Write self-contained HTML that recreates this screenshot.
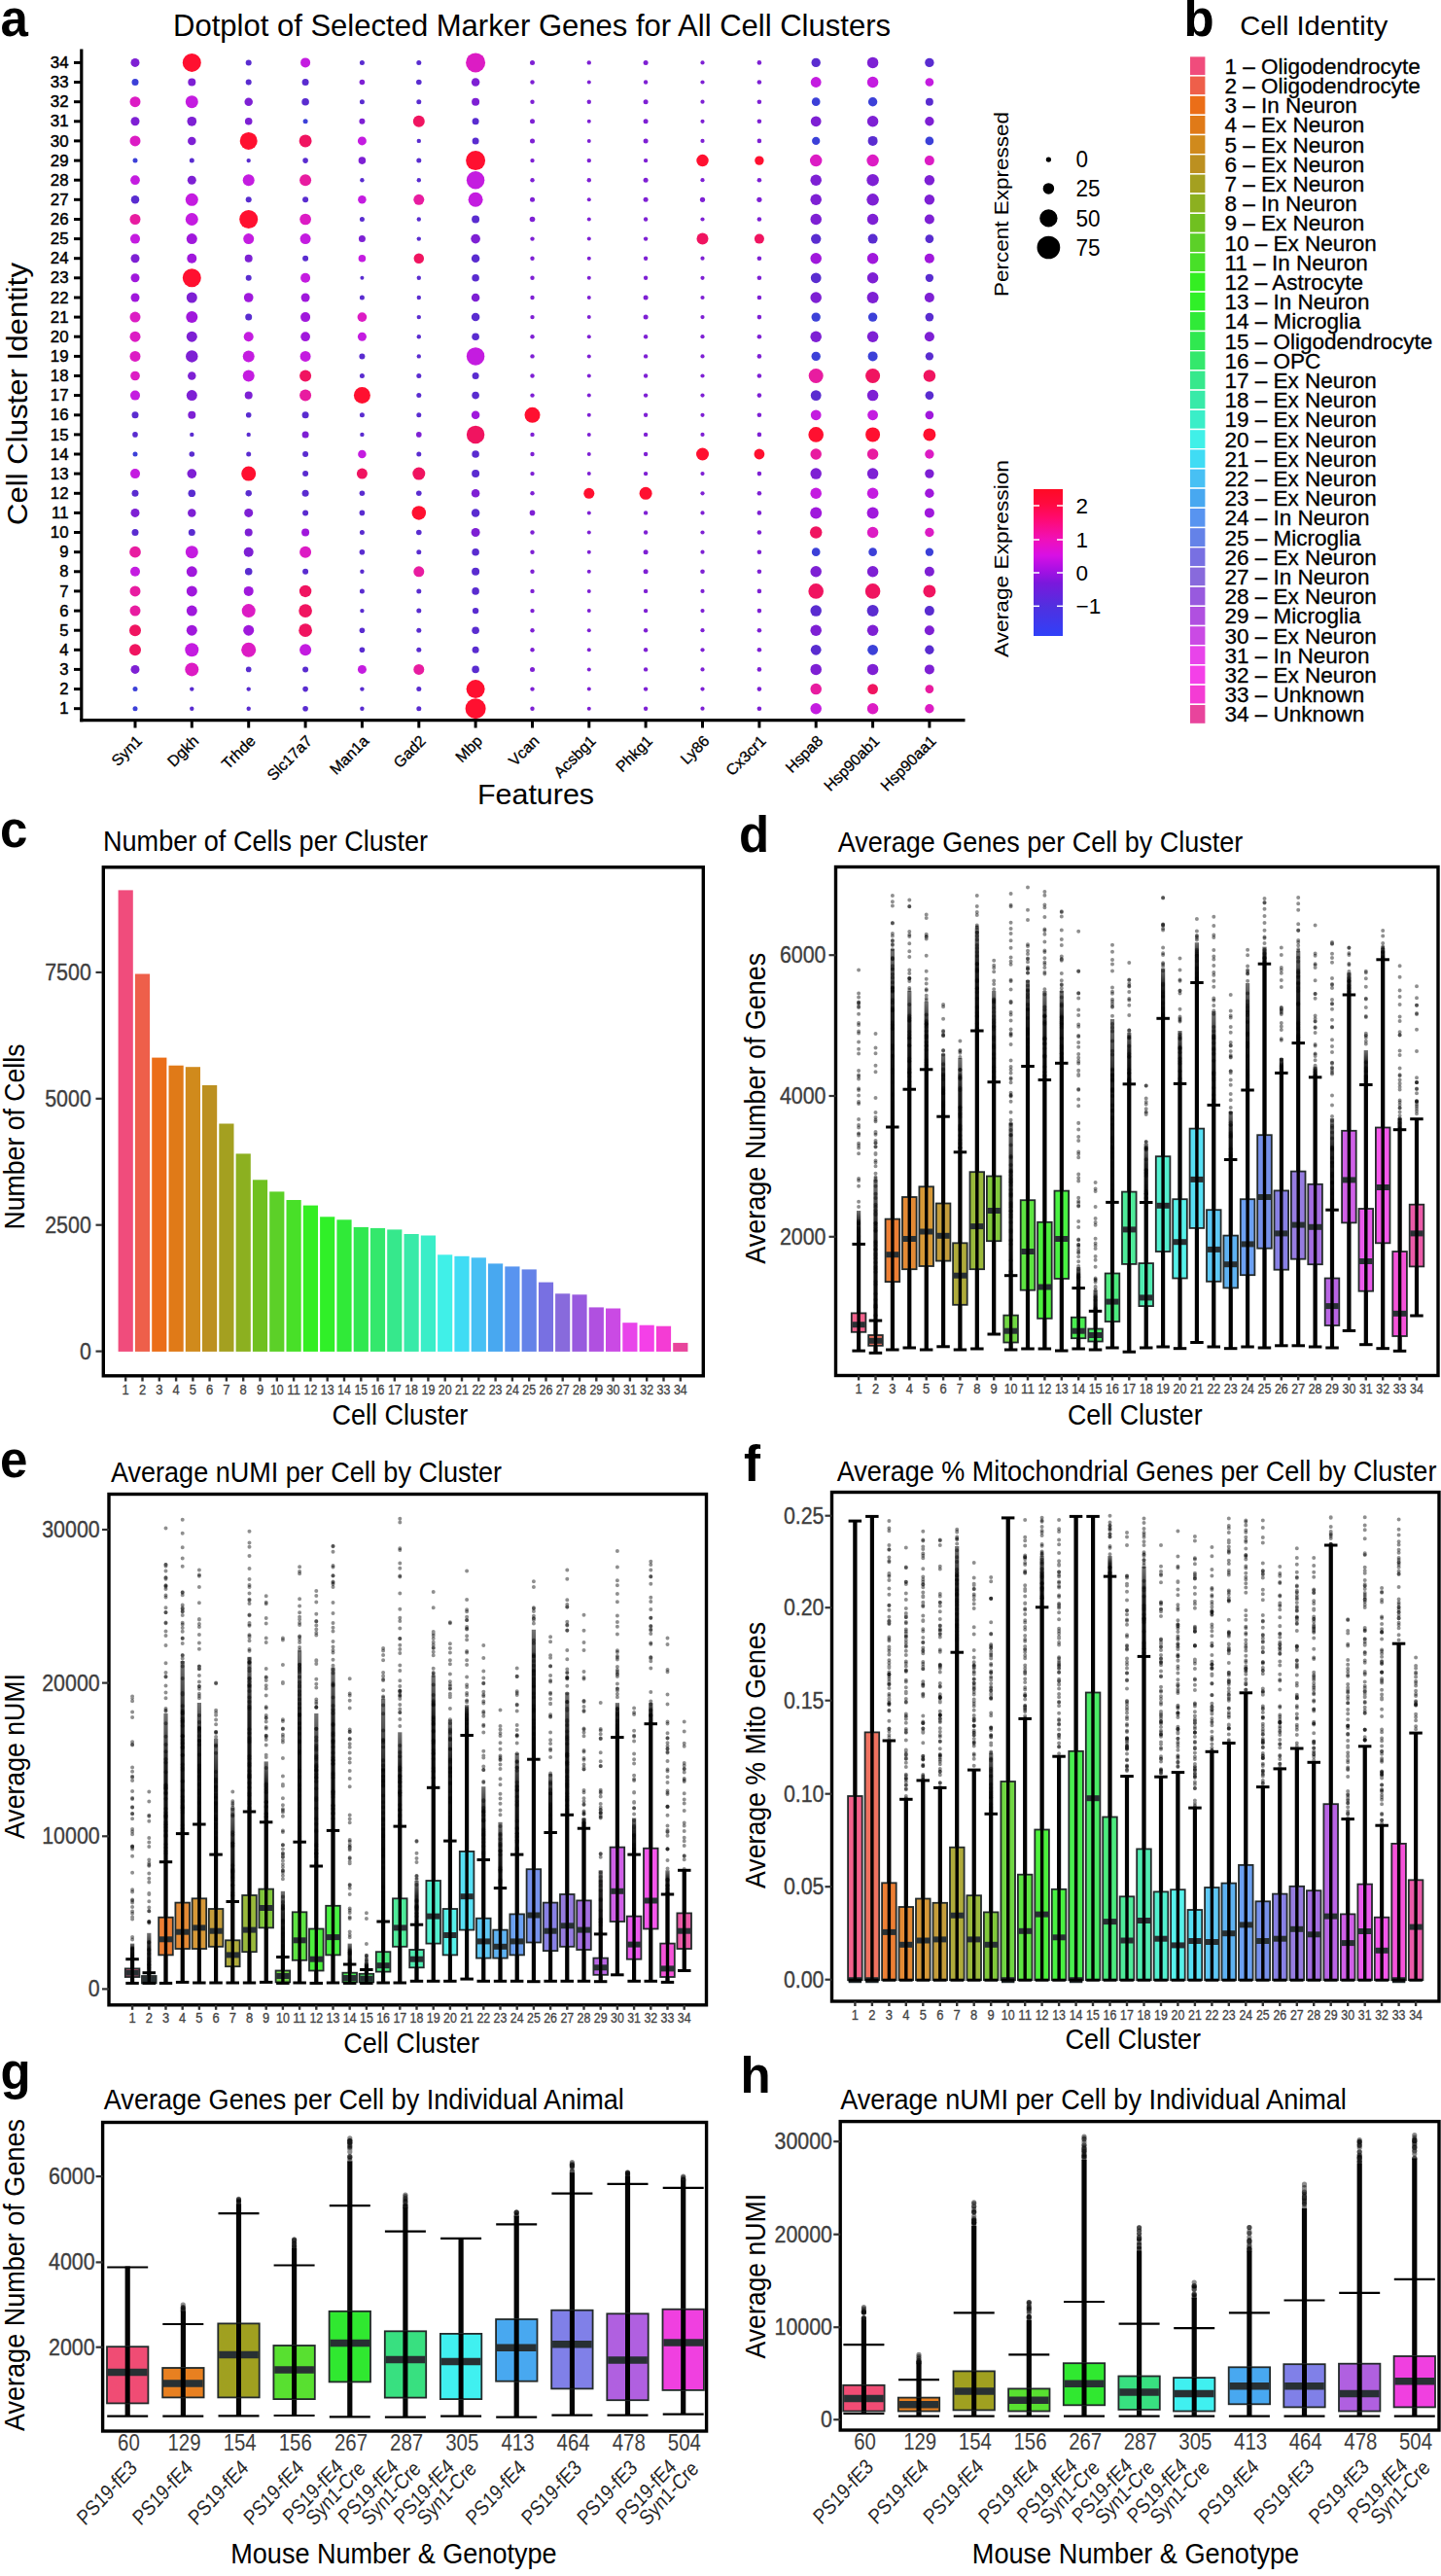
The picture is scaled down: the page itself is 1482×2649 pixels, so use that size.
<!DOCTYPE html>
<html><head><meta charset="utf-8"><title>Figure</title>
<style>html,body{margin:0;padding:0;background:#fff;}svg{display:block;}text{font-family:"Liberation Sans",sans-serif;}</style>
</head><body>
<svg width="1482" height="2649" viewBox="0 0 1482 2649" font-family="Liberation Sans, sans-serif">
<rect x="0.0" y="0.0" width="1482.0" height="2649.0" fill="#fff" />
<defs><linearGradient id="gd" x1="0" y1="0" x2="0" y2="1"><stop offset="0" stop-color="#000" stop-opacity="0.55"/><stop offset="0.35" stop-color="#000" stop-opacity="0.88"/><stop offset="1" stop-color="#000" stop-opacity="1"/></linearGradient></defs>
<text x="0.5" y="37.3" font-size="51" font-weight="bold" >a</text>
<text x="1217.5" y="36.5" font-size="51" font-weight="bold" >b</text>
<text x="0.0" y="871.0" font-size="51" font-weight="bold" >c</text>
<text x="760.0" y="875.5" font-size="51" font-weight="bold" >d</text>
<text x="0.0" y="1518.5" font-size="51" font-weight="bold" >e</text>
<text x="765.0" y="1522.5" font-size="51" font-weight="bold" >f</text>
<text x="0.5" y="2147.5" font-size="51" font-weight="bold" >g</text>
<text x="761.5" y="2151.6" font-size="51" font-weight="bold" >h</text>
<text x="178.0" y="37.0" font-size="30.5" textLength="738.0" lengthAdjust="spacingAndGlyphs" >Dotplot of Selected Marker Genes for All Cell Clusters</text>
<line x1="83.8" y1="50.5" x2="83.8" y2="742.2" stroke="#000" stroke-width="3.2" />
<line x1="82.2" y1="740.6" x2="992.5" y2="740.6" stroke="#000" stroke-width="3.2" />
<line x1="76.0" y1="728.7" x2="83.0" y2="728.7" stroke="#000" stroke-width="3" />
<text x="70.5" y="734.3" font-size="16" text-anchor="end" textLength="9.3" lengthAdjust="spacingAndGlyphs" stroke="#000" stroke-width="0.45">1</text>
<line x1="76.0" y1="708.6" x2="83.0" y2="708.6" stroke="#000" stroke-width="3" />
<text x="70.5" y="714.2" font-size="16" text-anchor="end" textLength="9.3" lengthAdjust="spacingAndGlyphs" stroke="#000" stroke-width="0.45">2</text>
<line x1="76.0" y1="688.4" x2="83.0" y2="688.4" stroke="#000" stroke-width="3" />
<text x="70.5" y="694.0" font-size="16" text-anchor="end" textLength="9.3" lengthAdjust="spacingAndGlyphs" stroke="#000" stroke-width="0.45">3</text>
<line x1="76.0" y1="668.3" x2="83.0" y2="668.3" stroke="#000" stroke-width="3" />
<text x="70.5" y="673.9" font-size="16" text-anchor="end" textLength="9.3" lengthAdjust="spacingAndGlyphs" stroke="#000" stroke-width="0.45">4</text>
<line x1="76.0" y1="648.2" x2="83.0" y2="648.2" stroke="#000" stroke-width="3" />
<text x="70.5" y="653.8" font-size="16" text-anchor="end" textLength="9.3" lengthAdjust="spacingAndGlyphs" stroke="#000" stroke-width="0.45">5</text>
<line x1="76.0" y1="628.1" x2="83.0" y2="628.1" stroke="#000" stroke-width="3" />
<text x="70.5" y="633.7" font-size="16" text-anchor="end" textLength="9.3" lengthAdjust="spacingAndGlyphs" stroke="#000" stroke-width="0.45">6</text>
<line x1="76.0" y1="607.9" x2="83.0" y2="607.9" stroke="#000" stroke-width="3" />
<text x="70.5" y="613.5" font-size="16" text-anchor="end" textLength="9.3" lengthAdjust="spacingAndGlyphs" stroke="#000" stroke-width="0.45">7</text>
<line x1="76.0" y1="587.8" x2="83.0" y2="587.8" stroke="#000" stroke-width="3" />
<text x="70.5" y="593.4" font-size="16" text-anchor="end" textLength="9.3" lengthAdjust="spacingAndGlyphs" stroke="#000" stroke-width="0.45">8</text>
<line x1="76.0" y1="567.7" x2="83.0" y2="567.7" stroke="#000" stroke-width="3" />
<text x="70.5" y="573.3" font-size="16" text-anchor="end" textLength="9.3" lengthAdjust="spacingAndGlyphs" stroke="#000" stroke-width="0.45">9</text>
<line x1="76.0" y1="547.5" x2="83.0" y2="547.5" stroke="#000" stroke-width="3" />
<text x="70.5" y="553.1" font-size="16" text-anchor="end" textLength="18.7" lengthAdjust="spacingAndGlyphs" stroke="#000" stroke-width="0.45">10</text>
<line x1="76.0" y1="527.4" x2="83.0" y2="527.4" stroke="#000" stroke-width="3" />
<text x="70.5" y="533.0" font-size="16" text-anchor="end" textLength="17.4" lengthAdjust="spacingAndGlyphs" stroke="#000" stroke-width="0.45">11</text>
<line x1="76.0" y1="507.3" x2="83.0" y2="507.3" stroke="#000" stroke-width="3" />
<text x="70.5" y="512.9" font-size="16" text-anchor="end" textLength="18.7" lengthAdjust="spacingAndGlyphs" stroke="#000" stroke-width="0.45">12</text>
<line x1="76.0" y1="487.1" x2="83.0" y2="487.1" stroke="#000" stroke-width="3" />
<text x="70.5" y="492.7" font-size="16" text-anchor="end" textLength="18.7" lengthAdjust="spacingAndGlyphs" stroke="#000" stroke-width="0.45">13</text>
<line x1="76.0" y1="467.0" x2="83.0" y2="467.0" stroke="#000" stroke-width="3" />
<text x="70.5" y="472.6" font-size="16" text-anchor="end" textLength="18.7" lengthAdjust="spacingAndGlyphs" stroke="#000" stroke-width="0.45">14</text>
<line x1="76.0" y1="446.9" x2="83.0" y2="446.9" stroke="#000" stroke-width="3" />
<text x="70.5" y="452.5" font-size="16" text-anchor="end" textLength="18.7" lengthAdjust="spacingAndGlyphs" stroke="#000" stroke-width="0.45">15</text>
<line x1="76.0" y1="426.8" x2="83.0" y2="426.8" stroke="#000" stroke-width="3" />
<text x="70.5" y="432.4" font-size="16" text-anchor="end" textLength="18.7" lengthAdjust="spacingAndGlyphs" stroke="#000" stroke-width="0.45">16</text>
<line x1="76.0" y1="406.6" x2="83.0" y2="406.6" stroke="#000" stroke-width="3" />
<text x="70.5" y="412.2" font-size="16" text-anchor="end" textLength="18.7" lengthAdjust="spacingAndGlyphs" stroke="#000" stroke-width="0.45">17</text>
<line x1="76.0" y1="386.5" x2="83.0" y2="386.5" stroke="#000" stroke-width="3" />
<text x="70.5" y="392.1" font-size="16" text-anchor="end" textLength="18.7" lengthAdjust="spacingAndGlyphs" stroke="#000" stroke-width="0.45">18</text>
<line x1="76.0" y1="366.4" x2="83.0" y2="366.4" stroke="#000" stroke-width="3" />
<text x="70.5" y="372.0" font-size="16" text-anchor="end" textLength="18.7" lengthAdjust="spacingAndGlyphs" stroke="#000" stroke-width="0.45">19</text>
<line x1="76.0" y1="346.2" x2="83.0" y2="346.2" stroke="#000" stroke-width="3" />
<text x="70.5" y="351.8" font-size="16" text-anchor="end" textLength="18.7" lengthAdjust="spacingAndGlyphs" stroke="#000" stroke-width="0.45">20</text>
<line x1="76.0" y1="326.1" x2="83.0" y2="326.1" stroke="#000" stroke-width="3" />
<text x="70.5" y="331.7" font-size="16" text-anchor="end" textLength="18.7" lengthAdjust="spacingAndGlyphs" stroke="#000" stroke-width="0.45">21</text>
<line x1="76.0" y1="306.0" x2="83.0" y2="306.0" stroke="#000" stroke-width="3" />
<text x="70.5" y="311.6" font-size="16" text-anchor="end" textLength="18.7" lengthAdjust="spacingAndGlyphs" stroke="#000" stroke-width="0.45">22</text>
<line x1="76.0" y1="285.8" x2="83.0" y2="285.8" stroke="#000" stroke-width="3" />
<text x="70.5" y="291.4" font-size="16" text-anchor="end" textLength="18.7" lengthAdjust="spacingAndGlyphs" stroke="#000" stroke-width="0.45">23</text>
<line x1="76.0" y1="265.7" x2="83.0" y2="265.7" stroke="#000" stroke-width="3" />
<text x="70.5" y="271.3" font-size="16" text-anchor="end" textLength="18.7" lengthAdjust="spacingAndGlyphs" stroke="#000" stroke-width="0.45">24</text>
<line x1="76.0" y1="245.6" x2="83.0" y2="245.6" stroke="#000" stroke-width="3" />
<text x="70.5" y="251.2" font-size="16" text-anchor="end" textLength="18.7" lengthAdjust="spacingAndGlyphs" stroke="#000" stroke-width="0.45">25</text>
<line x1="76.0" y1="225.5" x2="83.0" y2="225.5" stroke="#000" stroke-width="3" />
<text x="70.5" y="231.1" font-size="16" text-anchor="end" textLength="18.7" lengthAdjust="spacingAndGlyphs" stroke="#000" stroke-width="0.45">26</text>
<line x1="76.0" y1="205.3" x2="83.0" y2="205.3" stroke="#000" stroke-width="3" />
<text x="70.5" y="210.9" font-size="16" text-anchor="end" textLength="18.7" lengthAdjust="spacingAndGlyphs" stroke="#000" stroke-width="0.45">27</text>
<line x1="76.0" y1="185.2" x2="83.0" y2="185.2" stroke="#000" stroke-width="3" />
<text x="70.5" y="190.8" font-size="16" text-anchor="end" textLength="18.7" lengthAdjust="spacingAndGlyphs" stroke="#000" stroke-width="0.45">28</text>
<line x1="76.0" y1="165.1" x2="83.0" y2="165.1" stroke="#000" stroke-width="3" />
<text x="70.5" y="170.7" font-size="16" text-anchor="end" textLength="18.7" lengthAdjust="spacingAndGlyphs" stroke="#000" stroke-width="0.45">29</text>
<line x1="76.0" y1="144.9" x2="83.0" y2="144.9" stroke="#000" stroke-width="3" />
<text x="70.5" y="150.5" font-size="16" text-anchor="end" textLength="18.7" lengthAdjust="spacingAndGlyphs" stroke="#000" stroke-width="0.45">30</text>
<line x1="76.0" y1="124.8" x2="83.0" y2="124.8" stroke="#000" stroke-width="3" />
<text x="70.5" y="130.4" font-size="16" text-anchor="end" textLength="18.7" lengthAdjust="spacingAndGlyphs" stroke="#000" stroke-width="0.45">31</text>
<line x1="76.0" y1="104.7" x2="83.0" y2="104.7" stroke="#000" stroke-width="3" />
<text x="70.5" y="110.3" font-size="16" text-anchor="end" textLength="18.7" lengthAdjust="spacingAndGlyphs" stroke="#000" stroke-width="0.45">32</text>
<line x1="76.0" y1="84.5" x2="83.0" y2="84.5" stroke="#000" stroke-width="3" />
<text x="70.5" y="90.1" font-size="16" text-anchor="end" textLength="18.7" lengthAdjust="spacingAndGlyphs" stroke="#000" stroke-width="0.45">33</text>
<line x1="76.0" y1="64.4" x2="83.0" y2="64.4" stroke="#000" stroke-width="3" />
<text x="70.5" y="70.0" font-size="16" text-anchor="end" textLength="18.7" lengthAdjust="spacingAndGlyphs" stroke="#000" stroke-width="0.45">34</text>
<line x1="139.0" y1="741.0" x2="139.0" y2="748.5" stroke="#000" stroke-width="3" />
<text transform="translate(147.0,763.0) rotate(-45)" font-size="16" text-anchor="end" textLength="36.5" lengthAdjust="spacingAndGlyphs" stroke="#000" stroke-width="0.3">Syn1</text>
<line x1="197.3" y1="741.0" x2="197.3" y2="748.5" stroke="#000" stroke-width="3" />
<text transform="translate(205.3,763.0) rotate(-45)" font-size="16" text-anchor="end" textLength="37.4" lengthAdjust="spacingAndGlyphs" stroke="#000" stroke-width="0.3">Dgkh</text>
<line x1="255.7" y1="741.0" x2="255.7" y2="748.5" stroke="#000" stroke-width="3" />
<text transform="translate(263.7,763.0) rotate(-45)" font-size="16" text-anchor="end" textLength="41.2" lengthAdjust="spacingAndGlyphs" stroke="#000" stroke-width="0.3">Trhde</text>
<line x1="314.1" y1="741.0" x2="314.1" y2="748.5" stroke="#000" stroke-width="3" />
<text transform="translate(322.1,763.0) rotate(-45)" font-size="16" text-anchor="end" textLength="57.8" lengthAdjust="spacingAndGlyphs" stroke="#000" stroke-width="0.3">Slc17a7</text>
<line x1="372.4" y1="741.0" x2="372.4" y2="748.5" stroke="#000" stroke-width="3" />
<text transform="translate(380.4,763.0) rotate(-45)" font-size="16" text-anchor="end" textLength="48.9" lengthAdjust="spacingAndGlyphs" stroke="#000" stroke-width="0.3">Man1a</text>
<line x1="430.8" y1="741.0" x2="430.8" y2="748.5" stroke="#000" stroke-width="3" />
<text transform="translate(438.8,763.0) rotate(-45)" font-size="16" text-anchor="end" textLength="39.1" lengthAdjust="spacingAndGlyphs" stroke="#000" stroke-width="0.3">Gad2</text>
<line x1="489.1" y1="741.0" x2="489.1" y2="748.5" stroke="#000" stroke-width="3" />
<text transform="translate(497.1,763.0) rotate(-45)" font-size="16" text-anchor="end" textLength="31.1" lengthAdjust="spacingAndGlyphs" stroke="#000" stroke-width="0.3">Mbp</text>
<line x1="547.5" y1="741.0" x2="547.5" y2="748.5" stroke="#000" stroke-width="3" />
<text transform="translate(555.5,763.0) rotate(-45)" font-size="16" text-anchor="end" textLength="36.5" lengthAdjust="spacingAndGlyphs" stroke="#000" stroke-width="0.3">Vcan</text>
<line x1="605.8" y1="741.0" x2="605.8" y2="748.5" stroke="#000" stroke-width="3" />
<text transform="translate(613.8,763.0) rotate(-45)" font-size="16" text-anchor="end" textLength="53.4" lengthAdjust="spacingAndGlyphs" stroke="#000" stroke-width="0.3">Acsbg1</text>
<line x1="664.1" y1="741.0" x2="664.1" y2="748.5" stroke="#000" stroke-width="3" />
<text transform="translate(672.1,763.0) rotate(-45)" font-size="16" text-anchor="end" textLength="45.4" lengthAdjust="spacingAndGlyphs" stroke="#000" stroke-width="0.3">Phkg1</text>
<line x1="722.5" y1="741.0" x2="722.5" y2="748.5" stroke="#000" stroke-width="3" />
<text transform="translate(730.5,763.0) rotate(-45)" font-size="16" text-anchor="end" textLength="34.1" lengthAdjust="spacingAndGlyphs" stroke="#000" stroke-width="0.3">Ly86</text>
<line x1="780.9" y1="741.0" x2="780.9" y2="748.5" stroke="#000" stroke-width="3" />
<text transform="translate(788.9,763.0) rotate(-45)" font-size="16" text-anchor="end" textLength="50.7" lengthAdjust="spacingAndGlyphs" stroke="#000" stroke-width="0.3">Cx3cr1</text>
<line x1="839.2" y1="741.0" x2="839.2" y2="748.5" stroke="#000" stroke-width="3" />
<text transform="translate(847.2,763.0) rotate(-45)" font-size="16" text-anchor="end" textLength="46.3" lengthAdjust="spacingAndGlyphs" stroke="#000" stroke-width="0.3">Hspa8</text>
<line x1="897.6" y1="741.0" x2="897.6" y2="748.5" stroke="#000" stroke-width="3" />
<text transform="translate(905.6,763.0) rotate(-45)" font-size="16" text-anchor="end" textLength="72.9" lengthAdjust="spacingAndGlyphs" stroke="#000" stroke-width="0.3">Hsp90ab1</text>
<line x1="955.9" y1="741.0" x2="955.9" y2="748.5" stroke="#000" stroke-width="3" />
<text transform="translate(963.9,763.0) rotate(-45)" font-size="16" text-anchor="end" textLength="72.9" lengthAdjust="spacingAndGlyphs" stroke="#000" stroke-width="0.3">Hsp90aa1</text>
<text transform="translate(27.5,405) rotate(-90)" font-size="30" text-anchor="middle" textLength="270" lengthAdjust="spacingAndGlyphs">Cell Cluster Identity</text>
<text x="491.0" y="826.8" font-size="30" textLength="120.0" lengthAdjust="spacingAndGlyphs" >Features</text>
<circle cx="139.0" cy="64.4" r="4.50" fill="#7E20D4"/>
<circle cx="197.3" cy="64.4" r="9.50" fill="#FF1030"/>
<circle cx="255.7" cy="64.4" r="3.00" fill="#5A2CD0"/>
<circle cx="314.1" cy="64.4" r="5.00" fill="#C41CE0"/>
<circle cx="372.4" cy="64.4" r="2.50" fill="#5A2CD0"/>
<circle cx="430.8" cy="64.4" r="2.50" fill="#5A2CD0"/>
<circle cx="489.1" cy="64.4" r="10.00" fill="#DC1CC4"/>
<circle cx="547.5" cy="64.4" r="2.50" fill="#7E20D4"/>
<circle cx="605.8" cy="64.4" r="2.20" fill="#7E20D4"/>
<circle cx="664.1" cy="64.4" r="2.50" fill="#7E20D4"/>
<circle cx="722.5" cy="64.4" r="2.10" fill="#7E20D4"/>
<circle cx="780.9" cy="64.4" r="2.30" fill="#7E20D4"/>
<circle cx="839.2" cy="64.4" r="4.70" fill="#5A2CD0"/>
<circle cx="897.6" cy="64.4" r="5.75" fill="#7E20D4"/>
<circle cx="955.9" cy="64.4" r="4.70" fill="#5A2CD0"/>
<circle cx="139.0" cy="84.5" r="3.50" fill="#3C40D8"/>
<circle cx="197.3" cy="84.5" r="4.00" fill="#7E20D4"/>
<circle cx="255.7" cy="84.5" r="3.00" fill="#5A2CD0"/>
<circle cx="314.1" cy="84.5" r="3.50" fill="#5A2CD0"/>
<circle cx="372.4" cy="84.5" r="2.80" fill="#7E20D4"/>
<circle cx="430.8" cy="84.5" r="2.80" fill="#5A2CD0"/>
<circle cx="489.1" cy="84.5" r="4.25" fill="#7E20D4"/>
<circle cx="547.5" cy="84.5" r="2.20" fill="#7E20D4"/>
<circle cx="605.8" cy="84.5" r="2.00" fill="#7E20D4"/>
<circle cx="664.1" cy="84.5" r="2.20" fill="#7E20D4"/>
<circle cx="722.5" cy="84.5" r="2.10" fill="#7E20D4"/>
<circle cx="780.9" cy="84.5" r="2.30" fill="#7E20D4"/>
<circle cx="839.2" cy="84.5" r="5.40" fill="#C41CE0"/>
<circle cx="897.6" cy="84.5" r="5.75" fill="#C41CE0"/>
<circle cx="955.9" cy="84.5" r="4.35" fill="#C41CE0"/>
<circle cx="139.0" cy="104.7" r="5.50" fill="#DC1CC4"/>
<circle cx="197.3" cy="104.7" r="6.50" fill="#C41CE0"/>
<circle cx="255.7" cy="104.7" r="4.25" fill="#7E20D4"/>
<circle cx="314.1" cy="104.7" r="3.80" fill="#5A2CD0"/>
<circle cx="372.4" cy="104.7" r="2.50" fill="#5A2CD0"/>
<circle cx="430.8" cy="104.7" r="2.50" fill="#5A2CD0"/>
<circle cx="489.1" cy="104.7" r="4.00" fill="#7E20D4"/>
<circle cx="547.5" cy="104.7" r="2.20" fill="#7E20D4"/>
<circle cx="605.8" cy="104.7" r="2.20" fill="#7E20D4"/>
<circle cx="664.1" cy="104.7" r="2.50" fill="#7E20D4"/>
<circle cx="722.5" cy="104.7" r="2.10" fill="#7E20D4"/>
<circle cx="780.9" cy="104.7" r="2.30" fill="#7E20D4"/>
<circle cx="839.2" cy="104.7" r="4.35" fill="#3C40D8"/>
<circle cx="897.6" cy="104.7" r="4.70" fill="#3C40D8"/>
<circle cx="955.9" cy="104.7" r="3.95" fill="#5A2CD0"/>
<circle cx="139.0" cy="124.8" r="4.50" fill="#7E20D4"/>
<circle cx="197.3" cy="124.8" r="4.85" fill="#7E20D4"/>
<circle cx="255.7" cy="124.8" r="3.80" fill="#7E20D4"/>
<circle cx="314.1" cy="124.8" r="2.50" fill="#3C40D8"/>
<circle cx="372.4" cy="124.8" r="3.00" fill="#7E20D4"/>
<circle cx="430.8" cy="124.8" r="6.00" fill="#F01460"/>
<circle cx="489.1" cy="124.8" r="3.50" fill="#5A2CD0"/>
<circle cx="547.5" cy="124.8" r="2.50" fill="#7E20D4"/>
<circle cx="605.8" cy="124.8" r="2.00" fill="#7E20D4"/>
<circle cx="664.1" cy="124.8" r="2.50" fill="#7E20D4"/>
<circle cx="722.5" cy="124.8" r="2.10" fill="#7E20D4"/>
<circle cx="780.9" cy="124.8" r="2.30" fill="#7E20D4"/>
<circle cx="839.2" cy="124.8" r="5.40" fill="#7E20D4"/>
<circle cx="897.6" cy="124.8" r="5.75" fill="#7E20D4"/>
<circle cx="955.9" cy="124.8" r="4.70" fill="#7E20D4"/>
<circle cx="139.0" cy="144.9" r="5.50" fill="#DC1CC4"/>
<circle cx="197.3" cy="144.9" r="4.25" fill="#7E20D4"/>
<circle cx="255.7" cy="144.9" r="9.00" fill="#FF1030"/>
<circle cx="314.1" cy="144.9" r="6.50" fill="#F01460"/>
<circle cx="372.4" cy="144.9" r="4.50" fill="#C41CE0"/>
<circle cx="430.8" cy="144.9" r="2.20" fill="#5A2CD0"/>
<circle cx="489.1" cy="144.9" r="3.50" fill="#5A2CD0"/>
<circle cx="547.5" cy="144.9" r="2.50" fill="#7E20D4"/>
<circle cx="605.8" cy="144.9" r="2.00" fill="#7E20D4"/>
<circle cx="664.1" cy="144.9" r="2.50" fill="#7E20D4"/>
<circle cx="722.5" cy="144.9" r="2.10" fill="#7E20D4"/>
<circle cx="780.9" cy="144.9" r="2.30" fill="#7E20D4"/>
<circle cx="839.2" cy="144.9" r="4.15" fill="#3C40D8"/>
<circle cx="897.6" cy="144.9" r="5.00" fill="#5A2CD0"/>
<circle cx="955.9" cy="144.9" r="4.35" fill="#3C40D8"/>
<circle cx="139.0" cy="165.1" r="2.50" fill="#3C40D8"/>
<circle cx="197.3" cy="165.1" r="2.50" fill="#5A2CD0"/>
<circle cx="255.7" cy="165.1" r="2.20" fill="#5A2CD0"/>
<circle cx="314.1" cy="165.1" r="2.80" fill="#5A2CD0"/>
<circle cx="372.4" cy="165.1" r="3.80" fill="#7E20D4"/>
<circle cx="430.8" cy="165.1" r="2.50" fill="#5A2CD0"/>
<circle cx="489.1" cy="165.1" r="10.00" fill="#FF1030"/>
<circle cx="547.5" cy="165.1" r="2.20" fill="#7E20D4"/>
<circle cx="605.8" cy="165.1" r="2.20" fill="#7E20D4"/>
<circle cx="664.1" cy="165.1" r="2.20" fill="#7E20D4"/>
<circle cx="722.5" cy="165.1" r="6.25" fill="#FF1030"/>
<circle cx="780.9" cy="165.1" r="4.70" fill="#FF1030"/>
<circle cx="839.2" cy="165.1" r="6.25" fill="#DC1CC4"/>
<circle cx="897.6" cy="165.1" r="6.25" fill="#DC1CC4"/>
<circle cx="955.9" cy="165.1" r="5.00" fill="#DC1CC4"/>
<circle cx="139.0" cy="185.2" r="4.85" fill="#C41CE0"/>
<circle cx="197.3" cy="185.2" r="4.50" fill="#7E20D4"/>
<circle cx="255.7" cy="185.2" r="6.00" fill="#C41CE0"/>
<circle cx="314.1" cy="185.2" r="6.00" fill="#E81CA0"/>
<circle cx="372.4" cy="185.2" r="2.20" fill="#5A2CD0"/>
<circle cx="430.8" cy="185.2" r="2.20" fill="#5A2CD0"/>
<circle cx="489.1" cy="185.2" r="9.25" fill="#C41CE0"/>
<circle cx="547.5" cy="185.2" r="2.20" fill="#7E20D4"/>
<circle cx="605.8" cy="185.2" r="2.20" fill="#7E20D4"/>
<circle cx="664.1" cy="185.2" r="2.50" fill="#7E20D4"/>
<circle cx="722.5" cy="185.2" r="2.10" fill="#7E20D4"/>
<circle cx="780.9" cy="185.2" r="2.30" fill="#7E20D4"/>
<circle cx="839.2" cy="185.2" r="5.75" fill="#7E20D4"/>
<circle cx="897.6" cy="185.2" r="6.25" fill="#7E20D4"/>
<circle cx="955.9" cy="185.2" r="5.20" fill="#7E20D4"/>
<circle cx="139.0" cy="205.3" r="4.25" fill="#5A2CD0"/>
<circle cx="197.3" cy="205.3" r="6.50" fill="#C41CE0"/>
<circle cx="255.7" cy="205.3" r="3.00" fill="#5A2CD0"/>
<circle cx="314.1" cy="205.3" r="3.00" fill="#5A2CD0"/>
<circle cx="372.4" cy="205.3" r="4.25" fill="#C41CE0"/>
<circle cx="430.8" cy="205.3" r="5.50" fill="#E81CA0"/>
<circle cx="489.1" cy="205.3" r="7.50" fill="#C41CE0"/>
<circle cx="547.5" cy="205.3" r="2.50" fill="#7E20D4"/>
<circle cx="605.8" cy="205.3" r="2.00" fill="#7E20D4"/>
<circle cx="664.1" cy="205.3" r="2.50" fill="#7E20D4"/>
<circle cx="722.5" cy="205.3" r="2.60" fill="#7E20D4"/>
<circle cx="780.9" cy="205.3" r="2.60" fill="#7E20D4"/>
<circle cx="839.2" cy="205.3" r="5.75" fill="#7E20D4"/>
<circle cx="897.6" cy="205.3" r="6.25" fill="#7E20D4"/>
<circle cx="955.9" cy="205.3" r="5.20" fill="#7E20D4"/>
<circle cx="139.0" cy="225.5" r="5.50" fill="#E81CA0"/>
<circle cx="197.3" cy="225.5" r="6.50" fill="#C41CE0"/>
<circle cx="255.7" cy="225.5" r="9.50" fill="#FF1030"/>
<circle cx="314.1" cy="225.5" r="5.85" fill="#DC1CC4"/>
<circle cx="372.4" cy="225.5" r="2.50" fill="#5A2CD0"/>
<circle cx="430.8" cy="225.5" r="2.20" fill="#5A2CD0"/>
<circle cx="489.1" cy="225.5" r="4.00" fill="#5A2CD0"/>
<circle cx="547.5" cy="225.5" r="2.80" fill="#7E20D4"/>
<circle cx="605.8" cy="225.5" r="2.00" fill="#7E20D4"/>
<circle cx="664.1" cy="225.5" r="2.20" fill="#7E20D4"/>
<circle cx="722.5" cy="225.5" r="2.10" fill="#7E20D4"/>
<circle cx="780.9" cy="225.5" r="2.30" fill="#7E20D4"/>
<circle cx="839.2" cy="225.5" r="5.75" fill="#7E20D4"/>
<circle cx="897.6" cy="225.5" r="5.75" fill="#7E20D4"/>
<circle cx="955.9" cy="225.5" r="5.00" fill="#7E20D4"/>
<circle cx="139.0" cy="245.6" r="5.00" fill="#C41CE0"/>
<circle cx="197.3" cy="245.6" r="5.50" fill="#A018DC"/>
<circle cx="255.7" cy="245.6" r="5.50" fill="#C41CE0"/>
<circle cx="314.1" cy="245.6" r="5.50" fill="#C41CE0"/>
<circle cx="372.4" cy="245.6" r="3.50" fill="#7E20D4"/>
<circle cx="430.8" cy="245.6" r="2.20" fill="#5A2CD0"/>
<circle cx="489.1" cy="245.6" r="4.85" fill="#7E20D4"/>
<circle cx="547.5" cy="245.6" r="2.20" fill="#7E20D4"/>
<circle cx="605.8" cy="245.6" r="2.00" fill="#7E20D4"/>
<circle cx="664.1" cy="245.6" r="2.20" fill="#7E20D4"/>
<circle cx="722.5" cy="245.6" r="6.00" fill="#F01460"/>
<circle cx="780.9" cy="245.6" r="5.00" fill="#F01460"/>
<circle cx="839.2" cy="245.6" r="5.20" fill="#5A2CD0"/>
<circle cx="897.6" cy="245.6" r="5.00" fill="#5A2CD0"/>
<circle cx="955.9" cy="245.6" r="4.35" fill="#5A2CD0"/>
<circle cx="139.0" cy="265.7" r="4.50" fill="#7E20D4"/>
<circle cx="197.3" cy="265.7" r="5.00" fill="#A018DC"/>
<circle cx="255.7" cy="265.7" r="4.00" fill="#7E20D4"/>
<circle cx="314.1" cy="265.7" r="3.00" fill="#5A2CD0"/>
<circle cx="372.4" cy="265.7" r="3.80" fill="#C41CE0"/>
<circle cx="430.8" cy="265.7" r="5.25" fill="#F01460"/>
<circle cx="489.1" cy="265.7" r="4.25" fill="#5A2CD0"/>
<circle cx="547.5" cy="265.7" r="2.20" fill="#7E20D4"/>
<circle cx="605.8" cy="265.7" r="2.00" fill="#7E20D4"/>
<circle cx="664.1" cy="265.7" r="2.20" fill="#7E20D4"/>
<circle cx="722.5" cy="265.7" r="2.10" fill="#7E20D4"/>
<circle cx="780.9" cy="265.7" r="2.30" fill="#7E20D4"/>
<circle cx="839.2" cy="265.7" r="5.75" fill="#A018DC"/>
<circle cx="897.6" cy="265.7" r="5.75" fill="#A018DC"/>
<circle cx="955.9" cy="265.7" r="5.00" fill="#A018DC"/>
<circle cx="139.0" cy="285.8" r="4.50" fill="#A018DC"/>
<circle cx="197.3" cy="285.8" r="9.50" fill="#FF1030"/>
<circle cx="255.7" cy="285.8" r="3.00" fill="#5A2CD0"/>
<circle cx="314.1" cy="285.8" r="5.00" fill="#C41CE0"/>
<circle cx="372.4" cy="285.8" r="2.00" fill="#5A2CD0"/>
<circle cx="430.8" cy="285.8" r="2.20" fill="#5A2CD0"/>
<circle cx="489.1" cy="285.8" r="3.80" fill="#5A2CD0"/>
<circle cx="547.5" cy="285.8" r="2.20" fill="#7E20D4"/>
<circle cx="605.8" cy="285.8" r="2.00" fill="#7E20D4"/>
<circle cx="664.1" cy="285.8" r="2.20" fill="#7E20D4"/>
<circle cx="722.5" cy="285.8" r="2.10" fill="#7E20D4"/>
<circle cx="780.9" cy="285.8" r="2.30" fill="#7E20D4"/>
<circle cx="839.2" cy="285.8" r="5.40" fill="#5A2CD0"/>
<circle cx="897.6" cy="285.8" r="5.75" fill="#7E20D4"/>
<circle cx="955.9" cy="285.8" r="4.15" fill="#5A2CD0"/>
<circle cx="139.0" cy="306.0" r="4.50" fill="#A018DC"/>
<circle cx="197.3" cy="306.0" r="5.50" fill="#7E20D4"/>
<circle cx="255.7" cy="306.0" r="4.85" fill="#A018DC"/>
<circle cx="314.1" cy="306.0" r="4.50" fill="#A018DC"/>
<circle cx="372.4" cy="306.0" r="2.50" fill="#5A2CD0"/>
<circle cx="430.8" cy="306.0" r="2.20" fill="#5A2CD0"/>
<circle cx="489.1" cy="306.0" r="4.25" fill="#7E20D4"/>
<circle cx="547.5" cy="306.0" r="2.20" fill="#7E20D4"/>
<circle cx="605.8" cy="306.0" r="2.00" fill="#7E20D4"/>
<circle cx="664.1" cy="306.0" r="2.50" fill="#7E20D4"/>
<circle cx="722.5" cy="306.0" r="2.10" fill="#7E20D4"/>
<circle cx="780.9" cy="306.0" r="2.30" fill="#7E20D4"/>
<circle cx="839.2" cy="306.0" r="5.75" fill="#7E20D4"/>
<circle cx="897.6" cy="306.0" r="6.00" fill="#7E20D4"/>
<circle cx="955.9" cy="306.0" r="5.00" fill="#7E20D4"/>
<circle cx="139.0" cy="326.1" r="5.50" fill="#DC1CC4"/>
<circle cx="197.3" cy="326.1" r="6.00" fill="#A018DC"/>
<circle cx="255.7" cy="326.1" r="3.50" fill="#5A2CD0"/>
<circle cx="314.1" cy="326.1" r="5.00" fill="#A018DC"/>
<circle cx="372.4" cy="326.1" r="4.85" fill="#DC1CC4"/>
<circle cx="430.8" cy="326.1" r="2.20" fill="#5A2CD0"/>
<circle cx="489.1" cy="326.1" r="4.25" fill="#5A2CD0"/>
<circle cx="547.5" cy="326.1" r="2.20" fill="#7E20D4"/>
<circle cx="605.8" cy="326.1" r="2.00" fill="#7E20D4"/>
<circle cx="664.1" cy="326.1" r="2.50" fill="#7E20D4"/>
<circle cx="722.5" cy="326.1" r="2.10" fill="#7E20D4"/>
<circle cx="780.9" cy="326.1" r="2.30" fill="#7E20D4"/>
<circle cx="839.2" cy="326.1" r="4.70" fill="#3C40D8"/>
<circle cx="897.6" cy="326.1" r="4.70" fill="#3C40D8"/>
<circle cx="955.9" cy="326.1" r="4.35" fill="#5A2CD0"/>
<circle cx="139.0" cy="346.2" r="5.50" fill="#DC1CC4"/>
<circle cx="197.3" cy="346.2" r="5.50" fill="#7E20D4"/>
<circle cx="255.7" cy="346.2" r="5.00" fill="#C41CE0"/>
<circle cx="314.1" cy="346.2" r="4.85" fill="#A018DC"/>
<circle cx="372.4" cy="346.2" r="4.50" fill="#C41CE0"/>
<circle cx="430.8" cy="346.2" r="2.20" fill="#5A2CD0"/>
<circle cx="489.1" cy="346.2" r="3.80" fill="#5A2CD0"/>
<circle cx="547.5" cy="346.2" r="2.20" fill="#7E20D4"/>
<circle cx="605.8" cy="346.2" r="2.00" fill="#7E20D4"/>
<circle cx="664.1" cy="346.2" r="2.20" fill="#7E20D4"/>
<circle cx="722.5" cy="346.2" r="2.10" fill="#7E20D4"/>
<circle cx="780.9" cy="346.2" r="2.30" fill="#7E20D4"/>
<circle cx="839.2" cy="346.2" r="5.75" fill="#7E20D4"/>
<circle cx="897.6" cy="346.2" r="5.75" fill="#7E20D4"/>
<circle cx="955.9" cy="346.2" r="5.00" fill="#7E20D4"/>
<circle cx="139.0" cy="366.4" r="5.50" fill="#DC1CC4"/>
<circle cx="197.3" cy="366.4" r="6.25" fill="#7E20D4"/>
<circle cx="255.7" cy="366.4" r="6.00" fill="#C41CE0"/>
<circle cx="314.1" cy="366.4" r="5.50" fill="#C41CE0"/>
<circle cx="372.4" cy="366.4" r="3.00" fill="#5A2CD0"/>
<circle cx="430.8" cy="366.4" r="2.20" fill="#5A2CD0"/>
<circle cx="489.1" cy="366.4" r="9.25" fill="#C41CE0"/>
<circle cx="547.5" cy="366.4" r="2.20" fill="#7E20D4"/>
<circle cx="605.8" cy="366.4" r="2.00" fill="#7E20D4"/>
<circle cx="664.1" cy="366.4" r="2.20" fill="#7E20D4"/>
<circle cx="722.5" cy="366.4" r="2.10" fill="#7E20D4"/>
<circle cx="780.9" cy="366.4" r="2.30" fill="#7E20D4"/>
<circle cx="839.2" cy="366.4" r="4.70" fill="#3C40D8"/>
<circle cx="897.6" cy="366.4" r="5.00" fill="#3C40D8"/>
<circle cx="955.9" cy="366.4" r="4.15" fill="#5A2CD0"/>
<circle cx="139.0" cy="386.5" r="4.85" fill="#DC1CC4"/>
<circle cx="197.3" cy="386.5" r="4.25" fill="#7E20D4"/>
<circle cx="255.7" cy="386.5" r="6.00" fill="#C41CE0"/>
<circle cx="314.1" cy="386.5" r="6.00" fill="#F01460"/>
<circle cx="372.4" cy="386.5" r="2.50" fill="#5A2CD0"/>
<circle cx="430.8" cy="386.5" r="2.50" fill="#5A2CD0"/>
<circle cx="489.1" cy="386.5" r="3.50" fill="#5A2CD0"/>
<circle cx="547.5" cy="386.5" r="2.20" fill="#7E20D4"/>
<circle cx="605.8" cy="386.5" r="2.00" fill="#7E20D4"/>
<circle cx="664.1" cy="386.5" r="2.20" fill="#7E20D4"/>
<circle cx="722.5" cy="386.5" r="2.10" fill="#7E20D4"/>
<circle cx="780.9" cy="386.5" r="2.30" fill="#7E20D4"/>
<circle cx="839.2" cy="386.5" r="7.50" fill="#E81CA0"/>
<circle cx="897.6" cy="386.5" r="7.50" fill="#F01460"/>
<circle cx="955.9" cy="386.5" r="6.25" fill="#F01460"/>
<circle cx="139.0" cy="406.6" r="5.00" fill="#C41CE0"/>
<circle cx="197.3" cy="406.6" r="5.50" fill="#7E20D4"/>
<circle cx="255.7" cy="406.6" r="4.00" fill="#7E20D4"/>
<circle cx="314.1" cy="406.6" r="6.00" fill="#E81CA0"/>
<circle cx="372.4" cy="406.6" r="8.50" fill="#FF1030"/>
<circle cx="430.8" cy="406.6" r="2.50" fill="#5A2CD0"/>
<circle cx="489.1" cy="406.6" r="3.80" fill="#5A2CD0"/>
<circle cx="547.5" cy="406.6" r="2.20" fill="#7E20D4"/>
<circle cx="605.8" cy="406.6" r="2.00" fill="#7E20D4"/>
<circle cx="664.1" cy="406.6" r="2.20" fill="#7E20D4"/>
<circle cx="722.5" cy="406.6" r="2.10" fill="#7E20D4"/>
<circle cx="780.9" cy="406.6" r="2.30" fill="#7E20D4"/>
<circle cx="839.2" cy="406.6" r="5.40" fill="#5A2CD0"/>
<circle cx="897.6" cy="406.6" r="5.75" fill="#7E20D4"/>
<circle cx="955.9" cy="406.6" r="4.35" fill="#5A2CD0"/>
<circle cx="139.0" cy="426.8" r="3.50" fill="#5A2CD0"/>
<circle cx="197.3" cy="426.8" r="4.00" fill="#7E20D4"/>
<circle cx="255.7" cy="426.8" r="2.80" fill="#5A2CD0"/>
<circle cx="314.1" cy="426.8" r="3.50" fill="#5A2CD0"/>
<circle cx="372.4" cy="426.8" r="2.50" fill="#5A2CD0"/>
<circle cx="430.8" cy="426.8" r="2.50" fill="#5A2CD0"/>
<circle cx="489.1" cy="426.8" r="4.25" fill="#A018DC"/>
<circle cx="547.5" cy="426.8" r="8.00" fill="#FF1030"/>
<circle cx="605.8" cy="426.8" r="2.00" fill="#7E20D4"/>
<circle cx="664.1" cy="426.8" r="2.20" fill="#7E20D4"/>
<circle cx="722.5" cy="426.8" r="2.10" fill="#7E20D4"/>
<circle cx="780.9" cy="426.8" r="2.30" fill="#7E20D4"/>
<circle cx="839.2" cy="426.8" r="5.40" fill="#C41CE0"/>
<circle cx="897.6" cy="426.8" r="5.40" fill="#C41CE0"/>
<circle cx="955.9" cy="426.8" r="4.35" fill="#A018DC"/>
<circle cx="139.0" cy="446.9" r="2.80" fill="#5A2CD0"/>
<circle cx="197.3" cy="446.9" r="2.20" fill="#5A2CD0"/>
<circle cx="255.7" cy="446.9" r="2.20" fill="#5A2CD0"/>
<circle cx="314.1" cy="446.9" r="3.50" fill="#7E20D4"/>
<circle cx="372.4" cy="446.9" r="2.20" fill="#5A2CD0"/>
<circle cx="430.8" cy="446.9" r="2.80" fill="#7E20D4"/>
<circle cx="489.1" cy="446.9" r="9.25" fill="#F01460"/>
<circle cx="547.5" cy="446.9" r="2.20" fill="#7E20D4"/>
<circle cx="605.8" cy="446.9" r="2.00" fill="#7E20D4"/>
<circle cx="664.1" cy="446.9" r="2.20" fill="#7E20D4"/>
<circle cx="722.5" cy="446.9" r="2.10" fill="#7E20D4"/>
<circle cx="780.9" cy="446.9" r="2.30" fill="#7E20D4"/>
<circle cx="839.2" cy="446.9" r="7.80" fill="#FF1030"/>
<circle cx="897.6" cy="446.9" r="7.50" fill="#FF1030"/>
<circle cx="955.9" cy="446.9" r="6.50" fill="#FF1030"/>
<circle cx="139.0" cy="467.0" r="2.50" fill="#3C40D8"/>
<circle cx="197.3" cy="467.0" r="2.80" fill="#5A2CD0"/>
<circle cx="255.7" cy="467.0" r="2.50" fill="#5A2CD0"/>
<circle cx="314.1" cy="467.0" r="3.00" fill="#5A2CD0"/>
<circle cx="372.4" cy="467.0" r="4.25" fill="#C41CE0"/>
<circle cx="430.8" cy="467.0" r="2.50" fill="#5A2CD0"/>
<circle cx="489.1" cy="467.0" r="3.80" fill="#5A2CD0"/>
<circle cx="547.5" cy="467.0" r="2.20" fill="#7E20D4"/>
<circle cx="605.8" cy="467.0" r="2.00" fill="#7E20D4"/>
<circle cx="664.1" cy="467.0" r="2.20" fill="#7E20D4"/>
<circle cx="722.5" cy="467.0" r="6.50" fill="#FF1030"/>
<circle cx="780.9" cy="467.0" r="5.40" fill="#FF1030"/>
<circle cx="839.2" cy="467.0" r="5.75" fill="#E81CA0"/>
<circle cx="897.6" cy="467.0" r="5.75" fill="#E81CA0"/>
<circle cx="955.9" cy="467.0" r="4.70" fill="#DC1CC4"/>
<circle cx="139.0" cy="487.1" r="5.00" fill="#C41CE0"/>
<circle cx="197.3" cy="487.1" r="4.85" fill="#7E20D4"/>
<circle cx="255.7" cy="487.1" r="7.50" fill="#FF1030"/>
<circle cx="314.1" cy="487.1" r="3.00" fill="#5A2CD0"/>
<circle cx="372.4" cy="487.1" r="5.50" fill="#F01460"/>
<circle cx="430.8" cy="487.1" r="6.50" fill="#F01460"/>
<circle cx="489.1" cy="487.1" r="4.00" fill="#5A2CD0"/>
<circle cx="547.5" cy="487.1" r="2.20" fill="#7E20D4"/>
<circle cx="605.8" cy="487.1" r="2.00" fill="#7E20D4"/>
<circle cx="664.1" cy="487.1" r="2.20" fill="#7E20D4"/>
<circle cx="722.5" cy="487.1" r="2.10" fill="#7E20D4"/>
<circle cx="780.9" cy="487.1" r="2.30" fill="#7E20D4"/>
<circle cx="839.2" cy="487.1" r="5.75" fill="#7E20D4"/>
<circle cx="897.6" cy="487.1" r="5.75" fill="#7E20D4"/>
<circle cx="955.9" cy="487.1" r="4.70" fill="#7E20D4"/>
<circle cx="139.0" cy="507.3" r="3.50" fill="#5A2CD0"/>
<circle cx="197.3" cy="507.3" r="3.80" fill="#5A2CD0"/>
<circle cx="255.7" cy="507.3" r="3.20" fill="#5A2CD0"/>
<circle cx="314.1" cy="507.3" r="3.50" fill="#5A2CD0"/>
<circle cx="372.4" cy="507.3" r="2.80" fill="#5A2CD0"/>
<circle cx="430.8" cy="507.3" r="2.80" fill="#5A2CD0"/>
<circle cx="489.1" cy="507.3" r="4.25" fill="#7E20D4"/>
<circle cx="547.5" cy="507.3" r="2.20" fill="#7E20D4"/>
<circle cx="605.8" cy="507.3" r="5.50" fill="#FF1030"/>
<circle cx="664.1" cy="507.3" r="6.50" fill="#FF1030"/>
<circle cx="722.5" cy="507.3" r="2.10" fill="#7E20D4"/>
<circle cx="780.9" cy="507.3" r="2.30" fill="#7E20D4"/>
<circle cx="839.2" cy="507.3" r="5.75" fill="#C41CE0"/>
<circle cx="897.6" cy="507.3" r="5.75" fill="#C41CE0"/>
<circle cx="955.9" cy="507.3" r="4.70" fill="#A018DC"/>
<circle cx="139.0" cy="527.4" r="4.50" fill="#7E20D4"/>
<circle cx="197.3" cy="527.4" r="4.25" fill="#7E20D4"/>
<circle cx="255.7" cy="527.4" r="4.50" fill="#7E20D4"/>
<circle cx="314.1" cy="527.4" r="3.00" fill="#5A2CD0"/>
<circle cx="372.4" cy="527.4" r="2.80" fill="#5A2CD0"/>
<circle cx="430.8" cy="527.4" r="7.25" fill="#FF1030"/>
<circle cx="489.1" cy="527.4" r="4.25" fill="#5A2CD0"/>
<circle cx="547.5" cy="527.4" r="2.80" fill="#7E20D4"/>
<circle cx="605.8" cy="527.4" r="2.00" fill="#7E20D4"/>
<circle cx="664.1" cy="527.4" r="2.20" fill="#7E20D4"/>
<circle cx="722.5" cy="527.4" r="2.10" fill="#7E20D4"/>
<circle cx="780.9" cy="527.4" r="2.30" fill="#7E20D4"/>
<circle cx="839.2" cy="527.4" r="6.00" fill="#A018DC"/>
<circle cx="897.6" cy="527.4" r="6.00" fill="#A018DC"/>
<circle cx="955.9" cy="527.4" r="5.00" fill="#A018DC"/>
<circle cx="139.0" cy="547.5" r="3.50" fill="#5A2CD0"/>
<circle cx="197.3" cy="547.5" r="3.50" fill="#5A2CD0"/>
<circle cx="255.7" cy="547.5" r="4.00" fill="#7E20D4"/>
<circle cx="314.1" cy="547.5" r="4.00" fill="#A018DC"/>
<circle cx="372.4" cy="547.5" r="2.50" fill="#5A2CD0"/>
<circle cx="430.8" cy="547.5" r="2.80" fill="#5A2CD0"/>
<circle cx="489.1" cy="547.5" r="4.50" fill="#7E20D4"/>
<circle cx="547.5" cy="547.5" r="2.20" fill="#7E20D4"/>
<circle cx="605.8" cy="547.5" r="2.00" fill="#7E20D4"/>
<circle cx="664.1" cy="547.5" r="2.20" fill="#7E20D4"/>
<circle cx="722.5" cy="547.5" r="2.10" fill="#7E20D4"/>
<circle cx="780.9" cy="547.5" r="2.30" fill="#7E20D4"/>
<circle cx="839.2" cy="547.5" r="6.25" fill="#F01460"/>
<circle cx="897.6" cy="547.5" r="5.75" fill="#DC1CC4"/>
<circle cx="955.9" cy="547.5" r="4.70" fill="#DC1CC4"/>
<circle cx="139.0" cy="567.7" r="5.85" fill="#E81CA0"/>
<circle cx="197.3" cy="567.7" r="6.50" fill="#C41CE0"/>
<circle cx="255.7" cy="567.7" r="5.00" fill="#7E20D4"/>
<circle cx="314.1" cy="567.7" r="6.00" fill="#DC1CC4"/>
<circle cx="372.4" cy="567.7" r="2.80" fill="#5A2CD0"/>
<circle cx="430.8" cy="567.7" r="2.50" fill="#5A2CD0"/>
<circle cx="489.1" cy="567.7" r="3.80" fill="#5A2CD0"/>
<circle cx="547.5" cy="567.7" r="2.20" fill="#7E20D4"/>
<circle cx="605.8" cy="567.7" r="2.00" fill="#7E20D4"/>
<circle cx="664.1" cy="567.7" r="2.50" fill="#7E20D4"/>
<circle cx="722.5" cy="567.7" r="2.10" fill="#7E20D4"/>
<circle cx="780.9" cy="567.7" r="2.30" fill="#7E20D4"/>
<circle cx="839.2" cy="567.7" r="4.35" fill="#3C40D8"/>
<circle cx="897.6" cy="567.7" r="4.35" fill="#3C40D8"/>
<circle cx="955.9" cy="567.7" r="4.15" fill="#3C40D8"/>
<circle cx="139.0" cy="587.8" r="5.00" fill="#C41CE0"/>
<circle cx="197.3" cy="587.8" r="5.50" fill="#A018DC"/>
<circle cx="255.7" cy="587.8" r="3.80" fill="#5A2CD0"/>
<circle cx="314.1" cy="587.8" r="3.00" fill="#5A2CD0"/>
<circle cx="372.4" cy="587.8" r="2.20" fill="#5A2CD0"/>
<circle cx="430.8" cy="587.8" r="5.50" fill="#E81CA0"/>
<circle cx="489.1" cy="587.8" r="4.00" fill="#5A2CD0"/>
<circle cx="547.5" cy="587.8" r="2.20" fill="#7E20D4"/>
<circle cx="605.8" cy="587.8" r="2.00" fill="#7E20D4"/>
<circle cx="664.1" cy="587.8" r="2.50" fill="#7E20D4"/>
<circle cx="722.5" cy="587.8" r="2.30" fill="#7E20D4"/>
<circle cx="780.9" cy="587.8" r="2.30" fill="#7E20D4"/>
<circle cx="839.2" cy="587.8" r="5.75" fill="#7E20D4"/>
<circle cx="897.6" cy="587.8" r="5.75" fill="#7E20D4"/>
<circle cx="955.9" cy="587.8" r="5.00" fill="#7E20D4"/>
<circle cx="139.0" cy="607.9" r="5.50" fill="#E81CA0"/>
<circle cx="197.3" cy="607.9" r="5.50" fill="#A018DC"/>
<circle cx="255.7" cy="607.9" r="5.00" fill="#A018DC"/>
<circle cx="314.1" cy="607.9" r="6.25" fill="#F01460"/>
<circle cx="372.4" cy="607.9" r="2.50" fill="#5A2CD0"/>
<circle cx="430.8" cy="607.9" r="2.50" fill="#5A2CD0"/>
<circle cx="489.1" cy="607.9" r="3.80" fill="#5A2CD0"/>
<circle cx="547.5" cy="607.9" r="2.20" fill="#7E20D4"/>
<circle cx="605.8" cy="607.9" r="2.00" fill="#7E20D4"/>
<circle cx="664.1" cy="607.9" r="2.20" fill="#7E20D4"/>
<circle cx="722.5" cy="607.9" r="2.10" fill="#7E20D4"/>
<circle cx="780.9" cy="607.9" r="2.30" fill="#7E20D4"/>
<circle cx="839.2" cy="607.9" r="7.80" fill="#F01460"/>
<circle cx="897.6" cy="607.9" r="7.80" fill="#F01460"/>
<circle cx="955.9" cy="607.9" r="6.50" fill="#F01460"/>
<circle cx="139.0" cy="628.1" r="5.50" fill="#E81CA0"/>
<circle cx="197.3" cy="628.1" r="5.50" fill="#A018DC"/>
<circle cx="255.7" cy="628.1" r="7.00" fill="#DC1CC4"/>
<circle cx="314.1" cy="628.1" r="6.85" fill="#F01460"/>
<circle cx="372.4" cy="628.1" r="2.20" fill="#5A2CD0"/>
<circle cx="430.8" cy="628.1" r="2.50" fill="#5A2CD0"/>
<circle cx="489.1" cy="628.1" r="3.20" fill="#5A2CD0"/>
<circle cx="547.5" cy="628.1" r="2.20" fill="#7E20D4"/>
<circle cx="605.8" cy="628.1" r="2.00" fill="#7E20D4"/>
<circle cx="664.1" cy="628.1" r="2.20" fill="#7E20D4"/>
<circle cx="722.5" cy="628.1" r="2.10" fill="#7E20D4"/>
<circle cx="780.9" cy="628.1" r="2.30" fill="#7E20D4"/>
<circle cx="839.2" cy="628.1" r="5.75" fill="#5A2CD0"/>
<circle cx="897.6" cy="628.1" r="6.00" fill="#5A2CD0"/>
<circle cx="955.9" cy="628.1" r="5.00" fill="#5A2CD0"/>
<circle cx="139.0" cy="648.2" r="6.00" fill="#F01460"/>
<circle cx="197.3" cy="648.2" r="5.50" fill="#A018DC"/>
<circle cx="255.7" cy="648.2" r="5.50" fill="#A018DC"/>
<circle cx="314.1" cy="648.2" r="6.85" fill="#F01460"/>
<circle cx="372.4" cy="648.2" r="2.80" fill="#5A2CD0"/>
<circle cx="430.8" cy="648.2" r="2.50" fill="#5A2CD0"/>
<circle cx="489.1" cy="648.2" r="3.80" fill="#5A2CD0"/>
<circle cx="547.5" cy="648.2" r="2.20" fill="#7E20D4"/>
<circle cx="605.8" cy="648.2" r="2.00" fill="#7E20D4"/>
<circle cx="664.1" cy="648.2" r="2.20" fill="#7E20D4"/>
<circle cx="722.5" cy="648.2" r="2.10" fill="#7E20D4"/>
<circle cx="780.9" cy="648.2" r="2.30" fill="#7E20D4"/>
<circle cx="839.2" cy="648.2" r="5.75" fill="#7E20D4"/>
<circle cx="897.6" cy="648.2" r="5.75" fill="#7E20D4"/>
<circle cx="955.9" cy="648.2" r="5.00" fill="#7E20D4"/>
<circle cx="139.0" cy="668.3" r="6.00" fill="#F01460"/>
<circle cx="197.3" cy="668.3" r="7.00" fill="#C41CE0"/>
<circle cx="255.7" cy="668.3" r="7.50" fill="#DC1CC4"/>
<circle cx="314.1" cy="668.3" r="6.00" fill="#C41CE0"/>
<circle cx="372.4" cy="668.3" r="2.80" fill="#5A2CD0"/>
<circle cx="430.8" cy="668.3" r="2.50" fill="#5A2CD0"/>
<circle cx="489.1" cy="668.3" r="3.50" fill="#5A2CD0"/>
<circle cx="547.5" cy="668.3" r="2.20" fill="#7E20D4"/>
<circle cx="605.8" cy="668.3" r="2.00" fill="#7E20D4"/>
<circle cx="664.1" cy="668.3" r="2.20" fill="#7E20D4"/>
<circle cx="722.5" cy="668.3" r="2.10" fill="#7E20D4"/>
<circle cx="780.9" cy="668.3" r="2.30" fill="#7E20D4"/>
<circle cx="839.2" cy="668.3" r="5.40" fill="#5A2CD0"/>
<circle cx="897.6" cy="668.3" r="5.40" fill="#3C40D8"/>
<circle cx="955.9" cy="668.3" r="4.70" fill="#5A2CD0"/>
<circle cx="139.0" cy="688.4" r="4.50" fill="#7E20D4"/>
<circle cx="197.3" cy="688.4" r="7.00" fill="#DC1CC4"/>
<circle cx="255.7" cy="688.4" r="2.80" fill="#5A2CD0"/>
<circle cx="314.1" cy="688.4" r="3.00" fill="#5A2CD0"/>
<circle cx="372.4" cy="688.4" r="4.50" fill="#C41CE0"/>
<circle cx="430.8" cy="688.4" r="5.50" fill="#E81CA0"/>
<circle cx="489.1" cy="688.4" r="3.80" fill="#5A2CD0"/>
<circle cx="547.5" cy="688.4" r="2.50" fill="#7E20D4"/>
<circle cx="605.8" cy="688.4" r="2.00" fill="#7E20D4"/>
<circle cx="664.1" cy="688.4" r="2.20" fill="#7E20D4"/>
<circle cx="722.5" cy="688.4" r="2.10" fill="#7E20D4"/>
<circle cx="780.9" cy="688.4" r="2.30" fill="#7E20D4"/>
<circle cx="839.2" cy="688.4" r="5.75" fill="#7E20D4"/>
<circle cx="897.6" cy="688.4" r="5.75" fill="#7E20D4"/>
<circle cx="955.9" cy="688.4" r="5.00" fill="#7E20D4"/>
<circle cx="139.0" cy="708.6" r="2.50" fill="#3C40D8"/>
<circle cx="197.3" cy="708.6" r="2.20" fill="#5A2CD0"/>
<circle cx="255.7" cy="708.6" r="2.20" fill="#5A2CD0"/>
<circle cx="314.1" cy="708.6" r="2.80" fill="#5A2CD0"/>
<circle cx="372.4" cy="708.6" r="2.20" fill="#5A2CD0"/>
<circle cx="430.8" cy="708.6" r="2.50" fill="#5A2CD0"/>
<circle cx="489.1" cy="708.6" r="9.50" fill="#FF1030"/>
<circle cx="547.5" cy="708.6" r="2.20" fill="#7E20D4"/>
<circle cx="605.8" cy="708.6" r="2.00" fill="#7E20D4"/>
<circle cx="664.1" cy="708.6" r="2.20" fill="#7E20D4"/>
<circle cx="722.5" cy="708.6" r="2.10" fill="#7E20D4"/>
<circle cx="780.9" cy="708.6" r="2.30" fill="#7E20D4"/>
<circle cx="839.2" cy="708.6" r="5.75" fill="#E81CA0"/>
<circle cx="897.6" cy="708.6" r="5.40" fill="#F01460"/>
<circle cx="955.9" cy="708.6" r="4.35" fill="#E81CA0"/>
<circle cx="139.0" cy="728.7" r="2.50" fill="#3C40D8"/>
<circle cx="197.3" cy="728.7" r="2.20" fill="#5A2CD0"/>
<circle cx="255.7" cy="728.7" r="2.20" fill="#5A2CD0"/>
<circle cx="314.1" cy="728.7" r="2.80" fill="#5A2CD0"/>
<circle cx="372.4" cy="728.7" r="2.20" fill="#5A2CD0"/>
<circle cx="430.8" cy="728.7" r="2.50" fill="#5A2CD0"/>
<circle cx="489.1" cy="728.7" r="10.50" fill="#FF1030"/>
<circle cx="547.5" cy="728.7" r="2.20" fill="#7E20D4"/>
<circle cx="605.8" cy="728.7" r="2.00" fill="#7E20D4"/>
<circle cx="664.1" cy="728.7" r="2.20" fill="#7E20D4"/>
<circle cx="722.5" cy="728.7" r="2.10" fill="#7E20D4"/>
<circle cx="780.9" cy="728.7" r="2.30" fill="#7E20D4"/>
<circle cx="839.2" cy="728.7" r="5.75" fill="#C41CE0"/>
<circle cx="897.6" cy="728.7" r="5.75" fill="#DC1CC4"/>
<circle cx="955.9" cy="728.7" r="4.70" fill="#DC1CC4"/>
<text transform="translate(1036.5,210) rotate(-90)" font-size="20.5" text-anchor="middle" textLength="190" lengthAdjust="spacingAndGlyphs">Percent Expressed</text>
<circle cx="1078.4" cy="164.1" r="2.65" fill="#000"/>
<text x="1106.5" y="172.3" font-size="23" textLength="12.5" lengthAdjust="spacingAndGlyphs" >0</text>
<circle cx="1078.4" cy="193.9" r="5.75" fill="#000"/>
<text x="1106.5" y="202.1" font-size="23" textLength="25.1" lengthAdjust="spacingAndGlyphs" >25</text>
<circle cx="1078.4" cy="224.4" r="9.15" fill="#000"/>
<text x="1106.5" y="232.6" font-size="23" textLength="25.1" lengthAdjust="spacingAndGlyphs" >50</text>
<circle cx="1078.4" cy="254.5" r="11.85" fill="#000"/>
<text x="1106.5" y="262.7" font-size="23" textLength="25.1" lengthAdjust="spacingAndGlyphs" >75</text>
<text transform="translate(1037,574.5) rotate(-90)" font-size="21" text-anchor="middle" textLength="203" lengthAdjust="spacingAndGlyphs">Average Expression</text>
<defs><linearGradient id="cg" x1="0" y1="1" x2="0" y2="0">
<stop offset="0" stop-color="#3040F8"/><stop offset="0.2" stop-color="#5030E0"/>
<stop offset="0.36" stop-color="#7A18DC"/><stop offset="0.45" stop-color="#A810E4"/>
<stop offset="0.55" stop-color="#D810E4"/><stop offset="0.66" stop-color="#F010B8"/>
<stop offset="0.8" stop-color="#FF0A70"/><stop offset="0.9" stop-color="#FF0A40"/>
<stop offset="1" stop-color="#FF0A24"/></linearGradient></defs>
<rect x="1063.0" y="503.0" width="30.0" height="151.0" fill="url(#cg)" />
<line x1="1063.0" y1="520.0" x2="1069.0" y2="520.0" stroke="#fff" stroke-width="1.5" />
<line x1="1087.0" y1="520.0" x2="1093.0" y2="520.0" stroke="#fff" stroke-width="1.5" />
<text x="1106.5" y="527.8" font-size="22.5" textLength="12.5" lengthAdjust="spacingAndGlyphs" >2</text>
<line x1="1063.0" y1="555.0" x2="1069.0" y2="555.0" stroke="#fff" stroke-width="1.5" />
<line x1="1087.0" y1="555.0" x2="1093.0" y2="555.0" stroke="#fff" stroke-width="1.5" />
<text x="1106.5" y="562.8" font-size="22.5" textLength="12.5" lengthAdjust="spacingAndGlyphs" >1</text>
<line x1="1063.0" y1="589.0" x2="1069.0" y2="589.0" stroke="#fff" stroke-width="1.5" />
<line x1="1087.0" y1="589.0" x2="1093.0" y2="589.0" stroke="#fff" stroke-width="1.5" />
<text x="1106.5" y="596.8" font-size="22.5" textLength="12.5" lengthAdjust="spacingAndGlyphs" >0</text>
<line x1="1063.0" y1="623.3" x2="1069.0" y2="623.3" stroke="#fff" stroke-width="1.5" />
<line x1="1087.0" y1="623.3" x2="1093.0" y2="623.3" stroke="#fff" stroke-width="1.5" />
<text x="1106.5" y="631.1" font-size="22.5" textLength="25.7" lengthAdjust="spacingAndGlyphs" >−1</text>
<text x="1275.3" y="36.2" font-size="28" textLength="152.0" lengthAdjust="spacingAndGlyphs" >Cell Identity</text>
<rect x="1223.3" y="57.7" width="16.8" height="20.2" fill="#F04C7C" stroke="#fff" stroke-width="1.4" />
<text x="1259.5" y="75.8" font-size="22.5" textLength="201.4" lengthAdjust="spacingAndGlyphs" stroke="#000" stroke-width="0.3">1 – Oligodendrocyte</text>
<rect x="1223.3" y="77.9" width="16.8" height="20.2" fill="#EE5F4A" stroke="#fff" stroke-width="1.4" />
<text x="1259.5" y="96.0" font-size="22.5" textLength="201.4" lengthAdjust="spacingAndGlyphs" stroke="#000" stroke-width="0.3">2 – Oligodendrocyte</text>
<rect x="1223.3" y="98.1" width="16.8" height="20.2" fill="#EB6E18" stroke="#fff" stroke-width="1.4" />
<text x="1259.5" y="116.2" font-size="22.5" textLength="136.3" lengthAdjust="spacingAndGlyphs" stroke="#000" stroke-width="0.3">3 – In Neuron</text>
<rect x="1223.3" y="118.3" width="16.8" height="20.2" fill="#E07A18" stroke="#fff" stroke-width="1.4" />
<text x="1259.5" y="136.4" font-size="22.5" textLength="143.8" lengthAdjust="spacingAndGlyphs" stroke="#000" stroke-width="0.3">4 – Ex Neuron</text>
<rect x="1223.3" y="138.5" width="16.8" height="20.2" fill="#D08A1C" stroke="#fff" stroke-width="1.4" />
<text x="1259.5" y="156.6" font-size="22.5" textLength="143.8" lengthAdjust="spacingAndGlyphs" stroke="#000" stroke-width="0.3">5 – Ex Neuron</text>
<rect x="1223.3" y="158.7" width="16.8" height="20.2" fill="#BC9020" stroke="#fff" stroke-width="1.4" />
<text x="1259.5" y="176.8" font-size="22.5" textLength="143.8" lengthAdjust="spacingAndGlyphs" stroke="#000" stroke-width="0.3">6 – Ex Neuron</text>
<rect x="1223.3" y="178.9" width="16.8" height="20.2" fill="#A4A020" stroke="#fff" stroke-width="1.4" />
<text x="1259.5" y="197.0" font-size="22.5" textLength="143.8" lengthAdjust="spacingAndGlyphs" stroke="#000" stroke-width="0.3">7 – Ex Neuron</text>
<rect x="1223.3" y="199.1" width="16.8" height="20.2" fill="#8CB020" stroke="#fff" stroke-width="1.4" />
<text x="1259.5" y="217.2" font-size="22.5" textLength="136.3" lengthAdjust="spacingAndGlyphs" stroke="#000" stroke-width="0.3">8 – In Neuron</text>
<rect x="1223.3" y="219.3" width="16.8" height="20.2" fill="#70C020" stroke="#fff" stroke-width="1.4" />
<text x="1259.5" y="237.4" font-size="22.5" textLength="143.8" lengthAdjust="spacingAndGlyphs" stroke="#000" stroke-width="0.3">9 – Ex Neuron</text>
<rect x="1223.3" y="239.5" width="16.8" height="20.2" fill="#5CD028" stroke="#fff" stroke-width="1.4" />
<text x="1259.5" y="257.6" font-size="22.5" textLength="156.3" lengthAdjust="spacingAndGlyphs" stroke="#000" stroke-width="0.3">10 – Ex Neuron</text>
<rect x="1223.3" y="259.7" width="16.8" height="20.2" fill="#48E028" stroke="#fff" stroke-width="1.4" />
<text x="1259.5" y="277.8" font-size="22.5" textLength="147.2" lengthAdjust="spacingAndGlyphs" stroke="#000" stroke-width="0.3">11 – In Neuron</text>
<rect x="1223.3" y="279.9" width="16.8" height="20.2" fill="#34EE22" stroke="#fff" stroke-width="1.4" />
<text x="1259.5" y="298.0" font-size="22.5" textLength="142.6" lengthAdjust="spacingAndGlyphs" stroke="#000" stroke-width="0.3">12 – Astrocyte</text>
<rect x="1223.3" y="300.1" width="16.8" height="20.2" fill="#30F028" stroke="#fff" stroke-width="1.4" />
<text x="1259.5" y="318.2" font-size="22.5" textLength="148.9" lengthAdjust="spacingAndGlyphs" stroke="#000" stroke-width="0.3">13 – In Neuron</text>
<rect x="1223.3" y="320.3" width="16.8" height="20.2" fill="#30EA38" stroke="#fff" stroke-width="1.4" />
<text x="1259.5" y="338.4" font-size="22.5" textLength="140.1" lengthAdjust="spacingAndGlyphs" stroke="#000" stroke-width="0.3">14 – Microglia</text>
<rect x="1223.3" y="340.5" width="16.8" height="20.2" fill="#30E850" stroke="#fff" stroke-width="1.4" />
<text x="1259.5" y="358.6" font-size="22.5" textLength="213.9" lengthAdjust="spacingAndGlyphs" stroke="#000" stroke-width="0.3">15 – Oligodendrocyte</text>
<rect x="1223.3" y="360.7" width="16.8" height="20.2" fill="#34E86C" stroke="#fff" stroke-width="1.4" />
<text x="1259.5" y="378.8" font-size="22.5" textLength="98.8" lengthAdjust="spacingAndGlyphs" stroke="#000" stroke-width="0.3">16 – OPC</text>
<rect x="1223.3" y="380.9" width="16.8" height="20.2" fill="#36E88C" stroke="#fff" stroke-width="1.4" />
<text x="1259.5" y="399.0" font-size="22.5" textLength="156.3" lengthAdjust="spacingAndGlyphs" stroke="#000" stroke-width="0.3">17 – Ex Neuron</text>
<rect x="1223.3" y="401.1" width="16.8" height="20.2" fill="#38EAA8" stroke="#fff" stroke-width="1.4" />
<text x="1259.5" y="419.2" font-size="22.5" textLength="156.3" lengthAdjust="spacingAndGlyphs" stroke="#000" stroke-width="0.3">18 – Ex Neuron</text>
<rect x="1223.3" y="421.3" width="16.8" height="20.2" fill="#3AEEC8" stroke="#fff" stroke-width="1.4" />
<text x="1259.5" y="439.4" font-size="22.5" textLength="156.3" lengthAdjust="spacingAndGlyphs" stroke="#000" stroke-width="0.3">19 – Ex Neuron</text>
<rect x="1223.3" y="441.5" width="16.8" height="20.2" fill="#40F0E8" stroke="#fff" stroke-width="1.4" />
<text x="1259.5" y="459.6" font-size="22.5" textLength="156.3" lengthAdjust="spacingAndGlyphs" stroke="#000" stroke-width="0.3">20 – Ex Neuron</text>
<rect x="1223.3" y="461.7" width="16.8" height="20.2" fill="#40DCF4" stroke="#fff" stroke-width="1.4" />
<text x="1259.5" y="479.8" font-size="22.5" textLength="156.3" lengthAdjust="spacingAndGlyphs" stroke="#000" stroke-width="0.3">21 – Ex Neuron</text>
<rect x="1223.3" y="481.9" width="16.8" height="20.2" fill="#48C0F4" stroke="#fff" stroke-width="1.4" />
<text x="1259.5" y="500.0" font-size="22.5" textLength="156.3" lengthAdjust="spacingAndGlyphs" stroke="#000" stroke-width="0.3">22 – Ex Neuron</text>
<rect x="1223.3" y="502.1" width="16.8" height="20.2" fill="#48A8F0" stroke="#fff" stroke-width="1.4" />
<text x="1259.5" y="520.2" font-size="22.5" textLength="156.3" lengthAdjust="spacingAndGlyphs" stroke="#000" stroke-width="0.3">23 – Ex Neuron</text>
<rect x="1223.3" y="522.3" width="16.8" height="20.2" fill="#5894F0" stroke="#fff" stroke-width="1.4" />
<text x="1259.5" y="540.4" font-size="22.5" textLength="148.9" lengthAdjust="spacingAndGlyphs" stroke="#000" stroke-width="0.3">24 – In Neuron</text>
<rect x="1223.3" y="542.5" width="16.8" height="20.2" fill="#6482E8" stroke="#fff" stroke-width="1.4" />
<text x="1259.5" y="560.6" font-size="22.5" textLength="140.1" lengthAdjust="spacingAndGlyphs" stroke="#000" stroke-width="0.3">25 – Microglia</text>
<rect x="1223.3" y="562.7" width="16.8" height="20.2" fill="#7870E2" stroke="#fff" stroke-width="1.4" />
<text x="1259.5" y="580.8" font-size="22.5" textLength="156.3" lengthAdjust="spacingAndGlyphs" stroke="#000" stroke-width="0.3">26 – Ex Neuron</text>
<rect x="1223.3" y="582.9" width="16.8" height="20.2" fill="#886ADC" stroke="#fff" stroke-width="1.4" />
<text x="1259.5" y="601.0" font-size="22.5" textLength="148.9" lengthAdjust="spacingAndGlyphs" stroke="#000" stroke-width="0.3">27 – In Neuron</text>
<rect x="1223.3" y="603.1" width="16.8" height="20.2" fill="#985ADE" stroke="#fff" stroke-width="1.4" />
<text x="1259.5" y="621.2" font-size="22.5" textLength="156.3" lengthAdjust="spacingAndGlyphs" stroke="#000" stroke-width="0.3">28 – Ex Neuron</text>
<rect x="1223.3" y="623.3" width="16.8" height="20.2" fill="#B050E0" stroke="#fff" stroke-width="1.4" />
<text x="1259.5" y="641.4" font-size="22.5" textLength="140.1" lengthAdjust="spacingAndGlyphs" stroke="#000" stroke-width="0.3">29 – Microglia</text>
<rect x="1223.3" y="643.5" width="16.8" height="20.2" fill="#CA4AE4" stroke="#fff" stroke-width="1.4" />
<text x="1259.5" y="661.6" font-size="22.5" textLength="156.3" lengthAdjust="spacingAndGlyphs" stroke="#000" stroke-width="0.3">30 – Ex Neuron</text>
<rect x="1223.3" y="663.7" width="16.8" height="20.2" fill="#E844EA" stroke="#fff" stroke-width="1.4" />
<text x="1259.5" y="681.8" font-size="22.5" textLength="148.9" lengthAdjust="spacingAndGlyphs" stroke="#000" stroke-width="0.3">31 – In Neuron</text>
<rect x="1223.3" y="683.9" width="16.8" height="20.2" fill="#F440E8" stroke="#fff" stroke-width="1.4" />
<text x="1259.5" y="702.0" font-size="22.5" textLength="156.3" lengthAdjust="spacingAndGlyphs" stroke="#000" stroke-width="0.3">32 – Ex Neuron</text>
<rect x="1223.3" y="704.1" width="16.8" height="20.2" fill="#F43CD4" stroke="#fff" stroke-width="1.4" />
<text x="1259.5" y="722.2" font-size="22.5" textLength="143.8" lengthAdjust="spacingAndGlyphs" stroke="#000" stroke-width="0.3">33 – Unknown</text>
<rect x="1223.3" y="724.3" width="16.8" height="20.2" fill="#E8449C" stroke="#fff" stroke-width="1.4" />
<text x="1259.5" y="742.4" font-size="22.5" textLength="143.8" lengthAdjust="spacingAndGlyphs" stroke="#000" stroke-width="0.3">34 – Unknown</text>
<text x="106.0" y="875.0" font-size="29.5" textLength="334.0" lengthAdjust="spacingAndGlyphs" >Number of Cells per Cluster</text>
<rect x="106.3" y="891.8" width="617" height="523" fill="none" stroke="#000" stroke-width="3.4"/>
<rect x="120.8" y="914.6" width="16.8" height="476.1" fill="#F04C7C" stroke="#fff" stroke-width="1.6" />
<rect x="138.1" y="1000.7" width="16.8" height="390.0" fill="#EE5F4A" stroke="#fff" stroke-width="1.6" />
<rect x="155.4" y="1086.8" width="16.8" height="303.9" fill="#EB6E18" stroke="#fff" stroke-width="1.6" />
<rect x="172.7" y="1094.9" width="16.8" height="295.8" fill="#E07A18" stroke="#fff" stroke-width="1.6" />
<rect x="190.0" y="1096.4" width="16.8" height="294.3" fill="#D08A1C" stroke="#fff" stroke-width="1.6" />
<rect x="207.2" y="1115.2" width="16.8" height="275.5" fill="#BC9020" stroke="#fff" stroke-width="1.6" />
<rect x="224.5" y="1154.7" width="16.8" height="236.0" fill="#A4A020" stroke="#fff" stroke-width="1.6" />
<rect x="241.8" y="1185.6" width="16.8" height="205.1" fill="#8CB020" stroke="#fff" stroke-width="1.6" />
<rect x="259.1" y="1212.5" width="16.8" height="178.2" fill="#70C020" stroke="#fff" stroke-width="1.6" />
<rect x="276.4" y="1224.6" width="16.8" height="166.1" fill="#5CD028" stroke="#fff" stroke-width="1.6" />
<rect x="293.7" y="1233.2" width="16.8" height="157.5" fill="#48E028" stroke="#fff" stroke-width="1.6" />
<rect x="311.0" y="1238.8" width="16.8" height="151.9" fill="#34EE22" stroke="#fff" stroke-width="1.6" />
<rect x="328.3" y="1250.5" width="16.8" height="140.2" fill="#30F028" stroke="#fff" stroke-width="1.6" />
<rect x="345.6" y="1253.5" width="16.8" height="137.2" fill="#30EA38" stroke="#fff" stroke-width="1.6" />
<rect x="362.9" y="1261.1" width="16.8" height="129.6" fill="#30E850" stroke="#fff" stroke-width="1.6" />
<rect x="380.1" y="1262.1" width="16.8" height="128.6" fill="#34E86C" stroke="#fff" stroke-width="1.6" />
<rect x="397.4" y="1263.6" width="16.8" height="127.1" fill="#36E88C" stroke="#fff" stroke-width="1.6" />
<rect x="414.7" y="1268.2" width="16.8" height="122.5" fill="#38EAA8" stroke="#fff" stroke-width="1.6" />
<rect x="432.0" y="1269.7" width="16.8" height="121.0" fill="#3AEEC8" stroke="#fff" stroke-width="1.6" />
<rect x="449.3" y="1289.5" width="16.8" height="101.2" fill="#40F0E8" stroke="#fff" stroke-width="1.6" />
<rect x="466.6" y="1291.0" width="16.8" height="99.7" fill="#40DCF4" stroke="#fff" stroke-width="1.6" />
<rect x="483.9" y="1292.5" width="16.8" height="98.2" fill="#48C0F4" stroke="#fff" stroke-width="1.6" />
<rect x="501.2" y="1298.6" width="16.8" height="92.1" fill="#48A8F0" stroke="#fff" stroke-width="1.6" />
<rect x="518.5" y="1301.6" width="16.8" height="89.1" fill="#5894F0" stroke="#fff" stroke-width="1.6" />
<rect x="535.8" y="1304.6" width="16.8" height="86.1" fill="#6482E8" stroke="#fff" stroke-width="1.6" />
<rect x="553.1" y="1317.8" width="16.8" height="72.9" fill="#7870E2" stroke="#fff" stroke-width="1.6" />
<rect x="570.3" y="1329.5" width="16.8" height="61.2" fill="#886ADC" stroke="#fff" stroke-width="1.6" />
<rect x="587.6" y="1330.5" width="16.8" height="60.2" fill="#985ADE" stroke="#fff" stroke-width="1.6" />
<rect x="604.9" y="1343.6" width="16.8" height="47.1" fill="#B050E0" stroke="#fff" stroke-width="1.6" />
<rect x="622.2" y="1344.7" width="16.8" height="46.0" fill="#CA4AE4" stroke="#fff" stroke-width="1.6" />
<rect x="639.5" y="1359.4" width="16.8" height="31.3" fill="#E844EA" stroke="#fff" stroke-width="1.6" />
<rect x="656.8" y="1361.9" width="16.8" height="28.8" fill="#F440E8" stroke="#fff" stroke-width="1.6" />
<rect x="674.1" y="1362.9" width="16.8" height="27.8" fill="#F43CD4" stroke="#fff" stroke-width="1.6" />
<rect x="691.4" y="1380.1" width="16.8" height="10.6" fill="#E8449C" stroke="#fff" stroke-width="1.6" />
<line x1="98.5" y1="1389.6" x2="105.0" y2="1389.6" stroke="#333" stroke-width="2.2" />
<text x="93.8" y="1397.6" font-size="23" fill="#3E3E3E" text-anchor="end" textLength="11.9" lengthAdjust="spacingAndGlyphs" stroke="#3E3E3E" stroke-width="0.35">0</text>
<line x1="98.5" y1="1259.7" x2="105.0" y2="1259.7" stroke="#333" stroke-width="2.2" />
<text x="93.8" y="1267.7" font-size="23" fill="#3E3E3E" text-anchor="end" textLength="47.6" lengthAdjust="spacingAndGlyphs" stroke="#3E3E3E" stroke-width="0.35">2500</text>
<line x1="98.5" y1="1129.8" x2="105.0" y2="1129.8" stroke="#333" stroke-width="2.2" />
<text x="93.8" y="1137.8" font-size="23" fill="#3E3E3E" text-anchor="end" textLength="47.6" lengthAdjust="spacingAndGlyphs" stroke="#3E3E3E" stroke-width="0.35">5000</text>
<line x1="98.5" y1="999.9" x2="105.0" y2="999.9" stroke="#333" stroke-width="2.2" />
<text x="93.8" y="1007.9" font-size="23" fill="#3E3E3E" text-anchor="end" textLength="47.6" lengthAdjust="spacingAndGlyphs" stroke="#3E3E3E" stroke-width="0.35">7500</text>
<line x1="129.2" y1="1416.0" x2="129.2" y2="1420.5" stroke="#333" stroke-width="2.4" />
<text x="129.2" y="1433.5" font-size="15.5" fill="#3E3E3E" text-anchor="middle" textLength="7.2" lengthAdjust="spacingAndGlyphs" stroke="#4D4D4D" stroke-width="0.35">1</text>
<line x1="146.5" y1="1416.0" x2="146.5" y2="1420.5" stroke="#333" stroke-width="2.4" />
<text x="146.5" y="1433.5" font-size="15.5" fill="#3E3E3E" text-anchor="middle" textLength="7.2" lengthAdjust="spacingAndGlyphs" stroke="#4D4D4D" stroke-width="0.35">2</text>
<line x1="163.8" y1="1416.0" x2="163.8" y2="1420.5" stroke="#333" stroke-width="2.4" />
<text x="163.8" y="1433.5" font-size="15.5" fill="#3E3E3E" text-anchor="middle" textLength="7.2" lengthAdjust="spacingAndGlyphs" stroke="#4D4D4D" stroke-width="0.35">3</text>
<line x1="181.1" y1="1416.0" x2="181.1" y2="1420.5" stroke="#333" stroke-width="2.4" />
<text x="181.1" y="1433.5" font-size="15.5" fill="#3E3E3E" text-anchor="middle" textLength="7.2" lengthAdjust="spacingAndGlyphs" stroke="#4D4D4D" stroke-width="0.35">4</text>
<line x1="198.4" y1="1416.0" x2="198.4" y2="1420.5" stroke="#333" stroke-width="2.4" />
<text x="198.4" y="1433.5" font-size="15.5" fill="#3E3E3E" text-anchor="middle" textLength="7.2" lengthAdjust="spacingAndGlyphs" stroke="#4D4D4D" stroke-width="0.35">5</text>
<line x1="215.6" y1="1416.0" x2="215.6" y2="1420.5" stroke="#333" stroke-width="2.4" />
<text x="215.6" y="1433.5" font-size="15.5" fill="#3E3E3E" text-anchor="middle" textLength="7.2" lengthAdjust="spacingAndGlyphs" stroke="#4D4D4D" stroke-width="0.35">6</text>
<line x1="232.9" y1="1416.0" x2="232.9" y2="1420.5" stroke="#333" stroke-width="2.4" />
<text x="232.9" y="1433.5" font-size="15.5" fill="#3E3E3E" text-anchor="middle" textLength="7.2" lengthAdjust="spacingAndGlyphs" stroke="#4D4D4D" stroke-width="0.35">7</text>
<line x1="250.2" y1="1416.0" x2="250.2" y2="1420.5" stroke="#333" stroke-width="2.4" />
<text x="250.2" y="1433.5" font-size="15.5" fill="#3E3E3E" text-anchor="middle" textLength="7.2" lengthAdjust="spacingAndGlyphs" stroke="#4D4D4D" stroke-width="0.35">8</text>
<line x1="267.5" y1="1416.0" x2="267.5" y2="1420.5" stroke="#333" stroke-width="2.4" />
<text x="267.5" y="1433.5" font-size="15.5" fill="#3E3E3E" text-anchor="middle" textLength="7.2" lengthAdjust="spacingAndGlyphs" stroke="#4D4D4D" stroke-width="0.35">9</text>
<line x1="284.8" y1="1416.0" x2="284.8" y2="1420.5" stroke="#333" stroke-width="2.4" />
<text x="284.8" y="1433.5" font-size="15.5" fill="#3E3E3E" text-anchor="middle" textLength="13.8" lengthAdjust="spacingAndGlyphs" stroke="#4D4D4D" stroke-width="0.35">10</text>
<line x1="302.1" y1="1416.0" x2="302.1" y2="1420.5" stroke="#333" stroke-width="2.4" />
<text x="302.1" y="1433.5" font-size="15.5" fill="#3E3E3E" text-anchor="middle" textLength="13.8" lengthAdjust="spacingAndGlyphs" stroke="#4D4D4D" stroke-width="0.35">11</text>
<line x1="319.4" y1="1416.0" x2="319.4" y2="1420.5" stroke="#333" stroke-width="2.4" />
<text x="319.4" y="1433.5" font-size="15.5" fill="#3E3E3E" text-anchor="middle" textLength="13.8" lengthAdjust="spacingAndGlyphs" stroke="#4D4D4D" stroke-width="0.35">12</text>
<line x1="336.7" y1="1416.0" x2="336.7" y2="1420.5" stroke="#333" stroke-width="2.4" />
<text x="336.7" y="1433.5" font-size="15.5" fill="#3E3E3E" text-anchor="middle" textLength="13.8" lengthAdjust="spacingAndGlyphs" stroke="#4D4D4D" stroke-width="0.35">13</text>
<line x1="354.0" y1="1416.0" x2="354.0" y2="1420.5" stroke="#333" stroke-width="2.4" />
<text x="354.0" y="1433.5" font-size="15.5" fill="#3E3E3E" text-anchor="middle" textLength="13.8" lengthAdjust="spacingAndGlyphs" stroke="#4D4D4D" stroke-width="0.35">14</text>
<line x1="371.3" y1="1416.0" x2="371.3" y2="1420.5" stroke="#333" stroke-width="2.4" />
<text x="371.3" y="1433.5" font-size="15.5" fill="#3E3E3E" text-anchor="middle" textLength="13.8" lengthAdjust="spacingAndGlyphs" stroke="#4D4D4D" stroke-width="0.35">15</text>
<line x1="388.5" y1="1416.0" x2="388.5" y2="1420.5" stroke="#333" stroke-width="2.4" />
<text x="388.5" y="1433.5" font-size="15.5" fill="#3E3E3E" text-anchor="middle" textLength="13.8" lengthAdjust="spacingAndGlyphs" stroke="#4D4D4D" stroke-width="0.35">16</text>
<line x1="405.8" y1="1416.0" x2="405.8" y2="1420.5" stroke="#333" stroke-width="2.4" />
<text x="405.8" y="1433.5" font-size="15.5" fill="#3E3E3E" text-anchor="middle" textLength="13.8" lengthAdjust="spacingAndGlyphs" stroke="#4D4D4D" stroke-width="0.35">17</text>
<line x1="423.1" y1="1416.0" x2="423.1" y2="1420.5" stroke="#333" stroke-width="2.4" />
<text x="423.1" y="1433.5" font-size="15.5" fill="#3E3E3E" text-anchor="middle" textLength="13.8" lengthAdjust="spacingAndGlyphs" stroke="#4D4D4D" stroke-width="0.35">18</text>
<line x1="440.4" y1="1416.0" x2="440.4" y2="1420.5" stroke="#333" stroke-width="2.4" />
<text x="440.4" y="1433.5" font-size="15.5" fill="#3E3E3E" text-anchor="middle" textLength="13.8" lengthAdjust="spacingAndGlyphs" stroke="#4D4D4D" stroke-width="0.35">19</text>
<line x1="457.7" y1="1416.0" x2="457.7" y2="1420.5" stroke="#333" stroke-width="2.4" />
<text x="457.7" y="1433.5" font-size="15.5" fill="#3E3E3E" text-anchor="middle" textLength="13.8" lengthAdjust="spacingAndGlyphs" stroke="#4D4D4D" stroke-width="0.35">20</text>
<line x1="475.0" y1="1416.0" x2="475.0" y2="1420.5" stroke="#333" stroke-width="2.4" />
<text x="475.0" y="1433.5" font-size="15.5" fill="#3E3E3E" text-anchor="middle" textLength="13.8" lengthAdjust="spacingAndGlyphs" stroke="#4D4D4D" stroke-width="0.35">21</text>
<line x1="492.3" y1="1416.0" x2="492.3" y2="1420.5" stroke="#333" stroke-width="2.4" />
<text x="492.3" y="1433.5" font-size="15.5" fill="#3E3E3E" text-anchor="middle" textLength="13.8" lengthAdjust="spacingAndGlyphs" stroke="#4D4D4D" stroke-width="0.35">22</text>
<line x1="509.6" y1="1416.0" x2="509.6" y2="1420.5" stroke="#333" stroke-width="2.4" />
<text x="509.6" y="1433.5" font-size="15.5" fill="#3E3E3E" text-anchor="middle" textLength="13.8" lengthAdjust="spacingAndGlyphs" stroke="#4D4D4D" stroke-width="0.35">23</text>
<line x1="526.9" y1="1416.0" x2="526.9" y2="1420.5" stroke="#333" stroke-width="2.4" />
<text x="526.9" y="1433.5" font-size="15.5" fill="#3E3E3E" text-anchor="middle" textLength="13.8" lengthAdjust="spacingAndGlyphs" stroke="#4D4D4D" stroke-width="0.35">24</text>
<line x1="544.2" y1="1416.0" x2="544.2" y2="1420.5" stroke="#333" stroke-width="2.4" />
<text x="544.2" y="1433.5" font-size="15.5" fill="#3E3E3E" text-anchor="middle" textLength="13.8" lengthAdjust="spacingAndGlyphs" stroke="#4D4D4D" stroke-width="0.35">25</text>
<line x1="561.5" y1="1416.0" x2="561.5" y2="1420.5" stroke="#333" stroke-width="2.4" />
<text x="561.5" y="1433.5" font-size="15.5" fill="#3E3E3E" text-anchor="middle" textLength="13.8" lengthAdjust="spacingAndGlyphs" stroke="#4D4D4D" stroke-width="0.35">26</text>
<line x1="578.7" y1="1416.0" x2="578.7" y2="1420.5" stroke="#333" stroke-width="2.4" />
<text x="578.7" y="1433.5" font-size="15.5" fill="#3E3E3E" text-anchor="middle" textLength="13.8" lengthAdjust="spacingAndGlyphs" stroke="#4D4D4D" stroke-width="0.35">27</text>
<line x1="596.0" y1="1416.0" x2="596.0" y2="1420.5" stroke="#333" stroke-width="2.4" />
<text x="596.0" y="1433.5" font-size="15.5" fill="#3E3E3E" text-anchor="middle" textLength="13.8" lengthAdjust="spacingAndGlyphs" stroke="#4D4D4D" stroke-width="0.35">28</text>
<line x1="613.3" y1="1416.0" x2="613.3" y2="1420.5" stroke="#333" stroke-width="2.4" />
<text x="613.3" y="1433.5" font-size="15.5" fill="#3E3E3E" text-anchor="middle" textLength="13.8" lengthAdjust="spacingAndGlyphs" stroke="#4D4D4D" stroke-width="0.35">29</text>
<line x1="630.6" y1="1416.0" x2="630.6" y2="1420.5" stroke="#333" stroke-width="2.4" />
<text x="630.6" y="1433.5" font-size="15.5" fill="#3E3E3E" text-anchor="middle" textLength="13.8" lengthAdjust="spacingAndGlyphs" stroke="#4D4D4D" stroke-width="0.35">30</text>
<line x1="647.9" y1="1416.0" x2="647.9" y2="1420.5" stroke="#333" stroke-width="2.4" />
<text x="647.9" y="1433.5" font-size="15.5" fill="#3E3E3E" text-anchor="middle" textLength="13.8" lengthAdjust="spacingAndGlyphs" stroke="#4D4D4D" stroke-width="0.35">31</text>
<line x1="665.2" y1="1416.0" x2="665.2" y2="1420.5" stroke="#333" stroke-width="2.4" />
<text x="665.2" y="1433.5" font-size="15.5" fill="#3E3E3E" text-anchor="middle" textLength="13.8" lengthAdjust="spacingAndGlyphs" stroke="#4D4D4D" stroke-width="0.35">32</text>
<line x1="682.5" y1="1416.0" x2="682.5" y2="1420.5" stroke="#333" stroke-width="2.4" />
<text x="682.5" y="1433.5" font-size="15.5" fill="#3E3E3E" text-anchor="middle" textLength="13.8" lengthAdjust="spacingAndGlyphs" stroke="#4D4D4D" stroke-width="0.35">33</text>
<line x1="699.8" y1="1416.0" x2="699.8" y2="1420.5" stroke="#333" stroke-width="2.4" />
<text x="699.8" y="1433.5" font-size="15.5" fill="#3E3E3E" text-anchor="middle" textLength="13.8" lengthAdjust="spacingAndGlyphs" stroke="#4D4D4D" stroke-width="0.35">34</text>
<text x="341.5" y="1464.7" font-size="30" textLength="139.7" lengthAdjust="spacingAndGlyphs" >Cell Cluster</text>
<text transform="translate(25,1169) rotate(-90)" font-size="30" text-anchor="middle" textLength="191" lengthAdjust="spacingAndGlyphs">Number of Cells</text>
<text x="861.8" y="875.6" font-size="29.5" textLength="416.5" lengthAdjust="spacingAndGlyphs" >Average Genes per Cell by Cluster</text>
<rect x="881.0" y="1245.0" width="4.2" height="34.4" fill="url(#gd)"/>
<path d="M883.1 997.5h0M883.1 1157.1h0M883.1 1135.0h0M883.1 1054.1h0M883.1 1126.6h0M883.1 1060.6h0M883.1 1166.5h0M883.1 1031.0h0M883.1 1167.4h0M883.1 1256.1h0M883.1 1257.7h0" fill="none" stroke="#000" stroke-opacity="0.44" stroke-width="4.0" stroke-linecap="round"/>
<path d="M883.1 1109.4h0M883.1 1119.4h0M883.1 1035.1h0M883.1 1083.5h0M883.1 1240.9h0M883.1 1052.1h0M883.1 1178.1h0M883.1 1078.7h0M883.1 1263.3h0M883.1 1267.1h0" fill="none" stroke="#000" stroke-opacity="0.44" stroke-width="4.0" stroke-linecap="round"/>
<path d="M883.1 1062.6h0M883.1 1030.4h0M883.1 1042.8h0M883.1 1175.8h0M883.1 1025.5h0M883.1 1105.6h0M883.1 1121.0h0M883.1 1186.3h0M883.1 1258.1h0M883.1 1265.6h0" fill="none" stroke="#000" stroke-opacity="0.44" stroke-width="4.0" stroke-linecap="round"/>
<path d="M883.1 1180.5h0M883.1 1151.1h0M883.1 1132.9h0M883.1 1235.8h0M883.1 1219.8h0M883.1 1212.1h0M883.1 1159.6h0M883.1 1133.6h0M883.1 1273.6h0M883.1 1275.9h0" fill="none" stroke="#000" stroke-opacity="0.44" stroke-width="4.0" stroke-linecap="round"/>
<path d="M883.1 1036.1h0M883.1 1021.5h0M883.1 1214.0h0M883.1 1165.6h0M883.1 1100.9h0M883.1 1071.5h0M883.1 1032.3h0M883.1 1107.0h0M883.1 1270.8h0M883.1 1271.7h0" fill="none" stroke="#000" stroke-opacity="0.44" stroke-width="4.0" stroke-linecap="round"/>
<rect x="881.0" y="1279.4" width="4.2" height="109.7" fill="#0a0a0a" />
<rect x="875.8" y="1350.4" width="14.6" height="19.4" fill="#F2618C" stroke="#232a2a" stroke-width="1.8"/>
<line x1="876.4" y1="1362.2" x2="889.8" y2="1362.2" stroke="#283033" stroke-width="6" />
<line x1="883.1" y1="1279.4" x2="883.1" y2="1389.1" stroke="#000" stroke-width="3.4" />
<line x1="876.4" y1="1279.4" x2="889.9" y2="1279.4" stroke="#000" stroke-width="3" />
<line x1="876.4" y1="1389.1" x2="889.9" y2="1389.1" stroke="#000" stroke-width="3" />
<rect x="898.4" y="1212.7" width="4.2" height="145.3" fill="url(#gd)"/>
<path d="M900.5 1063.0h0M900.5 1102.3h0M900.5 1164.1h0M900.5 1164.9h0M900.5 1175.2h0M900.5 1193.4h0M900.5 1291.0h0M900.5 1241.0h0M900.5 1289.3h0M900.5 1264.9h0M900.5 1244.7h0M900.5 1307.9h0M900.5 1304.9h0" fill="none" stroke="#000" stroke-opacity="0.44" stroke-width="4.0" stroke-linecap="round"/>
<path d="M900.5 1210.6h0M900.5 1153.3h0M900.5 1199.3h0M900.5 1149.0h0M900.5 1083.2h0M900.5 1265.9h0M900.5 1247.6h0M900.5 1260.3h0M900.5 1302.7h0M900.5 1284.6h0M900.5 1248.9h0M900.5 1262.6h0M900.5 1352.5h0" fill="none" stroke="#000" stroke-opacity="0.44" stroke-width="4.0" stroke-linecap="round"/>
<path d="M900.5 1095.8h0M900.5 1077.6h0M900.5 1128.9h0M900.5 1195.4h0M900.5 1179.6h0M900.5 1280.5h0M900.5 1238.8h0M900.5 1281.2h0M900.5 1344.3h0M900.5 1276.7h0M900.5 1257.8h0M900.5 1214.5h0M900.5 1320.7h0" fill="none" stroke="#000" stroke-opacity="0.44" stroke-width="4.0" stroke-linecap="round"/>
<path d="M900.5 1143.9h0M900.5 1175.6h0M900.5 1178.9h0M900.5 1206.8h0M900.5 1173.1h0M900.5 1318.0h0M900.5 1227.8h0M900.5 1342.9h0M900.5 1336.6h0M900.5 1344.4h0M900.5 1258.1h0M900.5 1285.1h0M900.5 1298.2h0" fill="none" stroke="#000" stroke-opacity="0.44" stroke-width="4.0" stroke-linecap="round"/>
<path d="M900.5 1186.0h0M900.5 1186.9h0M900.5 1166.7h0M900.5 1151.4h0M900.5 1212.0h0M900.5 1219.7h0M900.5 1330.4h0M900.5 1232.1h0M900.5 1342.0h0M900.5 1353.1h0M900.5 1294.1h0M900.5 1278.2h0" fill="none" stroke="#000" stroke-opacity="0.44" stroke-width="4.0" stroke-linecap="round"/>
<rect x="898.4" y="1358.0" width="4.2" height="33.3" fill="#0a0a0a" />
<rect x="893.2" y="1373.0" width="14.6" height="10.8" fill="#F07260" stroke="#232a2a" stroke-width="1.8"/>
<line x1="893.8" y1="1378.8" x2="907.2" y2="1378.8" stroke="#283033" stroke-width="6" />
<line x1="900.5" y1="1358.0" x2="900.5" y2="1391.3" stroke="#000" stroke-width="3.4" />
<line x1="893.7" y1="1358.0" x2="907.2" y2="1358.0" stroke="#000" stroke-width="3" />
<line x1="893.7" y1="1391.3" x2="907.2" y2="1391.3" stroke="#000" stroke-width="3" />
<rect x="915.8" y="976.0" width="4.2" height="183.0" fill="url(#gd)"/>
<path d="M917.9 921.0h0M917.9 967.1h0M917.9 931.4h0M917.9 1018.7h0M917.9 1005.3h0M917.9 1015.8h0M917.9 1136.5h0M917.9 1005.5h0M917.9 985.0h0M917.9 986.2h0M917.9 1038.5h0M917.9 1125.9h0" fill="none" stroke="#000" stroke-opacity="0.44" stroke-width="4.0" stroke-linecap="round"/>
<path d="M917.9 960.0h0M917.9 971.0h0M917.9 1103.1h0M917.9 1053.2h0M917.9 1057.5h0M917.9 1036.8h0M917.9 1158.0h0M917.9 1053.7h0M917.9 1151.8h0M917.9 1085.8h0M917.9 1058.0h0M917.9 1051.3h0" fill="none" stroke="#000" stroke-opacity="0.44" stroke-width="4.0" stroke-linecap="round"/>
<path d="M917.9 962.6h0M917.9 967.8h0M917.9 995.8h0M917.9 993.3h0M917.9 985.7h0M917.9 1054.5h0M917.9 1075.3h0M917.9 1039.2h0M917.9 1085.8h0M917.9 1155.8h0M917.9 1019.7h0M917.9 1031.1h0" fill="none" stroke="#000" stroke-opacity="0.44" stroke-width="4.0" stroke-linecap="round"/>
<path d="M917.9 927.3h0M917.9 949.1h0M917.9 997.1h0M917.9 976.2h0M917.9 1140.4h0M917.9 1057.6h0M917.9 1078.4h0M917.9 1133.5h0M917.9 1015.4h0M917.9 1138.7h0M917.9 1124.8h0" fill="none" stroke="#000" stroke-opacity="0.44" stroke-width="4.0" stroke-linecap="round"/>
<path d="M917.9 972.0h0M917.9 949.4h0M917.9 1028.3h0M917.9 1016.4h0M917.9 1099.9h0M917.9 1010.2h0M917.9 1001.7h0M917.9 1018.5h0M917.9 1088.3h0M917.9 1113.0h0M917.9 1086.6h0" fill="none" stroke="#000" stroke-opacity="0.44" stroke-width="4.0" stroke-linecap="round"/>
<rect x="915.8" y="1159.0" width="4.2" height="229.0" fill="#0a0a0a" />
<rect x="910.6" y="1253.6" width="14.6" height="64.5" fill="#ED7F34" stroke="#232a2a" stroke-width="1.8"/>
<line x1="911.2" y1="1290.2" x2="924.6" y2="1290.2" stroke="#283033" stroke-width="6" />
<line x1="917.9" y1="1159.0" x2="917.9" y2="1388.0" stroke="#000" stroke-width="3.4" />
<line x1="911.1" y1="1159.0" x2="924.6" y2="1159.0" stroke="#000" stroke-width="3" />
<line x1="911.1" y1="1388.0" x2="924.6" y2="1388.0" stroke="#000" stroke-width="3" />
<rect x="933.2" y="1019.0" width="4.2" height="101.2" fill="url(#gd)"/>
<path d="M935.3 925.4h0M935.3 1006.6h0M935.3 932.3h0M935.3 1016.1h0M935.3 1064.2h0M935.3 1088.4h0M935.3 1103.6h0M935.3 1099.4h0M935.3 1103.7h0" fill="none" stroke="#000" stroke-opacity="0.44" stroke-width="4.0" stroke-linecap="round"/>
<path d="M935.3 1006.1h0M935.3 1001.0h0M935.3 932.1h0M935.3 978.3h0M935.3 1049.2h0M935.3 1112.0h0M935.3 1033.1h0M935.3 1075.1h0M935.3 1117.9h0" fill="none" stroke="#000" stroke-opacity="0.44" stroke-width="4.0" stroke-linecap="round"/>
<path d="M935.3 1018.0h0M935.3 957.9h0M935.3 963.1h0M935.3 1115.1h0M935.3 1049.9h0M935.3 1107.1h0M935.3 1091.6h0M935.3 1044.5h0M935.3 1067.2h0" fill="none" stroke="#000" stroke-opacity="0.44" stroke-width="4.0" stroke-linecap="round"/>
<path d="M935.3 1009.0h0M935.3 984.1h0M935.3 961.2h0M935.3 1119.2h0M935.3 1046.6h0M935.3 1075.2h0M935.3 1112.8h0M935.3 1102.7h0M935.3 1067.8h0" fill="none" stroke="#000" stroke-opacity="0.44" stroke-width="4.0" stroke-linecap="round"/>
<path d="M935.3 1005.7h0M935.3 970.3h0M935.3 997.5h0M935.3 1116.5h0M935.3 1047.4h0M935.3 1091.0h0M935.3 1102.2h0M935.3 1060.9h0" fill="none" stroke="#000" stroke-opacity="0.44" stroke-width="4.0" stroke-linecap="round"/>
<rect x="933.2" y="1120.2" width="4.2" height="265.8" fill="#0a0a0a" />
<rect x="928.0" y="1231.0" width="14.6" height="74.2" fill="#E48A34" stroke="#232a2a" stroke-width="1.8"/>
<line x1="928.6" y1="1274.0" x2="942.0" y2="1274.0" stroke="#283033" stroke-width="6" />
<line x1="935.3" y1="1120.2" x2="935.3" y2="1386.0" stroke="#000" stroke-width="3.4" />
<line x1="928.5" y1="1120.2" x2="942.0" y2="1120.2" stroke="#000" stroke-width="3" />
<line x1="928.5" y1="1386.0" x2="942.0" y2="1386.0" stroke="#000" stroke-width="3" />
<rect x="950.6" y="1029.8" width="4.2" height="70.0" fill="url(#gd)"/>
<path d="M952.7 940.5h0M952.7 963.6h0M952.7 1028.6h0M952.7 944.1h0M952.7 1065.7h0M952.7 1056.0h0M952.7 1043.6h0" fill="none" stroke="#000" stroke-opacity="0.44" stroke-width="4.0" stroke-linecap="round"/>
<path d="M952.7 1026.4h0M952.7 1023.7h0M952.7 1006.8h0M952.7 1098.2h0M952.7 1092.5h0M952.7 1052.2h0M952.7 1094.7h0" fill="none" stroke="#000" stroke-opacity="0.44" stroke-width="4.0" stroke-linecap="round"/>
<path d="M952.7 1011.6h0M952.7 1017.2h0M952.7 982.8h0M952.7 1079.4h0M952.7 1089.9h0M952.7 1075.5h0M952.7 1060.3h0" fill="none" stroke="#000" stroke-opacity="0.44" stroke-width="4.0" stroke-linecap="round"/>
<path d="M952.7 965.6h0M952.7 963.0h0M952.7 998.8h0M952.7 1071.7h0M952.7 1050.0h0M952.7 1053.6h0M952.7 1067.3h0" fill="none" stroke="#000" stroke-opacity="0.44" stroke-width="4.0" stroke-linecap="round"/>
<path d="M952.7 960.8h0M952.7 1018.5h0M952.7 961.3h0M952.7 1096.1h0M952.7 1053.0h0M952.7 1064.7h0M952.7 1075.3h0" fill="none" stroke="#000" stroke-opacity="0.44" stroke-width="4.0" stroke-linecap="round"/>
<rect x="950.6" y="1099.8" width="4.2" height="288.2" fill="#0a0a0a" />
<rect x="945.4" y="1220.3" width="14.6" height="81.7" fill="#D69837" stroke="#232a2a" stroke-width="1.8"/>
<line x1="946.0" y1="1266.5" x2="959.4" y2="1266.5" stroke="#283033" stroke-width="6" />
<line x1="952.7" y1="1099.8" x2="952.7" y2="1388.0" stroke="#000" stroke-width="3.4" />
<line x1="945.9" y1="1099.8" x2="959.4" y2="1099.8" stroke="#000" stroke-width="3" />
<line x1="945.9" y1="1388.0" x2="959.4" y2="1388.0" stroke="#000" stroke-width="3" />
<rect x="968.0" y="1083.6" width="4.2" height="64.6" fill="url(#gd)"/>
<path d="M970.1 1033.0h0M970.1 1065.2h0M970.1 1084.4h0M970.1 1124.0h0M970.1 1094.3h0M970.1 1121.2h0" fill="none" stroke="#000" stroke-opacity="0.44" stroke-width="4.0" stroke-linecap="round"/>
<path d="M970.1 1080.1h0M970.1 1064.8h0M970.1 1137.6h0M970.1 1110.0h0M970.1 1124.2h0M970.1 1124.3h0" fill="none" stroke="#000" stroke-opacity="0.44" stroke-width="4.0" stroke-linecap="round"/>
<path d="M970.1 1060.1h0M970.1 1035.2h0M970.1 1099.4h0M970.1 1121.8h0M970.1 1104.8h0M970.1 1135.5h0" fill="none" stroke="#000" stroke-opacity="0.44" stroke-width="4.0" stroke-linecap="round"/>
<path d="M970.1 1080.6h0M970.1 1061.1h0M970.1 1119.1h0M970.1 1124.0h0M970.1 1106.7h0" fill="none" stroke="#000" stroke-opacity="0.44" stroke-width="4.0" stroke-linecap="round"/>
<path d="M970.1 1063.8h0M970.1 1047.7h0M970.1 1133.6h0M970.1 1136.8h0M970.1 1136.1h0" fill="none" stroke="#000" stroke-opacity="0.44" stroke-width="4.0" stroke-linecap="round"/>
<rect x="968.0" y="1148.2" width="4.2" height="236.6" fill="#0a0a0a" />
<rect x="962.8" y="1237.5" width="14.6" height="59.1" fill="#C49D3B" stroke="#232a2a" stroke-width="1.8"/>
<line x1="963.4" y1="1270.8" x2="976.8" y2="1270.8" stroke="#283033" stroke-width="6" />
<line x1="970.1" y1="1148.2" x2="970.1" y2="1384.8" stroke="#000" stroke-width="3.4" />
<line x1="963.3" y1="1148.2" x2="976.8" y2="1148.2" stroke="#000" stroke-width="3" />
<line x1="963.3" y1="1384.8" x2="976.8" y2="1384.8" stroke="#000" stroke-width="3" />
<rect x="985.3" y="1088.0" width="4.2" height="96.8" fill="url(#gd)"/>
<path d="M987.4 1070.6h0M987.4 1144.7h0M987.4 1180.2h0M987.4 1148.8h0M987.4 1138.4h0M987.4 1167.7h0M987.4 1108.4h0" fill="none" stroke="#000" stroke-opacity="0.44" stroke-width="4.0" stroke-linecap="round"/>
<path d="M987.4 1086.9h0M987.4 1160.2h0M987.4 1160.7h0M987.4 1180.4h0M987.4 1099.9h0M987.4 1176.7h0" fill="none" stroke="#000" stroke-opacity="0.44" stroke-width="4.0" stroke-linecap="round"/>
<path d="M987.4 1080.0h0M987.4 1139.3h0M987.4 1175.1h0M987.4 1172.2h0M987.4 1119.0h0M987.4 1109.7h0" fill="none" stroke="#000" stroke-opacity="0.44" stroke-width="4.0" stroke-linecap="round"/>
<path d="M987.4 1082.7h0M987.4 1146.5h0M987.4 1180.3h0M987.4 1107.8h0M987.4 1099.9h0M987.4 1162.1h0" fill="none" stroke="#000" stroke-opacity="0.44" stroke-width="4.0" stroke-linecap="round"/>
<path d="M987.4 1081.0h0M987.4 1141.6h0M987.4 1120.9h0M987.4 1105.9h0M987.4 1158.2h0M987.4 1157.4h0" fill="none" stroke="#000" stroke-opacity="0.44" stroke-width="4.0" stroke-linecap="round"/>
<rect x="985.3" y="1184.8" width="4.2" height="203.2" fill="#0a0a0a" />
<rect x="980.1" y="1278.3" width="14.6" height="63.5" fill="#AFAB3B" stroke="#232a2a" stroke-width="1.8"/>
<line x1="980.7" y1="1311.7" x2="994.1" y2="1311.7" stroke="#283033" stroke-width="6" />
<line x1="987.4" y1="1184.8" x2="987.4" y2="1388.0" stroke="#000" stroke-width="3.4" />
<line x1="980.7" y1="1184.8" x2="994.2" y2="1184.8" stroke="#000" stroke-width="3" />
<line x1="980.7" y1="1388.0" x2="994.2" y2="1388.0" stroke="#000" stroke-width="3" />
<rect x="1002.7" y="954.5" width="4.2" height="105.5" fill="url(#gd)"/>
<path d="M1004.8 921.0h0M1004.8 938.1h0M1004.8 1008.4h0M1004.8 1035.8h0M1004.8 998.1h0M1004.8 1041.7h0M1004.8 1040.9h0M1004.8 1044.4h0" fill="none" stroke="#000" stroke-opacity="0.44" stroke-width="4.0" stroke-linecap="round"/>
<path d="M1004.8 951.6h0M1004.8 940.9h0M1004.8 1016.6h0M1004.8 959.0h0M1004.8 1026.8h0M1004.8 1057.6h0M1004.8 991.6h0" fill="none" stroke="#000" stroke-opacity="0.44" stroke-width="4.0" stroke-linecap="round"/>
<path d="M1004.8 953.7h0M1004.8 954.3h0M1004.8 998.9h0M1004.8 1020.3h0M1004.8 1016.3h0M1004.8 971.9h0M1004.8 975.1h0" fill="none" stroke="#000" stroke-opacity="0.44" stroke-width="4.0" stroke-linecap="round"/>
<path d="M1004.8 931.9h0M1004.8 1045.6h0M1004.8 983.1h0M1004.8 1009.2h0M1004.8 966.2h0M1004.8 991.0h0M1004.8 1007.4h0" fill="none" stroke="#000" stroke-opacity="0.44" stroke-width="4.0" stroke-linecap="round"/>
<path d="M1004.8 953.3h0M1004.8 979.0h0M1004.8 996.7h0M1004.8 958.8h0M1004.8 1058.7h0M1004.8 962.5h0M1004.8 1052.5h0" fill="none" stroke="#000" stroke-opacity="0.44" stroke-width="4.0" stroke-linecap="round"/>
<rect x="1002.7" y="1060.0" width="4.2" height="327.0" fill="#0a0a0a" />
<rect x="997.5" y="1205.2" width="14.6" height="100.0" fill="#9AB93B" stroke="#232a2a" stroke-width="1.8"/>
<line x1="998.1" y1="1261.1" x2="1011.5" y2="1261.1" stroke="#283033" stroke-width="6" />
<line x1="1004.8" y1="1060.0" x2="1004.8" y2="1387.0" stroke="#000" stroke-width="3.4" />
<line x1="998.1" y1="1060.0" x2="1011.6" y2="1060.0" stroke="#000" stroke-width="3" />
<line x1="998.1" y1="1387.0" x2="1011.6" y2="1387.0" stroke="#000" stroke-width="3" />
<rect x="1020.1" y="1019.0" width="4.2" height="93.7" fill="url(#gd)"/>
<path d="M1022.2 987.8h0M1022.2 1011.9h0M1022.2 1030.5h0M1022.2 1101.8h0M1022.2 1077.3h0M1022.2 1048.8h0M1022.2 1055.9h0" fill="none" stroke="#000" stroke-opacity="0.44" stroke-width="4.0" stroke-linecap="round"/>
<path d="M1022.2 999.3h0M1022.2 992.7h0M1022.2 1108.0h0M1022.2 1029.7h0M1022.2 1107.2h0M1022.2 1035.0h0M1022.2 1055.2h0" fill="none" stroke="#000" stroke-opacity="0.44" stroke-width="4.0" stroke-linecap="round"/>
<path d="M1022.2 995.3h0M1022.2 1028.5h0M1022.2 1084.1h0M1022.2 1102.3h0M1022.2 1051.7h0M1022.2 1040.8h0" fill="none" stroke="#000" stroke-opacity="0.44" stroke-width="4.0" stroke-linecap="round"/>
<path d="M1022.2 1017.2h0M1022.2 1088.5h0M1022.2 1097.5h0M1022.2 1068.8h0M1022.2 1037.2h0M1022.2 1027.6h0" fill="none" stroke="#000" stroke-opacity="0.44" stroke-width="4.0" stroke-linecap="round"/>
<path d="M1022.2 1008.5h0M1022.2 1066.3h0M1022.2 1031.9h0M1022.2 1058.5h0M1022.2 1075.1h0M1022.2 1045.0h0" fill="none" stroke="#000" stroke-opacity="0.44" stroke-width="4.0" stroke-linecap="round"/>
<rect x="1020.1" y="1112.7" width="4.2" height="259.3" fill="#0a0a0a" />
<rect x="1014.9" y="1209.5" width="14.6" height="66.7" fill="#81C83B" stroke="#232a2a" stroke-width="1.8"/>
<line x1="1015.5" y1="1245.0" x2="1028.9" y2="1245.0" stroke="#283033" stroke-width="6" />
<line x1="1022.2" y1="1112.7" x2="1022.2" y2="1372.0" stroke="#000" stroke-width="3.4" />
<line x1="1015.5" y1="1112.7" x2="1029.0" y2="1112.7" stroke="#000" stroke-width="3" />
<line x1="1015.5" y1="1372.0" x2="1029.0" y2="1372.0" stroke="#000" stroke-width="3" />
<rect x="1037.5" y="1154.6" width="4.2" height="157.1" fill="url(#gd)"/>
<path d="M1039.6 919.0h0M1039.6 1030.8h0M1039.6 1073.9h0M1039.6 1123.7h0M1039.6 1065.0h0M1039.6 1103.6h0M1039.6 974.7h0M1039.6 960.0h0M1039.6 1205.1h0M1039.6 1208.6h0M1039.6 1307.4h0M1039.6 1241.2h0M1039.6 1208.8h0M1039.6 1215.2h0M1039.6 1266.9h0M1039.6 1309.8h0" fill="none" stroke="#000" stroke-opacity="0.44" stroke-width="4.0" stroke-linecap="round"/>
<path d="M1039.6 1113.2h0M1039.6 932.3h0M1039.6 991.8h0M1039.6 1049.5h0M1039.6 1100.1h0M1039.6 1090.4h0M1039.6 955.0h0M1039.6 1127.6h0M1039.6 1213.4h0M1039.6 1306.9h0M1039.6 1216.1h0M1039.6 1245.2h0M1039.6 1177.4h0M1039.6 1203.6h0M1039.6 1274.9h0M1039.6 1188.9h0" fill="none" stroke="#000" stroke-opacity="0.44" stroke-width="4.0" stroke-linecap="round"/>
<path d="M1039.6 1017.5h0M1039.6 1007.8h0M1039.6 1058.5h0M1039.6 1062.6h0M1039.6 1151.7h0M1039.6 1043.6h0M1039.6 1109.8h0M1039.6 1132.7h0M1039.6 1238.9h0M1039.6 1308.2h0M1039.6 1223.5h0M1039.6 1198.1h0M1039.6 1230.0h0M1039.6 1257.0h0M1039.6 1296.3h0M1039.6 1276.0h0" fill="none" stroke="#000" stroke-opacity="0.44" stroke-width="4.0" stroke-linecap="round"/>
<path d="M1039.6 1063.7h0M1039.6 930.7h0M1039.6 1143.7h0M1039.6 1126.5h0M1039.6 1029.8h0M1039.6 1030.9h0M1039.6 1009.1h0M1039.6 1096.9h0M1039.6 1190.4h0M1039.6 1251.6h0M1039.6 1155.3h0M1039.6 1245.5h0M1039.6 1167.0h0M1039.6 1249.0h0M1039.6 1228.5h0M1039.6 1265.0h0" fill="none" stroke="#000" stroke-opacity="0.44" stroke-width="4.0" stroke-linecap="round"/>
<path d="M1039.6 988.7h0M1039.6 1108.4h0M1039.6 967.3h0M1039.6 1041.1h0M1039.6 1126.1h0M1039.6 948.8h0M1039.6 984.5h0M1039.6 1211.7h0M1039.6 1236.9h0M1039.6 1205.5h0M1039.6 1227.3h0M1039.6 1156.8h0M1039.6 1162.1h0M1039.6 1279.5h0M1039.6 1218.7h0M1039.6 1167.5h0" fill="none" stroke="#000" stroke-opacity="0.44" stroke-width="4.0" stroke-linecap="round"/>
<rect x="1037.5" y="1311.7" width="4.2" height="76.3" fill="#0a0a0a" />
<rect x="1032.3" y="1352.6" width="14.6" height="27.9" fill="#70D642" stroke="#232a2a" stroke-width="1.8"/>
<line x1="1032.9" y1="1368.7" x2="1046.3" y2="1368.7" stroke="#283033" stroke-width="6" />
<line x1="1039.6" y1="1311.7" x2="1039.6" y2="1388.0" stroke="#000" stroke-width="3.4" />
<line x1="1032.9" y1="1311.7" x2="1046.4" y2="1311.7" stroke="#000" stroke-width="3" />
<line x1="1032.9" y1="1388.0" x2="1046.4" y2="1388.0" stroke="#000" stroke-width="3" />
<rect x="1054.9" y="1008.0" width="4.2" height="88.5" fill="url(#gd)"/>
<path d="M1057.0 912.5h0M1057.0 994.9h0M1057.0 994.4h0M1057.0 986.2h0M1057.0 1022.6h0M1057.0 1073.1h0M1057.0 1059.1h0M1057.0 1037.4h0M1057.0 1077.5h0" fill="none" stroke="#000" stroke-opacity="0.44" stroke-width="4.0" stroke-linecap="round"/>
<path d="M1057.0 996.6h0M1057.0 935.8h0M1057.0 995.9h0M1057.0 946.0h0M1057.0 1084.7h0M1057.0 1058.0h0M1057.0 1061.7h0M1057.0 1019.1h0" fill="none" stroke="#000" stroke-opacity="0.44" stroke-width="4.0" stroke-linecap="round"/>
<path d="M1057.0 1000.6h0M1057.0 972.9h0M1057.0 977.7h0M1057.0 1013.5h0M1057.0 1063.5h0M1057.0 1008.9h0M1057.0 1071.4h0M1057.0 1038.6h0" fill="none" stroke="#000" stroke-opacity="0.44" stroke-width="4.0" stroke-linecap="round"/>
<path d="M1057.0 981.1h0M1057.0 971.3h0M1057.0 1000.6h0M1057.0 1025.6h0M1057.0 1069.0h0M1057.0 1081.9h0M1057.0 1018.1h0M1057.0 1076.8h0" fill="none" stroke="#000" stroke-opacity="0.44" stroke-width="4.0" stroke-linecap="round"/>
<path d="M1057.0 989.2h0M1057.0 996.6h0M1057.0 985.4h0M1057.0 1047.1h0M1057.0 1068.9h0M1057.0 1078.2h0M1057.0 1077.3h0M1057.0 1032.9h0" fill="none" stroke="#000" stroke-opacity="0.44" stroke-width="4.0" stroke-linecap="round"/>
<rect x="1054.9" y="1096.5" width="4.2" height="290.5" fill="#0a0a0a" />
<rect x="1049.7" y="1234.2" width="14.6" height="92.5" fill="#5EE442" stroke="#232a2a" stroke-width="1.8"/>
<line x1="1050.3" y1="1287.0" x2="1063.7" y2="1287.0" stroke="#283033" stroke-width="6" />
<line x1="1057.0" y1="1096.5" x2="1057.0" y2="1387.0" stroke="#000" stroke-width="3.4" />
<line x1="1050.2" y1="1096.5" x2="1063.8" y2="1096.5" stroke="#000" stroke-width="3" />
<line x1="1050.2" y1="1387.0" x2="1063.8" y2="1387.0" stroke="#000" stroke-width="3" />
<rect x="1072.3" y="1019.0" width="4.2" height="91.5" fill="url(#gd)"/>
<path d="M1074.4 917.0h0M1074.4 994.9h0M1074.4 943.0h0M1074.4 920.8h0M1074.4 1085.9h0M1074.4 1035.6h0M1074.4 1022.6h0M1074.4 1051.0h0M1074.4 1038.2h0" fill="none" stroke="#000" stroke-opacity="0.44" stroke-width="4.0" stroke-linecap="round"/>
<path d="M1074.4 1017.2h0M1074.4 1001.5h0M1074.4 955.5h0M1074.4 930.5h0M1074.4 1053.1h0M1074.4 1102.6h0M1074.4 1068.1h0M1074.4 1045.2h0M1074.4 1073.6h0" fill="none" stroke="#000" stroke-opacity="0.44" stroke-width="4.0" stroke-linecap="round"/>
<path d="M1074.4 978.9h0M1074.4 989.5h0M1074.4 999.7h0M1074.4 957.1h0M1074.4 1072.9h0M1074.4 1044.2h0M1074.4 1097.1h0M1074.4 1106.5h0" fill="none" stroke="#000" stroke-opacity="0.44" stroke-width="4.0" stroke-linecap="round"/>
<path d="M1074.4 968.6h0M1074.4 991.6h0M1074.4 960.8h0M1074.4 1085.6h0M1074.4 1068.6h0M1074.4 1108.9h0M1074.4 1108.2h0M1074.4 1045.3h0" fill="none" stroke="#000" stroke-opacity="0.44" stroke-width="4.0" stroke-linecap="round"/>
<path d="M1074.4 977.5h0M1074.4 933.2h0M1074.4 985.3h0M1074.4 1087.2h0M1074.4 1068.7h0M1074.4 1105.8h0M1074.4 1067.3h0M1074.4 1078.3h0" fill="none" stroke="#000" stroke-opacity="0.44" stroke-width="4.0" stroke-linecap="round"/>
<rect x="1072.3" y="1110.5" width="4.2" height="276.5" fill="#0a0a0a" />
<rect x="1067.1" y="1256.8" width="14.6" height="99.0" fill="#4CF03D" stroke="#232a2a" stroke-width="1.8"/>
<line x1="1067.7" y1="1323.5" x2="1081.1" y2="1323.5" stroke="#283033" stroke-width="6" />
<line x1="1074.4" y1="1110.5" x2="1074.4" y2="1387.0" stroke="#000" stroke-width="3.4" />
<line x1="1067.6" y1="1110.5" x2="1081.1" y2="1110.5" stroke="#000" stroke-width="3" />
<line x1="1067.6" y1="1387.0" x2="1081.1" y2="1387.0" stroke="#000" stroke-width="3" />
<rect x="1089.7" y="1019.0" width="4.2" height="74.3" fill="url(#gd)"/>
<path d="M1091.8 937.3h0M1091.8 1012.3h0M1091.8 942.5h0M1091.8 1034.5h0M1091.8 1078.1h0M1091.8 1087.4h0M1091.8 1067.7h0" fill="none" stroke="#000" stroke-opacity="0.44" stroke-width="4.0" stroke-linecap="round"/>
<path d="M1091.8 1016.2h0M1091.8 1000.9h0M1091.8 937.9h0M1091.8 1050.6h0M1091.8 1083.6h0M1091.8 1046.6h0M1091.8 1051.9h0" fill="none" stroke="#000" stroke-opacity="0.44" stroke-width="4.0" stroke-linecap="round"/>
<path d="M1091.8 956.4h0M1091.8 966.0h0M1091.8 986.6h0M1091.8 1048.6h0M1091.8 1032.6h0M1091.8 1052.7h0M1091.8 1056.7h0" fill="none" stroke="#000" stroke-opacity="0.44" stroke-width="4.0" stroke-linecap="round"/>
<path d="M1091.8 1008.3h0M1091.8 1013.0h0M1091.8 983.6h0M1091.8 1083.6h0M1091.8 1088.9h0M1091.8 1054.2h0M1091.8 1045.5h0" fill="none" stroke="#000" stroke-opacity="0.44" stroke-width="4.0" stroke-linecap="round"/>
<path d="M1091.8 987.8h0M1091.8 986.2h0M1091.8 972.1h0M1091.8 1019.5h0M1091.8 1075.7h0M1091.8 1093.2h0M1091.8 1025.6h0" fill="none" stroke="#000" stroke-opacity="0.44" stroke-width="4.0" stroke-linecap="round"/>
<rect x="1089.7" y="1093.3" width="4.2" height="295.7" fill="#0a0a0a" />
<rect x="1084.5" y="1224.6" width="14.6" height="90.3" fill="#49F242" stroke="#232a2a" stroke-width="1.8"/>
<line x1="1085.1" y1="1274.0" x2="1098.5" y2="1274.0" stroke="#283033" stroke-width="6" />
<line x1="1091.8" y1="1093.3" x2="1091.8" y2="1389.0" stroke="#000" stroke-width="3.4" />
<line x1="1085.0" y1="1093.3" x2="1098.5" y2="1093.3" stroke="#000" stroke-width="3" />
<line x1="1085.0" y1="1389.0" x2="1098.5" y2="1389.0" stroke="#000" stroke-width="3" />
<rect x="1107.1" y="1303.0" width="4.2" height="21.6" fill="url(#gd)"/>
<path d="M1109.2 957.7h0M1109.2 1087.7h0M1109.2 1292.3h0M1109.2 1288.5h0M1109.2 1155.0h0M1109.2 1285.0h0M1109.2 1236.9h0M1109.2 1186.7h0M1109.2 1279.9h0M1109.2 1154.7h0M1109.2 1021.4h0M1109.2 1239.7h0M1109.2 1312.1h0" fill="none" stroke="#000" stroke-opacity="0.44" stroke-width="4.0" stroke-linecap="round"/>
<path d="M1109.2 1026.6h0M1109.2 1093.6h0M1109.2 1274.4h0M1109.2 1184.4h0M1109.2 1240.5h0M1109.2 1038.5h0M1109.2 1297.2h0M1109.2 1137.2h0M1109.2 1169.0h0M1109.2 1044.0h0M1109.2 1083.9h0M1109.2 1313.6h0M1109.2 1305.3h0" fill="none" stroke="#000" stroke-opacity="0.44" stroke-width="4.0" stroke-linecap="round"/>
<path d="M1109.2 1261.9h0M1109.2 1173.1h0M1109.2 1256.0h0M1109.2 1231.7h0M1109.2 1211.3h0M1109.2 1161.5h0M1109.2 1091.6h0M1109.2 1055.8h0M1109.2 1076.7h0M1109.2 1065.9h0M1109.2 1091.0h0M1109.2 1313.7h0M1109.2 1310.7h0" fill="none" stroke="#000" stroke-opacity="0.44" stroke-width="4.0" stroke-linecap="round"/>
<path d="M1109.2 1100.7h0M1109.2 1064.9h0M1109.2 1207.6h0M1109.2 998.9h0M1109.2 1101.0h0M1109.2 1120.7h0M1109.2 1214.5h0M1109.2 1053.4h0M1109.2 1279.9h0M1109.2 1021.2h0M1109.2 1190.2h0M1109.2 1315.9h0" fill="none" stroke="#000" stroke-opacity="0.44" stroke-width="4.0" stroke-linecap="round"/>
<path d="M1109.2 1287.2h0M1109.2 1130.5h0M1109.2 1281.7h0M1109.2 1235.2h0M1109.2 998.6h0M1109.2 1105.0h0M1109.2 1106.1h0M1109.2 1072.0h0M1109.2 1302.1h0M1109.2 1120.1h0M1109.2 1275.2h0M1109.2 1312.9h0" fill="none" stroke="#000" stroke-opacity="0.44" stroke-width="4.0" stroke-linecap="round"/>
<rect x="1107.1" y="1324.6" width="4.2" height="62.4" fill="#0a0a0a" />
<rect x="1101.9" y="1354.7" width="14.6" height="21.5" fill="#49ED50" stroke="#232a2a" stroke-width="1.8"/>
<line x1="1102.5" y1="1368.7" x2="1115.9" y2="1368.7" stroke="#283033" stroke-width="6" />
<line x1="1109.2" y1="1324.6" x2="1109.2" y2="1387.0" stroke="#000" stroke-width="3.4" />
<line x1="1102.4" y1="1324.6" x2="1115.9" y2="1324.6" stroke="#000" stroke-width="3" />
<line x1="1102.4" y1="1387.0" x2="1115.9" y2="1387.0" stroke="#000" stroke-width="3" />
<rect x="1124.5" y="1326.7" width="4.2" height="21.6" fill="url(#gd)"/>
<path d="M1126.6 1215.9h0M1126.6 1315.7h0M1126.6 1278.4h0M1126.6 1225.0h0M1126.6 1326.7h0M1126.6 1347.8h0" fill="none" stroke="#000" stroke-opacity="0.44" stroke-width="4.0" stroke-linecap="round"/>
<path d="M1126.6 1324.2h0M1126.6 1253.1h0M1126.6 1323.1h0M1126.6 1302.8h0M1126.6 1336.9h0M1126.6 1333.8h0" fill="none" stroke="#000" stroke-opacity="0.44" stroke-width="4.0" stroke-linecap="round"/>
<path d="M1126.6 1241.1h0M1126.6 1259.7h0M1126.6 1314.6h0M1126.6 1318.4h0M1126.6 1347.0h0" fill="none" stroke="#000" stroke-opacity="0.44" stroke-width="4.0" stroke-linecap="round"/>
<path d="M1126.6 1284.0h0M1126.6 1257.1h0M1126.6 1316.6h0M1126.6 1281.1h0M1126.6 1345.2h0" fill="none" stroke="#000" stroke-opacity="0.44" stroke-width="4.0" stroke-linecap="round"/>
<path d="M1126.6 1295.8h0M1126.6 1273.7h0M1126.6 1222.6h0M1126.6 1291.9h0M1126.6 1345.8h0" fill="none" stroke="#000" stroke-opacity="0.44" stroke-width="4.0" stroke-linecap="round"/>
<rect x="1124.5" y="1348.3" width="4.2" height="39.7" fill="#0a0a0a" />
<rect x="1119.3" y="1366.5" width="14.6" height="13.0" fill="#49EB65" stroke="#232a2a" stroke-width="1.8"/>
<line x1="1119.9" y1="1373.0" x2="1133.3" y2="1373.0" stroke="#283033" stroke-width="6" />
<line x1="1126.6" y1="1348.3" x2="1126.6" y2="1388.0" stroke="#000" stroke-width="3.4" />
<line x1="1119.8" y1="1348.3" x2="1133.3" y2="1348.3" stroke="#000" stroke-width="3" />
<line x1="1119.8" y1="1388.0" x2="1133.3" y2="1388.0" stroke="#000" stroke-width="3" />
<rect x="1141.9" y="1048.0" width="4.2" height="188.4" fill="url(#gd)"/>
<path d="M1144.0 971.7h0M1144.0 1044.8h0M1144.0 1021.7h0M1144.0 1180.7h0M1144.0 1189.4h0M1144.0 1136.4h0M1144.0 1149.3h0M1144.0 1107.1h0M1144.0 1056.8h0M1144.0 1184.3h0M1144.0 1142.2h0M1144.0 1157.1h0M1144.0 1106.3h0" fill="none" stroke="#000" stroke-opacity="0.44" stroke-width="4.0" stroke-linecap="round"/>
<path d="M1144.0 987.1h0M1144.0 1032.2h0M1144.0 978.8h0M1144.0 1120.6h0M1144.0 1080.7h0M1144.0 1104.8h0M1144.0 1230.2h0M1144.0 1109.6h0M1144.0 1155.9h0M1144.0 1225.0h0M1144.0 1186.8h0M1144.0 1101.1h0M1144.0 1104.4h0" fill="none" stroke="#000" stroke-opacity="0.44" stroke-width="4.0" stroke-linecap="round"/>
<path d="M1144.0 991.6h0M1144.0 1027.7h0M1144.0 1035.8h0M1144.0 1084.4h0M1144.0 1070.5h0M1144.0 1173.4h0M1144.0 1180.6h0M1144.0 1230.4h0M1144.0 1185.5h0M1144.0 1105.5h0M1144.0 1099.6h0M1144.0 1231.8h0M1144.0 1199.3h0" fill="none" stroke="#000" stroke-opacity="0.44" stroke-width="4.0" stroke-linecap="round"/>
<path d="M1144.0 1019.8h0M1144.0 1034.8h0M1144.0 998.5h0M1144.0 1110.5h0M1144.0 1160.4h0M1144.0 1052.9h0M1144.0 1218.7h0M1144.0 1190.4h0M1144.0 1142.1h0M1144.0 1060.6h0M1144.0 1205.1h0M1144.0 1122.1h0" fill="none" stroke="#000" stroke-opacity="0.44" stroke-width="4.0" stroke-linecap="round"/>
<path d="M1144.0 1029.8h0M1144.0 1015.4h0M1144.0 1224.2h0M1144.0 1179.2h0M1144.0 1170.3h0M1144.0 1120.2h0M1144.0 1151.9h0M1144.0 1121.3h0M1144.0 1111.6h0M1144.0 1127.1h0M1144.0 1195.9h0M1144.0 1208.7h0" fill="none" stroke="#000" stroke-opacity="0.44" stroke-width="4.0" stroke-linecap="round"/>
<rect x="1141.9" y="1236.4" width="4.2" height="149.6" fill="#0a0a0a" />
<rect x="1136.7" y="1309.5" width="14.6" height="49.5" fill="#4CEB7E" stroke="#232a2a" stroke-width="1.8"/>
<line x1="1137.2" y1="1338.6" x2="1150.7" y2="1338.6" stroke="#283033" stroke-width="6" />
<line x1="1144.0" y1="1236.4" x2="1144.0" y2="1386.0" stroke="#000" stroke-width="3.4" />
<line x1="1137.2" y1="1236.4" x2="1150.7" y2="1236.4" stroke="#000" stroke-width="3" />
<line x1="1137.2" y1="1386.0" x2="1150.7" y2="1386.0" stroke="#000" stroke-width="3" />
<rect x="1159.2" y="1062.0" width="4.2" height="52.8" fill="url(#gd)"/>
<path d="M1161.3 990.0h0M1161.3 1014.6h0M1161.3 1027.0h0M1161.3 1067.6h0M1161.3 1114.7h0M1161.3 1103.8h0" fill="none" stroke="#000" stroke-opacity="0.44" stroke-width="4.0" stroke-linecap="round"/>
<path d="M1161.3 1020.1h0M1161.3 1028.6h0M1161.3 1013.7h0M1161.3 1087.0h0M1161.3 1111.9h0M1161.3 1065.4h0" fill="none" stroke="#000" stroke-opacity="0.44" stroke-width="4.0" stroke-linecap="round"/>
<path d="M1161.3 1059.5h0M1161.3 1043.9h0M1161.3 1060.7h0M1161.3 1110.5h0M1161.3 1083.7h0M1161.3 1100.1h0" fill="none" stroke="#000" stroke-opacity="0.44" stroke-width="4.0" stroke-linecap="round"/>
<path d="M1161.3 1033.7h0M1161.3 1059.4h0M1161.3 1007.6h0M1161.3 1109.8h0M1161.3 1075.7h0M1161.3 1086.3h0" fill="none" stroke="#000" stroke-opacity="0.44" stroke-width="4.0" stroke-linecap="round"/>
<path d="M1161.3 1011.6h0M1161.3 1008.0h0M1161.3 1066.9h0M1161.3 1103.2h0M1161.3 1112.1h0" fill="none" stroke="#000" stroke-opacity="0.44" stroke-width="4.0" stroke-linecap="round"/>
<rect x="1159.2" y="1114.8" width="4.2" height="275.4" fill="#0a0a0a" />
<rect x="1154.0" y="1225.6" width="14.6" height="74.3" fill="#4EEB9A" stroke="#232a2a" stroke-width="1.8"/>
<line x1="1154.6" y1="1264.4" x2="1168.0" y2="1264.4" stroke="#283033" stroke-width="6" />
<line x1="1161.3" y1="1114.8" x2="1161.3" y2="1390.2" stroke="#000" stroke-width="3.4" />
<line x1="1154.6" y1="1114.8" x2="1168.1" y2="1114.8" stroke="#000" stroke-width="3" />
<line x1="1154.6" y1="1390.2" x2="1168.1" y2="1390.2" stroke="#000" stroke-width="3" />
<rect x="1176.6" y="1176.0" width="4.2" height="60.5" fill="url(#gd)"/>
<path d="M1178.7 1116.5h0M1178.7 1140.3h0M1178.7 1135.6h0M1178.7 1181.4h0M1178.7 1203.0h0M1178.7 1224.9h0" fill="none" stroke="#000" stroke-opacity="0.44" stroke-width="4.0" stroke-linecap="round"/>
<path d="M1178.7 1145.9h0M1178.7 1144.6h0M1178.7 1144.9h0M1178.7 1209.3h0M1178.7 1231.5h0M1178.7 1180.7h0" fill="none" stroke="#000" stroke-opacity="0.44" stroke-width="4.0" stroke-linecap="round"/>
<path d="M1178.7 1143.4h0M1178.7 1174.1h0M1178.7 1227.7h0M1178.7 1203.5h0M1178.7 1179.7h0M1178.7 1180.1h0" fill="none" stroke="#000" stroke-opacity="0.44" stroke-width="4.0" stroke-linecap="round"/>
<path d="M1178.7 1132.9h0M1178.7 1129.5h0M1178.7 1227.7h0M1178.7 1232.6h0M1178.7 1205.7h0M1178.7 1182.6h0" fill="none" stroke="#000" stroke-opacity="0.44" stroke-width="4.0" stroke-linecap="round"/>
<path d="M1178.7 1116.5h0M1178.7 1174.5h0M1178.7 1206.9h0M1178.7 1192.2h0M1178.7 1227.2h0" fill="none" stroke="#000" stroke-opacity="0.44" stroke-width="4.0" stroke-linecap="round"/>
<rect x="1176.6" y="1236.5" width="4.2" height="149.5" fill="#0a0a0a" />
<rect x="1171.4" y="1299.1" width="14.6" height="44.0" fill="#50EDB2" stroke="#232a2a" stroke-width="1.8"/>
<line x1="1172.0" y1="1334.4" x2="1185.4" y2="1334.4" stroke="#283033" stroke-width="6" />
<line x1="1178.7" y1="1236.5" x2="1178.7" y2="1386.0" stroke="#000" stroke-width="3.4" />
<line x1="1172.0" y1="1236.5" x2="1185.5" y2="1236.5" stroke="#000" stroke-width="3" />
<line x1="1172.0" y1="1386.0" x2="1185.5" y2="1386.0" stroke="#000" stroke-width="3" />
<rect x="1194.0" y="995.6" width="4.2" height="51.7" fill="url(#gd)"/>
<path d="M1196.1 922.9h0M1196.1 956.5h0M1196.1 980.3h0M1196.1 1043.8h0M1196.1 1024.1h0M1196.1 1021.9h0" fill="none" stroke="#000" stroke-opacity="0.44" stroke-width="4.0" stroke-linecap="round"/>
<path d="M1196.1 991.4h0M1196.1 951.5h0M1196.1 954.8h0M1196.1 1031.5h0M1196.1 1045.5h0M1196.1 1025.0h0" fill="none" stroke="#000" stroke-opacity="0.44" stroke-width="4.0" stroke-linecap="round"/>
<path d="M1196.1 950.4h0M1196.1 993.4h0M1196.1 951.8h0M1196.1 1044.9h0M1196.1 1045.4h0M1196.1 1044.3h0" fill="none" stroke="#000" stroke-opacity="0.44" stroke-width="4.0" stroke-linecap="round"/>
<path d="M1196.1 982.0h0M1196.1 974.5h0M1196.1 923.4h0M1196.1 998.2h0M1196.1 1019.8h0" fill="none" stroke="#000" stroke-opacity="0.44" stroke-width="4.0" stroke-linecap="round"/>
<path d="M1196.1 990.3h0M1196.1 950.8h0M1196.1 1036.9h0M1196.1 1011.8h0M1196.1 1012.7h0" fill="none" stroke="#000" stroke-opacity="0.44" stroke-width="4.0" stroke-linecap="round"/>
<rect x="1194.0" y="1047.3" width="4.2" height="337.7" fill="#0a0a0a" />
<rect x="1188.8" y="1189.2" width="14.6" height="97.8" fill="#52F0CF" stroke="#232a2a" stroke-width="1.8"/>
<line x1="1189.4" y1="1239.8" x2="1202.8" y2="1239.8" stroke="#283033" stroke-width="6" />
<line x1="1196.1" y1="1047.3" x2="1196.1" y2="1385.0" stroke="#000" stroke-width="3.4" />
<line x1="1189.4" y1="1047.3" x2="1202.9" y2="1047.3" stroke="#000" stroke-width="3" />
<line x1="1189.4" y1="1385.0" x2="1202.9" y2="1385.0" stroke="#000" stroke-width="3" />
<rect x="1211.4" y="1060.0" width="4.2" height="54.4" fill="url(#gd)"/>
<path d="M1213.5 985.6h0M1213.5 1047.6h0M1213.5 1048.1h0M1213.5 1066.1h0M1213.5 1109.3h0M1213.5 1091.2h0" fill="none" stroke="#000" stroke-opacity="0.44" stroke-width="4.0" stroke-linecap="round"/>
<path d="M1213.5 1007.6h0M1213.5 1037.8h0M1213.5 997.4h0M1213.5 1063.6h0M1213.5 1113.9h0M1213.5 1101.4h0" fill="none" stroke="#000" stroke-opacity="0.44" stroke-width="4.0" stroke-linecap="round"/>
<path d="M1213.5 1049.2h0M1213.5 1019.1h0M1213.5 1008.8h0M1213.5 1093.8h0M1213.5 1078.8h0M1213.5 1088.6h0" fill="none" stroke="#000" stroke-opacity="0.44" stroke-width="4.0" stroke-linecap="round"/>
<path d="M1213.5 1045.6h0M1213.5 1018.5h0M1213.5 1046.4h0M1213.5 1082.2h0M1213.5 1067.5h0M1213.5 1077.0h0" fill="none" stroke="#000" stroke-opacity="0.44" stroke-width="4.0" stroke-linecap="round"/>
<path d="M1213.5 1050.4h0M1213.5 1021.6h0M1213.5 1077.8h0M1213.5 1113.5h0M1213.5 1068.4h0" fill="none" stroke="#000" stroke-opacity="0.44" stroke-width="4.0" stroke-linecap="round"/>
<rect x="1211.4" y="1114.4" width="4.2" height="272.3" fill="#0a0a0a" />
<rect x="1206.2" y="1233.2" width="14.6" height="81.3" fill="#57F2EB" stroke="#232a2a" stroke-width="1.8"/>
<line x1="1206.8" y1="1277.2" x2="1220.2" y2="1277.2" stroke="#283033" stroke-width="6" />
<line x1="1213.5" y1="1114.4" x2="1213.5" y2="1386.7" stroke="#000" stroke-width="3.4" />
<line x1="1206.8" y1="1114.4" x2="1220.3" y2="1114.4" stroke="#000" stroke-width="3" />
<line x1="1206.8" y1="1386.7" x2="1220.3" y2="1386.7" stroke="#000" stroke-width="3" />
<rect x="1228.8" y="969.2" width="4.2" height="41.3" fill="url(#gd)"/>
<path d="M1230.9 944.9h0M1230.9 966.4h0M1230.9 995.4h0M1230.9 982.6h0" fill="none" stroke="#000" stroke-opacity="0.44" stroke-width="4.0" stroke-linecap="round"/>
<path d="M1230.9 957.6h0M1230.9 999.0h0M1230.9 988.0h0M1230.9 978.4h0" fill="none" stroke="#000" stroke-opacity="0.44" stroke-width="4.0" stroke-linecap="round"/>
<path d="M1230.9 962.0h0M1230.9 976.8h0M1230.9 1001.6h0M1230.9 1006.6h0" fill="none" stroke="#000" stroke-opacity="0.44" stroke-width="4.0" stroke-linecap="round"/>
<path d="M1230.9 963.1h0M1230.9 1005.2h0M1230.9 980.6h0" fill="none" stroke="#000" stroke-opacity="0.44" stroke-width="4.0" stroke-linecap="round"/>
<path d="M1230.9 964.5h0M1230.9 984.7h0M1230.9 982.7h0" fill="none" stroke="#000" stroke-opacity="0.44" stroke-width="4.0" stroke-linecap="round"/>
<rect x="1228.8" y="1010.5" width="4.2" height="370.0" fill="#0a0a0a" />
<rect x="1223.6" y="1160.6" width="14.6" height="102.3" fill="#57E0F5" stroke="#232a2a" stroke-width="1.8"/>
<line x1="1224.2" y1="1212.9" x2="1237.6" y2="1212.9" stroke="#283033" stroke-width="6" />
<line x1="1230.9" y1="1010.5" x2="1230.9" y2="1380.5" stroke="#000" stroke-width="3.4" />
<line x1="1224.2" y1="1010.5" x2="1237.7" y2="1010.5" stroke="#000" stroke-width="3" />
<line x1="1224.2" y1="1380.5" x2="1237.7" y2="1380.5" stroke="#000" stroke-width="3" />
<rect x="1246.2" y="1040.0" width="4.2" height="96.4" fill="url(#gd)"/>
<path d="M1248.3 942.7h0M1248.3 1002.8h0M1248.3 961.6h0M1248.3 952.1h0M1248.3 1102.6h0M1248.3 1072.8h0M1248.3 1105.8h0M1248.3 1072.3h0M1248.3 1079.4h0" fill="none" stroke="#000" stroke-opacity="0.44" stroke-width="4.0" stroke-linecap="round"/>
<path d="M1248.3 1008.7h0M1248.3 977.0h0M1248.3 1000.1h0M1248.3 983.4h0M1248.3 1131.0h0M1248.3 1118.8h0M1248.3 1068.5h0M1248.3 1104.0h0M1248.3 1110.7h0" fill="none" stroke="#000" stroke-opacity="0.44" stroke-width="4.0" stroke-linecap="round"/>
<path d="M1248.3 986.6h0M1248.3 1026.4h0M1248.3 1027.2h0M1248.3 963.9h0M1248.3 1083.7h0M1248.3 1132.2h0M1248.3 1083.4h0M1248.3 1108.4h0M1248.3 1065.0h0" fill="none" stroke="#000" stroke-opacity="0.44" stroke-width="4.0" stroke-linecap="round"/>
<path d="M1248.3 993.1h0M1248.3 1014.7h0M1248.3 1028.7h0M1248.3 1065.5h0M1248.3 1125.9h0M1248.3 1056.0h0M1248.3 1060.2h0M1248.3 1067.0h0M1248.3 1078.0h0" fill="none" stroke="#000" stroke-opacity="0.44" stroke-width="4.0" stroke-linecap="round"/>
<path d="M1248.3 1039.5h0M1248.3 1039.4h0M1248.3 1034.0h0M1248.3 1134.3h0M1248.3 1090.8h0M1248.3 1103.7h0M1248.3 1067.0h0M1248.3 1042.7h0" fill="none" stroke="#000" stroke-opacity="0.44" stroke-width="4.0" stroke-linecap="round"/>
<rect x="1246.2" y="1136.4" width="4.2" height="248.6" fill="#0a0a0a" />
<rect x="1241.0" y="1244.2" width="14.6" height="73.6" fill="#5EC8F5" stroke="#232a2a" stroke-width="1.8"/>
<line x1="1241.6" y1="1284.9" x2="1255.0" y2="1284.9" stroke="#283033" stroke-width="6" />
<line x1="1248.3" y1="1136.4" x2="1248.3" y2="1385.0" stroke="#000" stroke-width="3.4" />
<line x1="1241.5" y1="1136.4" x2="1255.0" y2="1136.4" stroke="#000" stroke-width="3" />
<line x1="1241.5" y1="1385.0" x2="1255.0" y2="1385.0" stroke="#000" stroke-width="3" />
<rect x="1263.6" y="1143.0" width="4.2" height="49.5" fill="url(#gd)"/>
<path d="M1265.7 1023.0h0M1265.7 1046.4h0M1265.7 1056.1h0M1265.7 1139.0h0M1265.7 1131.3h0M1265.7 1156.9h0M1265.7 1167.1h0" fill="none" stroke="#000" stroke-opacity="0.44" stroke-width="4.0" stroke-linecap="round"/>
<path d="M1265.7 1061.7h0M1265.7 1085.2h0M1265.7 1115.8h0M1265.7 1075.6h0M1265.7 1192.4h0M1265.7 1143.8h0M1265.7 1187.8h0" fill="none" stroke="#000" stroke-opacity="0.44" stroke-width="4.0" stroke-linecap="round"/>
<path d="M1265.7 1125.1h0M1265.7 1101.6h0M1265.7 1086.8h0M1265.7 1103.3h0M1265.7 1165.0h0M1265.7 1188.6h0M1265.7 1169.6h0" fill="none" stroke="#000" stroke-opacity="0.44" stroke-width="4.0" stroke-linecap="round"/>
<path d="M1265.7 1101.4h0M1265.7 1110.5h0M1265.7 1072.0h0M1265.7 1080.9h0M1265.7 1156.5h0M1265.7 1167.9h0M1265.7 1154.6h0" fill="none" stroke="#000" stroke-opacity="0.44" stroke-width="4.0" stroke-linecap="round"/>
<path d="M1265.7 1039.5h0M1265.7 1044.6h0M1265.7 1075.0h0M1265.7 1087.5h0M1265.7 1181.4h0M1265.7 1185.2h0M1265.7 1144.7h0" fill="none" stroke="#000" stroke-opacity="0.44" stroke-width="4.0" stroke-linecap="round"/>
<rect x="1263.6" y="1192.5" width="4.2" height="194.2" fill="#0a0a0a" />
<rect x="1258.4" y="1270.6" width="14.6" height="53.8" fill="#5EB2F2" stroke="#232a2a" stroke-width="1.8"/>
<line x1="1259.0" y1="1300.2" x2="1272.4" y2="1300.2" stroke="#283033" stroke-width="6" />
<line x1="1265.7" y1="1192.5" x2="1265.7" y2="1386.7" stroke="#000" stroke-width="3.4" />
<line x1="1258.9" y1="1192.5" x2="1272.4" y2="1192.5" stroke="#000" stroke-width="3" />
<line x1="1258.9" y1="1386.7" x2="1272.4" y2="1386.7" stroke="#000" stroke-width="3" />
<rect x="1281.0" y="1011.0" width="4.2" height="110.0" fill="url(#gd)"/>
<path d="M1283.1 976.8h0M1283.1 1001.1h0M1283.1 1076.3h0M1283.1 1118.1h0M1283.1 1072.4h0M1283.1 1086.1h0M1283.1 1064.3h0M1283.1 1063.8h0" fill="none" stroke="#000" stroke-opacity="0.44" stroke-width="4.0" stroke-linecap="round"/>
<path d="M1283.1 999.0h0M1283.1 993.4h0M1283.1 1114.4h0M1283.1 1041.0h0M1283.1 1021.6h0M1283.1 1105.3h0M1283.1 1107.3h0M1283.1 1076.0h0" fill="none" stroke="#000" stroke-opacity="0.44" stroke-width="4.0" stroke-linecap="round"/>
<path d="M1283.1 1001.6h0M1283.1 997.6h0M1283.1 1029.6h0M1283.1 1032.1h0M1283.1 1114.5h0M1283.1 1036.4h0M1283.1 1105.7h0" fill="none" stroke="#000" stroke-opacity="0.44" stroke-width="4.0" stroke-linecap="round"/>
<path d="M1283.1 1008.7h0M1283.1 1034.6h0M1283.1 1073.2h0M1283.1 1116.0h0M1283.1 1062.6h0M1283.1 1101.7h0M1283.1 1039.3h0" fill="none" stroke="#000" stroke-opacity="0.44" stroke-width="4.0" stroke-linecap="round"/>
<path d="M1283.1 982.3h0M1283.1 1051.1h0M1283.1 1103.5h0M1283.1 1118.8h0M1283.1 1112.5h0M1283.1 1044.0h0M1283.1 1043.5h0" fill="none" stroke="#000" stroke-opacity="0.44" stroke-width="4.0" stroke-linecap="round"/>
<rect x="1281.0" y="1121.0" width="4.2" height="264.0" fill="#0a0a0a" />
<rect x="1275.8" y="1233.2" width="14.6" height="78.0" fill="#6CA1F2" stroke="#232a2a" stroke-width="1.8"/>
<line x1="1276.4" y1="1279.4" x2="1289.8" y2="1279.4" stroke="#283033" stroke-width="6" />
<line x1="1283.1" y1="1121.0" x2="1283.1" y2="1385.0" stroke="#000" stroke-width="3.4" />
<line x1="1276.3" y1="1121.0" x2="1289.8" y2="1121.0" stroke="#000" stroke-width="3" />
<line x1="1276.3" y1="1385.0" x2="1289.8" y2="1385.0" stroke="#000" stroke-width="3" />
<rect x="1298.4" y="973.6" width="4.2" height="17.6" fill="url(#gd)"/>
<path d="M1300.5 924.0h0M1300.5 969.9h0M1300.5 988.9h0M1300.5 980.4h0" fill="none" stroke="#000" stroke-opacity="0.44" stroke-width="4.0" stroke-linecap="round"/>
<path d="M1300.5 948.9h0M1300.5 928.4h0M1300.5 976.8h0" fill="none" stroke="#000" stroke-opacity="0.44" stroke-width="4.0" stroke-linecap="round"/>
<path d="M1300.5 934.7h0M1300.5 956.8h0M1300.5 985.3h0" fill="none" stroke="#000" stroke-opacity="0.44" stroke-width="4.0" stroke-linecap="round"/>
<path d="M1300.5 942.0h0M1300.5 964.7h0M1300.5 984.5h0" fill="none" stroke="#000" stroke-opacity="0.44" stroke-width="4.0" stroke-linecap="round"/>
<path d="M1300.5 963.4h0M1300.5 928.1h0M1300.5 985.7h0" fill="none" stroke="#000" stroke-opacity="0.44" stroke-width="4.0" stroke-linecap="round"/>
<rect x="1298.4" y="991.2" width="4.2" height="394.8" fill="#0a0a0a" />
<rect x="1293.2" y="1167.2" width="14.6" height="116.5" fill="#7791EB" stroke="#232a2a" stroke-width="1.8"/>
<line x1="1293.8" y1="1231.0" x2="1307.2" y2="1231.0" stroke="#283033" stroke-width="6" />
<line x1="1300.5" y1="991.2" x2="1300.5" y2="1386.0" stroke="#000" stroke-width="3.4" />
<line x1="1293.7" y1="991.2" x2="1307.2" y2="991.2" stroke="#000" stroke-width="3" />
<line x1="1293.7" y1="1386.0" x2="1307.2" y2="1386.0" stroke="#000" stroke-width="3" />
<rect x="1315.8" y="1088.0" width="4.2" height="15.4" fill="url(#gd)"/>
<path d="M1317.8 974.6h0M1317.8 1038.7h0M1317.8 1015.1h0M1317.8 1041.4h0M1317.8 1096.0h0" fill="none" stroke="#000" stroke-opacity="0.44" stroke-width="4.0" stroke-linecap="round"/>
<path d="M1317.8 1035.9h0M1317.8 1037.8h0M1317.8 1068.3h0M1317.8 997.5h0M1317.8 1097.0h0" fill="none" stroke="#000" stroke-opacity="0.44" stroke-width="4.0" stroke-linecap="round"/>
<path d="M1317.8 1052.0h0M1317.8 981.9h0M1317.8 1069.7h0M1317.8 1000.8h0M1317.8 1089.2h0" fill="none" stroke="#000" stroke-opacity="0.44" stroke-width="4.0" stroke-linecap="round"/>
<path d="M1317.8 1036.5h0M1317.8 1055.4h0M1317.8 1039.9h0M1317.8 1037.0h0M1317.8 1098.7h0" fill="none" stroke="#000" stroke-opacity="0.44" stroke-width="4.0" stroke-linecap="round"/>
<path d="M1317.8 1059.0h0M1317.8 1043.0h0M1317.8 1008.0h0M1317.8 995.1h0M1317.8 1090.1h0" fill="none" stroke="#000" stroke-opacity="0.44" stroke-width="4.0" stroke-linecap="round"/>
<rect x="1315.8" y="1103.4" width="4.2" height="280.4" fill="#0a0a0a" />
<rect x="1310.5" y="1224.4" width="14.6" height="81.3" fill="#8881E5" stroke="#232a2a" stroke-width="1.8"/>
<line x1="1311.1" y1="1268.4" x2="1324.5" y2="1268.4" stroke="#283033" stroke-width="6" />
<line x1="1317.8" y1="1103.4" x2="1317.8" y2="1383.8" stroke="#000" stroke-width="3.4" />
<line x1="1311.1" y1="1103.4" x2="1324.6" y2="1103.4" stroke="#000" stroke-width="3" />
<line x1="1311.1" y1="1383.8" x2="1324.6" y2="1383.8" stroke="#000" stroke-width="3" />
<rect x="1333.1" y="978.0" width="4.2" height="94.6" fill="url(#gd)"/>
<path d="M1335.2 922.9h0M1335.2 956.6h0M1335.2 977.8h0M1335.2 1031.6h0M1335.2 1067.3h0M1335.2 1064.7h0M1335.2 1066.5h0M1335.2 984.7h0" fill="none" stroke="#000" stroke-opacity="0.44" stroke-width="4.0" stroke-linecap="round"/>
<path d="M1335.2 967.1h0M1335.2 950.3h0M1335.2 1051.7h0M1335.2 1069.3h0M1335.2 988.7h0M1335.2 1011.7h0M1335.2 1005.0h0" fill="none" stroke="#000" stroke-opacity="0.44" stroke-width="4.0" stroke-linecap="round"/>
<path d="M1335.2 968.9h0M1335.2 976.1h0M1335.2 1058.3h0M1335.2 1066.2h0M1335.2 1018.9h0M1335.2 1058.4h0M1335.2 1010.5h0" fill="none" stroke="#000" stroke-opacity="0.44" stroke-width="4.0" stroke-linecap="round"/>
<path d="M1335.2 957.0h0M1335.2 935.8h0M1335.2 1003.4h0M1335.2 1000.4h0M1335.2 1053.6h0M1335.2 998.0h0M1335.2 1032.9h0" fill="none" stroke="#000" stroke-opacity="0.44" stroke-width="4.0" stroke-linecap="round"/>
<path d="M1335.2 929.2h0M1335.2 972.3h0M1335.2 1071.2h0M1335.2 1056.2h0M1335.2 999.7h0M1335.2 1032.5h0M1335.2 1015.9h0" fill="none" stroke="#000" stroke-opacity="0.44" stroke-width="4.0" stroke-linecap="round"/>
<rect x="1333.1" y="1072.6" width="4.2" height="311.2" fill="#0a0a0a" />
<rect x="1327.9" y="1204.6" width="14.6" height="90.1" fill="#967CE0" stroke="#232a2a" stroke-width="1.8"/>
<line x1="1328.5" y1="1259.6" x2="1341.9" y2="1259.6" stroke="#283033" stroke-width="6" />
<line x1="1335.2" y1="1072.6" x2="1335.2" y2="1383.8" stroke="#000" stroke-width="3.4" />
<line x1="1328.5" y1="1072.6" x2="1342.0" y2="1072.6" stroke="#000" stroke-width="3" />
<line x1="1328.5" y1="1383.8" x2="1342.0" y2="1383.8" stroke="#000" stroke-width="3" />
<rect x="1350.5" y="1096.8" width="4.2" height="11.0" fill="url(#gd)"/>
<path d="M1352.6 951.5h0M1352.6 1085.9h0M1352.6 1057.1h0M1352.6 1084.5h0M1352.6 1075.4h0M1352.6 1105.7h0" fill="none" stroke="#000" stroke-opacity="0.44" stroke-width="4.0" stroke-linecap="round"/>
<path d="M1352.6 994.9h0M1352.6 992.6h0M1352.6 1022.0h0M1352.6 980.6h0M1352.6 1008.2h0M1352.6 1102.5h0" fill="none" stroke="#000" stroke-opacity="0.44" stroke-width="4.0" stroke-linecap="round"/>
<path d="M1352.6 991.3h0M1352.6 1074.0h0M1352.6 1083.5h0M1352.6 1096.1h0M1352.6 1095.8h0M1352.6 1099.5h0" fill="none" stroke="#000" stroke-opacity="0.44" stroke-width="4.0" stroke-linecap="round"/>
<path d="M1352.6 1090.2h0M1352.6 982.7h0M1352.6 1047.4h0M1352.6 1056.3h0M1352.6 1050.1h0M1352.6 1105.5h0" fill="none" stroke="#000" stroke-opacity="0.44" stroke-width="4.0" stroke-linecap="round"/>
<path d="M1352.6 1062.1h0M1352.6 1044.4h0M1352.6 1050.4h0M1352.6 1026.8h0M1352.6 1022.1h0" fill="none" stroke="#000" stroke-opacity="0.44" stroke-width="4.0" stroke-linecap="round"/>
<rect x="1350.5" y="1107.8" width="4.2" height="277.2" fill="#0a0a0a" />
<rect x="1345.3" y="1217.8" width="14.6" height="82.4" fill="#A46EE2" stroke="#232a2a" stroke-width="1.8"/>
<line x1="1345.9" y1="1261.8" x2="1359.3" y2="1261.8" stroke="#283033" stroke-width="6" />
<line x1="1352.6" y1="1107.8" x2="1352.6" y2="1385.0" stroke="#000" stroke-width="3.4" />
<line x1="1345.9" y1="1107.8" x2="1359.4" y2="1107.8" stroke="#000" stroke-width="3" />
<line x1="1345.9" y1="1385.0" x2="1359.4" y2="1385.0" stroke="#000" stroke-width="3" />
<rect x="1367.9" y="1150.0" width="4.2" height="94.2" fill="url(#gd)"/>
<path d="M1370.0 969.0h0M1370.0 1148.0h0M1370.0 985.0h0M1370.0 1136.5h0M1370.0 970.8h0M1370.0 1092.8h0M1370.0 1012.7h0M1370.0 1215.8h0M1370.0 1152.6h0M1370.0 1199.2h0M1370.0 1157.7h0M1370.0 1227.1h0" fill="none" stroke="#000" stroke-opacity="0.44" stroke-width="4.0" stroke-linecap="round"/>
<path d="M1370.0 989.8h0M1370.0 1093.2h0M1370.0 1016.1h0M1370.0 1012.1h0M1370.0 1056.1h0M1370.0 1093.7h0M1370.0 1239.4h0M1370.0 1234.4h0M1370.0 1216.3h0M1370.0 1239.4h0M1370.0 1206.8h0" fill="none" stroke="#000" stroke-opacity="0.44" stroke-width="4.0" stroke-linecap="round"/>
<path d="M1370.0 1126.4h0M1370.0 1104.6h0M1370.0 1097.7h0M1370.0 1032.5h0M1370.0 1005.9h0M1370.0 1027.9h0M1370.0 1180.4h0M1370.0 1227.4h0M1370.0 1209.4h0M1370.0 1223.5h0M1370.0 1195.8h0" fill="none" stroke="#000" stroke-opacity="0.44" stroke-width="4.0" stroke-linecap="round"/>
<path d="M1370.0 1037.7h0M1370.0 1048.7h0M1370.0 1069.2h0M1370.0 1103.1h0M1370.0 1056.5h0M1370.0 1098.8h0M1370.0 1170.6h0M1370.0 1195.4h0M1370.0 1190.7h0M1370.0 1180.9h0M1370.0 1179.8h0" fill="none" stroke="#000" stroke-opacity="0.44" stroke-width="4.0" stroke-linecap="round"/>
<path d="M1370.0 1101.1h0M1370.0 970.2h0M1370.0 1082.0h0M1370.0 980.7h0M1370.0 1031.9h0M1370.0 1076.1h0M1370.0 1164.4h0M1370.0 1182.5h0M1370.0 1216.4h0M1370.0 1236.9h0M1370.0 1159.7h0" fill="none" stroke="#000" stroke-opacity="0.44" stroke-width="4.0" stroke-linecap="round"/>
<rect x="1367.9" y="1244.2" width="4.2" height="141.8" fill="#0a0a0a" />
<rect x="1362.7" y="1314.5" width="14.6" height="48.5" fill="#B965E4" stroke="#232a2a" stroke-width="1.8"/>
<line x1="1363.3" y1="1343.1" x2="1376.7" y2="1343.1" stroke="#283033" stroke-width="6" />
<line x1="1370.0" y1="1244.2" x2="1370.0" y2="1386.0" stroke="#000" stroke-width="3.4" />
<line x1="1363.3" y1="1244.2" x2="1376.8" y2="1244.2" stroke="#000" stroke-width="3" />
<line x1="1363.3" y1="1386.0" x2="1376.8" y2="1386.0" stroke="#000" stroke-width="3" />
<rect x="1385.3" y="1000.0" width="4.2" height="23.0" fill="url(#gd)"/>
<path d="M1387.4 974.6h0M1387.4 982.1h0M1387.4 1005.7h0" fill="none" stroke="#000" stroke-opacity="0.44" stroke-width="4.0" stroke-linecap="round"/>
<path d="M1387.4 974.8h0M1387.4 992.2h0M1387.4 1009.0h0" fill="none" stroke="#000" stroke-opacity="0.44" stroke-width="4.0" stroke-linecap="round"/>
<path d="M1387.4 991.0h0M1387.4 1013.4h0M1387.4 1008.8h0" fill="none" stroke="#000" stroke-opacity="0.44" stroke-width="4.0" stroke-linecap="round"/>
<path d="M1387.4 998.9h0M1387.4 1016.1h0M1387.4 1002.0h0" fill="none" stroke="#000" stroke-opacity="0.44" stroke-width="4.0" stroke-linecap="round"/>
<path d="M1387.4 980.3h0M1387.4 1019.5h0" fill="none" stroke="#000" stroke-opacity="0.44" stroke-width="4.0" stroke-linecap="round"/>
<rect x="1385.3" y="1023.0" width="4.2" height="345.4" fill="#0a0a0a" />
<rect x="1380.1" y="1162.8" width="14.6" height="94.6" fill="#D060E7" stroke="#232a2a" stroke-width="1.8"/>
<line x1="1380.7" y1="1213.4" x2="1394.1" y2="1213.4" stroke="#283033" stroke-width="6" />
<line x1="1387.4" y1="1023.0" x2="1387.4" y2="1368.4" stroke="#000" stroke-width="3.4" />
<line x1="1380.7" y1="1023.0" x2="1394.2" y2="1023.0" stroke="#000" stroke-width="3" />
<line x1="1380.7" y1="1368.4" x2="1394.2" y2="1368.4" stroke="#000" stroke-width="3" />
<rect x="1402.7" y="1080.0" width="4.2" height="35.5" fill="url(#gd)"/>
<path d="M1404.8 998.8h0M1404.8 1070.8h0M1404.8 1026.8h0M1404.8 1108.2h0M1404.8 1102.1h0" fill="none" stroke="#000" stroke-opacity="0.44" stroke-width="4.0" stroke-linecap="round"/>
<path d="M1404.8 1073.5h0M1404.8 1064.7h0M1404.8 1014.8h0M1404.8 1106.5h0M1404.8 1098.3h0" fill="none" stroke="#000" stroke-opacity="0.44" stroke-width="4.0" stroke-linecap="round"/>
<path d="M1404.8 1067.1h0M1404.8 1045.9h0M1404.8 1027.4h0M1404.8 1111.0h0M1404.8 1109.4h0" fill="none" stroke="#000" stroke-opacity="0.44" stroke-width="4.0" stroke-linecap="round"/>
<path d="M1404.8 1062.8h0M1404.8 1064.5h0M1404.8 1006.3h0M1404.8 1107.0h0M1404.8 1101.1h0" fill="none" stroke="#000" stroke-opacity="0.44" stroke-width="4.0" stroke-linecap="round"/>
<path d="M1404.8 1000.2h0M1404.8 1045.0h0M1404.8 1036.1h0M1404.8 1092.3h0M1404.8 1092.3h0" fill="none" stroke="#000" stroke-opacity="0.44" stroke-width="4.0" stroke-linecap="round"/>
<rect x="1402.7" y="1115.5" width="4.2" height="267.2" fill="#0a0a0a" />
<rect x="1397.5" y="1243.0" width="14.6" height="84.7" fill="#EB5AED" stroke="#232a2a" stroke-width="1.8"/>
<line x1="1398.1" y1="1297.0" x2="1411.5" y2="1297.0" stroke="#283033" stroke-width="6" />
<line x1="1404.8" y1="1115.5" x2="1404.8" y2="1382.7" stroke="#000" stroke-width="3.4" />
<line x1="1398.1" y1="1115.5" x2="1411.6" y2="1115.5" stroke="#000" stroke-width="3" />
<line x1="1398.1" y1="1382.7" x2="1411.6" y2="1382.7" stroke="#000" stroke-width="3" />
<rect x="1420.1" y="975.0" width="4.2" height="11.8" fill="url(#gd)"/>
<path d="M1422.2 957.0h0M1422.2 975.4h0" fill="none" stroke="#000" stroke-opacity="0.44" stroke-width="4.0" stroke-linecap="round"/>
<path d="M1422.2 969.9h0M1422.2 979.0h0" fill="none" stroke="#000" stroke-opacity="0.44" stroke-width="4.0" stroke-linecap="round"/>
<path d="M1422.2 974.5h0M1422.2 978.7h0" fill="none" stroke="#000" stroke-opacity="0.44" stroke-width="4.0" stroke-linecap="round"/>
<path d="M1422.2 962.5h0M1422.2 984.3h0" fill="none" stroke="#000" stroke-opacity="0.44" stroke-width="4.0" stroke-linecap="round"/>
<path d="M1422.2 973.4h0" fill="none" stroke="#000" stroke-opacity="0.44" stroke-width="4.0" stroke-linecap="round"/>
<rect x="1420.1" y="986.8" width="4.2" height="399.9" fill="#0a0a0a" />
<rect x="1414.9" y="1159.5" width="14.6" height="118.8" fill="#F557EB" stroke="#232a2a" stroke-width="1.8"/>
<line x1="1415.5" y1="1221.0" x2="1428.9" y2="1221.0" stroke="#283033" stroke-width="6" />
<line x1="1422.2" y1="986.8" x2="1422.2" y2="1386.7" stroke="#000" stroke-width="3.4" />
<line x1="1415.4" y1="986.8" x2="1428.9" y2="986.8" stroke="#000" stroke-width="3" />
<line x1="1415.4" y1="1386.7" x2="1428.9" y2="1386.7" stroke="#000" stroke-width="3" />
<rect x="1437.5" y="1149.6" width="4.2" height="12.1" fill="url(#gd)"/>
<path d="M1439.6 993.3h0M1439.6 1064.5h0M1439.6 1110.6h0M1439.6 1133.6h0M1439.6 1045.4h0M1439.6 1004.8h0M1439.6 1150.3h0" fill="none" stroke="#000" stroke-opacity="0.44" stroke-width="4.0" stroke-linecap="round"/>
<path d="M1439.6 1143.5h0M1439.6 1050.1h0M1439.6 1147.3h0M1439.6 1080.4h0M1439.6 1105.2h0M1439.6 1025.1h0M1439.6 1150.6h0" fill="none" stroke="#000" stroke-opacity="0.44" stroke-width="4.0" stroke-linecap="round"/>
<path d="M1439.6 1120.4h0M1439.6 1139.3h0M1439.6 1085.0h0M1439.6 1117.8h0M1439.6 1018.6h0M1439.6 1161.0h0" fill="none" stroke="#000" stroke-opacity="0.44" stroke-width="4.0" stroke-linecap="round"/>
<path d="M1439.6 1064.2h0M1439.6 1106.2h0M1439.6 1131.5h0M1439.6 1098.5h0M1439.6 1139.6h0M1439.6 1154.8h0" fill="none" stroke="#000" stroke-opacity="0.44" stroke-width="4.0" stroke-linecap="round"/>
<path d="M1439.6 1136.2h0M1439.6 1114.0h0M1439.6 1114.6h0M1439.6 1061.2h0M1439.6 1032.9h0M1439.6 1152.1h0" fill="none" stroke="#000" stroke-opacity="0.44" stroke-width="4.0" stroke-linecap="round"/>
<rect x="1437.5" y="1161.7" width="4.2" height="227.6" fill="#0a0a0a" />
<rect x="1432.3" y="1287.0" width="14.6" height="87.0" fill="#F553D9" stroke="#232a2a" stroke-width="1.8"/>
<line x1="1432.9" y1="1350.8" x2="1446.3" y2="1350.8" stroke="#283033" stroke-width="6" />
<line x1="1439.6" y1="1161.7" x2="1439.6" y2="1389.3" stroke="#000" stroke-width="3.4" />
<line x1="1432.8" y1="1161.7" x2="1446.3" y2="1161.7" stroke="#000" stroke-width="3" />
<line x1="1432.8" y1="1389.3" x2="1446.3" y2="1389.3" stroke="#000" stroke-width="3" />
<path d="M1457.0 1014.2h0M1457.0 1033.7h0M1457.0 1140.1h0M1457.0 1042.0h0M1457.0 1132.0h0" fill="none" stroke="#000" stroke-opacity="0.44" stroke-width="4.0" stroke-linecap="round"/>
<path d="M1457.0 1119.5h0M1457.0 1108.3h0M1457.0 1033.7h0M1457.0 1058.7h0M1457.0 1113.2h0" fill="none" stroke="#000" stroke-opacity="0.44" stroke-width="4.0" stroke-linecap="round"/>
<path d="M1457.0 1113.1h0M1457.0 1080.9h0M1457.0 1137.7h0M1457.0 1042.9h0M1457.0 1133.4h0" fill="none" stroke="#000" stroke-opacity="0.44" stroke-width="4.0" stroke-linecap="round"/>
<path d="M1457.0 1120.0h0M1457.0 1132.6h0M1457.0 1142.4h0M1457.0 1026.2h0M1457.0 1112.9h0" fill="none" stroke="#000" stroke-opacity="0.44" stroke-width="4.0" stroke-linecap="round"/>
<path d="M1457.0 1124.2h0M1457.0 1132.8h0M1457.0 1145.3h0M1457.0 1135.7h0" fill="none" stroke="#000" stroke-opacity="0.44" stroke-width="4.0" stroke-linecap="round"/>
<rect x="1454.9" y="1150.7" width="4.2" height="202.3" fill="#0a0a0a" />
<rect x="1449.7" y="1238.7" width="14.6" height="63.7" fill="#EB5AA8" stroke="#232a2a" stroke-width="1.8"/>
<line x1="1450.3" y1="1268.4" x2="1463.7" y2="1268.4" stroke="#283033" stroke-width="6" />
<line x1="1457.0" y1="1150.7" x2="1457.0" y2="1353.0" stroke="#000" stroke-width="3.4" />
<line x1="1450.2" y1="1150.7" x2="1463.7" y2="1150.7" stroke="#000" stroke-width="3" />
<line x1="1450.2" y1="1353.0" x2="1463.7" y2="1353.0" stroke="#000" stroke-width="3" />
<rect x="859.5" y="891.5" width="619.5" height="523" fill="none" stroke="#000" stroke-width="3.4"/>
<line x1="852.5" y1="982.2" x2="859.5" y2="982.2" stroke="#333" stroke-width="2.2" />
<text x="849.5" y="990.2" font-size="23" fill="#3E3E3E" text-anchor="end" textLength="47.6" lengthAdjust="spacingAndGlyphs" stroke="#3E3E3E" stroke-width="0.35">6000</text>
<line x1="852.5" y1="1127.0" x2="859.5" y2="1127.0" stroke="#333" stroke-width="2.2" />
<text x="849.5" y="1135.0" font-size="23" fill="#3E3E3E" text-anchor="end" textLength="47.6" lengthAdjust="spacingAndGlyphs" stroke="#3E3E3E" stroke-width="0.35">4000</text>
<line x1="852.5" y1="1271.8" x2="859.5" y2="1271.8" stroke="#333" stroke-width="2.2" />
<text x="849.5" y="1279.8" font-size="23" fill="#3E3E3E" text-anchor="end" textLength="47.6" lengthAdjust="spacingAndGlyphs" stroke="#3E3E3E" stroke-width="0.35">2000</text>
<line x1="883.1" y1="1414.5" x2="883.1" y2="1419.5" stroke="#333" stroke-width="2.4" />
<text x="883.1" y="1433.0" font-size="15.5" fill="#3E3E3E" text-anchor="middle" textLength="7.2" lengthAdjust="spacingAndGlyphs" stroke="#4D4D4D" stroke-width="0.35">1</text>
<line x1="900.5" y1="1414.5" x2="900.5" y2="1419.5" stroke="#333" stroke-width="2.4" />
<text x="900.5" y="1433.0" font-size="15.5" fill="#3E3E3E" text-anchor="middle" textLength="7.2" lengthAdjust="spacingAndGlyphs" stroke="#4D4D4D" stroke-width="0.35">2</text>
<line x1="917.9" y1="1414.5" x2="917.9" y2="1419.5" stroke="#333" stroke-width="2.4" />
<text x="917.9" y="1433.0" font-size="15.5" fill="#3E3E3E" text-anchor="middle" textLength="7.2" lengthAdjust="spacingAndGlyphs" stroke="#4D4D4D" stroke-width="0.35">3</text>
<line x1="935.3" y1="1414.5" x2="935.3" y2="1419.5" stroke="#333" stroke-width="2.4" />
<text x="935.3" y="1433.0" font-size="15.5" fill="#3E3E3E" text-anchor="middle" textLength="7.2" lengthAdjust="spacingAndGlyphs" stroke="#4D4D4D" stroke-width="0.35">4</text>
<line x1="952.7" y1="1414.5" x2="952.7" y2="1419.5" stroke="#333" stroke-width="2.4" />
<text x="952.7" y="1433.0" font-size="15.5" fill="#3E3E3E" text-anchor="middle" textLength="7.2" lengthAdjust="spacingAndGlyphs" stroke="#4D4D4D" stroke-width="0.35">5</text>
<line x1="970.1" y1="1414.5" x2="970.1" y2="1419.5" stroke="#333" stroke-width="2.4" />
<text x="970.1" y="1433.0" font-size="15.5" fill="#3E3E3E" text-anchor="middle" textLength="7.2" lengthAdjust="spacingAndGlyphs" stroke="#4D4D4D" stroke-width="0.35">6</text>
<line x1="987.4" y1="1414.5" x2="987.4" y2="1419.5" stroke="#333" stroke-width="2.4" />
<text x="987.4" y="1433.0" font-size="15.5" fill="#3E3E3E" text-anchor="middle" textLength="7.2" lengthAdjust="spacingAndGlyphs" stroke="#4D4D4D" stroke-width="0.35">7</text>
<line x1="1004.8" y1="1414.5" x2="1004.8" y2="1419.5" stroke="#333" stroke-width="2.4" />
<text x="1004.8" y="1433.0" font-size="15.5" fill="#3E3E3E" text-anchor="middle" textLength="7.2" lengthAdjust="spacingAndGlyphs" stroke="#4D4D4D" stroke-width="0.35">8</text>
<line x1="1022.2" y1="1414.5" x2="1022.2" y2="1419.5" stroke="#333" stroke-width="2.4" />
<text x="1022.2" y="1433.0" font-size="15.5" fill="#3E3E3E" text-anchor="middle" textLength="7.2" lengthAdjust="spacingAndGlyphs" stroke="#4D4D4D" stroke-width="0.35">9</text>
<line x1="1039.6" y1="1414.5" x2="1039.6" y2="1419.5" stroke="#333" stroke-width="2.4" />
<text x="1039.6" y="1433.0" font-size="15.5" fill="#3E3E3E" text-anchor="middle" textLength="13.8" lengthAdjust="spacingAndGlyphs" stroke="#4D4D4D" stroke-width="0.35">10</text>
<line x1="1057.0" y1="1414.5" x2="1057.0" y2="1419.5" stroke="#333" stroke-width="2.4" />
<text x="1057.0" y="1433.0" font-size="15.5" fill="#3E3E3E" text-anchor="middle" textLength="13.8" lengthAdjust="spacingAndGlyphs" stroke="#4D4D4D" stroke-width="0.35">11</text>
<line x1="1074.4" y1="1414.5" x2="1074.4" y2="1419.5" stroke="#333" stroke-width="2.4" />
<text x="1074.4" y="1433.0" font-size="15.5" fill="#3E3E3E" text-anchor="middle" textLength="13.8" lengthAdjust="spacingAndGlyphs" stroke="#4D4D4D" stroke-width="0.35">12</text>
<line x1="1091.8" y1="1414.5" x2="1091.8" y2="1419.5" stroke="#333" stroke-width="2.4" />
<text x="1091.8" y="1433.0" font-size="15.5" fill="#3E3E3E" text-anchor="middle" textLength="13.8" lengthAdjust="spacingAndGlyphs" stroke="#4D4D4D" stroke-width="0.35">13</text>
<line x1="1109.2" y1="1414.5" x2="1109.2" y2="1419.5" stroke="#333" stroke-width="2.4" />
<text x="1109.2" y="1433.0" font-size="15.5" fill="#3E3E3E" text-anchor="middle" textLength="13.8" lengthAdjust="spacingAndGlyphs" stroke="#4D4D4D" stroke-width="0.35">14</text>
<line x1="1126.6" y1="1414.5" x2="1126.6" y2="1419.5" stroke="#333" stroke-width="2.4" />
<text x="1126.6" y="1433.0" font-size="15.5" fill="#3E3E3E" text-anchor="middle" textLength="13.8" lengthAdjust="spacingAndGlyphs" stroke="#4D4D4D" stroke-width="0.35">15</text>
<line x1="1144.0" y1="1414.5" x2="1144.0" y2="1419.5" stroke="#333" stroke-width="2.4" />
<text x="1144.0" y="1433.0" font-size="15.5" fill="#3E3E3E" text-anchor="middle" textLength="13.8" lengthAdjust="spacingAndGlyphs" stroke="#4D4D4D" stroke-width="0.35">16</text>
<line x1="1161.3" y1="1414.5" x2="1161.3" y2="1419.5" stroke="#333" stroke-width="2.4" />
<text x="1161.3" y="1433.0" font-size="15.5" fill="#3E3E3E" text-anchor="middle" textLength="13.8" lengthAdjust="spacingAndGlyphs" stroke="#4D4D4D" stroke-width="0.35">17</text>
<line x1="1178.7" y1="1414.5" x2="1178.7" y2="1419.5" stroke="#333" stroke-width="2.4" />
<text x="1178.7" y="1433.0" font-size="15.5" fill="#3E3E3E" text-anchor="middle" textLength="13.8" lengthAdjust="spacingAndGlyphs" stroke="#4D4D4D" stroke-width="0.35">18</text>
<line x1="1196.1" y1="1414.5" x2="1196.1" y2="1419.5" stroke="#333" stroke-width="2.4" />
<text x="1196.1" y="1433.0" font-size="15.5" fill="#3E3E3E" text-anchor="middle" textLength="13.8" lengthAdjust="spacingAndGlyphs" stroke="#4D4D4D" stroke-width="0.35">19</text>
<line x1="1213.5" y1="1414.5" x2="1213.5" y2="1419.5" stroke="#333" stroke-width="2.4" />
<text x="1213.5" y="1433.0" font-size="15.5" fill="#3E3E3E" text-anchor="middle" textLength="13.8" lengthAdjust="spacingAndGlyphs" stroke="#4D4D4D" stroke-width="0.35">20</text>
<line x1="1230.9" y1="1414.5" x2="1230.9" y2="1419.5" stroke="#333" stroke-width="2.4" />
<text x="1230.9" y="1433.0" font-size="15.5" fill="#3E3E3E" text-anchor="middle" textLength="13.8" lengthAdjust="spacingAndGlyphs" stroke="#4D4D4D" stroke-width="0.35">21</text>
<line x1="1248.3" y1="1414.5" x2="1248.3" y2="1419.5" stroke="#333" stroke-width="2.4" />
<text x="1248.3" y="1433.0" font-size="15.5" fill="#3E3E3E" text-anchor="middle" textLength="13.8" lengthAdjust="spacingAndGlyphs" stroke="#4D4D4D" stroke-width="0.35">22</text>
<line x1="1265.7" y1="1414.5" x2="1265.7" y2="1419.5" stroke="#333" stroke-width="2.4" />
<text x="1265.7" y="1433.0" font-size="15.5" fill="#3E3E3E" text-anchor="middle" textLength="13.8" lengthAdjust="spacingAndGlyphs" stroke="#4D4D4D" stroke-width="0.35">23</text>
<line x1="1283.1" y1="1414.5" x2="1283.1" y2="1419.5" stroke="#333" stroke-width="2.4" />
<text x="1283.1" y="1433.0" font-size="15.5" fill="#3E3E3E" text-anchor="middle" textLength="13.8" lengthAdjust="spacingAndGlyphs" stroke="#4D4D4D" stroke-width="0.35">24</text>
<line x1="1300.5" y1="1414.5" x2="1300.5" y2="1419.5" stroke="#333" stroke-width="2.4" />
<text x="1300.5" y="1433.0" font-size="15.5" fill="#3E3E3E" text-anchor="middle" textLength="13.8" lengthAdjust="spacingAndGlyphs" stroke="#4D4D4D" stroke-width="0.35">25</text>
<line x1="1317.8" y1="1414.5" x2="1317.8" y2="1419.5" stroke="#333" stroke-width="2.4" />
<text x="1317.8" y="1433.0" font-size="15.5" fill="#3E3E3E" text-anchor="middle" textLength="13.8" lengthAdjust="spacingAndGlyphs" stroke="#4D4D4D" stroke-width="0.35">26</text>
<line x1="1335.2" y1="1414.5" x2="1335.2" y2="1419.5" stroke="#333" stroke-width="2.4" />
<text x="1335.2" y="1433.0" font-size="15.5" fill="#3E3E3E" text-anchor="middle" textLength="13.8" lengthAdjust="spacingAndGlyphs" stroke="#4D4D4D" stroke-width="0.35">27</text>
<line x1="1352.6" y1="1414.5" x2="1352.6" y2="1419.5" stroke="#333" stroke-width="2.4" />
<text x="1352.6" y="1433.0" font-size="15.5" fill="#3E3E3E" text-anchor="middle" textLength="13.8" lengthAdjust="spacingAndGlyphs" stroke="#4D4D4D" stroke-width="0.35">28</text>
<line x1="1370.0" y1="1414.5" x2="1370.0" y2="1419.5" stroke="#333" stroke-width="2.4" />
<text x="1370.0" y="1433.0" font-size="15.5" fill="#3E3E3E" text-anchor="middle" textLength="13.8" lengthAdjust="spacingAndGlyphs" stroke="#4D4D4D" stroke-width="0.35">29</text>
<line x1="1387.4" y1="1414.5" x2="1387.4" y2="1419.5" stroke="#333" stroke-width="2.4" />
<text x="1387.4" y="1433.0" font-size="15.5" fill="#3E3E3E" text-anchor="middle" textLength="13.8" lengthAdjust="spacingAndGlyphs" stroke="#4D4D4D" stroke-width="0.35">30</text>
<line x1="1404.8" y1="1414.5" x2="1404.8" y2="1419.5" stroke="#333" stroke-width="2.4" />
<text x="1404.8" y="1433.0" font-size="15.5" fill="#3E3E3E" text-anchor="middle" textLength="13.8" lengthAdjust="spacingAndGlyphs" stroke="#4D4D4D" stroke-width="0.35">31</text>
<line x1="1422.2" y1="1414.5" x2="1422.2" y2="1419.5" stroke="#333" stroke-width="2.4" />
<text x="1422.2" y="1433.0" font-size="15.5" fill="#3E3E3E" text-anchor="middle" textLength="13.8" lengthAdjust="spacingAndGlyphs" stroke="#4D4D4D" stroke-width="0.35">32</text>
<line x1="1439.6" y1="1414.5" x2="1439.6" y2="1419.5" stroke="#333" stroke-width="2.4" />
<text x="1439.6" y="1433.0" font-size="15.5" fill="#3E3E3E" text-anchor="middle" textLength="13.8" lengthAdjust="spacingAndGlyphs" stroke="#4D4D4D" stroke-width="0.35">33</text>
<line x1="1457.0" y1="1414.5" x2="1457.0" y2="1419.5" stroke="#333" stroke-width="2.4" />
<text x="1457.0" y="1433.0" font-size="15.5" fill="#3E3E3E" text-anchor="middle" textLength="13.8" lengthAdjust="spacingAndGlyphs" stroke="#4D4D4D" stroke-width="0.35">34</text>
<text x="1098.0" y="1464.7" font-size="30" textLength="138.6" lengthAdjust="spacingAndGlyphs" >Cell Cluster</text>
<text transform="translate(786.5,1139.7) rotate(-90)" font-size="30" text-anchor="middle" textLength="320" lengthAdjust="spacingAndGlyphs">Average Number of Genes</text>
<text x="114.0" y="1523.6" font-size="29.5" textLength="402.0" lengthAdjust="spacingAndGlyphs" >Average nUMI per Cell by Cluster</text>
<rect x="134.0" y="1998.6" width="4.2" height="16.1" fill="url(#gd)"/>
<path d="M136.1 1744.6h0M136.1 1827.7h0M136.1 1848.9h0M136.1 1901.4h0M136.1 1886.3h0M136.1 1831.0h0M136.1 1746.0h0M136.1 1898.5h0M136.1 1865.2h0M136.1 2003.3h0" fill="none" stroke="#000" stroke-opacity="0.44" stroke-width="4.0" stroke-linecap="round"/>
<path d="M136.1 1850.1h0M136.1 1858.2h0M136.1 1945.4h0M136.1 1971.4h0M136.1 1956.5h0M136.1 1973.5h0M136.1 1826.8h0M136.1 1898.7h0M136.1 1967.8h0M136.1 2010.7h0" fill="none" stroke="#000" stroke-opacity="0.44" stroke-width="4.0" stroke-linecap="round"/>
<path d="M136.1 1794.4h0M136.1 1883.4h0M136.1 1870.3h0M136.1 1925.7h0M136.1 1865.1h0M136.1 1791.2h0M136.1 1954.5h0M136.1 1961.1h0M136.1 2004.1h0M136.1 2007.8h0" fill="none" stroke="#000" stroke-opacity="0.44" stroke-width="4.0" stroke-linecap="round"/>
<path d="M136.1 1793.7h0M136.1 1760.6h0M136.1 1858.7h0M136.1 1766.0h0M136.1 1943.2h0M136.1 1965.5h0M136.1 1994.6h0M136.1 1821.7h0M136.1 2014.0h0" fill="none" stroke="#000" stroke-opacity="0.44" stroke-width="4.0" stroke-linecap="round"/>
<path d="M136.1 1953.5h0M136.1 1842.0h0M136.1 1992.1h0M136.1 1880.9h0M136.1 1908.8h0M136.1 1817.5h0M136.1 1749.3h0M136.1 1899.4h0M136.1 2004.5h0" fill="none" stroke="#000" stroke-opacity="0.44" stroke-width="4.0" stroke-linecap="round"/>
<rect x="134.0" y="2014.7" width="4.2" height="24.7" fill="#0a0a0a" />
<rect x="128.8" y="2024.4" width="14.6" height="8.6" fill="#F2618C" stroke="#232a2a" stroke-width="1.8"/>
<line x1="129.4" y1="2028.7" x2="142.8" y2="2028.7" stroke="#283033" stroke-width="6" />
<line x1="136.1" y1="2014.7" x2="136.1" y2="2039.4" stroke="#000" stroke-width="3.4" />
<line x1="129.3" y1="2014.7" x2="142.8" y2="2014.7" stroke="#000" stroke-width="3" />
<line x1="129.3" y1="2039.4" x2="142.8" y2="2039.4" stroke="#000" stroke-width="3" />
<rect x="151.2" y="1987.8" width="4.2" height="40.9" fill="url(#gd)"/>
<path d="M153.3 1842.5h0M153.3 1955.2h0M153.3 1917.8h0M153.3 1889.9h0M153.3 1975.7h0M153.3 2020.4h0M153.3 2023.5h0M153.3 2021.1h0" fill="none" stroke="#000" stroke-opacity="0.44" stroke-width="4.0" stroke-linecap="round"/>
<path d="M153.3 1872.7h0M153.3 1965.2h0M153.3 1976.4h0M153.3 1899.0h0M153.3 1894.4h0M153.3 2016.6h0M153.3 2017.2h0M153.3 2014.2h0" fill="none" stroke="#000" stroke-opacity="0.44" stroke-width="4.0" stroke-linecap="round"/>
<path d="M153.3 1948.1h0M153.3 1947.1h0M153.3 1867.8h0M153.3 1977.5h0M153.3 1926.6h0M153.3 2005.4h0M153.3 2020.0h0" fill="none" stroke="#000" stroke-opacity="0.44" stroke-width="4.0" stroke-linecap="round"/>
<path d="M153.3 1866.7h0M153.3 1912.4h0M153.3 1976.2h0M153.3 1931.7h0M153.3 1935.5h0M153.3 2004.5h0M153.3 1997.7h0" fill="none" stroke="#000" stroke-opacity="0.44" stroke-width="4.0" stroke-linecap="round"/>
<path d="M153.3 1965.3h0M153.3 1918.7h0M153.3 1852.6h0M153.3 1915.7h0M153.3 1961.6h0M153.3 1997.0h0M153.3 2009.0h0" fill="none" stroke="#000" stroke-opacity="0.44" stroke-width="4.0" stroke-linecap="round"/>
<rect x="151.2" y="2028.7" width="4.2" height="10.7" fill="#0a0a0a" />
<rect x="146.0" y="2032.0" width="14.6" height="7.4" fill="#F07260" stroke="#232a2a" stroke-width="1.8"/>
<line x1="146.6" y1="2035.6" x2="160.0" y2="2035.6" stroke="#283033" stroke-width="6" />
<line x1="153.3" y1="2028.7" x2="153.3" y2="2039.4" stroke="#000" stroke-width="3.4" />
<line x1="146.5" y1="2028.7" x2="160.0" y2="2028.7" stroke="#000" stroke-width="3" />
<line x1="146.5" y1="2039.4" x2="160.0" y2="2039.4" stroke="#000" stroke-width="3" />
<rect x="168.4" y="1762.0" width="4.2" height="152.7" fill="url(#gd)"/>
<path d="M170.5 1571.4h0M170.5 1630.7h0M170.5 1622.6h0M170.5 1658.2h0M170.5 1756.9h0M170.5 1724.6h0M170.5 1633.9h0M170.5 1875.9h0M170.5 1864.0h0M170.5 1859.9h0M170.5 1899.9h0M170.5 1869.1h0M170.5 1838.2h0M170.5 1838.8h0M170.5 1906.1h0" fill="none" stroke="#000" stroke-opacity="0.44" stroke-width="4.0" stroke-linecap="round"/>
<path d="M170.5 1615.4h0M170.5 1653.2h0M170.5 1642.5h0M170.5 1630.2h0M170.5 1609.1h0M170.5 1677.4h0M170.5 1669.2h0M170.5 1849.8h0M170.5 1836.1h0M170.5 1883.2h0M170.5 1886.4h0M170.5 1843.2h0M170.5 1887.5h0M170.5 1843.4h0M170.5 1801.3h0" fill="none" stroke="#000" stroke-opacity="0.44" stroke-width="4.0" stroke-linecap="round"/>
<path d="M170.5 1682.0h0M170.5 1720.1h0M170.5 1657.9h0M170.5 1758.7h0M170.5 1668.5h0M170.5 1631.7h0M170.5 1772.2h0M170.5 1867.8h0M170.5 1882.1h0M170.5 1838.5h0M170.5 1876.8h0M170.5 1822.3h0M170.5 1878.5h0M170.5 1866.4h0" fill="none" stroke="#000" stroke-opacity="0.44" stroke-width="4.0" stroke-linecap="round"/>
<path d="M170.5 1746.3h0M170.5 1740.5h0M170.5 1692.0h0M170.5 1723.9h0M170.5 1759.8h0M170.5 1710.3h0M170.5 1835.2h0M170.5 1844.5h0M170.5 1903.4h0M170.5 1808.9h0M170.5 1896.4h0M170.5 1867.3h0M170.5 1867.5h0M170.5 1836.7h0" fill="none" stroke="#000" stroke-opacity="0.44" stroke-width="4.0" stroke-linecap="round"/>
<path d="M170.5 1640.5h0M170.5 1622.3h0M170.5 1623.7h0M170.5 1609.1h0M170.5 1733.6h0M170.5 1610.4h0M170.5 1888.6h0M170.5 1794.0h0M170.5 1839.7h0M170.5 1879.7h0M170.5 1874.1h0M170.5 1785.8h0M170.5 1812.4h0M170.5 1873.5h0" fill="none" stroke="#000" stroke-opacity="0.44" stroke-width="4.0" stroke-linecap="round"/>
<rect x="168.4" y="1914.7" width="4.2" height="124.7" fill="#0a0a0a" />
<rect x="163.2" y="1971.7" width="14.6" height="38.7" fill="#ED7F34" stroke="#232a2a" stroke-width="1.8"/>
<line x1="163.8" y1="1994.3" x2="177.2" y2="1994.3" stroke="#283033" stroke-width="6" />
<line x1="170.5" y1="1914.7" x2="170.5" y2="2039.4" stroke="#000" stroke-width="3.4" />
<line x1="163.8" y1="1914.7" x2="177.2" y2="1914.7" stroke="#000" stroke-width="3" />
<line x1="163.8" y1="2039.4" x2="177.2" y2="2039.4" stroke="#000" stroke-width="3" />
<rect x="185.6" y="1708.0" width="4.2" height="177.6" fill="url(#gd)"/>
<path d="M187.7 1562.8h0M187.7 1705.4h0M187.7 1701.9h0M187.7 1677.7h0M187.7 1640.2h0M187.7 1851.0h0M187.7 1771.1h0M187.7 1841.2h0M187.7 1877.0h0M187.7 1759.3h0M187.7 1804.9h0M187.7 1832.1h0M187.7 1817.8h0M187.7 1769.8h0M187.7 1709.6h0" fill="none" stroke="#000" stroke-opacity="0.44" stroke-width="4.0" stroke-linecap="round"/>
<path d="M187.7 1670.5h0M187.7 1576.7h0M187.7 1654.2h0M187.7 1653.3h0M187.7 1702.6h0M187.7 1741.1h0M187.7 1793.3h0M187.7 1785.1h0M187.7 1814.4h0M187.7 1742.6h0M187.7 1820.0h0M187.7 1859.3h0M187.7 1741.7h0M187.7 1789.2h0" fill="none" stroke="#000" stroke-opacity="0.44" stroke-width="4.0" stroke-linecap="round"/>
<path d="M187.7 1684.5h0M187.7 1657.2h0M187.7 1591.2h0M187.7 1668.7h0M187.7 1610.8h0M187.7 1883.4h0M187.7 1713.6h0M187.7 1769.4h0M187.7 1760.7h0M187.7 1853.1h0M187.7 1762.0h0M187.7 1859.0h0M187.7 1861.6h0M187.7 1767.3h0" fill="none" stroke="#000" stroke-opacity="0.44" stroke-width="4.0" stroke-linecap="round"/>
<path d="M187.7 1637.3h0M187.7 1602.5h0M187.7 1661.0h0M187.7 1690.0h0M187.7 1673.9h0M187.7 1785.6h0M187.7 1796.5h0M187.7 1761.7h0M187.7 1856.8h0M187.7 1858.0h0M187.7 1880.4h0M187.7 1804.8h0M187.7 1785.5h0M187.7 1797.8h0" fill="none" stroke="#000" stroke-opacity="0.44" stroke-width="4.0" stroke-linecap="round"/>
<path d="M187.7 1650.5h0M187.7 1684.9h0M187.7 1656.9h0M187.7 1654.5h0M187.7 1637.8h0M187.7 1725.9h0M187.7 1796.8h0M187.7 1847.8h0M187.7 1792.0h0M187.7 1831.4h0M187.7 1785.2h0M187.7 1774.8h0M187.7 1864.0h0M187.7 1754.2h0" fill="none" stroke="#000" stroke-opacity="0.44" stroke-width="4.0" stroke-linecap="round"/>
<rect x="185.6" y="1885.6" width="4.2" height="152.8" fill="#0a0a0a" />
<rect x="180.4" y="1956.6" width="14.6" height="47.4" fill="#E48A34" stroke="#232a2a" stroke-width="1.8"/>
<line x1="181.0" y1="1986.7" x2="194.4" y2="1986.7" stroke="#283033" stroke-width="6" />
<line x1="187.7" y1="1885.6" x2="187.7" y2="2038.4" stroke="#000" stroke-width="3.4" />
<line x1="180.9" y1="1885.6" x2="194.4" y2="1885.6" stroke="#000" stroke-width="3" />
<line x1="180.9" y1="2038.4" x2="194.4" y2="2038.4" stroke="#000" stroke-width="3" />
<rect x="202.8" y="1751.0" width="4.2" height="125.0" fill="url(#gd)"/>
<path d="M204.9 1614.5h0M204.9 1695.7h0M204.9 1744.1h0M204.9 1729.5h0M204.9 1619.5h0M204.9 1777.3h0M204.9 1866.3h0M204.9 1853.6h0M204.9 1785.1h0M204.9 1864.1h0M204.9 1822.0h0M204.9 1822.6h0" fill="none" stroke="#000" stroke-opacity="0.44" stroke-width="4.0" stroke-linecap="round"/>
<path d="M204.9 1722.9h0M204.9 1689.5h0M204.9 1736.7h0M204.9 1648.3h0M204.9 1746.3h0M204.9 1790.1h0M204.9 1854.7h0M204.9 1841.6h0M204.9 1844.2h0M204.9 1829.1h0M204.9 1763.9h0M204.9 1827.3h0" fill="none" stroke="#000" stroke-opacity="0.44" stroke-width="4.0" stroke-linecap="round"/>
<path d="M204.9 1670.1h0M204.9 1713.8h0M204.9 1632.0h0M204.9 1734.3h0M204.9 1715.9h0M204.9 1853.1h0M204.9 1781.0h0M204.9 1865.3h0M204.9 1826.3h0M204.9 1794.1h0M204.9 1819.0h0" fill="none" stroke="#000" stroke-opacity="0.44" stroke-width="4.0" stroke-linecap="round"/>
<path d="M204.9 1664.9h0M204.9 1716.2h0M204.9 1734.0h0M204.9 1713.4h0M204.9 1665.6h0M204.9 1804.5h0M204.9 1865.0h0M204.9 1854.3h0M204.9 1849.4h0M204.9 1790.1h0M204.9 1777.6h0" fill="none" stroke="#000" stroke-opacity="0.44" stroke-width="4.0" stroke-linecap="round"/>
<path d="M204.9 1672.9h0M204.9 1681.1h0M204.9 1741.8h0M204.9 1620.8h0M204.9 1771.1h0M204.9 1778.8h0M204.9 1835.0h0M204.9 1859.6h0M204.9 1815.6h0M204.9 1776.8h0M204.9 1821.8h0" fill="none" stroke="#000" stroke-opacity="0.44" stroke-width="4.0" stroke-linecap="round"/>
<rect x="202.8" y="1876.0" width="4.2" height="163.0" fill="#0a0a0a" />
<rect x="197.6" y="1952.3" width="14.6" height="51.7" fill="#D69837" stroke="#232a2a" stroke-width="1.8"/>
<line x1="198.2" y1="1982.4" x2="211.6" y2="1982.4" stroke="#283033" stroke-width="6" />
<line x1="204.9" y1="1876.0" x2="204.9" y2="2039.0" stroke="#000" stroke-width="3.4" />
<line x1="198.1" y1="1876.0" x2="211.6" y2="1876.0" stroke="#000" stroke-width="3" />
<line x1="198.1" y1="2039.0" x2="211.6" y2="2039.0" stroke="#000" stroke-width="3" />
<rect x="220.0" y="1787.7" width="4.2" height="119.4" fill="url(#gd)"/>
<path d="M222.1 1730.6h0M222.1 1768.4h0M222.1 1786.1h0M222.1 1868.1h0M222.1 1857.4h0M222.1 1869.7h0M222.1 1859.1h0M222.1 1862.1h0M222.1 1856.7h0" fill="none" stroke="#000" stroke-opacity="0.44" stroke-width="4.0" stroke-linecap="round"/>
<path d="M222.1 1782.0h0M222.1 1773.3h0M222.1 1802.8h0M222.1 1875.7h0M222.1 1854.6h0M222.1 1837.9h0M222.1 1884.6h0M222.1 1890.2h0M222.1 1829.8h0" fill="none" stroke="#000" stroke-opacity="0.44" stroke-width="4.0" stroke-linecap="round"/>
<path d="M222.1 1731.3h0M222.1 1781.0h0M222.1 1870.9h0M222.1 1900.5h0M222.1 1897.2h0M222.1 1893.7h0M222.1 1822.1h0M222.1 1832.4h0" fill="none" stroke="#000" stroke-opacity="0.44" stroke-width="4.0" stroke-linecap="round"/>
<path d="M222.1 1781.1h0M222.1 1758.8h0M222.1 1870.8h0M222.1 1836.9h0M222.1 1795.7h0M222.1 1841.1h0M222.1 1849.1h0M222.1 1890.3h0" fill="none" stroke="#000" stroke-opacity="0.44" stroke-width="4.0" stroke-linecap="round"/>
<path d="M222.1 1763.7h0M222.1 1761.2h0M222.1 1794.6h0M222.1 1905.3h0M222.1 1879.3h0M222.1 1853.5h0M222.1 1847.6h0M222.1 1845.5h0" fill="none" stroke="#000" stroke-opacity="0.44" stroke-width="4.0" stroke-linecap="round"/>
<rect x="220.0" y="1907.1" width="4.2" height="131.9" fill="#0a0a0a" />
<rect x="214.8" y="1963.0" width="14.6" height="38.8" fill="#C49D3B" stroke="#232a2a" stroke-width="1.8"/>
<line x1="215.4" y1="1985.7" x2="228.8" y2="1985.7" stroke="#283033" stroke-width="6" />
<line x1="222.1" y1="1907.1" x2="222.1" y2="2039.0" stroke="#000" stroke-width="3.4" />
<line x1="215.3" y1="1907.1" x2="228.8" y2="1907.1" stroke="#000" stroke-width="3" />
<line x1="215.3" y1="2039.0" x2="228.8" y2="2039.0" stroke="#000" stroke-width="3" />
<rect x="237.2" y="1858.7" width="4.2" height="96.8" fill="url(#gd)"/>
<path d="M239.3 1842.5h0M239.3 1898.7h0M239.3 1938.4h0M239.3 1867.5h0M239.3 1923.8h0M239.3 1924.5h0M239.3 1886.7h0" fill="none" stroke="#000" stroke-opacity="0.44" stroke-width="4.0" stroke-linecap="round"/>
<path d="M239.3 1852.2h0M239.3 1897.3h0M239.3 1866.1h0M239.3 1895.7h0M239.3 1928.0h0M239.3 1925.3h0" fill="none" stroke="#000" stroke-opacity="0.44" stroke-width="4.0" stroke-linecap="round"/>
<path d="M239.3 1858.4h0M239.3 1895.6h0M239.3 1933.4h0M239.3 1860.4h0M239.3 1938.8h0M239.3 1931.2h0" fill="none" stroke="#000" stroke-opacity="0.44" stroke-width="4.0" stroke-linecap="round"/>
<path d="M239.3 1854.3h0M239.3 1921.9h0M239.3 1946.5h0M239.3 1884.3h0M239.3 1948.5h0M239.3 1922.7h0" fill="none" stroke="#000" stroke-opacity="0.44" stroke-width="4.0" stroke-linecap="round"/>
<path d="M239.3 1856.1h0M239.3 1926.0h0M239.3 1918.3h0M239.3 1949.4h0M239.3 1924.0h0M239.3 1929.9h0" fill="none" stroke="#000" stroke-opacity="0.44" stroke-width="4.0" stroke-linecap="round"/>
<rect x="237.2" y="1955.5" width="4.2" height="83.5" fill="#0a0a0a" />
<rect x="232.0" y="1995.3" width="14.6" height="26.9" fill="#AFAB3B" stroke="#232a2a" stroke-width="1.8"/>
<line x1="232.6" y1="2010.4" x2="246.0" y2="2010.4" stroke="#283033" stroke-width="6" />
<line x1="239.3" y1="1955.5" x2="239.3" y2="2039.0" stroke="#000" stroke-width="3.4" />
<line x1="232.5" y1="1955.5" x2="246.0" y2="1955.5" stroke="#000" stroke-width="3" />
<line x1="232.5" y1="2039.0" x2="246.0" y2="2039.0" stroke="#000" stroke-width="3" />
<rect x="254.4" y="1703.8" width="4.2" height="159.2" fill="url(#gd)"/>
<path d="M256.5 1574.7h0M256.5 1613.1h0M256.5 1638.4h0M256.5 1630.0h0M256.5 1697.7h0M256.5 1838.3h0M256.5 1778.3h0M256.5 1782.2h0M256.5 1709.5h0M256.5 1726.6h0M256.5 1755.0h0M256.5 1825.3h0M256.5 1824.7h0" fill="none" stroke="#000" stroke-opacity="0.44" stroke-width="4.0" stroke-linecap="round"/>
<path d="M256.5 1671.7h0M256.5 1586.6h0M256.5 1687.2h0M256.5 1644.8h0M256.5 1590.7h0M256.5 1806.1h0M256.5 1808.5h0M256.5 1729.4h0M256.5 1706.0h0M256.5 1846.2h0M256.5 1828.0h0M256.5 1844.3h0M256.5 1789.4h0" fill="none" stroke="#000" stroke-opacity="0.44" stroke-width="4.0" stroke-linecap="round"/>
<path d="M256.5 1649.0h0M256.5 1682.5h0M256.5 1683.7h0M256.5 1632.1h0M256.5 1661.2h0M256.5 1852.5h0M256.5 1855.0h0M256.5 1815.8h0M256.5 1821.3h0M256.5 1734.7h0M256.5 1745.5h0M256.5 1827.5h0M256.5 1854.3h0" fill="none" stroke="#000" stroke-opacity="0.44" stroke-width="4.0" stroke-linecap="round"/>
<path d="M256.5 1681.3h0M256.5 1695.9h0M256.5 1660.6h0M256.5 1645.8h0M256.5 1715.8h0M256.5 1787.3h0M256.5 1860.5h0M256.5 1749.9h0M256.5 1733.3h0M256.5 1710.1h0M256.5 1718.3h0M256.5 1725.8h0M256.5 1757.0h0" fill="none" stroke="#000" stroke-opacity="0.44" stroke-width="4.0" stroke-linecap="round"/>
<path d="M256.5 1599.9h0M256.5 1670.5h0M256.5 1624.1h0M256.5 1669.1h0M256.5 1732.8h0M256.5 1709.1h0M256.5 1791.6h0M256.5 1739.0h0M256.5 1858.7h0M256.5 1826.1h0M256.5 1833.5h0M256.5 1813.6h0" fill="none" stroke="#000" stroke-opacity="0.44" stroke-width="4.0" stroke-linecap="round"/>
<rect x="254.4" y="1863.0" width="4.2" height="176.0" fill="#0a0a0a" />
<rect x="249.2" y="1949.0" width="14.6" height="58.2" fill="#9AB93B" stroke="#232a2a" stroke-width="1.8"/>
<line x1="249.8" y1="1984.6" x2="263.2" y2="1984.6" stroke="#283033" stroke-width="6" />
<line x1="256.5" y1="1863.0" x2="256.5" y2="2039.0" stroke="#000" stroke-width="3.4" />
<line x1="249.8" y1="1863.0" x2="263.2" y2="1863.0" stroke="#000" stroke-width="3" />
<line x1="249.8" y1="2039.0" x2="263.2" y2="2039.0" stroke="#000" stroke-width="3" />
<rect x="271.6" y="1811.4" width="4.2" height="62.4" fill="url(#gd)"/>
<path d="M273.7 1641.3h0M273.7 1767.0h0M273.7 1689.0h0M273.7 1756.4h0M273.7 1724.5h0M273.7 1784.9h0M273.7 1818.0h0M273.7 1853.2h0M273.7 1843.1h0M273.7 1868.6h0" fill="none" stroke="#000" stroke-opacity="0.44" stroke-width="4.0" stroke-linecap="round"/>
<path d="M273.7 1807.1h0M273.7 1788.9h0M273.7 1794.4h0M273.7 1736.4h0M273.7 1766.2h0M273.7 1804.7h0M273.7 1872.5h0M273.7 1872.7h0M273.7 1868.1h0" fill="none" stroke="#000" stroke-opacity="0.44" stroke-width="4.0" stroke-linecap="round"/>
<path d="M273.7 1775.9h0M273.7 1669.4h0M273.7 1743.6h0M273.7 1770.5h0M273.7 1764.1h0M273.7 1784.7h0M273.7 1858.5h0M273.7 1865.2h0M273.7 1840.0h0" fill="none" stroke="#000" stroke-opacity="0.44" stroke-width="4.0" stroke-linecap="round"/>
<path d="M273.7 1647.8h0M273.7 1715.9h0M273.7 1664.1h0M273.7 1684.6h0M273.7 1733.2h0M273.7 1755.3h0M273.7 1865.0h0M273.7 1852.9h0M273.7 1857.5h0" fill="none" stroke="#000" stroke-opacity="0.44" stroke-width="4.0" stroke-linecap="round"/>
<path d="M273.7 1649.2h0M273.7 1777.5h0M273.7 1725.2h0M273.7 1786.3h0M273.7 1728.1h0M273.7 1834.7h0M273.7 1837.2h0M273.7 1835.8h0M273.7 1853.0h0" fill="none" stroke="#000" stroke-opacity="0.44" stroke-width="4.0" stroke-linecap="round"/>
<rect x="271.6" y="1873.8" width="4.2" height="164.6" fill="#0a0a0a" />
<rect x="266.4" y="1942.6" width="14.6" height="39.8" fill="#81C83B" stroke="#232a2a" stroke-width="1.8"/>
<line x1="267.0" y1="1962.0" x2="280.4" y2="1962.0" stroke="#283033" stroke-width="6" />
<line x1="273.7" y1="1873.8" x2="273.7" y2="2038.4" stroke="#000" stroke-width="3.4" />
<line x1="266.9" y1="1873.8" x2="280.4" y2="1873.8" stroke="#000" stroke-width="3" />
<line x1="266.9" y1="2038.4" x2="280.4" y2="2038.4" stroke="#000" stroke-width="3" />
<rect x="288.8" y="1944.8" width="4.2" height="67.7" fill="url(#gd)"/>
<path d="M290.9 1684.4h0M290.9 1826.4h0M290.9 1913.5h0M290.9 1916.9h0M290.9 1730.0h0M290.9 1932.2h0M290.9 1770.1h0M290.9 1731.0h0M290.9 1925.6h0M290.9 1962.7h0M290.9 1987.6h0M290.9 2012.3h0M290.9 1960.1h0" fill="none" stroke="#000" stroke-opacity="0.44" stroke-width="4.0" stroke-linecap="round"/>
<path d="M290.9 1908.5h0M290.9 1863.4h0M290.9 1909.3h0M290.9 1908.4h0M290.9 1856.2h0M290.9 1778.0h0M290.9 1783.8h0M290.9 1908.3h0M290.9 1923.4h0M290.9 1962.9h0M290.9 1977.5h0M290.9 1975.6h0" fill="none" stroke="#000" stroke-opacity="0.44" stroke-width="4.0" stroke-linecap="round"/>
<path d="M290.9 1791.5h0M290.9 1910.1h0M290.9 1920.0h0M290.9 1883.9h0M290.9 1906.5h0M290.9 1867.7h0M290.9 1897.3h0M290.9 1901.5h0M290.9 1849.2h0M290.9 1962.0h0M290.9 1984.8h0M290.9 1956.1h0" fill="none" stroke="#000" stroke-opacity="0.44" stroke-width="4.0" stroke-linecap="round"/>
<path d="M290.9 1686.4h0M290.9 1923.8h0M290.9 1860.2h0M290.9 1928.8h0M290.9 1768.3h0M290.9 1882.5h0M290.9 1905.4h0M290.9 1777.6h0M290.9 1982.2h0M290.9 1995.8h0M290.9 1959.6h0M290.9 1991.7h0" fill="none" stroke="#000" stroke-opacity="0.44" stroke-width="4.0" stroke-linecap="round"/>
<path d="M290.9 1786.0h0M290.9 1712.0h0M290.9 1789.0h0M290.9 1808.0h0M290.9 1897.2h0M290.9 1836.4h0M290.9 1835.1h0M290.9 1861.8h0M290.9 1989.1h0M290.9 1974.9h0M290.9 1950.4h0M290.9 2000.7h0" fill="none" stroke="#000" stroke-opacity="0.44" stroke-width="4.0" stroke-linecap="round"/>
<rect x="288.8" y="2012.5" width="4.2" height="26.9" fill="#0a0a0a" />
<rect x="283.6" y="2026.5" width="14.6" height="11.9" fill="#70D642" stroke="#232a2a" stroke-width="1.8"/>
<line x1="284.2" y1="2032.0" x2="297.6" y2="2032.0" stroke="#283033" stroke-width="6" />
<line x1="290.9" y1="2012.5" x2="290.9" y2="2039.4" stroke="#000" stroke-width="3.4" />
<line x1="284.1" y1="2012.5" x2="297.6" y2="2012.5" stroke="#000" stroke-width="3" />
<line x1="284.1" y1="2039.4" x2="297.6" y2="2039.4" stroke="#000" stroke-width="3" />
<rect x="306.0" y="1697.4" width="4.2" height="196.8" fill="url(#gd)"/>
<path d="M308.1 1611.2h0M308.1 1618.3h0M308.1 1644.3h0M308.1 1686.0h0M308.1 1747.5h0M308.1 1802.8h0M308.1 1791.5h0M308.1 1835.2h0M308.1 1742.8h0M308.1 1763.5h0M308.1 1714.5h0M308.1 1716.9h0M308.1 1772.3h0M308.1 1763.8h0" fill="none" stroke="#000" stroke-opacity="0.44" stroke-width="4.0" stroke-linecap="round"/>
<path d="M308.1 1671.0h0M308.1 1696.8h0M308.1 1683.4h0M308.1 1888.4h0M308.1 1724.4h0M308.1 1885.8h0M308.1 1733.5h0M308.1 1887.3h0M308.1 1888.8h0M308.1 1782.8h0M308.1 1859.8h0M308.1 1739.3h0M308.1 1826.7h0M308.1 1734.5h0" fill="none" stroke="#000" stroke-opacity="0.44" stroke-width="4.0" stroke-linecap="round"/>
<path d="M308.1 1651.6h0M308.1 1689.1h0M308.1 1658.2h0M308.1 1763.1h0M308.1 1715.6h0M308.1 1879.9h0M308.1 1887.8h0M308.1 1840.2h0M308.1 1892.9h0M308.1 1878.7h0M308.1 1847.0h0M308.1 1854.6h0M308.1 1855.1h0" fill="none" stroke="#000" stroke-opacity="0.44" stroke-width="4.0" stroke-linecap="round"/>
<path d="M308.1 1665.3h0M308.1 1662.8h0M308.1 1694.1h0M308.1 1711.7h0M308.1 1820.7h0M308.1 1719.3h0M308.1 1763.8h0M308.1 1790.6h0M308.1 1756.4h0M308.1 1879.0h0M308.1 1836.3h0M308.1 1884.6h0M308.1 1729.9h0" fill="none" stroke="#000" stroke-opacity="0.44" stroke-width="4.0" stroke-linecap="round"/>
<path d="M308.1 1616.0h0M308.1 1668.8h0M308.1 1682.6h0M308.1 1751.9h0M308.1 1873.6h0M308.1 1827.8h0M308.1 1821.9h0M308.1 1801.0h0M308.1 1712.0h0M308.1 1868.1h0M308.1 1891.9h0M308.1 1841.4h0M308.1 1777.3h0" fill="none" stroke="#000" stroke-opacity="0.44" stroke-width="4.0" stroke-linecap="round"/>
<rect x="306.0" y="1894.2" width="4.2" height="144.8" fill="#0a0a0a" />
<rect x="300.8" y="1966.3" width="14.6" height="49.5" fill="#5EE442" stroke="#232a2a" stroke-width="1.8"/>
<line x1="301.4" y1="1995.3" x2="314.8" y2="1995.3" stroke="#283033" stroke-width="6" />
<line x1="308.1" y1="1894.2" x2="308.1" y2="2039.0" stroke="#000" stroke-width="3.4" />
<line x1="301.4" y1="1894.2" x2="314.9" y2="1894.2" stroke="#000" stroke-width="3" />
<line x1="301.4" y1="2039.0" x2="314.9" y2="2039.0" stroke="#000" stroke-width="3" />
<rect x="323.2" y="1762.0" width="4.2" height="157.0" fill="url(#gd)"/>
<path d="M325.3 1636.0h0M325.3 1731.7h0M325.3 1755.5h0M325.3 1667.0h0M325.3 1726.7h0M325.3 1870.2h0M325.3 1859.8h0M325.3 1797.5h0M325.3 1850.9h0M325.3 1777.8h0M325.3 1819.7h0M325.3 1918.8h0M325.3 1778.0h0" fill="none" stroke="#000" stroke-opacity="0.44" stroke-width="4.0" stroke-linecap="round"/>
<path d="M325.3 1711.1h0M325.3 1640.9h0M325.3 1679.1h0M325.3 1707.3h0M325.3 1707.9h0M325.3 1795.1h0M325.3 1795.4h0M325.3 1817.3h0M325.3 1824.8h0M325.3 1905.7h0M325.3 1815.1h0M325.3 1909.5h0M325.3 1883.6h0" fill="none" stroke="#000" stroke-opacity="0.44" stroke-width="4.0" stroke-linecap="round"/>
<path d="M325.3 1671.5h0M325.3 1735.6h0M325.3 1756.1h0M325.3 1659.8h0M325.3 1828.2h0M325.3 1809.0h0M325.3 1902.5h0M325.3 1898.5h0M325.3 1906.7h0M325.3 1875.7h0M325.3 1805.6h0M325.3 1786.4h0M325.3 1820.9h0" fill="none" stroke="#000" stroke-opacity="0.44" stroke-width="4.0" stroke-linecap="round"/>
<path d="M325.3 1681.6h0M325.3 1675.5h0M325.3 1749.9h0M325.3 1755.6h0M325.3 1896.4h0M325.3 1777.8h0M325.3 1816.5h0M325.3 1827.4h0M325.3 1789.7h0M325.3 1807.2h0M325.3 1832.0h0M325.3 1820.2h0" fill="none" stroke="#000" stroke-opacity="0.44" stroke-width="4.0" stroke-linecap="round"/>
<path d="M325.3 1667.6h0M325.3 1647.4h0M325.3 1751.9h0M325.3 1747.6h0M325.3 1848.9h0M325.3 1881.9h0M325.3 1839.2h0M325.3 1799.6h0M325.3 1916.3h0M325.3 1848.9h0M325.3 1917.9h0M325.3 1905.8h0" fill="none" stroke="#000" stroke-opacity="0.44" stroke-width="4.0" stroke-linecap="round"/>
<rect x="323.2" y="1919.0" width="4.2" height="120.4" fill="#0a0a0a" />
<rect x="318.0" y="1983.5" width="14.6" height="43.0" fill="#4CF03D" stroke="#232a2a" stroke-width="1.8"/>
<line x1="318.6" y1="2014.7" x2="332.0" y2="2014.7" stroke="#283033" stroke-width="6" />
<line x1="325.3" y1="1919.0" x2="325.3" y2="2039.4" stroke="#000" stroke-width="3.4" />
<line x1="318.5" y1="1919.0" x2="332.0" y2="1919.0" stroke="#000" stroke-width="3" />
<line x1="318.5" y1="2039.4" x2="332.0" y2="2039.4" stroke="#000" stroke-width="3" />
<rect x="340.4" y="1714.6" width="4.2" height="167.8" fill="url(#gd)"/>
<path d="M342.5 1589.7h0M342.5 1620.5h0M342.5 1659.0h0M342.5 1626.6h0M342.5 1611.6h0M342.5 1828.0h0M342.5 1733.6h0M342.5 1856.5h0M342.5 1720.6h0M342.5 1758.3h0M342.5 1825.4h0M342.5 1745.5h0M342.5 1842.4h0" fill="none" stroke="#000" stroke-opacity="0.44" stroke-width="4.0" stroke-linecap="round"/>
<path d="M342.5 1712.7h0M342.5 1590.3h0M342.5 1706.7h0M342.5 1693.6h0M342.5 1677.6h0M342.5 1841.9h0M342.5 1845.4h0M342.5 1784.6h0M342.5 1870.2h0M342.5 1859.4h0M342.5 1716.9h0M342.5 1842.8h0M342.5 1792.2h0" fill="none" stroke="#000" stroke-opacity="0.44" stroke-width="4.0" stroke-linecap="round"/>
<path d="M342.5 1595.7h0M342.5 1699.4h0M342.5 1632.1h0M342.5 1687.9h0M342.5 1810.3h0M342.5 1856.6h0M342.5 1796.5h0M342.5 1860.8h0M342.5 1807.4h0M342.5 1789.9h0M342.5 1814.0h0M342.5 1857.3h0M342.5 1848.1h0" fill="none" stroke="#000" stroke-opacity="0.44" stroke-width="4.0" stroke-linecap="round"/>
<path d="M342.5 1697.1h0M342.5 1669.1h0M342.5 1673.8h0M342.5 1629.0h0M342.5 1774.1h0M342.5 1823.6h0M342.5 1843.9h0M342.5 1864.0h0M342.5 1865.0h0M342.5 1754.0h0M342.5 1802.5h0M342.5 1864.1h0M342.5 1732.6h0" fill="none" stroke="#000" stroke-opacity="0.44" stroke-width="4.0" stroke-linecap="round"/>
<path d="M342.5 1648.0h0M342.5 1627.5h0M342.5 1620.2h0M342.5 1610.0h0M342.5 1762.0h0M342.5 1761.3h0M342.5 1731.2h0M342.5 1809.9h0M342.5 1772.8h0M342.5 1790.5h0M342.5 1813.4h0M342.5 1782.2h0M342.5 1865.1h0" fill="none" stroke="#000" stroke-opacity="0.44" stroke-width="4.0" stroke-linecap="round"/>
<rect x="340.4" y="1882.4" width="4.2" height="156.6" fill="#0a0a0a" />
<rect x="335.2" y="1959.8" width="14.6" height="50.6" fill="#49F242" stroke="#232a2a" stroke-width="1.8"/>
<line x1="335.8" y1="1992.1" x2="349.2" y2="1992.1" stroke="#283033" stroke-width="6" />
<line x1="342.5" y1="1882.4" x2="342.5" y2="2039.0" stroke="#000" stroke-width="3.4" />
<line x1="335.8" y1="1882.4" x2="349.2" y2="1882.4" stroke="#000" stroke-width="3" />
<line x1="335.8" y1="2039.0" x2="349.2" y2="2039.0" stroke="#000" stroke-width="3" />
<rect x="357.6" y="1998.6" width="4.2" height="21.4" fill="url(#gd)"/>
<path d="M359.7 1726.3h0M359.7 1902.2h0M359.7 1780.8h0M359.7 1938.0h0M359.7 1898.9h0M359.7 1756.6h0M359.7 1788.0h0M359.7 1796.8h0M359.7 1986.5h0M359.7 2008.8h0M359.7 2007.5h0" fill="none" stroke="#000" stroke-opacity="0.44" stroke-width="4.0" stroke-linecap="round"/>
<path d="M359.7 1989.7h0M359.7 1743.4h0M359.7 1829.0h0M359.7 1812.4h0M359.7 1938.8h0M359.7 1788.4h0M359.7 1870.6h0M359.7 1910.3h0M359.7 1866.4h0M359.7 2019.0h0M359.7 2009.6h0" fill="none" stroke="#000" stroke-opacity="0.44" stroke-width="4.0" stroke-linecap="round"/>
<path d="M359.7 1892.3h0M359.7 1992.3h0M359.7 1962.6h0M359.7 1741.5h0M359.7 1780.9h0M359.7 1892.0h0M359.7 1793.3h0M359.7 1948.0h0M359.7 1874.3h0M359.7 2016.1h0" fill="none" stroke="#000" stroke-opacity="0.44" stroke-width="4.0" stroke-linecap="round"/>
<path d="M359.7 1896.7h0M359.7 1821.1h0M359.7 1748.8h0M359.7 1916.3h0M359.7 1973.1h0M359.7 1893.7h0M359.7 1914.6h0M359.7 1802.5h0M359.7 1967.1h0M359.7 2007.6h0" fill="none" stroke="#000" stroke-opacity="0.44" stroke-width="4.0" stroke-linecap="round"/>
<path d="M359.7 1900.7h0M359.7 1808.4h0M359.7 1778.5h0M359.7 1911.2h0M359.7 1941.8h0M359.7 1837.3h0M359.7 1971.4h0M359.7 1964.4h0M359.7 1899.5h0M359.7 2005.4h0" fill="none" stroke="#000" stroke-opacity="0.44" stroke-width="4.0" stroke-linecap="round"/>
<rect x="357.6" y="2020.0" width="4.2" height="19.4" fill="#0a0a0a" />
<rect x="352.4" y="2028.7" width="14.6" height="9.7" fill="#49ED50" stroke="#232a2a" stroke-width="1.8"/>
<line x1="353.0" y1="2034.0" x2="366.4" y2="2034.0" stroke="#283033" stroke-width="6" />
<line x1="359.7" y1="2020.0" x2="359.7" y2="2039.4" stroke="#000" stroke-width="3.4" />
<line x1="352.9" y1="2020.0" x2="366.4" y2="2020.0" stroke="#000" stroke-width="3" />
<line x1="352.9" y1="2039.4" x2="366.4" y2="2039.4" stroke="#000" stroke-width="3" />
<rect x="374.8" y="2018.0" width="4.2" height="7.5" fill="url(#gd)"/>
<path d="M376.9 1967.3h0M376.9 2012.4h0M376.9 2020.5h0" fill="none" stroke="#000" stroke-opacity="0.44" stroke-width="4.0" stroke-linecap="round"/>
<path d="M376.9 2017.3h0M376.9 1973.0h0M376.9 2021.8h0" fill="none" stroke="#000" stroke-opacity="0.44" stroke-width="4.0" stroke-linecap="round"/>
<path d="M376.9 2010.7h0M376.9 1998.9h0M376.9 2023.2h0" fill="none" stroke="#000" stroke-opacity="0.44" stroke-width="4.0" stroke-linecap="round"/>
<path d="M376.9 2014.8h0M376.9 2016.5h0" fill="none" stroke="#000" stroke-opacity="0.44" stroke-width="4.0" stroke-linecap="round"/>
<path d="M376.9 2011.1h0M376.9 2015.6h0" fill="none" stroke="#000" stroke-opacity="0.44" stroke-width="4.0" stroke-linecap="round"/>
<rect x="374.8" y="2025.5" width="4.2" height="13.9" fill="#0a0a0a" />
<rect x="369.6" y="2029.8" width="14.6" height="8.6" fill="#49EB65" stroke="#232a2a" stroke-width="1.8"/>
<line x1="370.2" y1="2034.7" x2="383.6" y2="2034.7" stroke="#283033" stroke-width="6" />
<line x1="376.9" y1="2025.5" x2="376.9" y2="2039.4" stroke="#000" stroke-width="3.4" />
<line x1="370.1" y1="2025.5" x2="383.6" y2="2025.5" stroke="#000" stroke-width="3" />
<line x1="370.1" y1="2039.4" x2="383.6" y2="2039.4" stroke="#000" stroke-width="3" />
<rect x="392.0" y="1746.8" width="4.2" height="229.2" fill="url(#gd)"/>
<path d="M394.1 1695.0h0M394.1 1726.7h0M394.1 1744.4h0M394.1 1762.3h0M394.1 1887.3h0M394.1 1864.3h0M394.1 1788.9h0M394.1 1871.3h0M394.1 1832.8h0M394.1 1888.1h0M394.1 1810.3h0M394.1 1871.9h0M394.1 1853.2h0M394.1 1819.6h0" fill="none" stroke="#000" stroke-opacity="0.44" stroke-width="4.0" stroke-linecap="round"/>
<path d="M394.1 1720.0h0M394.1 1697.5h0M394.1 1905.8h0M394.1 1907.5h0M394.1 1962.0h0M394.1 1966.9h0M394.1 1898.0h0M394.1 1885.5h0M394.1 1858.4h0M394.1 1946.1h0M394.1 1921.1h0M394.1 1836.7h0M394.1 1896.2h0M394.1 1890.2h0" fill="none" stroke="#000" stroke-opacity="0.44" stroke-width="4.0" stroke-linecap="round"/>
<path d="M394.1 1727.9h0M394.1 1707.3h0M394.1 1940.3h0M394.1 1826.2h0M394.1 1903.4h0M394.1 1831.4h0M394.1 1967.9h0M394.1 1796.6h0M394.1 1831.5h0M394.1 1901.1h0M394.1 1870.1h0M394.1 1820.5h0M394.1 1753.4h0M394.1 1876.6h0" fill="none" stroke="#000" stroke-opacity="0.44" stroke-width="4.0" stroke-linecap="round"/>
<path d="M394.1 1702.1h0M394.1 1745.7h0M394.1 1954.5h0M394.1 1914.8h0M394.1 1822.5h0M394.1 1835.5h0M394.1 1881.3h0M394.1 1789.9h0M394.1 1820.8h0M394.1 1893.0h0M394.1 1888.5h0M394.1 1815.4h0M394.1 1846.4h0M394.1 1830.7h0" fill="none" stroke="#000" stroke-opacity="0.44" stroke-width="4.0" stroke-linecap="round"/>
<path d="M394.1 1723.4h0M394.1 1738.2h0M394.1 1954.6h0M394.1 1828.0h0M394.1 1882.7h0M394.1 1908.7h0M394.1 1826.8h0M394.1 1792.0h0M394.1 1779.5h0M394.1 1909.3h0M394.1 1901.7h0M394.1 1881.1h0M394.1 1950.3h0M394.1 1973.7h0" fill="none" stroke="#000" stroke-opacity="0.44" stroke-width="4.0" stroke-linecap="round"/>
<rect x="392.0" y="1976.0" width="4.2" height="63.0" fill="#0a0a0a" />
<rect x="386.8" y="2007.2" width="14.6" height="20.4" fill="#4CEB7E" stroke="#232a2a" stroke-width="1.8"/>
<line x1="387.4" y1="2021.2" x2="400.8" y2="2021.2" stroke="#283033" stroke-width="6" />
<line x1="394.1" y1="1976.0" x2="394.1" y2="2039.0" stroke="#000" stroke-width="3.4" />
<line x1="387.4" y1="1976.0" x2="400.9" y2="1976.0" stroke="#000" stroke-width="3" />
<line x1="387.4" y1="2039.0" x2="400.9" y2="2039.0" stroke="#000" stroke-width="3" />
<rect x="409.2" y="1781.3" width="4.2" height="96.8" fill="url(#gd)"/>
<path d="M411.3 1561.7h0M411.3 1761.0h0M411.3 1738.6h0M411.3 1620.4h0M411.3 1757.6h0M411.3 1742.7h0M411.3 1612.8h0M411.3 1696.1h0M411.3 1868.1h0M411.3 1856.0h0M411.3 1820.4h0M411.3 1806.3h0M411.3 1795.1h0" fill="none" stroke="#000" stroke-opacity="0.44" stroke-width="4.0" stroke-linecap="round"/>
<path d="M411.3 1654.7h0M411.3 1684.9h0M411.3 1607.5h0M411.3 1663.7h0M411.3 1752.9h0M411.3 1691.8h0M411.3 1760.9h0M411.3 1875.2h0M411.3 1846.3h0M411.3 1817.5h0M411.3 1861.2h0M411.3 1818.6h0M411.3 1871.9h0" fill="none" stroke="#000" stroke-opacity="0.44" stroke-width="4.0" stroke-linecap="round"/>
<path d="M411.3 1744.8h0M411.3 1592.2h0M411.3 1638.4h0M411.3 1667.0h0M411.3 1699.9h0M411.3 1746.9h0M411.3 1565.6h0M411.3 1843.2h0M411.3 1825.9h0M411.3 1826.9h0M411.3 1866.3h0M411.3 1802.0h0" fill="none" stroke="#000" stroke-opacity="0.44" stroke-width="4.0" stroke-linecap="round"/>
<path d="M411.3 1621.5h0M411.3 1674.4h0M411.3 1775.0h0M411.3 1728.3h0M411.3 1739.2h0M411.3 1734.0h0M411.3 1743.7h0M411.3 1829.5h0M411.3 1832.6h0M411.3 1841.8h0M411.3 1836.9h0M411.3 1843.5h0" fill="none" stroke="#000" stroke-opacity="0.44" stroke-width="4.0" stroke-linecap="round"/>
<path d="M411.3 1593.9h0M411.3 1684.9h0M411.3 1739.1h0M411.3 1717.9h0M411.3 1739.9h0M411.3 1768.0h0M411.3 1712.4h0M411.3 1861.0h0M411.3 1833.1h0M411.3 1826.4h0M411.3 1831.9h0M411.3 1844.0h0" fill="none" stroke="#000" stroke-opacity="0.44" stroke-width="4.0" stroke-linecap="round"/>
<rect x="409.2" y="1878.1" width="4.2" height="160.9" fill="#0a0a0a" />
<rect x="404.0" y="1952.3" width="14.6" height="49.5" fill="#4EEB9A" stroke="#232a2a" stroke-width="1.8"/>
<line x1="404.6" y1="1982.4" x2="418.0" y2="1982.4" stroke="#283033" stroke-width="6" />
<line x1="411.3" y1="1878.1" x2="411.3" y2="2039.0" stroke="#000" stroke-width="3.4" />
<line x1="404.5" y1="1878.1" x2="418.0" y2="1878.1" stroke="#000" stroke-width="3" />
<line x1="404.5" y1="2039.0" x2="418.0" y2="2039.0" stroke="#000" stroke-width="3" />
<rect x="426.4" y="1934.0" width="4.2" height="45.2" fill="url(#gd)"/>
<path d="M428.5 1893.0h0M428.5 1905.8h0M428.5 1962.6h0M428.5 1979.1h0M428.5 1953.9h0" fill="none" stroke="#000" stroke-opacity="0.44" stroke-width="4.0" stroke-linecap="round"/>
<path d="M428.5 1911.1h0M428.5 1915.1h0M428.5 1959.8h0M428.5 1960.7h0M428.5 1963.8h0" fill="none" stroke="#000" stroke-opacity="0.44" stroke-width="4.0" stroke-linecap="round"/>
<path d="M428.5 1929.3h0M428.5 1931.3h0M428.5 1976.3h0M428.5 1960.7h0" fill="none" stroke="#000" stroke-opacity="0.44" stroke-width="4.0" stroke-linecap="round"/>
<path d="M428.5 1929.1h0M428.5 1893.8h0M428.5 1970.8h0M428.5 1967.4h0" fill="none" stroke="#000" stroke-opacity="0.44" stroke-width="4.0" stroke-linecap="round"/>
<path d="M428.5 1932.8h0M428.5 1937.9h0M428.5 1961.5h0M428.5 1955.3h0" fill="none" stroke="#000" stroke-opacity="0.44" stroke-width="4.0" stroke-linecap="round"/>
<rect x="426.4" y="1979.2" width="4.2" height="58.1" fill="#0a0a0a" />
<rect x="421.2" y="2005.0" width="14.6" height="18.3" fill="#50EDB2" stroke="#232a2a" stroke-width="1.8"/>
<line x1="421.8" y1="2014.7" x2="435.2" y2="2014.7" stroke="#283033" stroke-width="6" />
<line x1="428.5" y1="1979.2" x2="428.5" y2="2037.3" stroke="#000" stroke-width="3.4" />
<line x1="421.8" y1="1979.2" x2="435.2" y2="1979.2" stroke="#000" stroke-width="3" />
<line x1="421.8" y1="2037.3" x2="435.2" y2="2037.3" stroke="#000" stroke-width="3" />
<rect x="443.6" y="1723.2" width="4.2" height="115.1" fill="url(#gd)"/>
<path d="M445.7 1637.0h0M445.7 1653.3h0M445.7 1715.7h0M445.7 1723.0h0M445.7 1769.2h0M445.7 1828.5h0M445.7 1780.8h0M445.7 1753.4h0M445.7 1837.7h0M445.7 1767.9h0" fill="none" stroke="#000" stroke-opacity="0.44" stroke-width="4.0" stroke-linecap="round"/>
<path d="M445.7 1677.9h0M445.7 1679.8h0M445.7 1721.0h0M445.7 1772.1h0M445.7 1836.3h0M445.7 1808.7h0M445.7 1749.3h0M445.7 1752.7h0M445.7 1803.4h0" fill="none" stroke="#000" stroke-opacity="0.44" stroke-width="4.0" stroke-linecap="round"/>
<path d="M445.7 1720.0h0M445.7 1682.0h0M445.7 1688.7h0M445.7 1792.5h0M445.7 1822.0h0M445.7 1821.5h0M445.7 1765.9h0M445.7 1802.7h0M445.7 1732.4h0" fill="none" stroke="#000" stroke-opacity="0.44" stroke-width="4.0" stroke-linecap="round"/>
<path d="M445.7 1702.3h0M445.7 1694.2h0M445.7 1685.1h0M445.7 1821.0h0M445.7 1790.6h0M445.7 1837.4h0M445.7 1790.5h0M445.7 1800.0h0M445.7 1779.8h0" fill="none" stroke="#000" stroke-opacity="0.44" stroke-width="4.0" stroke-linecap="round"/>
<path d="M445.7 1691.6h0M445.7 1695.1h0M445.7 1698.7h0M445.7 1751.2h0M445.7 1743.0h0M445.7 1827.9h0M445.7 1789.8h0M445.7 1773.3h0M445.7 1818.3h0" fill="none" stroke="#000" stroke-opacity="0.44" stroke-width="4.0" stroke-linecap="round"/>
<rect x="443.6" y="1838.3" width="4.2" height="199.0" fill="#0a0a0a" />
<rect x="438.4" y="1934.0" width="14.6" height="64.6" fill="#52F0CF" stroke="#232a2a" stroke-width="1.8"/>
<line x1="439.0" y1="1970.6" x2="452.4" y2="1970.6" stroke="#283033" stroke-width="6" />
<line x1="445.7" y1="1838.3" x2="445.7" y2="2037.3" stroke="#000" stroke-width="3.4" />
<line x1="438.9" y1="1838.3" x2="452.4" y2="1838.3" stroke="#000" stroke-width="3" />
<line x1="438.9" y1="2037.3" x2="452.4" y2="2037.3" stroke="#000" stroke-width="3" />
<rect x="460.8" y="1768.4" width="4.2" height="124.7" fill="url(#gd)"/>
<path d="M462.9 1668.2h0M462.9 1736.8h0M462.9 1707.3h0M462.9 1721.5h0M462.9 1788.2h0M462.9 1873.4h0M462.9 1863.8h0M462.9 1883.4h0M462.9 1780.6h0M462.9 1853.5h0M462.9 1817.9h0" fill="none" stroke="#000" stroke-opacity="0.44" stroke-width="4.0" stroke-linecap="round"/>
<path d="M462.9 1745.3h0M462.9 1743.5h0M462.9 1741.8h0M462.9 1690.3h0M462.9 1798.7h0M462.9 1781.9h0M462.9 1822.7h0M462.9 1849.3h0M462.9 1882.1h0M462.9 1809.4h0" fill="none" stroke="#000" stroke-opacity="0.44" stroke-width="4.0" stroke-linecap="round"/>
<path d="M462.9 1669.3h0M462.9 1699.6h0M462.9 1732.2h0M462.9 1694.9h0M462.9 1842.6h0M462.9 1772.1h0M462.9 1798.5h0M462.9 1822.1h0M462.9 1849.3h0M462.9 1778.6h0" fill="none" stroke="#000" stroke-opacity="0.44" stroke-width="4.0" stroke-linecap="round"/>
<path d="M462.9 1711.2h0M462.9 1729.3h0M462.9 1768.2h0M462.9 1868.5h0M462.9 1875.1h0M462.9 1869.6h0M462.9 1811.7h0M462.9 1834.2h0M462.9 1889.1h0M462.9 1886.1h0" fill="none" stroke="#000" stroke-opacity="0.44" stroke-width="4.0" stroke-linecap="round"/>
<path d="M462.9 1756.9h0M462.9 1734.1h0M462.9 1735.9h0M462.9 1789.2h0M462.9 1852.7h0M462.9 1818.9h0M462.9 1788.1h0M462.9 1826.6h0M462.9 1833.0h0M462.9 1878.4h0" fill="none" stroke="#000" stroke-opacity="0.44" stroke-width="4.0" stroke-linecap="round"/>
<rect x="460.8" y="1893.1" width="4.2" height="144.2" fill="#0a0a0a" />
<rect x="455.6" y="1963.0" width="14.6" height="47.4" fill="#57F2EB" stroke="#232a2a" stroke-width="1.8"/>
<line x1="456.2" y1="1990.0" x2="469.6" y2="1990.0" stroke="#283033" stroke-width="6" />
<line x1="462.9" y1="1893.1" x2="462.9" y2="2037.3" stroke="#000" stroke-width="3.4" />
<line x1="456.1" y1="1893.1" x2="469.6" y2="1893.1" stroke="#000" stroke-width="3" />
<line x1="456.1" y1="2037.3" x2="469.6" y2="2037.3" stroke="#000" stroke-width="3" />
<rect x="478.0" y="1753.3" width="4.2" height="31.2" fill="url(#gd)"/>
<path d="M480.1 1615.5h0M480.1 1749.4h0M480.1 1724.6h0M480.1 1732.5h0M480.1 1750.5h0M480.1 1767.9h0M480.1 1766.8h0" fill="none" stroke="#000" stroke-opacity="0.44" stroke-width="4.0" stroke-linecap="round"/>
<path d="M480.1 1743.3h0M480.1 1699.4h0M480.1 1662.8h0M480.1 1666.1h0M480.1 1673.0h0M480.1 1768.4h0M480.1 1763.4h0" fill="none" stroke="#000" stroke-opacity="0.44" stroke-width="4.0" stroke-linecap="round"/>
<path d="M480.1 1734.9h0M480.1 1748.4h0M480.1 1675.5h0M480.1 1655.2h0M480.1 1707.2h0M480.1 1756.8h0M480.1 1761.6h0" fill="none" stroke="#000" stroke-opacity="0.44" stroke-width="4.0" stroke-linecap="round"/>
<path d="M480.1 1674.8h0M480.1 1666.0h0M480.1 1740.9h0M480.1 1682.2h0M480.1 1645.0h0M480.1 1759.1h0" fill="none" stroke="#000" stroke-opacity="0.44" stroke-width="4.0" stroke-linecap="round"/>
<path d="M480.1 1711.9h0M480.1 1686.3h0M480.1 1698.1h0M480.1 1657.3h0M480.1 1772.2h0M480.1 1780.1h0" fill="none" stroke="#000" stroke-opacity="0.44" stroke-width="4.0" stroke-linecap="round"/>
<rect x="478.0" y="1784.5" width="4.2" height="250.6" fill="#0a0a0a" />
<rect x="472.8" y="1903.9" width="14.6" height="80.7" fill="#57E0F5" stroke="#232a2a" stroke-width="1.8"/>
<line x1="473.4" y1="1950.2" x2="486.8" y2="1950.2" stroke="#283033" stroke-width="6" />
<line x1="480.1" y1="1784.5" x2="480.1" y2="2035.1" stroke="#000" stroke-width="3.4" />
<line x1="473.4" y1="1784.5" x2="486.9" y2="1784.5" stroke="#000" stroke-width="3" />
<line x1="473.4" y1="2035.1" x2="486.9" y2="2035.1" stroke="#000" stroke-width="3" />
<rect x="495.2" y="1837.2" width="4.2" height="75.3" fill="url(#gd)"/>
<path d="M497.3 1691.9h0M497.3 1759.9h0M497.3 1819.9h0M497.3 1731.3h0M497.3 1739.7h0M497.3 1852.0h0M497.3 1871.0h0M497.3 1851.3h0M497.3 1872.3h0" fill="none" stroke="#000" stroke-opacity="0.44" stroke-width="4.0" stroke-linecap="round"/>
<path d="M497.3 1751.5h0M497.3 1730.7h0M497.3 1725.6h0M497.3 1761.5h0M497.3 1832.1h0M497.3 1894.2h0M497.3 1861.7h0M497.3 1881.3h0M497.3 1891.0h0" fill="none" stroke="#000" stroke-opacity="0.44" stroke-width="4.0" stroke-linecap="round"/>
<path d="M497.3 1744.3h0M497.3 1805.5h0M497.3 1773.7h0M497.3 1807.4h0M497.3 1781.6h0M497.3 1862.9h0M497.3 1887.8h0M497.3 1883.4h0M497.3 1885.1h0" fill="none" stroke="#000" stroke-opacity="0.44" stroke-width="4.0" stroke-linecap="round"/>
<path d="M497.3 1704.9h0M497.3 1718.6h0M497.3 1820.0h0M497.3 1764.8h0M497.3 1742.8h0M497.3 1906.4h0M497.3 1859.0h0M497.3 1863.6h0M497.3 1866.8h0" fill="none" stroke="#000" stroke-opacity="0.44" stroke-width="4.0" stroke-linecap="round"/>
<path d="M497.3 1800.8h0M497.3 1749.4h0M497.3 1816.6h0M497.3 1832.9h0M497.3 1774.9h0M497.3 1886.4h0M497.3 1904.7h0M497.3 1898.4h0M497.3 1872.6h0" fill="none" stroke="#000" stroke-opacity="0.44" stroke-width="4.0" stroke-linecap="round"/>
<rect x="495.2" y="1912.5" width="4.2" height="124.8" fill="#0a0a0a" />
<rect x="490.0" y="1972.7" width="14.6" height="40.9" fill="#5EC8F5" stroke="#232a2a" stroke-width="1.8"/>
<line x1="490.6" y1="1996.4" x2="504.0" y2="1996.4" stroke="#283033" stroke-width="6" />
<line x1="497.3" y1="1912.5" x2="497.3" y2="2037.3" stroke="#000" stroke-width="3.4" />
<line x1="490.5" y1="1912.5" x2="504.0" y2="1912.5" stroke="#000" stroke-width="3" />
<line x1="490.5" y1="2037.3" x2="504.0" y2="2037.3" stroke="#000" stroke-width="3" />
<rect x="512.4" y="1873.8" width="4.2" height="67.8" fill="url(#gd)"/>
<path d="M514.5 1758.6h0M514.5 1844.7h0M514.5 1807.3h0M514.5 1849.6h0M514.5 1935.2h0M514.5 1923.6h0M514.5 1924.7h0M514.5 1891.1h0" fill="none" stroke="#000" stroke-opacity="0.44" stroke-width="4.0" stroke-linecap="round"/>
<path d="M514.5 1778.5h0M514.5 1782.2h0M514.5 1774.9h0M514.5 1805.5h0M514.5 1934.0h0M514.5 1922.6h0M514.5 1896.1h0M514.5 1885.8h0" fill="none" stroke="#000" stroke-opacity="0.44" stroke-width="4.0" stroke-linecap="round"/>
<path d="M514.5 1792.2h0M514.5 1835.2h0M514.5 1808.9h0M514.5 1819.1h0M514.5 1887.2h0M514.5 1903.2h0M514.5 1933.1h0M514.5 1936.8h0" fill="none" stroke="#000" stroke-opacity="0.44" stroke-width="4.0" stroke-linecap="round"/>
<path d="M514.5 1861.4h0M514.5 1814.6h0M514.5 1798.7h0M514.5 1866.3h0M514.5 1898.0h0M514.5 1907.2h0M514.5 1903.2h0" fill="none" stroke="#000" stroke-opacity="0.44" stroke-width="4.0" stroke-linecap="round"/>
<path d="M514.5 1810.1h0M514.5 1829.2h0M514.5 1784.9h0M514.5 1854.8h0M514.5 1877.9h0M514.5 1922.4h0M514.5 1920.6h0" fill="none" stroke="#000" stroke-opacity="0.44" stroke-width="4.0" stroke-linecap="round"/>
<rect x="512.4" y="1941.6" width="4.2" height="95.7" fill="#0a0a0a" />
<rect x="507.2" y="1984.6" width="14.6" height="29.0" fill="#5EB2F2" stroke="#232a2a" stroke-width="1.8"/>
<line x1="507.8" y1="2001.8" x2="521.2" y2="2001.8" stroke="#283033" stroke-width="6" />
<line x1="514.5" y1="1941.6" x2="514.5" y2="2037.3" stroke="#000" stroke-width="3.4" />
<line x1="507.8" y1="1941.6" x2="521.2" y2="1941.6" stroke="#000" stroke-width="3" />
<line x1="507.8" y1="2037.3" x2="521.2" y2="2037.3" stroke="#000" stroke-width="3" />
<rect x="529.6" y="1802.8" width="4.2" height="104.3" fill="url(#gd)"/>
<path d="M531.7 1715.6h0M531.7 1739.3h0M531.7 1753.5h0M531.7 1784.5h0M531.7 1803.2h0M531.7 1894.7h0M531.7 1889.3h0M531.7 1880.7h0M531.7 1818.0h0" fill="none" stroke="#000" stroke-opacity="0.44" stroke-width="4.0" stroke-linecap="round"/>
<path d="M531.7 1785.6h0M531.7 1743.0h0M531.7 1779.0h0M531.7 1837.7h0M531.7 1893.0h0M531.7 1872.8h0M531.7 1832.7h0M531.7 1852.3h0M531.7 1902.6h0" fill="none" stroke="#000" stroke-opacity="0.44" stroke-width="4.0" stroke-linecap="round"/>
<path d="M531.7 1784.2h0M531.7 1752.8h0M531.7 1741.1h0M531.7 1856.4h0M531.7 1888.0h0M531.7 1811.9h0M531.7 1899.9h0M531.7 1885.4h0M531.7 1855.3h0" fill="none" stroke="#000" stroke-opacity="0.44" stroke-width="4.0" stroke-linecap="round"/>
<path d="M531.7 1723.9h0M531.7 1759.5h0M531.7 1792.6h0M531.7 1879.8h0M531.7 1841.2h0M531.7 1836.6h0M531.7 1885.6h0M531.7 1892.5h0M531.7 1901.2h0" fill="none" stroke="#000" stroke-opacity="0.44" stroke-width="4.0" stroke-linecap="round"/>
<path d="M531.7 1723.9h0M531.7 1723.7h0M531.7 1774.1h0M531.7 1847.7h0M531.7 1811.2h0M531.7 1820.8h0M531.7 1817.5h0M531.7 1840.6h0" fill="none" stroke="#000" stroke-opacity="0.44" stroke-width="4.0" stroke-linecap="round"/>
<rect x="529.6" y="1907.1" width="4.2" height="130.2" fill="#0a0a0a" />
<rect x="524.4" y="1968.4" width="14.6" height="42.0" fill="#6CA1F2" stroke="#232a2a" stroke-width="1.8"/>
<line x1="525.0" y1="1996.4" x2="538.4" y2="1996.4" stroke="#283033" stroke-width="6" />
<line x1="531.7" y1="1907.1" x2="531.7" y2="2037.3" stroke="#000" stroke-width="3.4" />
<line x1="524.9" y1="1907.1" x2="538.4" y2="1907.1" stroke="#000" stroke-width="3" />
<line x1="524.9" y1="2037.3" x2="538.4" y2="2037.3" stroke="#000" stroke-width="3" />
<rect x="546.8" y="1675.8" width="4.2" height="133.4" fill="url(#gd)"/>
<path d="M548.9 1626.3h0M548.9 1654.3h0M548.9 1801.5h0M548.9 1788.0h0M548.9 1757.8h0M548.9 1712.8h0M548.9 1718.1h0M548.9 1733.6h0M548.9 1731.2h0" fill="none" stroke="#000" stroke-opacity="0.44" stroke-width="4.0" stroke-linecap="round"/>
<path d="M548.9 1664.3h0M548.9 1631.9h0M548.9 1701.5h0M548.9 1721.4h0M548.9 1719.8h0M548.9 1728.1h0M548.9 1718.6h0M548.9 1726.6h0M548.9 1789.1h0" fill="none" stroke="#000" stroke-opacity="0.44" stroke-width="4.0" stroke-linecap="round"/>
<path d="M548.9 1666.1h0M548.9 1664.6h0M548.9 1783.1h0M548.9 1758.1h0M548.9 1689.7h0M548.9 1702.9h0M548.9 1754.3h0M548.9 1796.7h0M548.9 1758.3h0" fill="none" stroke="#000" stroke-opacity="0.44" stroke-width="4.0" stroke-linecap="round"/>
<path d="M548.9 1669.6h0M548.9 1653.2h0M548.9 1686.7h0M548.9 1805.9h0M548.9 1734.4h0M548.9 1776.9h0M548.9 1745.6h0M548.9 1703.8h0M548.9 1783.0h0" fill="none" stroke="#000" stroke-opacity="0.44" stroke-width="4.0" stroke-linecap="round"/>
<path d="M548.9 1661.8h0M548.9 1656.9h0M548.9 1776.4h0M548.9 1768.9h0M548.9 1741.4h0M548.9 1772.7h0M548.9 1802.3h0M548.9 1760.1h0M548.9 1708.0h0" fill="none" stroke="#000" stroke-opacity="0.44" stroke-width="4.0" stroke-linecap="round"/>
<rect x="546.8" y="1809.2" width="4.2" height="228.5" fill="#0a0a0a" />
<rect x="541.6" y="1922.2" width="14.6" height="75.3" fill="#7791EB" stroke="#232a2a" stroke-width="1.8"/>
<line x1="542.2" y1="1969.5" x2="555.6" y2="1969.5" stroke="#283033" stroke-width="6" />
<line x1="548.9" y1="1809.2" x2="548.9" y2="2037.7" stroke="#000" stroke-width="3.4" />
<line x1="542.1" y1="1809.2" x2="555.6" y2="1809.2" stroke="#000" stroke-width="3" />
<line x1="542.1" y1="2037.7" x2="555.6" y2="2037.7" stroke="#000" stroke-width="3" />
<rect x="564.0" y="1824.3" width="4.2" height="60.2" fill="url(#gd)"/>
<path d="M566.1 1683.3h0M566.1 1807.1h0M566.1 1702.2h0M566.1 1713.2h0M566.1 1704.8h0M566.1 1870.4h0M566.1 1855.2h0M566.1 1866.7h0M566.1 1843.9h0" fill="none" stroke="#000" stroke-opacity="0.44" stroke-width="4.0" stroke-linecap="round"/>
<path d="M566.1 1789.2h0M566.1 1713.4h0M566.1 1740.7h0M566.1 1746.9h0M566.1 1688.3h0M566.1 1883.5h0M566.1 1840.2h0M566.1 1865.8h0" fill="none" stroke="#000" stroke-opacity="0.44" stroke-width="4.0" stroke-linecap="round"/>
<path d="M566.1 1781.5h0M566.1 1741.9h0M566.1 1727.9h0M566.1 1765.8h0M566.1 1823.5h0M566.1 1862.4h0M566.1 1861.2h0M566.1 1881.4h0" fill="none" stroke="#000" stroke-opacity="0.44" stroke-width="4.0" stroke-linecap="round"/>
<path d="M566.1 1764.9h0M566.1 1751.8h0M566.1 1793.1h0M566.1 1752.2h0M566.1 1798.4h0M566.1 1834.5h0M566.1 1825.6h0M566.1 1867.1h0" fill="none" stroke="#000" stroke-opacity="0.44" stroke-width="4.0" stroke-linecap="round"/>
<path d="M566.1 1800.1h0M566.1 1729.4h0M566.1 1763.2h0M566.1 1723.1h0M566.1 1832.6h0M566.1 1858.3h0M566.1 1880.6h0M566.1 1844.2h0" fill="none" stroke="#000" stroke-opacity="0.44" stroke-width="4.0" stroke-linecap="round"/>
<rect x="564.0" y="1884.5" width="4.2" height="152.8" fill="#0a0a0a" />
<rect x="558.8" y="1956.6" width="14.6" height="49.5" fill="#8881E5" stroke="#232a2a" stroke-width="1.8"/>
<line x1="559.4" y1="1985.7" x2="572.8" y2="1985.7" stroke="#283033" stroke-width="6" />
<line x1="566.1" y1="1884.5" x2="566.1" y2="2037.3" stroke="#000" stroke-width="3.4" />
<line x1="559.4" y1="1884.5" x2="572.9" y2="1884.5" stroke="#000" stroke-width="3" />
<line x1="559.4" y1="2037.3" x2="572.9" y2="2037.3" stroke="#000" stroke-width="3" />
<rect x="581.2" y="1740.4" width="4.2" height="125.9" fill="url(#gd)"/>
<path d="M583.3 1614.5h0M583.3 1667.7h0M583.3 1650.0h0M583.3 1652.4h0M583.3 1676.7h0M583.3 1827.2h0M583.3 1812.1h0M583.3 1757.1h0M583.3 1758.7h0M583.3 1741.5h0M583.3 1786.3h0" fill="none" stroke="#000" stroke-opacity="0.44" stroke-width="4.0" stroke-linecap="round"/>
<path d="M583.3 1645.3h0M583.3 1652.6h0M583.3 1720.6h0M583.3 1724.4h0M583.3 1725.0h0M583.3 1847.8h0M583.3 1812.7h0M583.3 1833.7h0M583.3 1750.0h0M583.3 1850.0h0M583.3 1830.9h0" fill="none" stroke="#000" stroke-opacity="0.44" stroke-width="4.0" stroke-linecap="round"/>
<path d="M583.3 1623.8h0M583.3 1706.2h0M583.3 1724.9h0M583.3 1670.7h0M583.3 1780.5h0M583.3 1835.6h0M583.3 1769.1h0M583.3 1770.0h0M583.3 1805.6h0M583.3 1851.5h0M583.3 1814.4h0" fill="none" stroke="#000" stroke-opacity="0.44" stroke-width="4.0" stroke-linecap="round"/>
<path d="M583.3 1719.6h0M583.3 1726.4h0M583.3 1716.5h0M583.3 1676.6h0M583.3 1750.2h0M583.3 1856.7h0M583.3 1788.4h0M583.3 1806.1h0M583.3 1773.9h0M583.3 1844.3h0M583.3 1803.4h0" fill="none" stroke="#000" stroke-opacity="0.44" stroke-width="4.0" stroke-linecap="round"/>
<path d="M583.3 1725.8h0M583.3 1733.8h0M583.3 1671.5h0M583.3 1697.1h0M583.3 1820.3h0M583.3 1860.7h0M583.3 1822.0h0M583.3 1863.3h0M583.3 1837.5h0M583.3 1803.9h0M583.3 1793.3h0" fill="none" stroke="#000" stroke-opacity="0.44" stroke-width="4.0" stroke-linecap="round"/>
<rect x="581.2" y="1866.3" width="4.2" height="171.0" fill="#0a0a0a" />
<rect x="576.0" y="1948.0" width="14.6" height="53.8" fill="#967CE0" stroke="#232a2a" stroke-width="1.8"/>
<line x1="576.6" y1="1980.3" x2="590.0" y2="1980.3" stroke="#283033" stroke-width="6" />
<line x1="583.3" y1="1866.3" x2="583.3" y2="2037.3" stroke="#000" stroke-width="3.4" />
<line x1="576.5" y1="1866.3" x2="590.0" y2="1866.3" stroke="#000" stroke-width="3" />
<line x1="576.5" y1="2037.3" x2="590.0" y2="2037.3" stroke="#000" stroke-width="3" />
<rect x="598.4" y="1869.5" width="4.2" height="10.7" fill="url(#gd)"/>
<path d="M600.5 1660.7h0M600.5 1719.0h0M600.5 1726.6h0M600.5 1855.9h0M600.5 1840.9h0M600.5 1801.4h0M600.5 1759.0h0M600.5 1875.1h0" fill="none" stroke="#000" stroke-opacity="0.44" stroke-width="4.0" stroke-linecap="round"/>
<path d="M600.5 1777.5h0M600.5 1749.1h0M600.5 1697.1h0M600.5 1849.3h0M600.5 1689.0h0M600.5 1862.5h0M600.5 1852.3h0M600.5 1871.0h0" fill="none" stroke="#000" stroke-opacity="0.44" stroke-width="4.0" stroke-linecap="round"/>
<path d="M600.5 1817.6h0M600.5 1778.4h0M600.5 1755.0h0M600.5 1865.7h0M600.5 1819.3h0M600.5 1785.3h0M600.5 1676.8h0M600.5 1877.2h0" fill="none" stroke="#000" stroke-opacity="0.44" stroke-width="4.0" stroke-linecap="round"/>
<path d="M600.5 1843.2h0M600.5 1800.1h0M600.5 1781.6h0M600.5 1863.9h0M600.5 1808.0h0M600.5 1814.4h0M600.5 1725.0h0M600.5 1874.4h0" fill="none" stroke="#000" stroke-opacity="0.44" stroke-width="4.0" stroke-linecap="round"/>
<path d="M600.5 1855.2h0M600.5 1759.9h0M600.5 1865.3h0M600.5 1809.8h0M600.5 1749.4h0M600.5 1749.9h0M600.5 1819.6h0" fill="none" stroke="#000" stroke-opacity="0.44" stroke-width="4.0" stroke-linecap="round"/>
<rect x="598.4" y="1880.2" width="4.2" height="157.1" fill="#0a0a0a" />
<rect x="593.2" y="1954.4" width="14.6" height="50.6" fill="#A46EE2" stroke="#232a2a" stroke-width="1.8"/>
<line x1="593.8" y1="1984.6" x2="607.2" y2="1984.6" stroke="#283033" stroke-width="6" />
<line x1="600.5" y1="1880.2" x2="600.5" y2="2037.3" stroke="#000" stroke-width="3.4" />
<line x1="593.8" y1="1880.2" x2="607.2" y2="1880.2" stroke="#000" stroke-width="3" />
<line x1="593.8" y1="2037.3" x2="607.2" y2="2037.3" stroke="#000" stroke-width="3" />
<rect x="615.6" y="1923.3" width="4.2" height="65.6" fill="url(#gd)"/>
<path d="M617.7 1751.0h0M617.7 1840.7h0M617.7 1787.5h0M617.7 1816.0h0M617.7 1787.7h0M617.7 1777.9h0M617.7 1975.8h0M617.7 1979.8h0M617.7 1976.8h0M617.7 1953.1h0" fill="none" stroke="#000" stroke-opacity="0.44" stroke-width="4.0" stroke-linecap="round"/>
<path d="M617.7 1868.5h0M617.7 1788.0h0M617.7 1906.2h0M617.7 1855.1h0M617.7 1858.6h0M617.7 1847.5h0M617.7 1934.9h0M617.7 1954.3h0M617.7 1936.7h0M617.7 1925.6h0" fill="none" stroke="#000" stroke-opacity="0.44" stroke-width="4.0" stroke-linecap="round"/>
<path d="M617.7 1843.9h0M617.7 1802.3h0M617.7 1816.3h0M617.7 1864.6h0M617.7 1869.6h0M617.7 1906.4h0M617.7 1988.4h0M617.7 1939.3h0M617.7 1976.9h0" fill="none" stroke="#000" stroke-opacity="0.44" stroke-width="4.0" stroke-linecap="round"/>
<path d="M617.7 1861.1h0M617.7 1909.7h0M617.7 1783.3h0M617.7 1811.3h0M617.7 1779.6h0M617.7 1864.1h0M617.7 1973.8h0M617.7 1986.8h0M617.7 1930.0h0" fill="none" stroke="#000" stroke-opacity="0.44" stroke-width="4.0" stroke-linecap="round"/>
<path d="M617.7 1866.2h0M617.7 1863.8h0M617.7 1861.2h0M617.7 1867.3h0M617.7 1842.5h0M617.7 1973.4h0M617.7 1933.9h0M617.7 1964.7h0M617.7 1944.0h0" fill="none" stroke="#000" stroke-opacity="0.44" stroke-width="4.0" stroke-linecap="round"/>
<rect x="615.6" y="1988.9" width="4.2" height="48.8" fill="#0a0a0a" />
<rect x="610.4" y="2013.6" width="14.6" height="17.2" fill="#B965E4" stroke="#232a2a" stroke-width="1.8"/>
<line x1="611.0" y1="2023.3" x2="624.4" y2="2023.3" stroke="#283033" stroke-width="6" />
<line x1="617.7" y1="1988.9" x2="617.7" y2="2037.7" stroke="#000" stroke-width="3.4" />
<line x1="610.9" y1="1988.9" x2="624.4" y2="1988.9" stroke="#000" stroke-width="3" />
<line x1="610.9" y1="2037.7" x2="624.4" y2="2037.7" stroke="#000" stroke-width="3" />
<rect x="632.8" y="1751.1" width="4.2" height="35.5" fill="url(#gd)"/>
<path d="M634.9 1595.0h0M634.9 1680.4h0M634.9 1741.9h0M634.9 1724.1h0M634.9 1720.9h0M634.9 1625.3h0M634.9 1777.0h0M634.9 1774.1h0" fill="none" stroke="#000" stroke-opacity="0.44" stroke-width="4.0" stroke-linecap="round"/>
<path d="M634.9 1703.1h0M634.9 1738.6h0M634.9 1736.6h0M634.9 1714.0h0M634.9 1745.3h0M634.9 1697.2h0M634.9 1763.0h0M634.9 1757.3h0" fill="none" stroke="#000" stroke-opacity="0.44" stroke-width="4.0" stroke-linecap="round"/>
<path d="M634.9 1647.2h0M634.9 1706.6h0M634.9 1639.1h0M634.9 1731.4h0M634.9 1719.0h0M634.9 1780.9h0M634.9 1760.6h0" fill="none" stroke="#000" stroke-opacity="0.44" stroke-width="4.0" stroke-linecap="round"/>
<path d="M634.9 1661.6h0M634.9 1736.8h0M634.9 1721.9h0M634.9 1630.2h0M634.9 1611.5h0M634.9 1757.3h0M634.9 1769.7h0" fill="none" stroke="#000" stroke-opacity="0.44" stroke-width="4.0" stroke-linecap="round"/>
<path d="M634.9 1717.3h0M634.9 1699.1h0M634.9 1668.0h0M634.9 1672.8h0M634.9 1704.4h0M634.9 1784.5h0M634.9 1781.9h0" fill="none" stroke="#000" stroke-opacity="0.44" stroke-width="4.0" stroke-linecap="round"/>
<rect x="632.8" y="1786.6" width="4.2" height="244.2" fill="#0a0a0a" />
<rect x="627.6" y="1899.6" width="14.6" height="76.4" fill="#D060E7" stroke="#232a2a" stroke-width="1.8"/>
<line x1="628.2" y1="1944.8" x2="641.6" y2="1944.8" stroke="#283033" stroke-width="6" />
<line x1="634.9" y1="1786.6" x2="634.9" y2="2030.8" stroke="#000" stroke-width="3.4" />
<line x1="628.1" y1="1786.6" x2="641.6" y2="1786.6" stroke="#000" stroke-width="3" />
<line x1="628.1" y1="2030.8" x2="641.6" y2="2030.8" stroke="#000" stroke-width="3" />
<rect x="650.0" y="1869.5" width="4.2" height="37.6" fill="url(#gd)"/>
<path d="M652.1 1756.4h0M652.1 1830.9h0M652.1 1859.4h0M652.1 1761.1h0M652.1 1901.0h0M652.1 1887.3h0M652.1 1903.2h0" fill="none" stroke="#000" stroke-opacity="0.44" stroke-width="4.0" stroke-linecap="round"/>
<path d="M652.1 1763.0h0M652.1 1803.4h0M652.1 1829.4h0M652.1 1809.3h0M652.1 1872.1h0M652.1 1890.3h0" fill="none" stroke="#000" stroke-opacity="0.44" stroke-width="4.0" stroke-linecap="round"/>
<path d="M652.1 1779.8h0M652.1 1843.1h0M652.1 1843.4h0M652.1 1785.8h0M652.1 1879.1h0M652.1 1878.1h0" fill="none" stroke="#000" stroke-opacity="0.44" stroke-width="4.0" stroke-linecap="round"/>
<path d="M652.1 1853.1h0M652.1 1813.4h0M652.1 1853.7h0M652.1 1825.8h0M652.1 1901.5h0M652.1 1902.4h0" fill="none" stroke="#000" stroke-opacity="0.44" stroke-width="4.0" stroke-linecap="round"/>
<path d="M652.1 1790.5h0M652.1 1784.8h0M652.1 1865.4h0M652.1 1859.2h0M652.1 1897.1h0M652.1 1887.3h0" fill="none" stroke="#000" stroke-opacity="0.44" stroke-width="4.0" stroke-linecap="round"/>
<rect x="650.0" y="1907.1" width="4.2" height="130.2" fill="#0a0a0a" />
<rect x="644.8" y="1970.6" width="14.6" height="44.1" fill="#EB5AED" stroke="#232a2a" stroke-width="1.8"/>
<line x1="645.4" y1="1999.6" x2="658.8" y2="1999.6" stroke="#283033" stroke-width="6" />
<line x1="652.1" y1="1907.1" x2="652.1" y2="2037.3" stroke="#000" stroke-width="3.4" />
<line x1="645.4" y1="1907.1" x2="658.9" y2="1907.1" stroke="#000" stroke-width="3" />
<line x1="645.4" y1="2037.3" x2="658.9" y2="2037.3" stroke="#000" stroke-width="3" />
<rect x="667.2" y="1751.0" width="4.2" height="21.7" fill="url(#gd)"/>
<path d="M669.3 1605.8h0M669.3 1740.0h0M669.3 1690.7h0M669.3 1704.5h0M669.3 1621.6h0M669.3 1763.5h0M669.3 1772.6h0" fill="none" stroke="#000" stroke-opacity="0.44" stroke-width="4.0" stroke-linecap="round"/>
<path d="M669.3 1708.3h0M669.3 1705.8h0M669.3 1704.3h0M669.3 1672.6h0M669.3 1642.8h0M669.3 1758.4h0M669.3 1752.5h0" fill="none" stroke="#000" stroke-opacity="0.44" stroke-width="4.0" stroke-linecap="round"/>
<path d="M669.3 1628.8h0M669.3 1621.1h0M669.3 1680.1h0M669.3 1614.4h0M669.3 1715.4h0M669.3 1764.8h0" fill="none" stroke="#000" stroke-opacity="0.44" stroke-width="4.0" stroke-linecap="round"/>
<path d="M669.3 1672.0h0M669.3 1647.0h0M669.3 1675.4h0M669.3 1689.6h0M669.3 1663.7h0M669.3 1764.0h0" fill="none" stroke="#000" stroke-opacity="0.44" stroke-width="4.0" stroke-linecap="round"/>
<path d="M669.3 1654.9h0M669.3 1676.4h0M669.3 1608.9h0M669.3 1749.6h0M669.3 1663.8h0M669.3 1771.9h0" fill="none" stroke="#000" stroke-opacity="0.44" stroke-width="4.0" stroke-linecap="round"/>
<rect x="667.2" y="1772.7" width="4.2" height="264.6" fill="#0a0a0a" />
<rect x="662.0" y="1900.7" width="14.6" height="82.8" fill="#F557EB" stroke="#232a2a" stroke-width="1.8"/>
<line x1="662.6" y1="1954.5" x2="676.0" y2="1954.5" stroke="#283033" stroke-width="6" />
<line x1="669.3" y1="1772.7" x2="669.3" y2="2037.3" stroke="#000" stroke-width="3.4" />
<line x1="662.5" y1="1772.7" x2="676.0" y2="1772.7" stroke="#000" stroke-width="3" />
<line x1="662.5" y1="2037.3" x2="676.0" y2="2037.3" stroke="#000" stroke-width="3" />
<rect x="684.4" y="1923.3" width="4.2" height="24.7" fill="url(#gd)"/>
<path d="M686.5 1684.4h0M686.5 1857.6h0M686.5 1901.5h0M686.5 1877.6h0M686.5 1811.0h0M686.5 1827.2h0M686.5 1742.6h0M686.5 1845.0h0M686.5 1932.9h0M686.5 1946.4h0" fill="none" stroke="#000" stroke-opacity="0.44" stroke-width="4.0" stroke-linecap="round"/>
<path d="M686.5 1843.4h0M686.5 1857.9h0M686.5 1912.9h0M686.5 1832.9h0M686.5 1717.1h0M686.5 1802.4h0M686.5 1691.0h0M686.5 1787.3h0M686.5 1942.4h0M686.5 1939.3h0" fill="none" stroke="#000" stroke-opacity="0.44" stroke-width="4.0" stroke-linecap="round"/>
<path d="M686.5 1883.4h0M686.5 1801.4h0M686.5 1866.8h0M686.5 1858.0h0M686.5 1795.5h0M686.5 1772.6h0M686.5 1901.2h0M686.5 1752.5h0M686.5 1938.6h0" fill="none" stroke="#000" stroke-opacity="0.44" stroke-width="4.0" stroke-linecap="round"/>
<path d="M686.5 1901.4h0M686.5 1782.2h0M686.5 1787.6h0M686.5 1798.5h0M686.5 1792.2h0M686.5 1770.4h0M686.5 1821.2h0M686.5 1719.3h0M686.5 1946.8h0" fill="none" stroke="#000" stroke-opacity="0.44" stroke-width="4.0" stroke-linecap="round"/>
<path d="M686.5 1884.0h0M686.5 1887.8h0M686.5 1882.0h0M686.5 1841.4h0M686.5 1921.4h0M686.5 1798.3h0M686.5 1819.6h0M686.5 1932.8h0M686.5 1933.7h0" fill="none" stroke="#000" stroke-opacity="0.44" stroke-width="4.0" stroke-linecap="round"/>
<rect x="684.4" y="1948.0" width="4.2" height="90.4" fill="#0a0a0a" />
<rect x="679.2" y="1998.6" width="14.6" height="34.4" fill="#F553D9" stroke="#232a2a" stroke-width="1.8"/>
<line x1="679.8" y1="2024.4" x2="693.2" y2="2024.4" stroke="#283033" stroke-width="6" />
<line x1="686.5" y1="1948.0" x2="686.5" y2="2038.4" stroke="#000" stroke-width="3.4" />
<line x1="679.8" y1="1948.0" x2="693.2" y2="1948.0" stroke="#000" stroke-width="3" />
<line x1="679.8" y1="2038.4" x2="693.2" y2="2038.4" stroke="#000" stroke-width="3" />
<path d="M703.7 1770.4h0M703.7 1844.2h0M703.7 1862.1h0M703.7 1812.9h0M703.7 1819.3h0M703.7 1893.3h0" fill="none" stroke="#000" stroke-opacity="0.44" stroke-width="4.0" stroke-linecap="round"/>
<path d="M703.7 1795.7h0M703.7 1898.1h0M703.7 1912.3h0M703.7 1830.6h0M703.7 1877.4h0" fill="none" stroke="#000" stroke-opacity="0.44" stroke-width="4.0" stroke-linecap="round"/>
<path d="M703.7 1815.5h0M703.7 1854.4h0M703.7 1831.9h0M703.7 1889.8h0M703.7 1908.3h0" fill="none" stroke="#000" stroke-opacity="0.44" stroke-width="4.0" stroke-linecap="round"/>
<path d="M703.7 1874.6h0M703.7 1908.8h0M703.7 1828.9h0M703.7 1822.4h0M703.7 1883.0h0" fill="none" stroke="#000" stroke-opacity="0.44" stroke-width="4.0" stroke-linecap="round"/>
<path d="M703.7 1921.9h0M703.7 1792.8h0M703.7 1780.4h0M703.7 1850.4h0M703.7 1818.7h0" fill="none" stroke="#000" stroke-opacity="0.44" stroke-width="4.0" stroke-linecap="round"/>
<rect x="701.6" y="1923.3" width="4.2" height="103.2" fill="#0a0a0a" />
<rect x="696.4" y="1967.4" width="14.6" height="36.6" fill="#EB5AA8" stroke="#232a2a" stroke-width="1.8"/>
<line x1="697.0" y1="1985.7" x2="710.4" y2="1985.7" stroke="#283033" stroke-width="6" />
<line x1="703.7" y1="1923.3" x2="703.7" y2="2026.5" stroke="#000" stroke-width="3.4" />
<line x1="697.0" y1="1923.3" x2="710.5" y2="1923.3" stroke="#000" stroke-width="3" />
<line x1="697.0" y1="2026.5" x2="710.5" y2="2026.5" stroke="#000" stroke-width="3" />
<rect x="112" y="1536.5" width="614.5" height="525.3" fill="none" stroke="#000" stroke-width="3.4"/>
<line x1="105.0" y1="1573.0" x2="112.0" y2="1573.0" stroke="#333" stroke-width="2.2" />
<text x="102.7" y="1581.0" font-size="23" fill="#3E3E3E" text-anchor="end" textLength="59.5" lengthAdjust="spacingAndGlyphs" stroke="#3E3E3E" stroke-width="0.35">30000</text>
<line x1="105.0" y1="1730.6" x2="112.0" y2="1730.6" stroke="#333" stroke-width="2.2" />
<text x="102.7" y="1738.6" font-size="23" fill="#3E3E3E" text-anchor="end" textLength="59.5" lengthAdjust="spacingAndGlyphs" stroke="#3E3E3E" stroke-width="0.35">20000</text>
<line x1="105.0" y1="1888.3" x2="112.0" y2="1888.3" stroke="#333" stroke-width="2.2" />
<text x="102.7" y="1896.3" font-size="23" fill="#3E3E3E" text-anchor="end" textLength="59.5" lengthAdjust="spacingAndGlyphs" stroke="#3E3E3E" stroke-width="0.35">10000</text>
<line x1="105.0" y1="2045.4" x2="112.0" y2="2045.4" stroke="#333" stroke-width="2.2" />
<text x="102.7" y="2053.4" font-size="23" fill="#3E3E3E" text-anchor="end" textLength="11.9" lengthAdjust="spacingAndGlyphs" stroke="#3E3E3E" stroke-width="0.35">0</text>
<line x1="136.1" y1="2061.8" x2="136.1" y2="2066.8" stroke="#333" stroke-width="2.4" />
<text x="136.1" y="2080.3" font-size="15.5" fill="#3E3E3E" text-anchor="middle" textLength="7.2" lengthAdjust="spacingAndGlyphs" stroke="#4D4D4D" stroke-width="0.35">1</text>
<line x1="153.3" y1="2061.8" x2="153.3" y2="2066.8" stroke="#333" stroke-width="2.4" />
<text x="153.3" y="2080.3" font-size="15.5" fill="#3E3E3E" text-anchor="middle" textLength="7.2" lengthAdjust="spacingAndGlyphs" stroke="#4D4D4D" stroke-width="0.35">2</text>
<line x1="170.5" y1="2061.8" x2="170.5" y2="2066.8" stroke="#333" stroke-width="2.4" />
<text x="170.5" y="2080.3" font-size="15.5" fill="#3E3E3E" text-anchor="middle" textLength="7.2" lengthAdjust="spacingAndGlyphs" stroke="#4D4D4D" stroke-width="0.35">3</text>
<line x1="187.7" y1="2061.8" x2="187.7" y2="2066.8" stroke="#333" stroke-width="2.4" />
<text x="187.7" y="2080.3" font-size="15.5" fill="#3E3E3E" text-anchor="middle" textLength="7.2" lengthAdjust="spacingAndGlyphs" stroke="#4D4D4D" stroke-width="0.35">4</text>
<line x1="204.9" y1="2061.8" x2="204.9" y2="2066.8" stroke="#333" stroke-width="2.4" />
<text x="204.9" y="2080.3" font-size="15.5" fill="#3E3E3E" text-anchor="middle" textLength="7.2" lengthAdjust="spacingAndGlyphs" stroke="#4D4D4D" stroke-width="0.35">5</text>
<line x1="222.1" y1="2061.8" x2="222.1" y2="2066.8" stroke="#333" stroke-width="2.4" />
<text x="222.1" y="2080.3" font-size="15.5" fill="#3E3E3E" text-anchor="middle" textLength="7.2" lengthAdjust="spacingAndGlyphs" stroke="#4D4D4D" stroke-width="0.35">6</text>
<line x1="239.3" y1="2061.8" x2="239.3" y2="2066.8" stroke="#333" stroke-width="2.4" />
<text x="239.3" y="2080.3" font-size="15.5" fill="#3E3E3E" text-anchor="middle" textLength="7.2" lengthAdjust="spacingAndGlyphs" stroke="#4D4D4D" stroke-width="0.35">7</text>
<line x1="256.5" y1="2061.8" x2="256.5" y2="2066.8" stroke="#333" stroke-width="2.4" />
<text x="256.5" y="2080.3" font-size="15.5" fill="#3E3E3E" text-anchor="middle" textLength="7.2" lengthAdjust="spacingAndGlyphs" stroke="#4D4D4D" stroke-width="0.35">8</text>
<line x1="273.7" y1="2061.8" x2="273.7" y2="2066.8" stroke="#333" stroke-width="2.4" />
<text x="273.7" y="2080.3" font-size="15.5" fill="#3E3E3E" text-anchor="middle" textLength="7.2" lengthAdjust="spacingAndGlyphs" stroke="#4D4D4D" stroke-width="0.35">9</text>
<line x1="290.9" y1="2061.8" x2="290.9" y2="2066.8" stroke="#333" stroke-width="2.4" />
<text x="290.9" y="2080.3" font-size="15.5" fill="#3E3E3E" text-anchor="middle" textLength="13.8" lengthAdjust="spacingAndGlyphs" stroke="#4D4D4D" stroke-width="0.35">10</text>
<line x1="308.1" y1="2061.8" x2="308.1" y2="2066.8" stroke="#333" stroke-width="2.4" />
<text x="308.1" y="2080.3" font-size="15.5" fill="#3E3E3E" text-anchor="middle" textLength="13.8" lengthAdjust="spacingAndGlyphs" stroke="#4D4D4D" stroke-width="0.35">11</text>
<line x1="325.3" y1="2061.8" x2="325.3" y2="2066.8" stroke="#333" stroke-width="2.4" />
<text x="325.3" y="2080.3" font-size="15.5" fill="#3E3E3E" text-anchor="middle" textLength="13.8" lengthAdjust="spacingAndGlyphs" stroke="#4D4D4D" stroke-width="0.35">12</text>
<line x1="342.5" y1="2061.8" x2="342.5" y2="2066.8" stroke="#333" stroke-width="2.4" />
<text x="342.5" y="2080.3" font-size="15.5" fill="#3E3E3E" text-anchor="middle" textLength="13.8" lengthAdjust="spacingAndGlyphs" stroke="#4D4D4D" stroke-width="0.35">13</text>
<line x1="359.7" y1="2061.8" x2="359.7" y2="2066.8" stroke="#333" stroke-width="2.4" />
<text x="359.7" y="2080.3" font-size="15.5" fill="#3E3E3E" text-anchor="middle" textLength="13.8" lengthAdjust="spacingAndGlyphs" stroke="#4D4D4D" stroke-width="0.35">14</text>
<line x1="376.9" y1="2061.8" x2="376.9" y2="2066.8" stroke="#333" stroke-width="2.4" />
<text x="376.9" y="2080.3" font-size="15.5" fill="#3E3E3E" text-anchor="middle" textLength="13.8" lengthAdjust="spacingAndGlyphs" stroke="#4D4D4D" stroke-width="0.35">15</text>
<line x1="394.1" y1="2061.8" x2="394.1" y2="2066.8" stroke="#333" stroke-width="2.4" />
<text x="394.1" y="2080.3" font-size="15.5" fill="#3E3E3E" text-anchor="middle" textLength="13.8" lengthAdjust="spacingAndGlyphs" stroke="#4D4D4D" stroke-width="0.35">16</text>
<line x1="411.3" y1="2061.8" x2="411.3" y2="2066.8" stroke="#333" stroke-width="2.4" />
<text x="411.3" y="2080.3" font-size="15.5" fill="#3E3E3E" text-anchor="middle" textLength="13.8" lengthAdjust="spacingAndGlyphs" stroke="#4D4D4D" stroke-width="0.35">17</text>
<line x1="428.5" y1="2061.8" x2="428.5" y2="2066.8" stroke="#333" stroke-width="2.4" />
<text x="428.5" y="2080.3" font-size="15.5" fill="#3E3E3E" text-anchor="middle" textLength="13.8" lengthAdjust="spacingAndGlyphs" stroke="#4D4D4D" stroke-width="0.35">18</text>
<line x1="445.7" y1="2061.8" x2="445.7" y2="2066.8" stroke="#333" stroke-width="2.4" />
<text x="445.7" y="2080.3" font-size="15.5" fill="#3E3E3E" text-anchor="middle" textLength="13.8" lengthAdjust="spacingAndGlyphs" stroke="#4D4D4D" stroke-width="0.35">19</text>
<line x1="462.9" y1="2061.8" x2="462.9" y2="2066.8" stroke="#333" stroke-width="2.4" />
<text x="462.9" y="2080.3" font-size="15.5" fill="#3E3E3E" text-anchor="middle" textLength="13.8" lengthAdjust="spacingAndGlyphs" stroke="#4D4D4D" stroke-width="0.35">20</text>
<line x1="480.1" y1="2061.8" x2="480.1" y2="2066.8" stroke="#333" stroke-width="2.4" />
<text x="480.1" y="2080.3" font-size="15.5" fill="#3E3E3E" text-anchor="middle" textLength="13.8" lengthAdjust="spacingAndGlyphs" stroke="#4D4D4D" stroke-width="0.35">21</text>
<line x1="497.3" y1="2061.8" x2="497.3" y2="2066.8" stroke="#333" stroke-width="2.4" />
<text x="497.3" y="2080.3" font-size="15.5" fill="#3E3E3E" text-anchor="middle" textLength="13.8" lengthAdjust="spacingAndGlyphs" stroke="#4D4D4D" stroke-width="0.35">22</text>
<line x1="514.5" y1="2061.8" x2="514.5" y2="2066.8" stroke="#333" stroke-width="2.4" />
<text x="514.5" y="2080.3" font-size="15.5" fill="#3E3E3E" text-anchor="middle" textLength="13.8" lengthAdjust="spacingAndGlyphs" stroke="#4D4D4D" stroke-width="0.35">23</text>
<line x1="531.7" y1="2061.8" x2="531.7" y2="2066.8" stroke="#333" stroke-width="2.4" />
<text x="531.7" y="2080.3" font-size="15.5" fill="#3E3E3E" text-anchor="middle" textLength="13.8" lengthAdjust="spacingAndGlyphs" stroke="#4D4D4D" stroke-width="0.35">24</text>
<line x1="548.9" y1="2061.8" x2="548.9" y2="2066.8" stroke="#333" stroke-width="2.4" />
<text x="548.9" y="2080.3" font-size="15.5" fill="#3E3E3E" text-anchor="middle" textLength="13.8" lengthAdjust="spacingAndGlyphs" stroke="#4D4D4D" stroke-width="0.35">25</text>
<line x1="566.1" y1="2061.8" x2="566.1" y2="2066.8" stroke="#333" stroke-width="2.4" />
<text x="566.1" y="2080.3" font-size="15.5" fill="#3E3E3E" text-anchor="middle" textLength="13.8" lengthAdjust="spacingAndGlyphs" stroke="#4D4D4D" stroke-width="0.35">26</text>
<line x1="583.3" y1="2061.8" x2="583.3" y2="2066.8" stroke="#333" stroke-width="2.4" />
<text x="583.3" y="2080.3" font-size="15.5" fill="#3E3E3E" text-anchor="middle" textLength="13.8" lengthAdjust="spacingAndGlyphs" stroke="#4D4D4D" stroke-width="0.35">27</text>
<line x1="600.5" y1="2061.8" x2="600.5" y2="2066.8" stroke="#333" stroke-width="2.4" />
<text x="600.5" y="2080.3" font-size="15.5" fill="#3E3E3E" text-anchor="middle" textLength="13.8" lengthAdjust="spacingAndGlyphs" stroke="#4D4D4D" stroke-width="0.35">28</text>
<line x1="617.7" y1="2061.8" x2="617.7" y2="2066.8" stroke="#333" stroke-width="2.4" />
<text x="617.7" y="2080.3" font-size="15.5" fill="#3E3E3E" text-anchor="middle" textLength="13.8" lengthAdjust="spacingAndGlyphs" stroke="#4D4D4D" stroke-width="0.35">29</text>
<line x1="634.9" y1="2061.8" x2="634.9" y2="2066.8" stroke="#333" stroke-width="2.4" />
<text x="634.9" y="2080.3" font-size="15.5" fill="#3E3E3E" text-anchor="middle" textLength="13.8" lengthAdjust="spacingAndGlyphs" stroke="#4D4D4D" stroke-width="0.35">30</text>
<line x1="652.1" y1="2061.8" x2="652.1" y2="2066.8" stroke="#333" stroke-width="2.4" />
<text x="652.1" y="2080.3" font-size="15.5" fill="#3E3E3E" text-anchor="middle" textLength="13.8" lengthAdjust="spacingAndGlyphs" stroke="#4D4D4D" stroke-width="0.35">31</text>
<line x1="669.3" y1="2061.8" x2="669.3" y2="2066.8" stroke="#333" stroke-width="2.4" />
<text x="669.3" y="2080.3" font-size="15.5" fill="#3E3E3E" text-anchor="middle" textLength="13.8" lengthAdjust="spacingAndGlyphs" stroke="#4D4D4D" stroke-width="0.35">32</text>
<line x1="686.5" y1="2061.8" x2="686.5" y2="2066.8" stroke="#333" stroke-width="2.4" />
<text x="686.5" y="2080.3" font-size="15.5" fill="#3E3E3E" text-anchor="middle" textLength="13.8" lengthAdjust="spacingAndGlyphs" stroke="#4D4D4D" stroke-width="0.35">33</text>
<line x1="703.7" y1="2061.8" x2="703.7" y2="2066.8" stroke="#333" stroke-width="2.4" />
<text x="703.7" y="2080.3" font-size="15.5" fill="#3E3E3E" text-anchor="middle" textLength="13.8" lengthAdjust="spacingAndGlyphs" stroke="#4D4D4D" stroke-width="0.35">34</text>
<text x="353.3" y="2111.0" font-size="30" textLength="139.7" lengthAdjust="spacingAndGlyphs" >Cell Cluster</text>
<text transform="translate(24.5,1806) rotate(-90)" font-size="30" text-anchor="middle" textLength="170" lengthAdjust="spacingAndGlyphs">Average nUMI</text>
<text x="860.7" y="1523.2" font-size="29.5" textLength="616.7" lengthAdjust="spacingAndGlyphs" >Average % Mitochondrial Genes per Cell by Cluster</text>
<rect x="877.3" y="1564.1" width="4.2" height="472.1" fill="#0a0a0a" />
<rect x="872.1" y="1847.0" width="14.6" height="189.2" fill="#F2618C" stroke="#232a2a" stroke-width="1.8"/>
<line x1="872.7" y1="2036.2" x2="886.1" y2="2036.2" stroke="#283033" stroke-width="6" />
<line x1="879.4" y1="1564.1" x2="879.4" y2="2036.2" stroke="#000" stroke-width="3.4" />
<line x1="872.6" y1="1564.1" x2="886.1" y2="1564.1" stroke="#000" stroke-width="3" />
<line x1="872.6" y1="2036.2" x2="886.1" y2="2036.2" stroke="#000" stroke-width="3" />
<rect x="894.8" y="1559.4" width="4.2" height="476.8" fill="#0a0a0a" />
<rect x="889.6" y="1781.4" width="14.6" height="254.8" fill="#F07260" stroke="#232a2a" stroke-width="1.8"/>
<line x1="890.2" y1="2036.2" x2="903.6" y2="2036.2" stroke="#283033" stroke-width="6" />
<line x1="896.9" y1="1559.4" x2="896.9" y2="2036.2" stroke="#000" stroke-width="3.4" />
<line x1="890.1" y1="1559.4" x2="903.6" y2="1559.4" stroke="#000" stroke-width="3" />
<line x1="890.1" y1="2036.2" x2="903.6" y2="2036.2" stroke="#000" stroke-width="3" />
<path d="M914.4 1564.0h0M914.4 1769.8h0M914.4 1769.8h0M914.4 1748.5h0M914.4 1593.7h0M914.4 1701.6h0M914.4 1778.0h0M914.4 1744.1h0M914.4 1751.6h0M914.4 1719.6h0M914.4 1747.0h0M914.4 1662.8h0M914.4 1707.3h0M914.4 1731.9h0" fill="none" stroke="#000" stroke-opacity="0.44" stroke-width="4.0" stroke-linecap="round"/>
<path d="M914.4 1784.1h0M914.4 1669.9h0M914.4 1729.1h0M914.4 1730.7h0M914.4 1685.5h0M914.4 1721.4h0M914.4 1715.1h0M914.4 1667.3h0M914.4 1605.0h0M914.4 1713.3h0M914.4 1650.9h0M914.4 1752.5h0M914.4 1780.5h0" fill="none" stroke="#000" stroke-opacity="0.44" stroke-width="4.0" stroke-linecap="round"/>
<path d="M914.4 1721.9h0M914.4 1619.4h0M914.4 1777.6h0M914.4 1683.6h0M914.4 1589.1h0M914.4 1650.7h0M914.4 1788.0h0M914.4 1606.2h0M914.4 1759.5h0M914.4 1732.2h0M914.4 1741.9h0M914.4 1786.4h0M914.4 1618.0h0" fill="none" stroke="#000" stroke-opacity="0.44" stroke-width="4.0" stroke-linecap="round"/>
<path d="M914.4 1601.5h0M914.4 1633.5h0M914.4 1639.7h0M914.4 1736.1h0M914.4 1726.6h0M914.4 1695.5h0M914.4 1593.2h0M914.4 1624.9h0M914.4 1687.3h0M914.4 1722.0h0M914.4 1750.9h0M914.4 1693.4h0M914.4 1571.4h0" fill="none" stroke="#000" stroke-opacity="0.44" stroke-width="4.0" stroke-linecap="round"/>
<path d="M914.4 1758.8h0M914.4 1709.9h0M914.4 1666.7h0M914.4 1669.2h0M914.4 1668.5h0M914.4 1574.2h0M914.4 1724.3h0M914.4 1621.1h0M914.4 1710.2h0M914.4 1667.7h0M914.4 1753.1h0M914.4 1655.7h0M914.4 1698.0h0" fill="none" stroke="#000" stroke-opacity="0.44" stroke-width="4.0" stroke-linecap="round"/>
<rect x="912.2" y="1790.0" width="4.2" height="246.2" fill="#0a0a0a" />
<rect x="907.1" y="1936.3" width="14.6" height="99.9" fill="#ED7F34" stroke="#232a2a" stroke-width="1.8"/>
<line x1="907.7" y1="1986.9" x2="921.0" y2="1986.9" stroke="#283033" stroke-width="6" />
<line x1="914.4" y1="1790.0" x2="914.4" y2="2036.2" stroke="#000" stroke-width="3.4" />
<line x1="907.6" y1="1790.0" x2="921.1" y2="1790.0" stroke="#000" stroke-width="3" />
<line x1="907.6" y1="2036.2" x2="921.1" y2="2036.2" stroke="#000" stroke-width="3" />
<path d="M931.8 1591.4h0M931.8 1804.2h0M931.8 1750.8h0M931.8 1659.1h0M931.8 1612.2h0M931.8 1779.8h0M931.8 1832.5h0M931.8 1727.7h0M931.8 1835.4h0M931.8 1692.3h0M931.8 1781.1h0M931.8 1661.4h0M931.8 1817.1h0M931.8 1663.0h0M931.8 1828.6h0" fill="none" stroke="#000" stroke-opacity="0.44" stroke-width="4.0" stroke-linecap="round"/>
<path d="M931.8 1807.7h0M931.8 1638.5h0M931.8 1762.6h0M931.8 1667.9h0M931.8 1808.4h0M931.8 1713.6h0M931.8 1645.1h0M931.8 1825.0h0M931.8 1840.2h0M931.8 1735.2h0M931.8 1701.9h0M931.8 1824.8h0M931.8 1697.7h0M931.8 1789.4h0M931.8 1677.5h0" fill="none" stroke="#000" stroke-opacity="0.44" stroke-width="4.0" stroke-linecap="round"/>
<path d="M931.8 1718.1h0M931.8 1611.6h0M931.8 1669.2h0M931.8 1800.5h0M931.8 1686.8h0M931.8 1812.8h0M931.8 1799.6h0M931.8 1626.7h0M931.8 1777.9h0M931.8 1683.7h0M931.8 1849.3h0M931.8 1826.0h0M931.8 1710.4h0M931.8 1771.7h0M931.8 1828.7h0" fill="none" stroke="#000" stroke-opacity="0.44" stroke-width="4.0" stroke-linecap="round"/>
<path d="M931.8 1848.4h0M931.8 1654.1h0M931.8 1839.2h0M931.8 1835.8h0M931.8 1847.1h0M931.8 1741.3h0M931.8 1628.9h0M931.8 1764.5h0M931.8 1681.6h0M931.8 1675.6h0M931.8 1679.5h0M931.8 1693.6h0M931.8 1747.1h0M931.8 1739.7h0M931.8 1717.6h0" fill="none" stroke="#000" stroke-opacity="0.44" stroke-width="4.0" stroke-linecap="round"/>
<path d="M931.8 1682.8h0M931.8 1626.7h0M931.8 1718.9h0M931.8 1663.1h0M931.8 1750.1h0M931.8 1708.4h0M931.8 1781.7h0M931.8 1729.6h0M931.8 1689.4h0M931.8 1804.7h0M931.8 1765.7h0M931.8 1803.2h0M931.8 1830.1h0M931.8 1767.7h0M931.8 1808.8h0" fill="none" stroke="#000" stroke-opacity="0.44" stroke-width="4.0" stroke-linecap="round"/>
<rect x="929.7" y="1850.3" width="4.2" height="185.9" fill="#0a0a0a" />
<rect x="924.5" y="1961.0" width="14.6" height="75.2" fill="#E48A34" stroke="#232a2a" stroke-width="1.8"/>
<line x1="925.1" y1="1999.8" x2="938.5" y2="1999.8" stroke="#283033" stroke-width="6" />
<line x1="931.8" y1="1850.3" x2="931.8" y2="2036.2" stroke="#000" stroke-width="3.4" />
<line x1="925.1" y1="1850.3" x2="938.6" y2="1850.3" stroke="#000" stroke-width="3" />
<line x1="925.1" y1="2036.2" x2="938.6" y2="2036.2" stroke="#000" stroke-width="3" />
<path d="M949.3 1574.8h0M949.3 1683.9h0M949.3 1814.8h0M949.3 1770.6h0M949.3 1809.3h0M949.3 1772.0h0M949.3 1626.8h0M949.3 1632.2h0M949.3 1771.2h0M949.3 1698.0h0M949.3 1825.0h0M949.3 1675.2h0M949.3 1744.4h0M949.3 1741.7h0M949.3 1777.6h0" fill="none" stroke="#000" stroke-opacity="0.44" stroke-width="4.0" stroke-linecap="round"/>
<path d="M949.3 1805.8h0M949.3 1592.9h0M949.3 1642.2h0M949.3 1621.5h0M949.3 1827.2h0M949.3 1599.8h0M949.3 1590.4h0M949.3 1729.3h0M949.3 1641.3h0M949.3 1731.2h0M949.3 1809.5h0M949.3 1613.3h0M949.3 1700.2h0M949.3 1742.7h0M949.3 1709.0h0" fill="none" stroke="#000" stroke-opacity="0.44" stroke-width="4.0" stroke-linecap="round"/>
<path d="M949.3 1651.9h0M949.3 1629.2h0M949.3 1781.3h0M949.3 1694.5h0M949.3 1597.4h0M949.3 1733.1h0M949.3 1829.2h0M949.3 1637.4h0M949.3 1781.7h0M949.3 1816.1h0M949.3 1780.3h0M949.3 1602.3h0M949.3 1584.5h0M949.3 1772.1h0M949.3 1689.2h0" fill="none" stroke="#000" stroke-opacity="0.44" stroke-width="4.0" stroke-linecap="round"/>
<path d="M949.3 1805.9h0M949.3 1826.3h0M949.3 1624.2h0M949.3 1816.0h0M949.3 1667.0h0M949.3 1666.2h0M949.3 1688.7h0M949.3 1715.9h0M949.3 1732.2h0M949.3 1697.0h0M949.3 1677.4h0M949.3 1734.0h0M949.3 1771.7h0M949.3 1827.7h0M949.3 1713.7h0" fill="none" stroke="#000" stroke-opacity="0.44" stroke-width="4.0" stroke-linecap="round"/>
<path d="M949.3 1830.0h0M949.3 1583.6h0M949.3 1647.8h0M949.3 1777.4h0M949.3 1792.2h0M949.3 1716.3h0M949.3 1808.6h0M949.3 1650.9h0M949.3 1629.5h0M949.3 1661.5h0M949.3 1650.4h0M949.3 1711.1h0M949.3 1764.6h0M949.3 1807.8h0" fill="none" stroke="#000" stroke-opacity="0.44" stroke-width="4.0" stroke-linecap="round"/>
<rect x="947.2" y="1830.9" width="4.2" height="205.3" fill="#0a0a0a" />
<rect x="942.0" y="1952.5" width="14.6" height="83.7" fill="#D69837" stroke="#232a2a" stroke-width="1.8"/>
<line x1="942.6" y1="1995.5" x2="956.0" y2="1995.5" stroke="#283033" stroke-width="6" />
<line x1="949.3" y1="1830.9" x2="949.3" y2="2036.2" stroke="#000" stroke-width="3.4" />
<line x1="942.5" y1="1830.9" x2="956.0" y2="1830.9" stroke="#000" stroke-width="3" />
<line x1="942.5" y1="2036.2" x2="956.0" y2="2036.2" stroke="#000" stroke-width="3" />
<path d="M966.8 1583.4h0M966.8 1648.0h0M966.8 1680.7h0M966.8 1639.1h0M966.8 1780.7h0M966.8 1833.3h0M966.8 1759.8h0M966.8 1712.2h0M966.8 1777.3h0M966.8 1764.0h0M966.8 1744.8h0M966.8 1746.3h0M966.8 1657.2h0M966.8 1819.1h0M966.8 1804.8h0" fill="none" stroke="#000" stroke-opacity="0.44" stroke-width="4.0" stroke-linecap="round"/>
<path d="M966.8 1833.5h0M966.8 1838.1h0M966.8 1763.7h0M966.8 1809.6h0M966.8 1698.8h0M966.8 1584.3h0M966.8 1837.5h0M966.8 1784.3h0M966.8 1698.2h0M966.8 1683.4h0M966.8 1734.8h0M966.8 1745.2h0M966.8 1805.6h0M966.8 1814.2h0M966.8 1641.5h0" fill="none" stroke="#000" stroke-opacity="0.44" stroke-width="4.0" stroke-linecap="round"/>
<path d="M966.8 1714.1h0M966.8 1588.9h0M966.8 1711.7h0M966.8 1798.3h0M966.8 1771.0h0M966.8 1791.0h0M966.8 1675.1h0M966.8 1715.7h0M966.8 1767.4h0M966.8 1821.8h0M966.8 1671.4h0M966.8 1746.0h0M966.8 1731.1h0M966.8 1610.8h0M966.8 1651.5h0" fill="none" stroke="#000" stroke-opacity="0.44" stroke-width="4.0" stroke-linecap="round"/>
<path d="M966.8 1713.7h0M966.8 1763.1h0M966.8 1676.9h0M966.8 1821.8h0M966.8 1750.6h0M966.8 1811.5h0M966.8 1767.6h0M966.8 1745.7h0M966.8 1749.4h0M966.8 1734.0h0M966.8 1647.7h0M966.8 1803.9h0M966.8 1769.8h0M966.8 1712.7h0M966.8 1679.8h0" fill="none" stroke="#000" stroke-opacity="0.44" stroke-width="4.0" stroke-linecap="round"/>
<path d="M966.8 1719.5h0M966.8 1825.0h0M966.8 1664.9h0M966.8 1613.6h0M966.8 1696.6h0M966.8 1742.2h0M966.8 1790.4h0M966.8 1764.1h0M966.8 1672.0h0M966.8 1786.1h0M966.8 1825.2h0M966.8 1676.3h0M966.8 1806.6h0M966.8 1807.5h0" fill="none" stroke="#000" stroke-opacity="0.44" stroke-width="4.0" stroke-linecap="round"/>
<rect x="964.7" y="1838.4" width="4.2" height="197.8" fill="#0a0a0a" />
<rect x="959.5" y="1956.8" width="14.6" height="79.4" fill="#C49D3B" stroke="#232a2a" stroke-width="1.8"/>
<line x1="960.1" y1="1994.4" x2="973.5" y2="1994.4" stroke="#283033" stroke-width="6" />
<line x1="966.8" y1="1838.4" x2="966.8" y2="2036.2" stroke="#000" stroke-width="3.4" />
<line x1="960.0" y1="1838.4" x2="973.5" y2="1838.4" stroke="#000" stroke-width="3" />
<line x1="960.0" y1="2036.2" x2="973.5" y2="2036.2" stroke="#000" stroke-width="3" />
<rect x="982.1" y="1590.0" width="4.2" height="109.2" fill="url(#gd)"/>
<path d="M984.2 1572.7h0M984.2 1582.2h0M984.2 1647.6h0M984.2 1670.2h0M984.2 1636.1h0M984.2 1601.2h0M984.2 1625.1h0M984.2 1620.3h0" fill="none" stroke="#000" stroke-opacity="0.44" stroke-width="4.0" stroke-linecap="round"/>
<path d="M984.2 1575.4h0M984.2 1575.0h0M984.2 1650.5h0M984.2 1639.0h0M984.2 1640.5h0M984.2 1617.5h0M984.2 1684.5h0M984.2 1644.9h0" fill="none" stroke="#000" stroke-opacity="0.44" stroke-width="4.0" stroke-linecap="round"/>
<path d="M984.2 1580.6h0M984.2 1581.3h0M984.2 1681.2h0M984.2 1654.8h0M984.2 1594.3h0M984.2 1673.8h0M984.2 1606.1h0" fill="none" stroke="#000" stroke-opacity="0.44" stroke-width="4.0" stroke-linecap="round"/>
<path d="M984.2 1587.4h0M984.2 1698.9h0M984.2 1677.6h0M984.2 1624.6h0M984.2 1620.2h0M984.2 1628.8h0M984.2 1666.0h0" fill="none" stroke="#000" stroke-opacity="0.44" stroke-width="4.0" stroke-linecap="round"/>
<path d="M984.2 1583.3h0M984.2 1671.6h0M984.2 1613.9h0M984.2 1639.4h0M984.2 1659.7h0M984.2 1634.3h0M984.2 1686.7h0" fill="none" stroke="#000" stroke-opacity="0.44" stroke-width="4.0" stroke-linecap="round"/>
<rect x="982.1" y="1699.2" width="4.2" height="337.0" fill="#0a0a0a" />
<rect x="977.0" y="1899.7" width="14.6" height="136.5" fill="#AFAB3B" stroke="#232a2a" stroke-width="1.8"/>
<line x1="977.6" y1="1969.7" x2="990.9" y2="1969.7" stroke="#283033" stroke-width="6" />
<line x1="984.2" y1="1699.2" x2="984.2" y2="2036.2" stroke="#000" stroke-width="3.4" />
<line x1="977.5" y1="1699.2" x2="991.0" y2="1699.2" stroke="#000" stroke-width="3" />
<line x1="977.5" y1="2036.2" x2="991.0" y2="2036.2" stroke="#000" stroke-width="3" />
<path d="M1001.7 1607.0h0M1001.7 1727.0h0M1001.7 1764.1h0M1001.7 1808.7h0M1001.7 1767.0h0M1001.7 1742.5h0M1001.7 1754.5h0M1001.7 1732.9h0M1001.7 1793.1h0M1001.7 1769.4h0M1001.7 1680.4h0M1001.7 1781.6h0M1001.7 1734.6h0" fill="none" stroke="#000" stroke-opacity="0.44" stroke-width="4.0" stroke-linecap="round"/>
<path d="M1001.7 1787.9h0M1001.7 1712.2h0M1001.7 1790.9h0M1001.7 1673.3h0M1001.7 1704.4h0M1001.7 1737.2h0M1001.7 1730.8h0M1001.7 1803.4h0M1001.7 1767.8h0M1001.7 1747.6h0M1001.7 1641.6h0M1001.7 1749.5h0M1001.7 1634.0h0" fill="none" stroke="#000" stroke-opacity="0.44" stroke-width="4.0" stroke-linecap="round"/>
<path d="M1001.7 1758.8h0M1001.7 1774.9h0M1001.7 1709.2h0M1001.7 1815.8h0M1001.7 1639.5h0M1001.7 1805.1h0M1001.7 1730.7h0M1001.7 1726.5h0M1001.7 1779.5h0M1001.7 1784.2h0M1001.7 1791.9h0M1001.7 1634.1h0" fill="none" stroke="#000" stroke-opacity="0.44" stroke-width="4.0" stroke-linecap="round"/>
<path d="M1001.7 1713.1h0M1001.7 1697.1h0M1001.7 1715.8h0M1001.7 1774.8h0M1001.7 1782.0h0M1001.7 1782.2h0M1001.7 1795.4h0M1001.7 1736.2h0M1001.7 1719.1h0M1001.7 1784.3h0M1001.7 1649.2h0M1001.7 1769.6h0" fill="none" stroke="#000" stroke-opacity="0.44" stroke-width="4.0" stroke-linecap="round"/>
<path d="M1001.7 1630.0h0M1001.7 1720.3h0M1001.7 1752.0h0M1001.7 1713.2h0M1001.7 1714.6h0M1001.7 1622.5h0M1001.7 1721.7h0M1001.7 1740.0h0M1001.7 1628.7h0M1001.7 1654.0h0M1001.7 1645.1h0M1001.7 1774.6h0" fill="none" stroke="#000" stroke-opacity="0.44" stroke-width="4.0" stroke-linecap="round"/>
<rect x="999.6" y="1820.1" width="4.2" height="216.1" fill="#0a0a0a" />
<rect x="994.4" y="1949.2" width="14.6" height="87.0" fill="#9AB93B" stroke="#232a2a" stroke-width="1.8"/>
<line x1="995.0" y1="1994.4" x2="1008.4" y2="1994.4" stroke="#283033" stroke-width="6" />
<line x1="1001.7" y1="1820.1" x2="1001.7" y2="2036.2" stroke="#000" stroke-width="3.4" />
<line x1="995.0" y1="1820.1" x2="1008.5" y2="1820.1" stroke="#000" stroke-width="3" />
<line x1="995.0" y1="2036.2" x2="1008.5" y2="2036.2" stroke="#000" stroke-width="3" />
<rect x="1017.1" y="1803.0" width="4.2" height="62.3" fill="url(#gd)"/>
<path d="M1019.2 1622.1h0M1019.2 1779.0h0M1019.2 1626.2h0M1019.2 1691.0h0M1019.2 1643.8h0M1019.2 1691.4h0M1019.2 1727.4h0M1019.2 1680.1h0M1019.2 1738.2h0M1019.2 1776.2h0M1019.2 1725.9h0M1019.2 1834.9h0M1019.2 1844.2h0M1019.2 1838.7h0" fill="none" stroke="#000" stroke-opacity="0.44" stroke-width="4.0" stroke-linecap="round"/>
<path d="M1019.2 1761.5h0M1019.2 1786.4h0M1019.2 1801.6h0M1019.2 1784.6h0M1019.2 1700.2h0M1019.2 1680.5h0M1019.2 1731.3h0M1019.2 1792.6h0M1019.2 1718.4h0M1019.2 1697.9h0M1019.2 1794.6h0M1019.2 1846.6h0M1019.2 1818.8h0M1019.2 1848.4h0" fill="none" stroke="#000" stroke-opacity="0.44" stroke-width="4.0" stroke-linecap="round"/>
<path d="M1019.2 1719.9h0M1019.2 1668.3h0M1019.2 1694.7h0M1019.2 1741.7h0M1019.2 1785.7h0M1019.2 1644.1h0M1019.2 1745.9h0M1019.2 1741.7h0M1019.2 1743.1h0M1019.2 1764.3h0M1019.2 1724.3h0M1019.2 1808.6h0M1019.2 1861.4h0M1019.2 1848.5h0" fill="none" stroke="#000" stroke-opacity="0.44" stroke-width="4.0" stroke-linecap="round"/>
<path d="M1019.2 1745.9h0M1019.2 1705.6h0M1019.2 1692.4h0M1019.2 1734.8h0M1019.2 1777.0h0M1019.2 1738.8h0M1019.2 1711.1h0M1019.2 1643.8h0M1019.2 1703.7h0M1019.2 1777.0h0M1019.2 1859.1h0M1019.2 1858.4h0M1019.2 1842.2h0M1019.2 1826.5h0" fill="none" stroke="#000" stroke-opacity="0.44" stroke-width="4.0" stroke-linecap="round"/>
<path d="M1019.2 1802.8h0M1019.2 1735.9h0M1019.2 1701.8h0M1019.2 1720.2h0M1019.2 1784.3h0M1019.2 1712.4h0M1019.2 1776.9h0M1019.2 1702.0h0M1019.2 1694.5h0M1019.2 1747.1h0M1019.2 1809.4h0M1019.2 1810.6h0M1019.2 1855.2h0M1019.2 1820.9h0" fill="none" stroke="#000" stroke-opacity="0.44" stroke-width="4.0" stroke-linecap="round"/>
<rect x="1017.1" y="1865.3" width="4.2" height="170.9" fill="#0a0a0a" />
<rect x="1011.9" y="1966.4" width="14.6" height="69.8" fill="#81C83B" stroke="#232a2a" stroke-width="1.8"/>
<line x1="1012.5" y1="1999.8" x2="1025.9" y2="1999.8" stroke="#283033" stroke-width="6" />
<line x1="1019.2" y1="1865.3" x2="1019.2" y2="2036.2" stroke="#000" stroke-width="3.4" />
<line x1="1012.5" y1="1865.3" x2="1026.0" y2="1865.3" stroke="#000" stroke-width="3" />
<line x1="1012.5" y1="2036.2" x2="1026.0" y2="2036.2" stroke="#000" stroke-width="3" />
<rect x="1034.6" y="1560.9" width="4.2" height="475.3" fill="#0a0a0a" />
<rect x="1029.4" y="1832.0" width="14.6" height="204.2" fill="#70D642" stroke="#232a2a" stroke-width="1.8"/>
<line x1="1030.0" y1="2036.2" x2="1043.4" y2="2036.2" stroke="#283033" stroke-width="6" />
<line x1="1036.7" y1="1560.9" x2="1036.7" y2="2036.2" stroke="#000" stroke-width="3.4" />
<line x1="1029.9" y1="1560.9" x2="1043.4" y2="1560.9" stroke="#000" stroke-width="3" />
<line x1="1029.9" y1="2036.2" x2="1043.4" y2="2036.2" stroke="#000" stroke-width="3" />
<path d="M1054.2 1563.0h0M1054.2 1603.2h0M1054.2 1715.4h0M1054.2 1589.5h0M1054.2 1636.0h0M1054.2 1754.6h0M1054.2 1764.5h0M1054.2 1633.9h0M1054.2 1675.7h0M1054.2 1756.2h0M1054.2 1660.1h0M1054.2 1685.7h0" fill="none" stroke="#000" stroke-opacity="0.44" stroke-width="4.0" stroke-linecap="round"/>
<path d="M1054.2 1743.5h0M1054.2 1601.6h0M1054.2 1641.5h0M1054.2 1721.3h0M1054.2 1702.6h0M1054.2 1655.4h0M1054.2 1668.5h0M1054.2 1696.4h0M1054.2 1718.6h0M1054.2 1766.8h0M1054.2 1730.0h0M1054.2 1747.4h0" fill="none" stroke="#000" stroke-opacity="0.44" stroke-width="4.0" stroke-linecap="round"/>
<path d="M1054.2 1615.4h0M1054.2 1735.3h0M1054.2 1753.7h0M1054.2 1584.2h0M1054.2 1654.3h0M1054.2 1744.0h0M1054.2 1580.8h0M1054.2 1601.1h0M1054.2 1607.0h0M1054.2 1758.6h0M1054.2 1687.8h0M1054.2 1705.3h0" fill="none" stroke="#000" stroke-opacity="0.44" stroke-width="4.0" stroke-linecap="round"/>
<path d="M1054.2 1755.4h0M1054.2 1760.3h0M1054.2 1719.8h0M1054.2 1743.2h0M1054.2 1699.0h0M1054.2 1616.9h0M1054.2 1666.3h0M1054.2 1682.1h0M1054.2 1742.1h0M1054.2 1693.1h0M1054.2 1757.2h0M1054.2 1695.6h0" fill="none" stroke="#000" stroke-opacity="0.44" stroke-width="4.0" stroke-linecap="round"/>
<path d="M1054.2 1630.2h0M1054.2 1672.9h0M1054.2 1617.7h0M1054.2 1649.1h0M1054.2 1617.4h0M1054.2 1737.6h0M1054.2 1712.4h0M1054.2 1726.5h0M1054.2 1609.1h0M1054.2 1648.5h0M1054.2 1601.0h0M1054.2 1599.6h0" fill="none" stroke="#000" stroke-opacity="0.44" stroke-width="4.0" stroke-linecap="round"/>
<rect x="1052.1" y="1767.4" width="4.2" height="268.8" fill="#0a0a0a" />
<rect x="1046.9" y="1927.7" width="14.6" height="108.5" fill="#5EE442" stroke="#232a2a" stroke-width="1.8"/>
<line x1="1047.5" y1="1985.8" x2="1060.9" y2="1985.8" stroke="#283033" stroke-width="6" />
<line x1="1054.2" y1="1767.4" x2="1054.2" y2="2036.2" stroke="#000" stroke-width="3.4" />
<line x1="1047.4" y1="1767.4" x2="1060.9" y2="1767.4" stroke="#000" stroke-width="3" />
<line x1="1047.4" y1="2036.2" x2="1060.9" y2="2036.2" stroke="#000" stroke-width="3" />
<rect x="1069.5" y="1600.0" width="4.2" height="52.8" fill="url(#gd)"/>
<path d="M1071.6 1560.8h0M1071.6 1574.0h0M1071.6 1578.9h0M1071.6 1627.9h0M1071.6 1620.1h0M1071.6 1643.6h0" fill="none" stroke="#000" stroke-opacity="0.44" stroke-width="4.0" stroke-linecap="round"/>
<path d="M1071.6 1569.9h0M1071.6 1597.9h0M1071.6 1598.4h0M1071.6 1617.3h0M1071.6 1606.2h0M1071.6 1634.9h0" fill="none" stroke="#000" stroke-opacity="0.44" stroke-width="4.0" stroke-linecap="round"/>
<path d="M1071.6 1575.9h0M1071.6 1563.4h0M1071.6 1589.7h0M1071.6 1641.6h0M1071.6 1633.2h0M1071.6 1628.4h0" fill="none" stroke="#000" stroke-opacity="0.44" stroke-width="4.0" stroke-linecap="round"/>
<path d="M1071.6 1596.9h0M1071.6 1587.9h0M1071.6 1564.7h0M1071.6 1613.3h0M1071.6 1608.1h0M1071.6 1603.5h0" fill="none" stroke="#000" stroke-opacity="0.44" stroke-width="4.0" stroke-linecap="round"/>
<path d="M1071.6 1595.5h0M1071.6 1599.1h0M1071.6 1621.9h0M1071.6 1643.6h0M1071.6 1632.8h0" fill="none" stroke="#000" stroke-opacity="0.44" stroke-width="4.0" stroke-linecap="round"/>
<rect x="1069.5" y="1652.8" width="4.2" height="383.4" fill="#0a0a0a" />
<rect x="1064.3" y="1881.5" width="14.6" height="154.7" fill="#4CF03D" stroke="#232a2a" stroke-width="1.8"/>
<line x1="1064.9" y1="1968.6" x2="1078.3" y2="1968.6" stroke="#283033" stroke-width="6" />
<line x1="1071.6" y1="1652.8" x2="1071.6" y2="2036.2" stroke="#000" stroke-width="3.4" />
<line x1="1064.9" y1="1652.8" x2="1078.4" y2="1652.8" stroke="#000" stroke-width="3" />
<line x1="1064.9" y1="2036.2" x2="1078.4" y2="2036.2" stroke="#000" stroke-width="3" />
<path d="M1089.1 1563.0h0M1089.1 1728.4h0M1089.1 1632.6h0M1089.1 1708.1h0M1089.1 1711.5h0M1089.1 1719.7h0M1089.1 1642.1h0M1089.1 1787.2h0M1089.1 1726.8h0M1089.1 1658.2h0M1089.1 1787.2h0M1089.1 1768.0h0M1089.1 1803.3h0M1089.1 1677.2h0" fill="none" stroke="#000" stroke-opacity="0.44" stroke-width="4.0" stroke-linecap="round"/>
<path d="M1089.1 1715.1h0M1089.1 1679.8h0M1089.1 1796.1h0M1089.1 1626.4h0M1089.1 1719.8h0M1089.1 1713.7h0M1089.1 1619.6h0M1089.1 1575.0h0M1089.1 1750.1h0M1089.1 1583.4h0M1089.1 1605.2h0M1089.1 1754.3h0M1089.1 1588.2h0M1089.1 1772.8h0" fill="none" stroke="#000" stroke-opacity="0.44" stroke-width="4.0" stroke-linecap="round"/>
<path d="M1089.1 1609.8h0M1089.1 1684.8h0M1089.1 1674.8h0M1089.1 1608.7h0M1089.1 1616.6h0M1089.1 1683.0h0M1089.1 1651.9h0M1089.1 1796.4h0M1089.1 1649.1h0M1089.1 1689.1h0M1089.1 1728.5h0M1089.1 1596.9h0M1089.1 1736.4h0M1089.1 1704.2h0" fill="none" stroke="#000" stroke-opacity="0.44" stroke-width="4.0" stroke-linecap="round"/>
<path d="M1089.1 1742.0h0M1089.1 1745.2h0M1089.1 1778.6h0M1089.1 1785.1h0M1089.1 1705.5h0M1089.1 1640.5h0M1089.1 1783.8h0M1089.1 1709.9h0M1089.1 1761.7h0M1089.1 1716.1h0M1089.1 1650.3h0M1089.1 1653.4h0M1089.1 1750.7h0M1089.1 1792.5h0" fill="none" stroke="#000" stroke-opacity="0.44" stroke-width="4.0" stroke-linecap="round"/>
<path d="M1089.1 1621.2h0M1089.1 1630.9h0M1089.1 1784.1h0M1089.1 1616.4h0M1089.1 1630.9h0M1089.1 1691.4h0M1089.1 1712.7h0M1089.1 1769.2h0M1089.1 1627.8h0M1089.1 1665.2h0M1089.1 1731.8h0M1089.1 1732.6h0M1089.1 1773.6h0M1089.1 1572.2h0" fill="none" stroke="#000" stroke-opacity="0.44" stroke-width="4.0" stroke-linecap="round"/>
<rect x="1087.0" y="1806.2" width="4.2" height="230.0" fill="#0a0a0a" />
<rect x="1081.8" y="1942.8" width="14.6" height="93.4" fill="#49F242" stroke="#232a2a" stroke-width="1.8"/>
<line x1="1082.4" y1="1992.3" x2="1095.8" y2="1992.3" stroke="#283033" stroke-width="6" />
<line x1="1089.1" y1="1806.2" x2="1089.1" y2="2036.2" stroke="#000" stroke-width="3.4" />
<line x1="1082.3" y1="1806.2" x2="1095.8" y2="1806.2" stroke="#000" stroke-width="3" />
<line x1="1082.3" y1="2036.2" x2="1095.8" y2="2036.2" stroke="#000" stroke-width="3" />
<rect x="1104.5" y="1559.4" width="4.2" height="476.8" fill="#0a0a0a" />
<rect x="1099.3" y="1800.8" width="14.6" height="235.4" fill="#49ED50" stroke="#232a2a" stroke-width="1.8"/>
<line x1="1099.9" y1="2036.2" x2="1113.3" y2="2036.2" stroke="#283033" stroke-width="6" />
<line x1="1106.6" y1="1559.4" x2="1106.6" y2="2036.2" stroke="#000" stroke-width="3.4" />
<line x1="1099.8" y1="1559.4" x2="1113.3" y2="1559.4" stroke="#000" stroke-width="3" />
<line x1="1099.8" y1="2036.2" x2="1113.3" y2="2036.2" stroke="#000" stroke-width="3" />
<rect x="1122.0" y="1559.4" width="4.2" height="476.8" fill="#0a0a0a" />
<rect x="1116.8" y="1740.5" width="14.6" height="295.7" fill="#49EB65" stroke="#232a2a" stroke-width="1.8"/>
<line x1="1117.3" y1="1849.2" x2="1130.8" y2="1849.2" stroke="#283033" stroke-width="6" />
<line x1="1124.0" y1="1559.4" x2="1124.0" y2="2036.2" stroke="#000" stroke-width="3.4" />
<line x1="1117.3" y1="1559.4" x2="1130.8" y2="1559.4" stroke="#000" stroke-width="3" />
<line x1="1117.3" y1="2036.2" x2="1130.8" y2="2036.2" stroke="#000" stroke-width="3" />
<rect x="1139.4" y="1600.0" width="4.2" height="21.1" fill="url(#gd)"/>
<path d="M1141.5 1558.7h0M1141.5 1573.5h0M1141.5 1568.4h0M1141.5 1621.1h0M1141.5 1619.5h0" fill="none" stroke="#000" stroke-opacity="0.44" stroke-width="4.0" stroke-linecap="round"/>
<path d="M1141.5 1598.2h0M1141.5 1591.8h0M1141.5 1571.3h0M1141.5 1617.5h0" fill="none" stroke="#000" stroke-opacity="0.44" stroke-width="4.0" stroke-linecap="round"/>
<path d="M1141.5 1580.4h0M1141.5 1590.0h0M1141.5 1572.3h0M1141.5 1611.7h0" fill="none" stroke="#000" stroke-opacity="0.44" stroke-width="4.0" stroke-linecap="round"/>
<path d="M1141.5 1580.2h0M1141.5 1569.0h0M1141.5 1577.2h0M1141.5 1612.1h0" fill="none" stroke="#000" stroke-opacity="0.44" stroke-width="4.0" stroke-linecap="round"/>
<path d="M1141.5 1565.4h0M1141.5 1577.8h0M1141.5 1620.7h0M1141.5 1617.3h0" fill="none" stroke="#000" stroke-opacity="0.44" stroke-width="4.0" stroke-linecap="round"/>
<rect x="1139.4" y="1621.1" width="4.2" height="415.1" fill="#0a0a0a" />
<rect x="1134.2" y="1868.5" width="14.6" height="167.7" fill="#4CEB7E" stroke="#232a2a" stroke-width="1.8"/>
<line x1="1134.8" y1="1976.1" x2="1148.2" y2="1976.1" stroke="#283033" stroke-width="6" />
<line x1="1141.5" y1="1621.1" x2="1141.5" y2="2036.2" stroke="#000" stroke-width="3.4" />
<line x1="1134.8" y1="1621.1" x2="1148.3" y2="1621.1" stroke="#000" stroke-width="3" />
<line x1="1134.8" y1="2036.2" x2="1148.3" y2="2036.2" stroke="#000" stroke-width="3" />
<path d="M1159.0 1575.9h0M1159.0 1798.7h0M1159.0 1645.4h0M1159.0 1795.5h0M1159.0 1790.6h0M1159.0 1803.4h0M1159.0 1630.6h0M1159.0 1665.4h0M1159.0 1810.2h0M1159.0 1789.0h0M1159.0 1620.5h0M1159.0 1797.0h0M1159.0 1628.8h0M1159.0 1692.1h0M1159.0 1681.3h0" fill="none" stroke="#000" stroke-opacity="0.44" stroke-width="4.0" stroke-linecap="round"/>
<path d="M1159.0 1781.0h0M1159.0 1787.7h0M1159.0 1820.5h0M1159.0 1815.4h0M1159.0 1749.0h0M1159.0 1683.0h0M1159.0 1821.0h0M1159.0 1655.9h0M1159.0 1768.1h0M1159.0 1767.6h0M1159.0 1761.6h0M1159.0 1788.9h0M1159.0 1792.5h0M1159.0 1660.3h0M1159.0 1620.8h0" fill="none" stroke="#000" stroke-opacity="0.44" stroke-width="4.0" stroke-linecap="round"/>
<path d="M1159.0 1758.3h0M1159.0 1622.4h0M1159.0 1765.6h0M1159.0 1809.6h0M1159.0 1715.5h0M1159.0 1819.7h0M1159.0 1787.8h0M1159.0 1720.6h0M1159.0 1773.0h0M1159.0 1816.2h0M1159.0 1797.0h0M1159.0 1580.6h0M1159.0 1711.7h0M1159.0 1696.5h0" fill="none" stroke="#000" stroke-opacity="0.44" stroke-width="4.0" stroke-linecap="round"/>
<path d="M1159.0 1656.2h0M1159.0 1774.4h0M1159.0 1779.8h0M1159.0 1779.7h0M1159.0 1794.9h0M1159.0 1736.6h0M1159.0 1670.8h0M1159.0 1666.7h0M1159.0 1705.6h0M1159.0 1795.0h0M1159.0 1693.1h0M1159.0 1727.5h0M1159.0 1751.9h0M1159.0 1798.5h0" fill="none" stroke="#000" stroke-opacity="0.44" stroke-width="4.0" stroke-linecap="round"/>
<path d="M1159.0 1756.1h0M1159.0 1695.4h0M1159.0 1636.8h0M1159.0 1796.3h0M1159.0 1787.3h0M1159.0 1817.0h0M1159.0 1797.4h0M1159.0 1728.2h0M1159.0 1787.1h0M1159.0 1708.9h0M1159.0 1749.9h0M1159.0 1589.0h0M1159.0 1720.5h0M1159.0 1754.9h0" fill="none" stroke="#000" stroke-opacity="0.44" stroke-width="4.0" stroke-linecap="round"/>
<rect x="1156.9" y="1826.6" width="4.2" height="209.6" fill="#0a0a0a" />
<rect x="1151.7" y="1950.3" width="14.6" height="85.9" fill="#4EEB9A" stroke="#232a2a" stroke-width="1.8"/>
<line x1="1152.3" y1="1995.5" x2="1165.7" y2="1995.5" stroke="#283033" stroke-width="6" />
<line x1="1159.0" y1="1826.6" x2="1159.0" y2="2036.2" stroke="#000" stroke-width="3.4" />
<line x1="1152.2" y1="1826.6" x2="1165.8" y2="1826.6" stroke="#000" stroke-width="3" />
<line x1="1152.2" y1="2036.2" x2="1165.8" y2="2036.2" stroke="#000" stroke-width="3" />
<rect x="1174.4" y="1611.0" width="4.2" height="92.4" fill="url(#gd)"/>
<path d="M1176.5 1561.4h0M1176.5 1604.0h0M1176.5 1575.9h0M1176.5 1607.0h0M1176.5 1700.1h0M1176.5 1632.6h0M1176.5 1660.2h0M1176.5 1668.5h0M1176.5 1695.5h0" fill="none" stroke="#000" stroke-opacity="0.44" stroke-width="4.0" stroke-linecap="round"/>
<path d="M1176.5 1580.7h0M1176.5 1571.9h0M1176.5 1580.7h0M1176.5 1596.2h0M1176.5 1664.6h0M1176.5 1666.4h0M1176.5 1689.0h0M1176.5 1693.1h0M1176.5 1677.8h0" fill="none" stroke="#000" stroke-opacity="0.44" stroke-width="4.0" stroke-linecap="round"/>
<path d="M1176.5 1599.9h0M1176.5 1599.1h0M1176.5 1609.5h0M1176.5 1695.5h0M1176.5 1702.6h0M1176.5 1611.2h0M1176.5 1641.6h0M1176.5 1665.2h0" fill="none" stroke="#000" stroke-opacity="0.44" stroke-width="4.0" stroke-linecap="round"/>
<path d="M1176.5 1589.0h0M1176.5 1565.9h0M1176.5 1585.3h0M1176.5 1654.9h0M1176.5 1635.4h0M1176.5 1634.0h0M1176.5 1651.1h0M1176.5 1653.3h0" fill="none" stroke="#000" stroke-opacity="0.44" stroke-width="4.0" stroke-linecap="round"/>
<path d="M1176.5 1598.3h0M1176.5 1604.5h0M1176.5 1578.2h0M1176.5 1664.0h0M1176.5 1690.7h0M1176.5 1699.3h0M1176.5 1625.8h0M1176.5 1698.1h0" fill="none" stroke="#000" stroke-opacity="0.44" stroke-width="4.0" stroke-linecap="round"/>
<rect x="1174.4" y="1703.4" width="4.2" height="332.8" fill="#0a0a0a" />
<rect x="1169.2" y="1901.4" width="14.6" height="134.8" fill="#50EDB2" stroke="#232a2a" stroke-width="1.8"/>
<line x1="1169.8" y1="1975.0" x2="1183.2" y2="1975.0" stroke="#283033" stroke-width="6" />
<line x1="1176.5" y1="1703.4" x2="1176.5" y2="2036.2" stroke="#000" stroke-width="3.4" />
<line x1="1169.7" y1="1703.4" x2="1183.2" y2="1703.4" stroke="#000" stroke-width="3" />
<line x1="1169.7" y1="2036.2" x2="1183.2" y2="2036.2" stroke="#000" stroke-width="3" />
<path d="M1194.0 1588.9h0M1194.0 1705.4h0M1194.0 1769.9h0M1194.0 1620.1h0M1194.0 1783.7h0M1194.0 1696.9h0M1194.0 1752.8h0M1194.0 1763.3h0M1194.0 1718.4h0M1194.0 1709.6h0M1194.0 1654.8h0M1194.0 1648.3h0M1194.0 1657.3h0M1194.0 1821.6h0" fill="none" stroke="#000" stroke-opacity="0.44" stroke-width="4.0" stroke-linecap="round"/>
<path d="M1194.0 1627.3h0M1194.0 1767.0h0M1194.0 1811.4h0M1194.0 1798.8h0M1194.0 1808.6h0M1194.0 1647.4h0M1194.0 1750.7h0M1194.0 1686.3h0M1194.0 1823.5h0M1194.0 1821.0h0M1194.0 1750.4h0M1194.0 1738.5h0M1194.0 1693.8h0M1194.0 1820.8h0" fill="none" stroke="#000" stroke-opacity="0.44" stroke-width="4.0" stroke-linecap="round"/>
<path d="M1194.0 1759.9h0M1194.0 1761.4h0M1194.0 1734.8h0M1194.0 1771.2h0M1194.0 1779.7h0M1194.0 1819.3h0M1194.0 1615.9h0M1194.0 1785.8h0M1194.0 1764.7h0M1194.0 1776.1h0M1194.0 1797.2h0M1194.0 1806.3h0M1194.0 1618.7h0M1194.0 1661.9h0" fill="none" stroke="#000" stroke-opacity="0.44" stroke-width="4.0" stroke-linecap="round"/>
<path d="M1194.0 1723.5h0M1194.0 1708.5h0M1194.0 1705.8h0M1194.0 1746.9h0M1194.0 1783.5h0M1194.0 1808.7h0M1194.0 1712.2h0M1194.0 1688.8h0M1194.0 1793.5h0M1194.0 1772.6h0M1194.0 1791.5h0M1194.0 1654.9h0M1194.0 1690.4h0M1194.0 1693.2h0" fill="none" stroke="#000" stroke-opacity="0.44" stroke-width="4.0" stroke-linecap="round"/>
<path d="M1194.0 1820.1h0M1194.0 1739.8h0M1194.0 1823.2h0M1194.0 1724.3h0M1194.0 1610.8h0M1194.0 1649.7h0M1194.0 1783.1h0M1194.0 1744.2h0M1194.0 1769.9h0M1194.0 1685.4h0M1194.0 1702.0h0M1194.0 1781.4h0M1194.0 1710.1h0" fill="none" stroke="#000" stroke-opacity="0.44" stroke-width="4.0" stroke-linecap="round"/>
<rect x="1191.9" y="1827.2" width="4.2" height="209.0" fill="#0a0a0a" />
<rect x="1186.7" y="1945.4" width="14.6" height="90.8" fill="#52F0CF" stroke="#232a2a" stroke-width="1.8"/>
<line x1="1187.2" y1="1993.7" x2="1200.7" y2="1993.7" stroke="#283033" stroke-width="6" />
<line x1="1194.0" y1="1827.2" x2="1194.0" y2="2036.2" stroke="#000" stroke-width="3.4" />
<line x1="1187.2" y1="1827.2" x2="1200.7" y2="1827.2" stroke="#000" stroke-width="3" />
<line x1="1187.2" y1="2036.2" x2="1200.7" y2="2036.2" stroke="#000" stroke-width="3" />
<path d="M1211.4 1574.6h0M1211.4 1626.2h0M1211.4 1672.4h0M1211.4 1755.2h0M1211.4 1720.4h0M1211.4 1696.0h0M1211.4 1670.5h0M1211.4 1693.9h0M1211.4 1737.1h0M1211.4 1627.1h0M1211.4 1766.0h0M1211.4 1691.0h0M1211.4 1799.8h0M1211.4 1634.4h0M1211.4 1796.2h0" fill="none" stroke="#000" stroke-opacity="0.44" stroke-width="4.0" stroke-linecap="round"/>
<path d="M1211.4 1812.7h0M1211.4 1670.6h0M1211.4 1655.4h0M1211.4 1782.6h0M1211.4 1739.3h0M1211.4 1808.0h0M1211.4 1781.2h0M1211.4 1812.0h0M1211.4 1777.9h0M1211.4 1682.5h0M1211.4 1781.8h0M1211.4 1703.0h0M1211.4 1733.6h0M1211.4 1690.3h0M1211.4 1761.3h0" fill="none" stroke="#000" stroke-opacity="0.44" stroke-width="4.0" stroke-linecap="round"/>
<path d="M1211.4 1653.6h0M1211.4 1703.3h0M1211.4 1806.5h0M1211.4 1684.5h0M1211.4 1761.8h0M1211.4 1733.1h0M1211.4 1600.4h0M1211.4 1672.0h0M1211.4 1763.3h0M1211.4 1756.7h0M1211.4 1703.4h0M1211.4 1787.7h0M1211.4 1731.4h0M1211.4 1610.7h0" fill="none" stroke="#000" stroke-opacity="0.44" stroke-width="4.0" stroke-linecap="round"/>
<path d="M1211.4 1686.0h0M1211.4 1701.4h0M1211.4 1716.0h0M1211.4 1640.2h0M1211.4 1777.7h0M1211.4 1677.9h0M1211.4 1791.5h0M1211.4 1666.2h0M1211.4 1707.6h0M1211.4 1816.9h0M1211.4 1812.1h0M1211.4 1692.9h0M1211.4 1761.6h0M1211.4 1707.7h0" fill="none" stroke="#000" stroke-opacity="0.44" stroke-width="4.0" stroke-linecap="round"/>
<path d="M1211.4 1713.4h0M1211.4 1816.2h0M1211.4 1793.5h0M1211.4 1778.5h0M1211.4 1674.6h0M1211.4 1753.8h0M1211.4 1740.9h0M1211.4 1612.3h0M1211.4 1788.0h0M1211.4 1754.6h0M1211.4 1775.7h0M1211.4 1650.2h0M1211.4 1805.2h0M1211.4 1727.3h0" fill="none" stroke="#000" stroke-opacity="0.44" stroke-width="4.0" stroke-linecap="round"/>
<rect x="1209.3" y="1822.6" width="4.2" height="213.6" fill="#0a0a0a" />
<rect x="1204.1" y="1943.2" width="14.6" height="93.0" fill="#57F2EB" stroke="#232a2a" stroke-width="1.8"/>
<line x1="1204.7" y1="2000.4" x2="1218.1" y2="2000.4" stroke="#283033" stroke-width="6" />
<line x1="1211.4" y1="1822.6" x2="1211.4" y2="2036.2" stroke="#000" stroke-width="3.4" />
<line x1="1204.7" y1="1822.6" x2="1218.2" y2="1822.6" stroke="#000" stroke-width="3" />
<line x1="1204.7" y1="2036.2" x2="1218.2" y2="2036.2" stroke="#000" stroke-width="3" />
<path d="M1228.9 1580.1h0M1228.9 1827.9h0M1228.9 1808.9h0M1228.9 1823.0h0M1228.9 1798.1h0M1228.9 1823.7h0M1228.9 1792.0h0M1228.9 1623.6h0M1228.9 1649.4h0M1228.9 1820.2h0M1228.9 1781.6h0M1228.9 1817.2h0M1228.9 1603.4h0M1228.9 1619.6h0M1228.9 1754.4h0M1228.9 1819.5h0" fill="none" stroke="#000" stroke-opacity="0.44" stroke-width="4.0" stroke-linecap="round"/>
<path d="M1228.9 1769.8h0M1228.9 1816.2h0M1228.9 1751.6h0M1228.9 1786.0h0M1228.9 1777.7h0M1228.9 1692.0h0M1228.9 1854.1h0M1228.9 1826.6h0M1228.9 1692.5h0M1228.9 1608.3h0M1228.9 1710.7h0M1228.9 1672.7h0M1228.9 1814.0h0M1228.9 1781.7h0M1228.9 1772.3h0M1228.9 1851.5h0" fill="none" stroke="#000" stroke-opacity="0.44" stroke-width="4.0" stroke-linecap="round"/>
<path d="M1228.9 1727.5h0M1228.9 1826.6h0M1228.9 1838.9h0M1228.9 1834.9h0M1228.9 1692.5h0M1228.9 1674.0h0M1228.9 1819.1h0M1228.9 1706.6h0M1228.9 1617.8h0M1228.9 1824.3h0M1228.9 1708.2h0M1228.9 1826.8h0M1228.9 1602.2h0M1228.9 1802.6h0M1228.9 1678.0h0M1228.9 1707.8h0" fill="none" stroke="#000" stroke-opacity="0.44" stroke-width="4.0" stroke-linecap="round"/>
<path d="M1228.9 1768.9h0M1228.9 1653.7h0M1228.9 1839.0h0M1228.9 1646.7h0M1228.9 1621.4h0M1228.9 1677.3h0M1228.9 1716.0h0M1228.9 1584.4h0M1228.9 1738.1h0M1228.9 1639.0h0M1228.9 1767.7h0M1228.9 1820.4h0M1228.9 1752.6h0M1228.9 1771.5h0M1228.9 1832.6h0M1228.9 1856.4h0" fill="none" stroke="#000" stroke-opacity="0.44" stroke-width="4.0" stroke-linecap="round"/>
<path d="M1228.9 1692.2h0M1228.9 1791.0h0M1228.9 1806.5h0M1228.9 1798.1h0M1228.9 1775.7h0M1228.9 1632.5h0M1228.9 1797.1h0M1228.9 1781.6h0M1228.9 1764.5h0M1228.9 1677.5h0M1228.9 1675.5h0M1228.9 1760.3h0M1228.9 1732.7h0M1228.9 1726.6h0M1228.9 1858.3h0M1228.9 1623.2h0" fill="none" stroke="#000" stroke-opacity="0.44" stroke-width="4.0" stroke-linecap="round"/>
<rect x="1226.8" y="1859.1" width="4.2" height="177.1" fill="#0a0a0a" />
<rect x="1221.6" y="1964.0" width="14.6" height="72.2" fill="#57E0F5" stroke="#232a2a" stroke-width="1.8"/>
<line x1="1222.2" y1="1996.0" x2="1235.6" y2="1996.0" stroke="#283033" stroke-width="6" />
<line x1="1228.9" y1="1859.1" x2="1228.9" y2="2036.2" stroke="#000" stroke-width="3.4" />
<line x1="1222.2" y1="1859.1" x2="1235.7" y2="1859.1" stroke="#000" stroke-width="3" />
<line x1="1222.2" y1="2036.2" x2="1235.7" y2="2036.2" stroke="#000" stroke-width="3" />
<path d="M1246.4 1591.1h0M1246.4 1756.0h0M1246.4 1677.3h0M1246.4 1658.0h0M1246.4 1754.8h0M1246.4 1758.3h0M1246.4 1780.7h0M1246.4 1649.6h0M1246.4 1652.5h0M1246.4 1632.9h0M1246.4 1799.9h0M1246.4 1640.3h0M1246.4 1670.6h0" fill="none" stroke="#000" stroke-opacity="0.44" stroke-width="4.0" stroke-linecap="round"/>
<path d="M1246.4 1716.1h0M1246.4 1711.7h0M1246.4 1657.2h0M1246.4 1755.3h0M1246.4 1797.3h0M1246.4 1757.8h0M1246.4 1758.2h0M1246.4 1743.3h0M1246.4 1692.4h0M1246.4 1634.2h0M1246.4 1788.1h0M1246.4 1634.8h0" fill="none" stroke="#000" stroke-opacity="0.44" stroke-width="4.0" stroke-linecap="round"/>
<path d="M1246.4 1641.8h0M1246.4 1689.7h0M1246.4 1760.5h0M1246.4 1657.8h0M1246.4 1762.4h0M1246.4 1620.5h0M1246.4 1743.0h0M1246.4 1800.0h0M1246.4 1786.1h0M1246.4 1647.1h0M1246.4 1769.9h0M1246.4 1731.4h0" fill="none" stroke="#000" stroke-opacity="0.44" stroke-width="4.0" stroke-linecap="round"/>
<path d="M1246.4 1711.6h0M1246.4 1656.1h0M1246.4 1723.0h0M1246.4 1673.6h0M1246.4 1793.6h0M1246.4 1659.9h0M1246.4 1673.2h0M1246.4 1682.2h0M1246.4 1771.5h0M1246.4 1767.2h0M1246.4 1715.8h0M1246.4 1721.5h0" fill="none" stroke="#000" stroke-opacity="0.44" stroke-width="4.0" stroke-linecap="round"/>
<path d="M1246.4 1751.8h0M1246.4 1701.9h0M1246.4 1708.7h0M1246.4 1730.9h0M1246.4 1789.3h0M1246.4 1600.2h0M1246.4 1692.5h0M1246.4 1613.9h0M1246.4 1711.8h0M1246.4 1714.8h0M1246.4 1774.2h0M1246.4 1660.8h0" fill="none" stroke="#000" stroke-opacity="0.44" stroke-width="4.0" stroke-linecap="round"/>
<rect x="1244.3" y="1801.3" width="4.2" height="234.9" fill="#0a0a0a" />
<rect x="1239.1" y="1941.0" width="14.6" height="95.2" fill="#5EC8F5" stroke="#232a2a" stroke-width="1.8"/>
<line x1="1239.7" y1="1997.0" x2="1253.1" y2="1997.0" stroke="#283033" stroke-width="6" />
<line x1="1246.4" y1="1801.3" x2="1246.4" y2="2036.2" stroke="#000" stroke-width="3.4" />
<line x1="1239.6" y1="1801.3" x2="1253.1" y2="1801.3" stroke="#000" stroke-width="3" />
<line x1="1239.6" y1="2036.2" x2="1253.1" y2="2036.2" stroke="#000" stroke-width="3" />
<path d="M1263.8 1561.4h0M1263.8 1789.3h0M1263.8 1766.1h0M1263.8 1678.1h0M1263.8 1586.2h0M1263.8 1727.4h0M1263.8 1646.7h0M1263.8 1614.9h0M1263.8 1742.5h0M1263.8 1697.4h0M1263.8 1732.0h0M1263.8 1722.5h0M1263.8 1681.0h0M1263.8 1584.1h0" fill="none" stroke="#000" stroke-opacity="0.44" stroke-width="4.0" stroke-linecap="round"/>
<path d="M1263.8 1576.0h0M1263.8 1690.4h0M1263.8 1617.2h0M1263.8 1569.1h0M1263.8 1774.2h0M1263.8 1773.5h0M1263.8 1777.0h0M1263.8 1635.6h0M1263.8 1691.0h0M1263.8 1682.7h0M1263.8 1739.8h0M1263.8 1593.8h0M1263.8 1756.9h0M1263.8 1604.7h0" fill="none" stroke="#000" stroke-opacity="0.44" stroke-width="4.0" stroke-linecap="round"/>
<path d="M1263.8 1777.5h0M1263.8 1747.0h0M1263.8 1571.4h0M1263.8 1764.2h0M1263.8 1710.0h0M1263.8 1700.2h0M1263.8 1678.9h0M1263.8 1694.4h0M1263.8 1595.6h0M1263.8 1736.3h0M1263.8 1697.6h0M1263.8 1645.5h0M1263.8 1763.1h0" fill="none" stroke="#000" stroke-opacity="0.44" stroke-width="4.0" stroke-linecap="round"/>
<path d="M1263.8 1743.1h0M1263.8 1679.2h0M1263.8 1639.3h0M1263.8 1756.5h0M1263.8 1596.8h0M1263.8 1730.1h0M1263.8 1608.0h0M1263.8 1720.0h0M1263.8 1745.6h0M1263.8 1743.7h0M1263.8 1619.5h0M1263.8 1790.4h0M1263.8 1729.1h0" fill="none" stroke="#000" stroke-opacity="0.44" stroke-width="4.0" stroke-linecap="round"/>
<path d="M1263.8 1783.5h0M1263.8 1761.0h0M1263.8 1719.9h0M1263.8 1695.9h0M1263.8 1665.7h0M1263.8 1637.1h0M1263.8 1721.1h0M1263.8 1729.6h0M1263.8 1590.4h0M1263.8 1645.8h0M1263.8 1777.5h0M1263.8 1643.0h0M1263.8 1748.7h0" fill="none" stroke="#000" stroke-opacity="0.44" stroke-width="4.0" stroke-linecap="round"/>
<rect x="1261.8" y="1792.5" width="4.2" height="243.7" fill="#0a0a0a" />
<rect x="1256.5" y="1936.6" width="14.6" height="99.6" fill="#5EB2F2" stroke="#232a2a" stroke-width="1.8"/>
<line x1="1257.1" y1="1988.2" x2="1270.5" y2="1988.2" stroke="#283033" stroke-width="6" />
<line x1="1263.8" y1="1792.5" x2="1263.8" y2="2036.2" stroke="#000" stroke-width="3.4" />
<line x1="1257.1" y1="1792.5" x2="1270.6" y2="1792.5" stroke="#000" stroke-width="3" />
<line x1="1257.1" y1="2036.2" x2="1270.6" y2="2036.2" stroke="#000" stroke-width="3" />
<path d="M1281.3 1563.6h0M1281.3 1628.3h0M1281.3 1692.8h0M1281.3 1709.3h0M1281.3 1716.0h0M1281.3 1726.8h0M1281.3 1717.9h0M1281.3 1592.4h0M1281.3 1568.5h0M1281.3 1665.8h0M1281.3 1600.7h0" fill="none" stroke="#000" stroke-opacity="0.44" stroke-width="4.0" stroke-linecap="round"/>
<path d="M1281.3 1737.8h0M1281.3 1732.1h0M1281.3 1730.6h0M1281.3 1599.1h0M1281.3 1612.6h0M1281.3 1730.2h0M1281.3 1672.7h0M1281.3 1585.8h0M1281.3 1707.6h0M1281.3 1603.5h0M1281.3 1737.9h0" fill="none" stroke="#000" stroke-opacity="0.44" stroke-width="4.0" stroke-linecap="round"/>
<path d="M1281.3 1715.4h0M1281.3 1624.3h0M1281.3 1632.6h0M1281.3 1737.4h0M1281.3 1674.2h0M1281.3 1565.1h0M1281.3 1690.1h0M1281.3 1679.2h0M1281.3 1575.7h0M1281.3 1694.4h0" fill="none" stroke="#000" stroke-opacity="0.44" stroke-width="4.0" stroke-linecap="round"/>
<path d="M1281.3 1580.7h0M1281.3 1697.5h0M1281.3 1610.6h0M1281.3 1702.8h0M1281.3 1599.6h0M1281.3 1721.8h0M1281.3 1686.4h0M1281.3 1637.7h0M1281.3 1719.0h0M1281.3 1621.8h0" fill="none" stroke="#000" stroke-opacity="0.44" stroke-width="4.0" stroke-linecap="round"/>
<path d="M1281.3 1584.1h0M1281.3 1732.0h0M1281.3 1573.4h0M1281.3 1617.7h0M1281.3 1713.3h0M1281.3 1680.7h0M1281.3 1715.0h0M1281.3 1655.9h0M1281.3 1716.6h0M1281.3 1661.2h0" fill="none" stroke="#000" stroke-opacity="0.44" stroke-width="4.0" stroke-linecap="round"/>
<rect x="1279.2" y="1740.8" width="4.2" height="295.4" fill="#0a0a0a" />
<rect x="1274.0" y="1917.9" width="14.6" height="118.3" fill="#6CA1F2" stroke="#232a2a" stroke-width="1.8"/>
<line x1="1274.6" y1="1979.4" x2="1288.0" y2="1979.4" stroke="#283033" stroke-width="6" />
<line x1="1281.3" y1="1740.8" x2="1281.3" y2="2036.2" stroke="#000" stroke-width="3.4" />
<line x1="1274.6" y1="1740.8" x2="1288.1" y2="1740.8" stroke="#000" stroke-width="3" />
<line x1="1274.6" y1="2036.2" x2="1288.1" y2="2036.2" stroke="#000" stroke-width="3" />
<path d="M1298.8 1563.6h0M1298.8 1808.0h0M1298.8 1790.0h0M1298.8 1571.1h0M1298.8 1736.6h0M1298.8 1821.3h0M1298.8 1780.4h0M1298.8 1813.7h0M1298.8 1667.6h0M1298.8 1718.1h0M1298.8 1805.4h0M1298.8 1710.5h0M1298.8 1688.8h0M1298.8 1739.4h0M1298.8 1699.0h0M1298.8 1766.0h0" fill="none" stroke="#000" stroke-opacity="0.44" stroke-width="4.0" stroke-linecap="round"/>
<path d="M1298.8 1742.7h0M1298.8 1807.7h0M1298.8 1634.7h0M1298.8 1607.5h0M1298.8 1721.2h0M1298.8 1783.8h0M1298.8 1586.6h0M1298.8 1645.3h0M1298.8 1681.1h0M1298.8 1833.9h0M1298.8 1836.5h0M1298.8 1581.0h0M1298.8 1791.7h0M1298.8 1619.3h0M1298.8 1740.6h0M1298.8 1740.9h0" fill="none" stroke="#000" stroke-opacity="0.44" stroke-width="4.0" stroke-linecap="round"/>
<path d="M1298.8 1695.1h0M1298.8 1618.0h0M1298.8 1756.4h0M1298.8 1622.6h0M1298.8 1709.3h0M1298.8 1797.1h0M1298.8 1772.7h0M1298.8 1826.5h0M1298.8 1694.1h0M1298.8 1766.9h0M1298.8 1788.0h0M1298.8 1661.1h0M1298.8 1792.7h0M1298.8 1803.0h0M1298.8 1831.0h0M1298.8 1825.5h0" fill="none" stroke="#000" stroke-opacity="0.44" stroke-width="4.0" stroke-linecap="round"/>
<path d="M1298.8 1615.2h0M1298.8 1699.1h0M1298.8 1833.5h0M1298.8 1775.2h0M1298.8 1757.4h0M1298.8 1820.6h0M1298.8 1808.0h0M1298.8 1717.8h0M1298.8 1687.7h0M1298.8 1824.4h0M1298.8 1673.8h0M1298.8 1815.3h0M1298.8 1816.0h0M1298.8 1684.7h0M1298.8 1639.2h0M1298.8 1709.3h0" fill="none" stroke="#000" stroke-opacity="0.44" stroke-width="4.0" stroke-linecap="round"/>
<path d="M1298.8 1783.3h0M1298.8 1681.7h0M1298.8 1791.4h0M1298.8 1754.6h0M1298.8 1765.7h0M1298.8 1805.4h0M1298.8 1715.1h0M1298.8 1778.2h0M1298.8 1615.4h0M1298.8 1790.0h0M1298.8 1666.7h0M1298.8 1822.2h0M1298.8 1796.7h0M1298.8 1760.9h0M1298.8 1739.1h0" fill="none" stroke="#000" stroke-opacity="0.44" stroke-width="4.0" stroke-linecap="round"/>
<rect x="1296.7" y="1837.6" width="4.2" height="198.6" fill="#0a0a0a" />
<rect x="1291.5" y="1955.3" width="14.6" height="80.9" fill="#7791EB" stroke="#232a2a" stroke-width="1.8"/>
<line x1="1292.1" y1="1996.0" x2="1305.5" y2="1996.0" stroke="#283033" stroke-width="6" />
<line x1="1298.8" y1="1837.6" x2="1298.8" y2="2036.2" stroke="#000" stroke-width="3.4" />
<line x1="1292.0" y1="1837.6" x2="1305.5" y2="1837.6" stroke="#000" stroke-width="3" />
<line x1="1292.0" y1="2036.2" x2="1305.5" y2="2036.2" stroke="#000" stroke-width="3" />
<path d="M1316.3 1610.9h0M1316.3 1680.6h0M1316.3 1775.3h0M1316.3 1771.2h0M1316.3 1626.9h0M1316.3 1763.4h0M1316.3 1700.7h0M1316.3 1663.3h0M1316.3 1694.2h0M1316.3 1721.7h0M1316.3 1808.9h0M1316.3 1683.8h0M1316.3 1618.1h0" fill="none" stroke="#000" stroke-opacity="0.44" stroke-width="4.0" stroke-linecap="round"/>
<path d="M1316.3 1806.1h0M1316.3 1697.2h0M1316.3 1817.4h0M1316.3 1780.1h0M1316.3 1771.3h0M1316.3 1754.6h0M1316.3 1640.4h0M1316.3 1655.3h0M1316.3 1783.9h0M1316.3 1771.0h0M1316.3 1708.6h0M1316.3 1797.2h0" fill="none" stroke="#000" stroke-opacity="0.44" stroke-width="4.0" stroke-linecap="round"/>
<path d="M1316.3 1771.1h0M1316.3 1805.0h0M1316.3 1671.9h0M1316.3 1781.3h0M1316.3 1679.8h0M1316.3 1765.5h0M1316.3 1641.4h0M1316.3 1737.4h0M1316.3 1672.3h0M1316.3 1728.5h0M1316.3 1793.7h0M1316.3 1789.1h0" fill="none" stroke="#000" stroke-opacity="0.44" stroke-width="4.0" stroke-linecap="round"/>
<path d="M1316.3 1814.1h0M1316.3 1620.2h0M1316.3 1727.2h0M1316.3 1688.8h0M1316.3 1691.2h0M1316.3 1755.7h0M1316.3 1620.7h0M1316.3 1814.4h0M1316.3 1651.6h0M1316.3 1777.3h0M1316.3 1628.1h0M1316.3 1767.9h0" fill="none" stroke="#000" stroke-opacity="0.44" stroke-width="4.0" stroke-linecap="round"/>
<path d="M1316.3 1648.5h0M1316.3 1691.3h0M1316.3 1770.6h0M1316.3 1690.7h0M1316.3 1813.7h0M1316.3 1771.9h0M1316.3 1712.4h0M1316.3 1770.7h0M1316.3 1700.5h0M1316.3 1650.1h0M1316.3 1793.2h0M1316.3 1695.1h0" fill="none" stroke="#000" stroke-opacity="0.44" stroke-width="4.0" stroke-linecap="round"/>
<rect x="1314.2" y="1818.9" width="4.2" height="217.3" fill="#0a0a0a" />
<rect x="1309.0" y="1947.6" width="14.6" height="88.6" fill="#8881E5" stroke="#232a2a" stroke-width="1.8"/>
<line x1="1309.6" y1="1993.7" x2="1323.0" y2="1993.7" stroke="#283033" stroke-width="6" />
<line x1="1316.3" y1="1818.9" x2="1316.3" y2="2036.2" stroke="#000" stroke-width="3.4" />
<line x1="1309.5" y1="1818.9" x2="1323.0" y2="1818.9" stroke="#000" stroke-width="3" />
<line x1="1309.5" y1="2036.2" x2="1323.0" y2="2036.2" stroke="#000" stroke-width="3" />
<path d="M1333.8 1592.2h0M1333.8 1733.6h0M1333.8 1795.5h0M1333.8 1621.7h0M1333.8 1693.1h0M1333.8 1693.6h0M1333.8 1677.1h0M1333.8 1662.6h0M1333.8 1778.7h0M1333.8 1608.7h0M1333.8 1630.6h0M1333.8 1707.7h0" fill="none" stroke="#000" stroke-opacity="0.44" stroke-width="4.0" stroke-linecap="round"/>
<path d="M1333.8 1655.9h0M1333.8 1746.0h0M1333.8 1696.8h0M1333.8 1602.0h0M1333.8 1755.9h0M1333.8 1722.6h0M1333.8 1696.4h0M1333.8 1697.1h0M1333.8 1616.8h0M1333.8 1707.3h0M1333.8 1637.5h0M1333.8 1637.6h0" fill="none" stroke="#000" stroke-opacity="0.44" stroke-width="4.0" stroke-linecap="round"/>
<path d="M1333.8 1784.0h0M1333.8 1653.6h0M1333.8 1744.5h0M1333.8 1776.1h0M1333.8 1643.0h0M1333.8 1635.7h0M1333.8 1762.6h0M1333.8 1693.4h0M1333.8 1746.4h0M1333.8 1636.9h0M1333.8 1714.8h0M1333.8 1622.7h0" fill="none" stroke="#000" stroke-opacity="0.44" stroke-width="4.0" stroke-linecap="round"/>
<path d="M1333.8 1648.0h0M1333.8 1644.4h0M1333.8 1730.7h0M1333.8 1640.8h0M1333.8 1766.2h0M1333.8 1669.2h0M1333.8 1663.8h0M1333.8 1742.7h0M1333.8 1773.7h0M1333.8 1711.3h0M1333.8 1652.0h0M1333.8 1692.6h0" fill="none" stroke="#000" stroke-opacity="0.44" stroke-width="4.0" stroke-linecap="round"/>
<path d="M1333.8 1745.7h0M1333.8 1631.6h0M1333.8 1663.6h0M1333.8 1792.6h0M1333.8 1669.9h0M1333.8 1767.5h0M1333.8 1656.8h0M1333.8 1713.4h0M1333.8 1666.2h0M1333.8 1754.2h0M1333.8 1665.3h0M1333.8 1713.0h0" fill="none" stroke="#000" stroke-opacity="0.44" stroke-width="4.0" stroke-linecap="round"/>
<rect x="1331.7" y="1798.0" width="4.2" height="238.2" fill="#0a0a0a" />
<rect x="1326.5" y="1939.8" width="14.6" height="96.4" fill="#967CE0" stroke="#232a2a" stroke-width="1.8"/>
<line x1="1327.0" y1="1983.8" x2="1340.5" y2="1983.8" stroke="#283033" stroke-width="6" />
<line x1="1333.8" y1="1798.0" x2="1333.8" y2="2036.2" stroke="#000" stroke-width="3.4" />
<line x1="1327.0" y1="1798.0" x2="1340.5" y2="1798.0" stroke="#000" stroke-width="3" />
<line x1="1327.0" y1="2036.2" x2="1340.5" y2="2036.2" stroke="#000" stroke-width="3" />
<path d="M1351.2 1602.1h0M1351.2 1772.8h0M1351.2 1646.2h0M1351.2 1791.9h0M1351.2 1723.9h0M1351.2 1670.8h0M1351.2 1727.7h0M1351.2 1616.8h0M1351.2 1730.9h0M1351.2 1804.2h0M1351.2 1665.1h0M1351.2 1673.6h0M1351.2 1773.6h0" fill="none" stroke="#000" stroke-opacity="0.44" stroke-width="4.0" stroke-linecap="round"/>
<path d="M1351.2 1802.8h0M1351.2 1742.3h0M1351.2 1803.9h0M1351.2 1672.5h0M1351.2 1770.8h0M1351.2 1759.5h0M1351.2 1664.7h0M1351.2 1725.7h0M1351.2 1749.7h0M1351.2 1772.2h0M1351.2 1675.9h0M1351.2 1621.7h0" fill="none" stroke="#000" stroke-opacity="0.44" stroke-width="4.0" stroke-linecap="round"/>
<path d="M1351.2 1740.9h0M1351.2 1792.7h0M1351.2 1735.6h0M1351.2 1638.1h0M1351.2 1635.4h0M1351.2 1704.6h0M1351.2 1610.0h0M1351.2 1772.2h0M1351.2 1757.5h0M1351.2 1790.7h0M1351.2 1748.5h0M1351.2 1719.8h0" fill="none" stroke="#000" stroke-opacity="0.44" stroke-width="4.0" stroke-linecap="round"/>
<path d="M1351.2 1634.4h0M1351.2 1806.7h0M1351.2 1678.8h0M1351.2 1684.5h0M1351.2 1722.4h0M1351.2 1648.9h0M1351.2 1757.8h0M1351.2 1737.8h0M1351.2 1655.8h0M1351.2 1705.9h0M1351.2 1797.5h0M1351.2 1654.6h0" fill="none" stroke="#000" stroke-opacity="0.44" stroke-width="4.0" stroke-linecap="round"/>
<path d="M1351.2 1674.8h0M1351.2 1790.8h0M1351.2 1662.4h0M1351.2 1800.9h0M1351.2 1695.8h0M1351.2 1810.0h0M1351.2 1733.8h0M1351.2 1677.5h0M1351.2 1782.3h0M1351.2 1797.7h0M1351.2 1637.8h0M1351.2 1667.5h0" fill="none" stroke="#000" stroke-opacity="0.44" stroke-width="4.0" stroke-linecap="round"/>
<rect x="1349.1" y="1812.3" width="4.2" height="223.9" fill="#0a0a0a" />
<rect x="1343.9" y="1944.2" width="14.6" height="92.0" fill="#A46EE2" stroke="#232a2a" stroke-width="1.8"/>
<line x1="1344.5" y1="1989.3" x2="1357.9" y2="1989.3" stroke="#283033" stroke-width="6" />
<line x1="1351.2" y1="1812.3" x2="1351.2" y2="2036.2" stroke="#000" stroke-width="3.4" />
<line x1="1344.5" y1="1812.3" x2="1358.0" y2="1812.3" stroke="#000" stroke-width="3" />
<line x1="1344.5" y1="2036.2" x2="1358.0" y2="2036.2" stroke="#000" stroke-width="3" />
<path d="M1368.7 1560.3h0M1368.7 1560.7h0M1368.7 1587.9h0" fill="none" stroke="#000" stroke-opacity="0.44" stroke-width="4.0" stroke-linecap="round"/>
<path d="M1368.7 1579.7h0M1368.7 1587.9h0" fill="none" stroke="#000" stroke-opacity="0.44" stroke-width="4.0" stroke-linecap="round"/>
<path d="M1368.7 1587.7h0M1368.7 1570.0h0" fill="none" stroke="#000" stroke-opacity="0.44" stroke-width="4.0" stroke-linecap="round"/>
<path d="M1368.7 1575.0h0M1368.7 1577.0h0" fill="none" stroke="#000" stroke-opacity="0.44" stroke-width="4.0" stroke-linecap="round"/>
<path d="M1368.7 1582.0h0M1368.7 1577.9h0" fill="none" stroke="#000" stroke-opacity="0.44" stroke-width="4.0" stroke-linecap="round"/>
<rect x="1366.6" y="1589.0" width="4.2" height="447.2" fill="#0a0a0a" />
<rect x="1361.4" y="1855.2" width="14.6" height="181.0" fill="#B965E4" stroke="#232a2a" stroke-width="1.8"/>
<line x1="1362.0" y1="1970.6" x2="1375.4" y2="1970.6" stroke="#283033" stroke-width="6" />
<line x1="1368.7" y1="1589.0" x2="1368.7" y2="2036.2" stroke="#000" stroke-width="3.4" />
<line x1="1362.0" y1="1589.0" x2="1375.5" y2="1589.0" stroke="#000" stroke-width="3" />
<line x1="1362.0" y1="2036.2" x2="1375.5" y2="2036.2" stroke="#000" stroke-width="3" />
<path d="M1386.2 1665.9h0M1386.2 1846.0h0M1386.2 1865.0h0M1386.2 1679.6h0M1386.2 1810.0h0M1386.2 1716.2h0M1386.2 1716.1h0M1386.2 1739.4h0M1386.2 1854.2h0M1386.2 1862.2h0M1386.2 1677.0h0M1386.2 1777.0h0" fill="none" stroke="#000" stroke-opacity="0.44" stroke-width="4.0" stroke-linecap="round"/>
<path d="M1386.2 1790.1h0M1386.2 1732.0h0M1386.2 1757.9h0M1386.2 1768.2h0M1386.2 1744.6h0M1386.2 1740.7h0M1386.2 1795.4h0M1386.2 1723.8h0M1386.2 1819.0h0M1386.2 1774.7h0M1386.2 1751.3h0M1386.2 1796.7h0" fill="none" stroke="#000" stroke-opacity="0.44" stroke-width="4.0" stroke-linecap="round"/>
<path d="M1386.2 1869.4h0M1386.2 1870.5h0M1386.2 1774.5h0M1386.2 1722.4h0M1386.2 1783.3h0M1386.2 1711.7h0M1386.2 1805.6h0M1386.2 1806.3h0M1386.2 1850.0h0M1386.2 1690.7h0M1386.2 1751.2h0M1386.2 1848.3h0" fill="none" stroke="#000" stroke-opacity="0.44" stroke-width="4.0" stroke-linecap="round"/>
<path d="M1386.2 1812.3h0M1386.2 1783.7h0M1386.2 1762.2h0M1386.2 1845.1h0M1386.2 1802.3h0M1386.2 1864.8h0M1386.2 1854.0h0M1386.2 1783.0h0M1386.2 1864.4h0M1386.2 1858.2h0M1386.2 1865.8h0M1386.2 1841.9h0" fill="none" stroke="#000" stroke-opacity="0.44" stroke-width="4.0" stroke-linecap="round"/>
<path d="M1386.2 1735.4h0M1386.2 1737.6h0M1386.2 1820.1h0M1386.2 1665.3h0M1386.2 1827.0h0M1386.2 1719.2h0M1386.2 1692.6h0M1386.2 1774.9h0M1386.2 1746.9h0M1386.2 1707.1h0M1386.2 1851.6h0M1386.2 1817.6h0" fill="none" stroke="#000" stroke-opacity="0.44" stroke-width="4.0" stroke-linecap="round"/>
<rect x="1384.1" y="1870.6" width="4.2" height="165.6" fill="#0a0a0a" />
<rect x="1378.9" y="1968.4" width="14.6" height="67.8" fill="#D060E7" stroke="#232a2a" stroke-width="1.8"/>
<line x1="1379.5" y1="1998.1" x2="1392.9" y2="1998.1" stroke="#283033" stroke-width="6" />
<line x1="1386.2" y1="1870.6" x2="1386.2" y2="2036.2" stroke="#000" stroke-width="3.4" />
<line x1="1379.4" y1="1870.6" x2="1392.9" y2="1870.6" stroke="#000" stroke-width="3" />
<line x1="1379.4" y1="2036.2" x2="1392.9" y2="2036.2" stroke="#000" stroke-width="3" />
<path d="M1403.7 1560.3h0M1403.7 1722.0h0M1403.7 1598.2h0M1403.7 1650.3h0M1403.7 1597.3h0M1403.7 1761.5h0M1403.7 1733.8h0M1403.7 1690.4h0M1403.7 1779.0h0M1403.7 1755.7h0M1403.7 1582.2h0M1403.7 1721.3h0M1403.7 1691.8h0M1403.7 1625.1h0" fill="none" stroke="#000" stroke-opacity="0.44" stroke-width="4.0" stroke-linecap="round"/>
<path d="M1403.7 1707.5h0M1403.7 1761.8h0M1403.7 1778.6h0M1403.7 1645.5h0M1403.7 1751.1h0M1403.7 1568.5h0M1403.7 1630.6h0M1403.7 1788.8h0M1403.7 1644.5h0M1403.7 1615.3h0M1403.7 1617.8h0M1403.7 1786.2h0M1403.7 1629.2h0M1403.7 1677.2h0" fill="none" stroke="#000" stroke-opacity="0.44" stroke-width="4.0" stroke-linecap="round"/>
<path d="M1403.7 1611.8h0M1403.7 1778.8h0M1403.7 1718.9h0M1403.7 1676.4h0M1403.7 1729.4h0M1403.7 1699.8h0M1403.7 1788.9h0M1403.7 1637.9h0M1403.7 1750.0h0M1403.7 1641.9h0M1403.7 1685.2h0M1403.7 1720.2h0M1403.7 1701.1h0M1403.7 1789.6h0" fill="none" stroke="#000" stroke-opacity="0.44" stroke-width="4.0" stroke-linecap="round"/>
<path d="M1403.7 1647.3h0M1403.7 1789.5h0M1403.7 1630.9h0M1403.7 1709.7h0M1403.7 1699.1h0M1403.7 1739.5h0M1403.7 1759.1h0M1403.7 1685.8h0M1403.7 1674.9h0M1403.7 1639.9h0M1403.7 1688.3h0M1403.7 1674.0h0M1403.7 1573.3h0" fill="none" stroke="#000" stroke-opacity="0.44" stroke-width="4.0" stroke-linecap="round"/>
<path d="M1403.7 1735.8h0M1403.7 1634.0h0M1403.7 1742.1h0M1403.7 1739.4h0M1403.7 1738.4h0M1403.7 1745.2h0M1403.7 1644.6h0M1403.7 1789.4h0M1403.7 1736.7h0M1403.7 1652.9h0M1403.7 1598.9h0M1403.7 1744.4h0M1403.7 1739.1h0" fill="none" stroke="#000" stroke-opacity="0.44" stroke-width="4.0" stroke-linecap="round"/>
<rect x="1401.6" y="1795.8" width="4.2" height="240.4" fill="#0a0a0a" />
<rect x="1396.4" y="1937.6" width="14.6" height="98.6" fill="#EB5AED" stroke="#232a2a" stroke-width="1.8"/>
<line x1="1397.0" y1="1986.0" x2="1410.4" y2="1986.0" stroke="#283033" stroke-width="6" />
<line x1="1403.7" y1="1795.8" x2="1403.7" y2="2036.2" stroke="#000" stroke-width="3.4" />
<line x1="1396.9" y1="1795.8" x2="1410.4" y2="1795.8" stroke="#000" stroke-width="3" />
<line x1="1396.9" y1="2036.2" x2="1410.4" y2="2036.2" stroke="#000" stroke-width="3" />
<path d="M1421.1 1632.9h0M1421.1 1823.9h0M1421.1 1726.3h0M1421.1 1801.2h0M1421.1 1730.6h0M1421.1 1637.0h0M1421.1 1647.4h0M1421.1 1746.1h0M1421.1 1727.1h0M1421.1 1808.2h0M1421.1 1747.6h0M1421.1 1662.6h0M1421.1 1719.4h0M1421.1 1709.0h0M1421.1 1678.5h0" fill="none" stroke="#000" stroke-opacity="0.44" stroke-width="4.0" stroke-linecap="round"/>
<path d="M1421.1 1835.6h0M1421.1 1871.4h0M1421.1 1845.7h0M1421.1 1710.9h0M1421.1 1670.0h0M1421.1 1719.6h0M1421.1 1685.6h0M1421.1 1787.6h0M1421.1 1664.1h0M1421.1 1822.4h0M1421.1 1781.2h0M1421.1 1698.1h0M1421.1 1841.2h0M1421.1 1824.5h0" fill="none" stroke="#000" stroke-opacity="0.44" stroke-width="4.0" stroke-linecap="round"/>
<path d="M1421.1 1848.2h0M1421.1 1710.4h0M1421.1 1803.7h0M1421.1 1644.9h0M1421.1 1637.7h0M1421.1 1728.8h0M1421.1 1865.9h0M1421.1 1742.4h0M1421.1 1675.2h0M1421.1 1728.2h0M1421.1 1708.2h0M1421.1 1821.6h0M1421.1 1842.1h0M1421.1 1842.5h0" fill="none" stroke="#000" stroke-opacity="0.44" stroke-width="4.0" stroke-linecap="round"/>
<path d="M1421.1 1811.8h0M1421.1 1835.5h0M1421.1 1850.8h0M1421.1 1790.2h0M1421.1 1703.8h0M1421.1 1825.1h0M1421.1 1872.0h0M1421.1 1765.0h0M1421.1 1700.6h0M1421.1 1840.2h0M1421.1 1864.9h0M1421.1 1757.7h0M1421.1 1678.8h0M1421.1 1840.1h0" fill="none" stroke="#000" stroke-opacity="0.44" stroke-width="4.0" stroke-linecap="round"/>
<path d="M1421.1 1810.3h0M1421.1 1737.7h0M1421.1 1855.3h0M1421.1 1827.9h0M1421.1 1822.2h0M1421.1 1875.0h0M1421.1 1696.5h0M1421.1 1778.4h0M1421.1 1677.9h0M1421.1 1828.5h0M1421.1 1795.4h0M1421.1 1826.2h0M1421.1 1800.7h0M1421.1 1719.9h0" fill="none" stroke="#000" stroke-opacity="0.44" stroke-width="4.0" stroke-linecap="round"/>
<rect x="1419.0" y="1877.2" width="4.2" height="159.0" fill="#0a0a0a" />
<rect x="1413.8" y="1971.7" width="14.6" height="64.5" fill="#F557EB" stroke="#232a2a" stroke-width="1.8"/>
<line x1="1414.4" y1="2005.8" x2="1427.8" y2="2005.8" stroke="#283033" stroke-width="6" />
<line x1="1421.1" y1="1877.2" x2="1421.1" y2="2036.2" stroke="#000" stroke-width="3.4" />
<line x1="1414.4" y1="1877.2" x2="1427.9" y2="1877.2" stroke="#000" stroke-width="3" />
<line x1="1414.4" y1="2036.2" x2="1427.9" y2="2036.2" stroke="#000" stroke-width="3" />
<path d="M1438.6 1562.5h0M1438.6 1649.7h0M1438.6 1632.0h0M1438.6 1606.2h0M1438.6 1681.2h0M1438.6 1596.8h0M1438.6 1686.5h0M1438.6 1578.5h0" fill="none" stroke="#000" stroke-opacity="0.44" stroke-width="4.0" stroke-linecap="round"/>
<path d="M1438.6 1658.1h0M1438.6 1588.6h0M1438.6 1644.4h0M1438.6 1615.7h0M1438.6 1603.9h0M1438.6 1607.0h0M1438.6 1671.0h0M1438.6 1652.5h0" fill="none" stroke="#000" stroke-opacity="0.44" stroke-width="4.0" stroke-linecap="round"/>
<path d="M1438.6 1647.8h0M1438.6 1655.0h0M1438.6 1664.2h0M1438.6 1655.6h0M1438.6 1618.3h0M1438.6 1668.8h0M1438.6 1618.2h0M1438.6 1585.2h0" fill="none" stroke="#000" stroke-opacity="0.44" stroke-width="4.0" stroke-linecap="round"/>
<path d="M1438.6 1593.7h0M1438.6 1609.0h0M1438.6 1572.8h0M1438.6 1660.9h0M1438.6 1658.0h0M1438.6 1674.2h0M1438.6 1618.9h0" fill="none" stroke="#000" stroke-opacity="0.44" stroke-width="4.0" stroke-linecap="round"/>
<path d="M1438.6 1602.1h0M1438.6 1611.4h0M1438.6 1664.2h0M1438.6 1653.0h0M1438.6 1611.7h0M1438.6 1663.4h0M1438.6 1663.9h0" fill="none" stroke="#000" stroke-opacity="0.44" stroke-width="4.0" stroke-linecap="round"/>
<rect x="1436.5" y="1690.2" width="4.2" height="346.0" fill="#0a0a0a" />
<rect x="1431.3" y="1895.9" width="14.6" height="140.3" fill="#F553D9" stroke="#232a2a" stroke-width="1.8"/>
<line x1="1431.9" y1="2036.2" x2="1445.3" y2="2036.2" stroke="#283033" stroke-width="6" />
<line x1="1438.6" y1="1690.2" x2="1438.6" y2="2036.2" stroke="#000" stroke-width="3.4" />
<line x1="1431.8" y1="1690.2" x2="1445.3" y2="1690.2" stroke="#000" stroke-width="3" />
<line x1="1431.8" y1="2036.2" x2="1445.3" y2="2036.2" stroke="#000" stroke-width="3" />
<path d="M1456.1 1704.4h0M1456.1 1775.2h0M1456.1 1753.3h0M1456.1 1719.8h0M1456.1 1762.8h0" fill="none" stroke="#000" stroke-opacity="0.44" stroke-width="4.0" stroke-linecap="round"/>
<path d="M1456.1 1712.9h0M1456.1 1749.2h0M1456.1 1742.1h0M1456.1 1715.6h0M1456.1 1730.8h0" fill="none" stroke="#000" stroke-opacity="0.44" stroke-width="4.0" stroke-linecap="round"/>
<path d="M1456.1 1752.8h0M1456.1 1728.7h0M1456.1 1765.7h0M1456.1 1743.9h0M1456.1 1738.7h0" fill="none" stroke="#000" stroke-opacity="0.44" stroke-width="4.0" stroke-linecap="round"/>
<path d="M1456.1 1724.4h0M1456.1 1721.2h0M1456.1 1753.8h0M1456.1 1750.7h0M1456.1 1750.3h0" fill="none" stroke="#000" stroke-opacity="0.44" stroke-width="4.0" stroke-linecap="round"/>
<path d="M1456.1 1778.3h0M1456.1 1752.3h0M1456.1 1769.3h0M1456.1 1733.4h0" fill="none" stroke="#000" stroke-opacity="0.44" stroke-width="4.0" stroke-linecap="round"/>
<rect x="1454.0" y="1782.1" width="4.2" height="254.1" fill="#0a0a0a" />
<rect x="1448.8" y="1933.3" width="14.6" height="102.9" fill="#EB5AA8" stroke="#232a2a" stroke-width="1.8"/>
<line x1="1449.4" y1="1981.6" x2="1462.8" y2="1981.6" stroke="#283033" stroke-width="6" />
<line x1="1456.1" y1="1782.1" x2="1456.1" y2="2036.2" stroke="#000" stroke-width="3.4" />
<line x1="1449.3" y1="1782.1" x2="1462.8" y2="1782.1" stroke="#000" stroke-width="3" />
<line x1="1449.3" y1="2036.2" x2="1462.8" y2="2036.2" stroke="#000" stroke-width="3" />
<rect x="855.5" y="1534.5" width="624.5" height="523.5" fill="none" stroke="#000" stroke-width="3.4"/>
<line x1="848.5" y1="1558.7" x2="855.5" y2="1558.7" stroke="#333" stroke-width="2.2" />
<text x="847.5" y="1566.7" font-size="23" fill="#3E3E3E" text-anchor="end" textLength="41.6" lengthAdjust="spacingAndGlyphs" stroke="#3E3E3E" stroke-width="0.35">0.25</text>
<line x1="848.5" y1="1653.2" x2="855.5" y2="1653.2" stroke="#333" stroke-width="2.2" />
<text x="847.5" y="1661.2" font-size="23" fill="#3E3E3E" text-anchor="end" textLength="41.6" lengthAdjust="spacingAndGlyphs" stroke="#3E3E3E" stroke-width="0.35">0.20</text>
<line x1="848.5" y1="1748.7" x2="855.5" y2="1748.7" stroke="#333" stroke-width="2.2" />
<text x="847.5" y="1756.7" font-size="23" fill="#3E3E3E" text-anchor="end" textLength="41.6" lengthAdjust="spacingAndGlyphs" stroke="#3E3E3E" stroke-width="0.35">0.15</text>
<line x1="848.5" y1="1844.7" x2="855.5" y2="1844.7" stroke="#333" stroke-width="2.2" />
<text x="847.5" y="1852.7" font-size="23" fill="#3E3E3E" text-anchor="end" textLength="41.6" lengthAdjust="spacingAndGlyphs" stroke="#3E3E3E" stroke-width="0.35">0.10</text>
<line x1="848.5" y1="1940.2" x2="855.5" y2="1940.2" stroke="#333" stroke-width="2.2" />
<text x="847.5" y="1948.2" font-size="23" fill="#3E3E3E" text-anchor="end" textLength="41.6" lengthAdjust="spacingAndGlyphs" stroke="#3E3E3E" stroke-width="0.35">0.05</text>
<line x1="848.5" y1="2035.7" x2="855.5" y2="2035.7" stroke="#333" stroke-width="2.2" />
<text x="847.5" y="2043.7" font-size="23" fill="#3E3E3E" text-anchor="end" textLength="41.6" lengthAdjust="spacingAndGlyphs" stroke="#3E3E3E" stroke-width="0.35">0.00</text>
<line x1="879.4" y1="2058.0" x2="879.4" y2="2063.0" stroke="#333" stroke-width="2.4" />
<text x="879.4" y="2076.5" font-size="15.5" fill="#3E3E3E" text-anchor="middle" textLength="7.2" lengthAdjust="spacingAndGlyphs" stroke="#4D4D4D" stroke-width="0.35">1</text>
<line x1="896.9" y1="2058.0" x2="896.9" y2="2063.0" stroke="#333" stroke-width="2.4" />
<text x="896.9" y="2076.5" font-size="15.5" fill="#3E3E3E" text-anchor="middle" textLength="7.2" lengthAdjust="spacingAndGlyphs" stroke="#4D4D4D" stroke-width="0.35">2</text>
<line x1="914.4" y1="2058.0" x2="914.4" y2="2063.0" stroke="#333" stroke-width="2.4" />
<text x="914.4" y="2076.5" font-size="15.5" fill="#3E3E3E" text-anchor="middle" textLength="7.2" lengthAdjust="spacingAndGlyphs" stroke="#4D4D4D" stroke-width="0.35">3</text>
<line x1="931.8" y1="2058.0" x2="931.8" y2="2063.0" stroke="#333" stroke-width="2.4" />
<text x="931.8" y="2076.5" font-size="15.5" fill="#3E3E3E" text-anchor="middle" textLength="7.2" lengthAdjust="spacingAndGlyphs" stroke="#4D4D4D" stroke-width="0.35">4</text>
<line x1="949.3" y1="2058.0" x2="949.3" y2="2063.0" stroke="#333" stroke-width="2.4" />
<text x="949.3" y="2076.5" font-size="15.5" fill="#3E3E3E" text-anchor="middle" textLength="7.2" lengthAdjust="spacingAndGlyphs" stroke="#4D4D4D" stroke-width="0.35">5</text>
<line x1="966.8" y1="2058.0" x2="966.8" y2="2063.0" stroke="#333" stroke-width="2.4" />
<text x="966.8" y="2076.5" font-size="15.5" fill="#3E3E3E" text-anchor="middle" textLength="7.2" lengthAdjust="spacingAndGlyphs" stroke="#4D4D4D" stroke-width="0.35">6</text>
<line x1="984.2" y1="2058.0" x2="984.2" y2="2063.0" stroke="#333" stroke-width="2.4" />
<text x="984.2" y="2076.5" font-size="15.5" fill="#3E3E3E" text-anchor="middle" textLength="7.2" lengthAdjust="spacingAndGlyphs" stroke="#4D4D4D" stroke-width="0.35">7</text>
<line x1="1001.7" y1="2058.0" x2="1001.7" y2="2063.0" stroke="#333" stroke-width="2.4" />
<text x="1001.7" y="2076.5" font-size="15.5" fill="#3E3E3E" text-anchor="middle" textLength="7.2" lengthAdjust="spacingAndGlyphs" stroke="#4D4D4D" stroke-width="0.35">8</text>
<line x1="1019.2" y1="2058.0" x2="1019.2" y2="2063.0" stroke="#333" stroke-width="2.4" />
<text x="1019.2" y="2076.5" font-size="15.5" fill="#3E3E3E" text-anchor="middle" textLength="7.2" lengthAdjust="spacingAndGlyphs" stroke="#4D4D4D" stroke-width="0.35">9</text>
<line x1="1036.7" y1="2058.0" x2="1036.7" y2="2063.0" stroke="#333" stroke-width="2.4" />
<text x="1036.7" y="2076.5" font-size="15.5" fill="#3E3E3E" text-anchor="middle" textLength="13.8" lengthAdjust="spacingAndGlyphs" stroke="#4D4D4D" stroke-width="0.35">10</text>
<line x1="1054.2" y1="2058.0" x2="1054.2" y2="2063.0" stroke="#333" stroke-width="2.4" />
<text x="1054.2" y="2076.5" font-size="15.5" fill="#3E3E3E" text-anchor="middle" textLength="13.8" lengthAdjust="spacingAndGlyphs" stroke="#4D4D4D" stroke-width="0.35">11</text>
<line x1="1071.6" y1="2058.0" x2="1071.6" y2="2063.0" stroke="#333" stroke-width="2.4" />
<text x="1071.6" y="2076.5" font-size="15.5" fill="#3E3E3E" text-anchor="middle" textLength="13.8" lengthAdjust="spacingAndGlyphs" stroke="#4D4D4D" stroke-width="0.35">12</text>
<line x1="1089.1" y1="2058.0" x2="1089.1" y2="2063.0" stroke="#333" stroke-width="2.4" />
<text x="1089.1" y="2076.5" font-size="15.5" fill="#3E3E3E" text-anchor="middle" textLength="13.8" lengthAdjust="spacingAndGlyphs" stroke="#4D4D4D" stroke-width="0.35">13</text>
<line x1="1106.6" y1="2058.0" x2="1106.6" y2="2063.0" stroke="#333" stroke-width="2.4" />
<text x="1106.6" y="2076.5" font-size="15.5" fill="#3E3E3E" text-anchor="middle" textLength="13.8" lengthAdjust="spacingAndGlyphs" stroke="#4D4D4D" stroke-width="0.35">14</text>
<line x1="1124.0" y1="2058.0" x2="1124.0" y2="2063.0" stroke="#333" stroke-width="2.4" />
<text x="1124.0" y="2076.5" font-size="15.5" fill="#3E3E3E" text-anchor="middle" textLength="13.8" lengthAdjust="spacingAndGlyphs" stroke="#4D4D4D" stroke-width="0.35">15</text>
<line x1="1141.5" y1="2058.0" x2="1141.5" y2="2063.0" stroke="#333" stroke-width="2.4" />
<text x="1141.5" y="2076.5" font-size="15.5" fill="#3E3E3E" text-anchor="middle" textLength="13.8" lengthAdjust="spacingAndGlyphs" stroke="#4D4D4D" stroke-width="0.35">16</text>
<line x1="1159.0" y1="2058.0" x2="1159.0" y2="2063.0" stroke="#333" stroke-width="2.4" />
<text x="1159.0" y="2076.5" font-size="15.5" fill="#3E3E3E" text-anchor="middle" textLength="13.8" lengthAdjust="spacingAndGlyphs" stroke="#4D4D4D" stroke-width="0.35">17</text>
<line x1="1176.5" y1="2058.0" x2="1176.5" y2="2063.0" stroke="#333" stroke-width="2.4" />
<text x="1176.5" y="2076.5" font-size="15.5" fill="#3E3E3E" text-anchor="middle" textLength="13.8" lengthAdjust="spacingAndGlyphs" stroke="#4D4D4D" stroke-width="0.35">18</text>
<line x1="1194.0" y1="2058.0" x2="1194.0" y2="2063.0" stroke="#333" stroke-width="2.4" />
<text x="1194.0" y="2076.5" font-size="15.5" fill="#3E3E3E" text-anchor="middle" textLength="13.8" lengthAdjust="spacingAndGlyphs" stroke="#4D4D4D" stroke-width="0.35">19</text>
<line x1="1211.4" y1="2058.0" x2="1211.4" y2="2063.0" stroke="#333" stroke-width="2.4" />
<text x="1211.4" y="2076.5" font-size="15.5" fill="#3E3E3E" text-anchor="middle" textLength="13.8" lengthAdjust="spacingAndGlyphs" stroke="#4D4D4D" stroke-width="0.35">20</text>
<line x1="1228.9" y1="2058.0" x2="1228.9" y2="2063.0" stroke="#333" stroke-width="2.4" />
<text x="1228.9" y="2076.5" font-size="15.5" fill="#3E3E3E" text-anchor="middle" textLength="13.8" lengthAdjust="spacingAndGlyphs" stroke="#4D4D4D" stroke-width="0.35">21</text>
<line x1="1246.4" y1="2058.0" x2="1246.4" y2="2063.0" stroke="#333" stroke-width="2.4" />
<text x="1246.4" y="2076.5" font-size="15.5" fill="#3E3E3E" text-anchor="middle" textLength="13.8" lengthAdjust="spacingAndGlyphs" stroke="#4D4D4D" stroke-width="0.35">22</text>
<line x1="1263.8" y1="2058.0" x2="1263.8" y2="2063.0" stroke="#333" stroke-width="2.4" />
<text x="1263.8" y="2076.5" font-size="15.5" fill="#3E3E3E" text-anchor="middle" textLength="13.8" lengthAdjust="spacingAndGlyphs" stroke="#4D4D4D" stroke-width="0.35">23</text>
<line x1="1281.3" y1="2058.0" x2="1281.3" y2="2063.0" stroke="#333" stroke-width="2.4" />
<text x="1281.3" y="2076.5" font-size="15.5" fill="#3E3E3E" text-anchor="middle" textLength="13.8" lengthAdjust="spacingAndGlyphs" stroke="#4D4D4D" stroke-width="0.35">24</text>
<line x1="1298.8" y1="2058.0" x2="1298.8" y2="2063.0" stroke="#333" stroke-width="2.4" />
<text x="1298.8" y="2076.5" font-size="15.5" fill="#3E3E3E" text-anchor="middle" textLength="13.8" lengthAdjust="spacingAndGlyphs" stroke="#4D4D4D" stroke-width="0.35">25</text>
<line x1="1316.3" y1="2058.0" x2="1316.3" y2="2063.0" stroke="#333" stroke-width="2.4" />
<text x="1316.3" y="2076.5" font-size="15.5" fill="#3E3E3E" text-anchor="middle" textLength="13.8" lengthAdjust="spacingAndGlyphs" stroke="#4D4D4D" stroke-width="0.35">26</text>
<line x1="1333.8" y1="2058.0" x2="1333.8" y2="2063.0" stroke="#333" stroke-width="2.4" />
<text x="1333.8" y="2076.5" font-size="15.5" fill="#3E3E3E" text-anchor="middle" textLength="13.8" lengthAdjust="spacingAndGlyphs" stroke="#4D4D4D" stroke-width="0.35">27</text>
<line x1="1351.2" y1="2058.0" x2="1351.2" y2="2063.0" stroke="#333" stroke-width="2.4" />
<text x="1351.2" y="2076.5" font-size="15.5" fill="#3E3E3E" text-anchor="middle" textLength="13.8" lengthAdjust="spacingAndGlyphs" stroke="#4D4D4D" stroke-width="0.35">28</text>
<line x1="1368.7" y1="2058.0" x2="1368.7" y2="2063.0" stroke="#333" stroke-width="2.4" />
<text x="1368.7" y="2076.5" font-size="15.5" fill="#3E3E3E" text-anchor="middle" textLength="13.8" lengthAdjust="spacingAndGlyphs" stroke="#4D4D4D" stroke-width="0.35">29</text>
<line x1="1386.2" y1="2058.0" x2="1386.2" y2="2063.0" stroke="#333" stroke-width="2.4" />
<text x="1386.2" y="2076.5" font-size="15.5" fill="#3E3E3E" text-anchor="middle" textLength="13.8" lengthAdjust="spacingAndGlyphs" stroke="#4D4D4D" stroke-width="0.35">30</text>
<line x1="1403.7" y1="2058.0" x2="1403.7" y2="2063.0" stroke="#333" stroke-width="2.4" />
<text x="1403.7" y="2076.5" font-size="15.5" fill="#3E3E3E" text-anchor="middle" textLength="13.8" lengthAdjust="spacingAndGlyphs" stroke="#4D4D4D" stroke-width="0.35">31</text>
<line x1="1421.1" y1="2058.0" x2="1421.1" y2="2063.0" stroke="#333" stroke-width="2.4" />
<text x="1421.1" y="2076.5" font-size="15.5" fill="#3E3E3E" text-anchor="middle" textLength="13.8" lengthAdjust="spacingAndGlyphs" stroke="#4D4D4D" stroke-width="0.35">32</text>
<line x1="1438.6" y1="2058.0" x2="1438.6" y2="2063.0" stroke="#333" stroke-width="2.4" />
<text x="1438.6" y="2076.5" font-size="15.5" fill="#3E3E3E" text-anchor="middle" textLength="13.8" lengthAdjust="spacingAndGlyphs" stroke="#4D4D4D" stroke-width="0.35">33</text>
<line x1="1456.1" y1="2058.0" x2="1456.1" y2="2063.0" stroke="#333" stroke-width="2.4" />
<text x="1456.1" y="2076.5" font-size="15.5" fill="#3E3E3E" text-anchor="middle" textLength="13.8" lengthAdjust="spacingAndGlyphs" stroke="#4D4D4D" stroke-width="0.35">34</text>
<text x="1095.4" y="2107.4" font-size="30" textLength="139.7" lengthAdjust="spacingAndGlyphs" >Cell Cluster</text>
<text transform="translate(787,1805) rotate(-90)" font-size="30" text-anchor="middle" textLength="274" lengthAdjust="spacingAndGlyphs">Average % Mito Genes</text>
<text x="106.8" y="2168.8" font-size="29.5" textLength="535.0" lengthAdjust="spacingAndGlyphs" >Average Genes per Cell by Individual Animal</text>
<rect x="128.6" y="2330.5" width="5.2" height="154.2" fill="#050505" />
<rect x="110.0" y="2413.2" width="42.4" height="58.2" fill="#F04C74" stroke="#232a2a" stroke-width="1.8"/>
<line x1="110.9" y1="2439.4" x2="151.5" y2="2439.4" stroke="#283033" stroke-width="7.5" />
<line x1="131.2" y1="2413.2" x2="131.2" y2="2471.4" stroke="#000" stroke-width="5" />
<line x1="110.2" y1="2331.5" x2="152.2" y2="2331.5" stroke="#000" stroke-width="2.2" />
<line x1="110.2" y1="2484.7" x2="152.2" y2="2484.7" stroke="#000" stroke-width="2.2" />
<path d="M188.3 2370.2h0M188.3 2376.1h0" fill="none" stroke="#000" stroke-opacity="0.45" stroke-width="5.2" stroke-linecap="round"/>
<path d="M188.3 2374.7h0M188.3 2376.1h0" fill="none" stroke="#000" stroke-opacity="0.45" stroke-width="5.2" stroke-linecap="round"/>
<path d="M188.3 2375.1h0M188.3 2374.2h0" fill="none" stroke="#000" stroke-opacity="0.45" stroke-width="5.2" stroke-linecap="round"/>
<path d="M188.3 2372.5h0" fill="none" stroke="#000" stroke-opacity="0.45" stroke-width="5.2" stroke-linecap="round"/>
<path d="M188.3 2373.0h0" fill="none" stroke="#000" stroke-opacity="0.45" stroke-width="5.2" stroke-linecap="round"/>
<rect x="185.8" y="2376.5" width="5.2" height="108.2" fill="#050505" />
<rect x="167.2" y="2435.0" width="42.4" height="30.4" fill="#E88020" stroke="#232a2a" stroke-width="1.8"/>
<line x1="168.0" y1="2451.0" x2="208.7" y2="2451.0" stroke="#283033" stroke-width="7.5" />
<line x1="188.3" y1="2435.0" x2="188.3" y2="2465.4" stroke="#000" stroke-width="5" />
<line x1="167.3" y1="2390.0" x2="209.3" y2="2390.0" stroke="#000" stroke-width="2.2" />
<line x1="167.3" y1="2484.7" x2="209.3" y2="2484.7" stroke="#000" stroke-width="2.2" />
<path d="M245.5 2262.0h0M245.5 2261.4h0" fill="none" stroke="#000" stroke-opacity="0.45" stroke-width="5.2" stroke-linecap="round"/>
<path d="M245.5 2261.9h0M245.5 2266.2h0" fill="none" stroke="#000" stroke-opacity="0.45" stroke-width="5.2" stroke-linecap="round"/>
<path d="M245.5 2263.8h0" fill="none" stroke="#000" stroke-opacity="0.45" stroke-width="5.2" stroke-linecap="round"/>
<path d="M245.5 2264.7h0" fill="none" stroke="#000" stroke-opacity="0.45" stroke-width="5.2" stroke-linecap="round"/>
<path d="M245.5 2262.9h0" fill="none" stroke="#000" stroke-opacity="0.45" stroke-width="5.2" stroke-linecap="round"/>
<rect x="242.9" y="2266.3" width="5.2" height="218.0" fill="#050505" />
<rect x="224.3" y="2389.4" width="42.4" height="76.0" fill="#A0A020" stroke="#232a2a" stroke-width="1.8"/>
<line x1="225.2" y1="2421.6" x2="265.8" y2="2421.6" stroke="#283033" stroke-width="7.5" />
<line x1="245.5" y1="2389.4" x2="245.5" y2="2465.4" stroke="#000" stroke-width="5" />
<line x1="224.5" y1="2276.2" x2="266.5" y2="2276.2" stroke="#000" stroke-width="2.2" />
<line x1="224.5" y1="2484.3" x2="266.5" y2="2484.3" stroke="#000" stroke-width="2.2" />
<path d="M302.6 2303.1h0M302.6 2305.8h0" fill="none" stroke="#000" stroke-opacity="0.45" stroke-width="5.2" stroke-linecap="round"/>
<path d="M302.6 2311.0h0M302.6 2303.2h0" fill="none" stroke="#000" stroke-opacity="0.45" stroke-width="5.2" stroke-linecap="round"/>
<path d="M302.6 2304.0h0M302.6 2309.7h0" fill="none" stroke="#000" stroke-opacity="0.45" stroke-width="5.2" stroke-linecap="round"/>
<path d="M302.6 2307.3h0M302.6 2309.9h0" fill="none" stroke="#000" stroke-opacity="0.45" stroke-width="5.2" stroke-linecap="round"/>
<path d="M302.6 2308.6h0M302.6 2307.0h0" fill="none" stroke="#000" stroke-opacity="0.45" stroke-width="5.2" stroke-linecap="round"/>
<rect x="300.0" y="2311.7" width="5.2" height="172.3" fill="#050505" />
<rect x="281.4" y="2412.0" width="42.4" height="55.1" fill="#58E030" stroke="#232a2a" stroke-width="1.8"/>
<line x1="282.3" y1="2437.0" x2="322.9" y2="2437.0" stroke="#283033" stroke-width="7.5" />
<line x1="302.6" y1="2412.0" x2="302.6" y2="2467.1" stroke="#000" stroke-width="5" />
<line x1="281.6" y1="2329.5" x2="323.6" y2="2329.5" stroke="#000" stroke-width="2.2" />
<line x1="281.6" y1="2484.0" x2="323.6" y2="2484.0" stroke="#000" stroke-width="2.2" />
<path d="M359.8 2198.8h0M359.8 2200.1h0M359.8 2200.8h0M359.8 2203.9h0M359.8 2205.7h0" fill="none" stroke="#000" stroke-opacity="0.45" stroke-width="5.2" stroke-linecap="round"/>
<path d="M359.8 2201.3h0M359.8 2206.9h0M359.8 2203.6h0M359.8 2217.7h0" fill="none" stroke="#000" stroke-opacity="0.45" stroke-width="5.2" stroke-linecap="round"/>
<path d="M359.8 2209.5h0M359.8 2217.7h0M359.8 2212.7h0M359.8 2210.2h0" fill="none" stroke="#000" stroke-opacity="0.45" stroke-width="5.2" stroke-linecap="round"/>
<path d="M359.8 2201.5h0M359.8 2202.8h0M359.8 2219.1h0M359.8 2208.1h0" fill="none" stroke="#000" stroke-opacity="0.45" stroke-width="5.2" stroke-linecap="round"/>
<path d="M359.8 2221.7h0M359.8 2201.9h0M359.8 2203.7h0M359.8 2202.4h0" fill="none" stroke="#000" stroke-opacity="0.45" stroke-width="5.2" stroke-linecap="round"/>
<rect x="357.2" y="2222.4" width="5.2" height="263.0" fill="#050505" />
<rect x="338.6" y="2376.8" width="42.4" height="72.6" fill="#30E830" stroke="#232a2a" stroke-width="1.8"/>
<line x1="339.5" y1="2409.4" x2="380.1" y2="2409.4" stroke="#283033" stroke-width="7.5" />
<line x1="359.8" y1="2376.8" x2="359.8" y2="2449.4" stroke="#000" stroke-width="5" />
<line x1="338.8" y1="2268.2" x2="380.8" y2="2268.2" stroke="#000" stroke-width="2.2" />
<line x1="338.8" y1="2485.4" x2="380.8" y2="2485.4" stroke="#000" stroke-width="2.2" />
<path d="M416.9 2257.1h0M416.9 2268.4h0M416.9 2261.1h0" fill="none" stroke="#000" stroke-opacity="0.45" stroke-width="5.2" stroke-linecap="round"/>
<path d="M416.9 2269.3h0M416.9 2268.5h0M416.9 2263.4h0" fill="none" stroke="#000" stroke-opacity="0.45" stroke-width="5.2" stroke-linecap="round"/>
<path d="M416.9 2258.5h0M416.9 2263.5h0M416.9 2266.4h0" fill="none" stroke="#000" stroke-opacity="0.45" stroke-width="5.2" stroke-linecap="round"/>
<path d="M416.9 2260.7h0M416.9 2269.1h0" fill="none" stroke="#000" stroke-opacity="0.45" stroke-width="5.2" stroke-linecap="round"/>
<path d="M416.9 2266.7h0M416.9 2265.1h0" fill="none" stroke="#000" stroke-opacity="0.45" stroke-width="5.2" stroke-linecap="round"/>
<rect x="414.3" y="2269.6" width="5.2" height="216.0" fill="#050505" />
<rect x="395.8" y="2397.3" width="42.4" height="68.3" fill="#38E080" stroke="#232a2a" stroke-width="1.8"/>
<line x1="396.6" y1="2426.6" x2="437.2" y2="2426.6" stroke="#283033" stroke-width="7.5" />
<line x1="416.9" y1="2397.3" x2="416.9" y2="2465.6" stroke="#000" stroke-width="5" />
<line x1="395.9" y1="2294.6" x2="437.9" y2="2294.6" stroke="#000" stroke-width="2.2" />
<line x1="395.9" y1="2485.6" x2="437.9" y2="2485.6" stroke="#000" stroke-width="2.2" />
<rect x="471.5" y="2302.3" width="5.2" height="182.3" fill="#050505" />
<rect x="452.9" y="2399.9" width="42.4" height="67.2" fill="#40F0F0" stroke="#232a2a" stroke-width="1.8"/>
<line x1="453.8" y1="2428.6" x2="494.4" y2="2428.6" stroke="#283033" stroke-width="7.5" />
<line x1="474.1" y1="2399.9" x2="474.1" y2="2467.1" stroke="#000" stroke-width="5" />
<line x1="453.1" y1="2301.8" x2="495.1" y2="2301.8" stroke="#000" stroke-width="2.2" />
<line x1="453.1" y1="2484.6" x2="495.1" y2="2484.6" stroke="#000" stroke-width="2.2" />
<path d="M531.2 2275.1h0M531.2 2274.9h0" fill="none" stroke="#000" stroke-opacity="0.45" stroke-width="5.2" stroke-linecap="round"/>
<path d="M531.2 2277.7h0" fill="none" stroke="#000" stroke-opacity="0.45" stroke-width="5.2" stroke-linecap="round"/>
<path d="M531.2 2275.0h0" fill="none" stroke="#000" stroke-opacity="0.45" stroke-width="5.2" stroke-linecap="round"/>
<path d="M531.2 2275.4h0" fill="none" stroke="#000" stroke-opacity="0.45" stroke-width="5.2" stroke-linecap="round"/>
<path d="M531.2 2278.6h0" fill="none" stroke="#000" stroke-opacity="0.45" stroke-width="5.2" stroke-linecap="round"/>
<rect x="528.6" y="2278.8" width="5.2" height="206.8" fill="#050505" />
<rect x="510.1" y="2385.0" width="42.4" height="63.7" fill="#48A8F0" stroke="#232a2a" stroke-width="1.8"/>
<line x1="510.9" y1="2414.3" x2="551.5" y2="2414.3" stroke="#283033" stroke-width="7.5" />
<line x1="531.2" y1="2385.0" x2="531.2" y2="2448.7" stroke="#000" stroke-width="5" />
<line x1="510.2" y1="2287.4" x2="552.2" y2="2287.4" stroke="#000" stroke-width="2.2" />
<line x1="510.2" y1="2485.6" x2="552.2" y2="2485.6" stroke="#000" stroke-width="2.2" />
<path d="M588.4 2223.7h0M588.4 2229.0h0M588.4 2225.5h0" fill="none" stroke="#000" stroke-opacity="0.45" stroke-width="5.2" stroke-linecap="round"/>
<path d="M588.4 2232.5h0M588.4 2234.1h0" fill="none" stroke="#000" stroke-opacity="0.45" stroke-width="5.2" stroke-linecap="round"/>
<path d="M588.4 2227.5h0M588.4 2225.2h0" fill="none" stroke="#000" stroke-opacity="0.45" stroke-width="5.2" stroke-linecap="round"/>
<path d="M588.4 2226.5h0M588.4 2232.9h0" fill="none" stroke="#000" stroke-opacity="0.45" stroke-width="5.2" stroke-linecap="round"/>
<path d="M588.4 2226.6h0M588.4 2227.3h0" fill="none" stroke="#000" stroke-opacity="0.45" stroke-width="5.2" stroke-linecap="round"/>
<rect x="585.8" y="2234.2" width="5.2" height="249.4" fill="#050505" />
<rect x="567.2" y="2375.7" width="42.4" height="80.7" fill="#8080E8" stroke="#232a2a" stroke-width="1.8"/>
<line x1="568.1" y1="2410.7" x2="608.7" y2="2410.7" stroke="#283033" stroke-width="7.5" />
<line x1="588.4" y1="2375.7" x2="588.4" y2="2456.4" stroke="#000" stroke-width="5" />
<line x1="567.4" y1="2255.6" x2="609.4" y2="2255.6" stroke="#000" stroke-width="2.2" />
<line x1="567.4" y1="2483.6" x2="609.4" y2="2483.6" stroke="#000" stroke-width="2.2" />
<path d="M645.5 2234.0h0M645.5 2236.8h0" fill="none" stroke="#000" stroke-opacity="0.45" stroke-width="5.2" stroke-linecap="round"/>
<path d="M645.5 2236.5h0" fill="none" stroke="#000" stroke-opacity="0.45" stroke-width="5.2" stroke-linecap="round"/>
<path d="M645.5 2234.9h0" fill="none" stroke="#000" stroke-opacity="0.45" stroke-width="5.2" stroke-linecap="round"/>
<path d="M645.5 2234.2h0" fill="none" stroke="#000" stroke-opacity="0.45" stroke-width="5.2" stroke-linecap="round"/>
<path d="M645.5 2235.2h0" fill="none" stroke="#000" stroke-opacity="0.45" stroke-width="5.2" stroke-linecap="round"/>
<rect x="642.9" y="2237.5" width="5.2" height="246.1" fill="#050505" />
<rect x="624.3" y="2379.3" width="42.4" height="88.9" fill="#B060E0" stroke="#232a2a" stroke-width="1.8"/>
<line x1="625.2" y1="2427.1" x2="665.8" y2="2427.1" stroke="#283033" stroke-width="7.5" />
<line x1="645.5" y1="2379.3" x2="645.5" y2="2468.2" stroke="#000" stroke-width="5" />
<line x1="624.5" y1="2245.8" x2="666.5" y2="2245.8" stroke="#000" stroke-width="2.2" />
<line x1="624.5" y1="2483.6" x2="666.5" y2="2483.6" stroke="#000" stroke-width="2.2" />
<path d="M702.7 2239.1h0M702.7 2240.9h0" fill="none" stroke="#000" stroke-opacity="0.45" stroke-width="5.2" stroke-linecap="round"/>
<path d="M702.7 2241.8h0" fill="none" stroke="#000" stroke-opacity="0.45" stroke-width="5.2" stroke-linecap="round"/>
<path d="M702.7 2240.8h0" fill="none" stroke="#000" stroke-opacity="0.45" stroke-width="5.2" stroke-linecap="round"/>
<path d="M702.7 2238.2h0" fill="none" stroke="#000" stroke-opacity="0.45" stroke-width="5.2" stroke-linecap="round"/>
<path d="M702.7 2241.4h0" fill="none" stroke="#000" stroke-opacity="0.45" stroke-width="5.2" stroke-linecap="round"/>
<rect x="700.1" y="2242.2" width="5.2" height="240.4" fill="#050505" />
<rect x="681.5" y="2374.7" width="42.4" height="83.2" fill="#F040E0" stroke="#232a2a" stroke-width="1.8"/>
<line x1="682.4" y1="2409.1" x2="723.0" y2="2409.1" stroke="#283033" stroke-width="7.5" />
<line x1="702.7" y1="2374.7" x2="702.7" y2="2457.9" stroke="#000" stroke-width="5" />
<line x1="681.7" y1="2249.9" x2="723.7" y2="2249.9" stroke="#000" stroke-width="2.2" />
<line x1="681.7" y1="2482.6" x2="723.7" y2="2482.6" stroke="#000" stroke-width="2.2" />
<rect x="105.6" y="2182.5" width="621" height="317.5" fill="none" stroke="#000" stroke-width="3.4"/>
<line x1="98.6" y1="2238.1" x2="105.6" y2="2238.1" stroke="#333" stroke-width="2.2" />
<text x="97.6" y="2246.1" font-size="23" fill="#3E3E3E" text-anchor="end" textLength="47.6" lengthAdjust="spacingAndGlyphs" stroke="#3E3E3E" stroke-width="0.35">6000</text>
<line x1="98.6" y1="2326.4" x2="105.6" y2="2326.4" stroke="#333" stroke-width="2.2" />
<text x="97.6" y="2334.4" font-size="23" fill="#3E3E3E" text-anchor="end" textLength="47.6" lengthAdjust="spacingAndGlyphs" stroke="#3E3E3E" stroke-width="0.35">4000</text>
<line x1="98.6" y1="2413.7" x2="105.6" y2="2413.7" stroke="#333" stroke-width="2.2" />
<text x="97.6" y="2421.7" font-size="23" fill="#3E3E3E" text-anchor="end" textLength="47.6" lengthAdjust="spacingAndGlyphs" stroke="#3E3E3E" stroke-width="0.35">2000</text>
<text x="132.4" y="2519.8" font-size="23.5" fill="#3E3E3E" text-anchor="middle" textLength="22.7" lengthAdjust="spacingAndGlyphs" >60</text>
<text transform="translate(142.2,2539.0) scale(1,1.08) rotate(-45)" font-size="20.5" fill="#262626" text-anchor="end" textLength="77.2" lengthAdjust="spacingAndGlyphs" >PS19-fE3</text>
<text x="189.5" y="2519.8" font-size="23.5" fill="#3E3E3E" text-anchor="middle" textLength="34.1" lengthAdjust="spacingAndGlyphs" >129</text>
<text transform="translate(199.3,2539.0) scale(1,1.08) rotate(-45)" font-size="20.5" fill="#262626" text-anchor="end" textLength="77.2" lengthAdjust="spacingAndGlyphs" >PS19-fE4</text>
<text x="246.7" y="2519.8" font-size="23.5" fill="#3E3E3E" text-anchor="middle" textLength="34.1" lengthAdjust="spacingAndGlyphs" >154</text>
<text transform="translate(256.5,2539.0) scale(1,1.08) rotate(-45)" font-size="20.5" fill="#262626" text-anchor="end" textLength="77.2" lengthAdjust="spacingAndGlyphs" >PS19-fE4</text>
<text x="303.8" y="2519.8" font-size="23.5" fill="#3E3E3E" text-anchor="middle" textLength="34.1" lengthAdjust="spacingAndGlyphs" >156</text>
<text transform="translate(313.6,2539.0) scale(1,1.08) rotate(-45)" font-size="20.5" fill="#262626" text-anchor="end" textLength="77.2" lengthAdjust="spacingAndGlyphs" >PS19-fE4</text>
<text x="361.0" y="2519.8" font-size="23.5" fill="#3E3E3E" text-anchor="middle" textLength="34.1" lengthAdjust="spacingAndGlyphs" >267</text>
<text transform="translate(353.8,2538.0) scale(1,1.08) rotate(-45)" font-size="20.5" fill="#262626" text-anchor="end" textLength="77.2" lengthAdjust="spacingAndGlyphs" >PS19-fE4</text>
<text transform="translate(376.8,2540.0) scale(1,1.08) rotate(-45)" font-size="20.5" fill="#262626" text-anchor="end" textLength="76.2" lengthAdjust="spacingAndGlyphs" >Syn1-Cre</text>
<text x="418.1" y="2519.8" font-size="23.5" fill="#3E3E3E" text-anchor="middle" textLength="34.1" lengthAdjust="spacingAndGlyphs" >287</text>
<text transform="translate(410.9,2538.0) scale(1,1.08) rotate(-45)" font-size="20.5" fill="#262626" text-anchor="end" textLength="77.2" lengthAdjust="spacingAndGlyphs" >PS19-fE4</text>
<text transform="translate(433.9,2540.0) scale(1,1.08) rotate(-45)" font-size="20.5" fill="#262626" text-anchor="end" textLength="76.2" lengthAdjust="spacingAndGlyphs" >Syn1-Cre</text>
<text x="475.3" y="2519.8" font-size="23.5" fill="#3E3E3E" text-anchor="middle" textLength="34.1" lengthAdjust="spacingAndGlyphs" >305</text>
<text transform="translate(468.1,2538.0) scale(1,1.08) rotate(-45)" font-size="20.5" fill="#262626" text-anchor="end" textLength="77.2" lengthAdjust="spacingAndGlyphs" >PS19-fE4</text>
<text transform="translate(491.1,2540.0) scale(1,1.08) rotate(-45)" font-size="20.5" fill="#262626" text-anchor="end" textLength="76.2" lengthAdjust="spacingAndGlyphs" >Syn1-Cre</text>
<text x="532.5" y="2519.8" font-size="23.5" fill="#3E3E3E" text-anchor="middle" textLength="34.1" lengthAdjust="spacingAndGlyphs" >413</text>
<text transform="translate(542.2,2539.0) scale(1,1.08) rotate(-45)" font-size="20.5" fill="#262626" text-anchor="end" textLength="77.2" lengthAdjust="spacingAndGlyphs" >PS19-fE4</text>
<text x="589.6" y="2519.8" font-size="23.5" fill="#3E3E3E" text-anchor="middle" textLength="34.1" lengthAdjust="spacingAndGlyphs" >464</text>
<text transform="translate(599.4,2539.0) scale(1,1.08) rotate(-45)" font-size="20.5" fill="#262626" text-anchor="end" textLength="77.2" lengthAdjust="spacingAndGlyphs" >PS19-fE3</text>
<text x="646.8" y="2519.8" font-size="23.5" fill="#3E3E3E" text-anchor="middle" textLength="34.1" lengthAdjust="spacingAndGlyphs" >478</text>
<text transform="translate(656.5,2539.0) scale(1,1.08) rotate(-45)" font-size="20.5" fill="#262626" text-anchor="end" textLength="77.2" lengthAdjust="spacingAndGlyphs" >PS19-fE3</text>
<text x="703.9" y="2519.8" font-size="23.5" fill="#3E3E3E" text-anchor="middle" textLength="34.1" lengthAdjust="spacingAndGlyphs" >504</text>
<text transform="translate(696.7,2538.0) scale(1,1.08) rotate(-45)" font-size="20.5" fill="#262626" text-anchor="end" textLength="77.2" lengthAdjust="spacingAndGlyphs" >PS19-fE4</text>
<text transform="translate(719.7,2540.0) scale(1,1.08) rotate(-45)" font-size="20.5" fill="#262626" text-anchor="end" textLength="76.2" lengthAdjust="spacingAndGlyphs" >Syn1-Cre</text>
<text x="237.3" y="2636.0" font-size="30" textLength="335.3" lengthAdjust="spacingAndGlyphs" >Mouse Number &amp; Genotype</text>
<text transform="translate(24.5,2339.5) rotate(-90)" font-size="30" text-anchor="middle" textLength="321" lengthAdjust="spacingAndGlyphs">Average Number of Genes</text>
<text x="864.2" y="2168.8" font-size="29.5" textLength="520.7" lengthAdjust="spacingAndGlyphs" >Average nUMI per Cell by Individual Animal</text>
<path d="M888.4 2372.6h0M888.4 2383.4h0M888.4 2378.0h0" fill="none" stroke="#000" stroke-opacity="0.45" stroke-width="5.2" stroke-linecap="round"/>
<path d="M888.4 2384.3h0M888.4 2376.4h0M888.4 2374.0h0" fill="none" stroke="#000" stroke-opacity="0.45" stroke-width="5.2" stroke-linecap="round"/>
<path d="M888.4 2384.9h0M888.4 2377.8h0M888.4 2375.8h0" fill="none" stroke="#000" stroke-opacity="0.45" stroke-width="5.2" stroke-linecap="round"/>
<path d="M888.4 2377.3h0M888.4 2377.9h0" fill="none" stroke="#000" stroke-opacity="0.45" stroke-width="5.2" stroke-linecap="round"/>
<path d="M888.4 2383.8h0M888.4 2377.6h0" fill="none" stroke="#000" stroke-opacity="0.45" stroke-width="5.2" stroke-linecap="round"/>
<rect x="885.8" y="2385.5" width="5.2" height="96.5" fill="#050505" />
<rect x="867.2" y="2452.8" width="42.4" height="26.7" fill="#F04C74" stroke="#232a2a" stroke-width="1.8"/>
<line x1="868.1" y1="2466.6" x2="908.7" y2="2466.6" stroke="#283033" stroke-width="7.5" />
<line x1="888.4" y1="2452.8" x2="888.4" y2="2479.5" stroke="#000" stroke-width="5" />
<line x1="867.4" y1="2411.2" x2="909.4" y2="2411.2" stroke="#000" stroke-width="2.2" />
<line x1="867.4" y1="2482.0" x2="909.4" y2="2482.0" stroke="#000" stroke-width="2.2" />
<path d="M945.0 2421.4h0M945.0 2427.9h0" fill="none" stroke="#000" stroke-opacity="0.45" stroke-width="5.2" stroke-linecap="round"/>
<path d="M945.0 2429.1h0M945.0 2423.4h0" fill="none" stroke="#000" stroke-opacity="0.45" stroke-width="5.2" stroke-linecap="round"/>
<path d="M945.0 2425.0h0M945.0 2429.1h0" fill="none" stroke="#000" stroke-opacity="0.45" stroke-width="5.2" stroke-linecap="round"/>
<path d="M945.0 2426.9h0M945.0 2428.2h0" fill="none" stroke="#000" stroke-opacity="0.45" stroke-width="5.2" stroke-linecap="round"/>
<path d="M945.0 2428.9h0M945.0 2429.7h0" fill="none" stroke="#000" stroke-opacity="0.45" stroke-width="5.2" stroke-linecap="round"/>
<rect x="942.4" y="2429.7" width="5.2" height="54.9" fill="#050505" />
<rect x="923.8" y="2465.6" width="42.4" height="13.9" fill="#E88020" stroke="#232a2a" stroke-width="1.8"/>
<line x1="924.7" y1="2472.8" x2="965.3" y2="2472.8" stroke="#283033" stroke-width="7.5" />
<line x1="945.0" y1="2465.6" x2="945.0" y2="2479.5" stroke="#000" stroke-width="5" />
<line x1="924.0" y1="2447.1" x2="966.0" y2="2447.1" stroke="#000" stroke-width="2.2" />
<line x1="924.0" y1="2484.6" x2="966.0" y2="2484.6" stroke="#000" stroke-width="2.2" />
<path d="M1001.7 2264.8h0M1001.7 2281.6h0M1001.7 2274.3h0M1001.7 2286.3h0M1001.7 2281.6h0" fill="none" stroke="#000" stroke-opacity="0.45" stroke-width="5.2" stroke-linecap="round"/>
<path d="M1001.7 2283.2h0M1001.7 2275.3h0M1001.7 2285.1h0M1001.7 2269.0h0M1001.7 2266.0h0" fill="none" stroke="#000" stroke-opacity="0.45" stroke-width="5.2" stroke-linecap="round"/>
<path d="M1001.7 2283.8h0M1001.7 2285.5h0M1001.7 2274.5h0M1001.7 2287.6h0" fill="none" stroke="#000" stroke-opacity="0.45" stroke-width="5.2" stroke-linecap="round"/>
<path d="M1001.7 2285.0h0M1001.7 2268.8h0M1001.7 2285.6h0M1001.7 2283.5h0" fill="none" stroke="#000" stroke-opacity="0.45" stroke-width="5.2" stroke-linecap="round"/>
<path d="M1001.7 2272.1h0M1001.7 2279.1h0M1001.7 2285.7h0M1001.7 2282.1h0" fill="none" stroke="#000" stroke-opacity="0.45" stroke-width="5.2" stroke-linecap="round"/>
<rect x="999.1" y="2288.8" width="5.2" height="195.8" fill="#050505" />
<rect x="980.5" y="2438.4" width="42.4" height="40.0" fill="#A0A020" stroke="#232a2a" stroke-width="1.8"/>
<line x1="981.4" y1="2458.9" x2="1022.0" y2="2458.9" stroke="#283033" stroke-width="7.5" />
<line x1="1001.7" y1="2438.4" x2="1001.7" y2="2478.4" stroke="#000" stroke-width="5" />
<line x1="980.7" y1="2378.3" x2="1022.7" y2="2378.3" stroke="#000" stroke-width="2.2" />
<line x1="980.7" y1="2484.6" x2="1022.7" y2="2484.6" stroke="#000" stroke-width="2.2" />
<path d="M1058.3 2367.5h0M1058.3 2382.3h0M1058.3 2372.8h0M1058.3 2372.4h0" fill="none" stroke="#000" stroke-opacity="0.45" stroke-width="5.2" stroke-linecap="round"/>
<path d="M1058.3 2383.7h0M1058.3 2382.3h0M1058.3 2369.6h0M1058.3 2368.8h0" fill="none" stroke="#000" stroke-opacity="0.45" stroke-width="5.2" stroke-linecap="round"/>
<path d="M1058.3 2378.4h0M1058.3 2383.7h0M1058.3 2374.4h0" fill="none" stroke="#000" stroke-opacity="0.45" stroke-width="5.2" stroke-linecap="round"/>
<path d="M1058.3 2376.7h0M1058.3 2372.1h0M1058.3 2367.5h0" fill="none" stroke="#000" stroke-opacity="0.45" stroke-width="5.2" stroke-linecap="round"/>
<path d="M1058.3 2374.6h0M1058.3 2374.6h0M1058.3 2382.5h0" fill="none" stroke="#000" stroke-opacity="0.45" stroke-width="5.2" stroke-linecap="round"/>
<rect x="1055.7" y="2385.7" width="5.2" height="98.9" fill="#050505" />
<rect x="1037.1" y="2456.4" width="42.4" height="23.1" fill="#58E030" stroke="#232a2a" stroke-width="1.8"/>
<line x1="1038.0" y1="2468.2" x2="1078.6" y2="2468.2" stroke="#283033" stroke-width="7.5" />
<line x1="1058.3" y1="2456.4" x2="1058.3" y2="2479.5" stroke="#000" stroke-width="5" />
<line x1="1037.3" y1="2421.4" x2="1079.3" y2="2421.4" stroke="#000" stroke-width="2.2" />
<line x1="1037.3" y1="2484.6" x2="1079.3" y2="2484.6" stroke="#000" stroke-width="2.2" />
<path d="M1115.0 2197.0h0M1115.0 2208.1h0M1115.0 2218.9h0M1115.0 2218.4h0M1115.0 2210.8h0" fill="none" stroke="#000" stroke-opacity="0.45" stroke-width="5.2" stroke-linecap="round"/>
<path d="M1115.0 2198.9h0M1115.0 2217.0h0M1115.0 2209.7h0M1115.0 2212.0h0M1115.0 2210.0h0" fill="none" stroke="#000" stroke-opacity="0.45" stroke-width="5.2" stroke-linecap="round"/>
<path d="M1115.0 2215.7h0M1115.0 2220.1h0M1115.0 2219.0h0M1115.0 2200.1h0" fill="none" stroke="#000" stroke-opacity="0.45" stroke-width="5.2" stroke-linecap="round"/>
<path d="M1115.0 2202.9h0M1115.0 2205.8h0M1115.0 2215.5h0M1115.0 2212.3h0" fill="none" stroke="#000" stroke-opacity="0.45" stroke-width="5.2" stroke-linecap="round"/>
<path d="M1115.0 2209.5h0M1115.0 2213.3h0M1115.0 2205.8h0M1115.0 2217.5h0" fill="none" stroke="#000" stroke-opacity="0.45" stroke-width="5.2" stroke-linecap="round"/>
<rect x="1112.4" y="2221.0" width="5.2" height="263.6" fill="#050505" />
<rect x="1093.8" y="2430.2" width="42.4" height="43.1" fill="#30E830" stroke="#232a2a" stroke-width="1.8"/>
<line x1="1094.7" y1="2451.2" x2="1135.3" y2="2451.2" stroke="#283033" stroke-width="7.5" />
<line x1="1115.0" y1="2430.2" x2="1115.0" y2="2473.3" stroke="#000" stroke-width="5" />
<line x1="1094.0" y1="2367.0" x2="1136.0" y2="2367.0" stroke="#000" stroke-width="2.2" />
<line x1="1094.0" y1="2484.6" x2="1136.0" y2="2484.6" stroke="#000" stroke-width="2.2" />
<path d="M1171.6 2290.5h0M1171.6 2300.6h0M1171.6 2312.8h0M1171.6 2302.2h0M1171.6 2300.5h0" fill="none" stroke="#000" stroke-opacity="0.45" stroke-width="5.2" stroke-linecap="round"/>
<path d="M1171.6 2301.9h0M1171.6 2300.6h0M1171.6 2291.2h0M1171.6 2293.2h0M1171.6 2297.0h0" fill="none" stroke="#000" stroke-opacity="0.45" stroke-width="5.2" stroke-linecap="round"/>
<path d="M1171.6 2312.1h0M1171.6 2313.7h0M1171.6 2305.9h0M1171.6 2304.4h0" fill="none" stroke="#000" stroke-opacity="0.45" stroke-width="5.2" stroke-linecap="round"/>
<path d="M1171.6 2307.6h0M1171.6 2308.2h0M1171.6 2302.3h0M1171.6 2310.8h0" fill="none" stroke="#000" stroke-opacity="0.45" stroke-width="5.2" stroke-linecap="round"/>
<path d="M1171.6 2296.6h0M1171.6 2294.2h0M1171.6 2308.7h0M1171.6 2310.2h0" fill="none" stroke="#000" stroke-opacity="0.45" stroke-width="5.2" stroke-linecap="round"/>
<rect x="1169.0" y="2314.5" width="5.2" height="170.1" fill="#050505" />
<rect x="1150.4" y="2443.5" width="42.4" height="34.4" fill="#38E080" stroke="#232a2a" stroke-width="1.8"/>
<line x1="1151.3" y1="2460.0" x2="1191.9" y2="2460.0" stroke="#283033" stroke-width="7.5" />
<line x1="1171.6" y1="2443.5" x2="1171.6" y2="2477.9" stroke="#000" stroke-width="5" />
<line x1="1150.6" y1="2389.6" x2="1192.6" y2="2389.6" stroke="#000" stroke-width="2.2" />
<line x1="1150.6" y1="2484.6" x2="1192.6" y2="2484.6" stroke="#000" stroke-width="2.2" />
<path d="M1228.2 2347.0h0M1228.2 2362.8h0M1228.2 2350.7h0" fill="none" stroke="#000" stroke-opacity="0.45" stroke-width="5.2" stroke-linecap="round"/>
<path d="M1228.2 2359.3h0M1228.2 2354.6h0M1228.2 2352.5h0" fill="none" stroke="#000" stroke-opacity="0.45" stroke-width="5.2" stroke-linecap="round"/>
<path d="M1228.2 2360.1h0M1228.2 2353.8h0M1228.2 2352.9h0" fill="none" stroke="#000" stroke-opacity="0.45" stroke-width="5.2" stroke-linecap="round"/>
<path d="M1228.2 2351.0h0M1228.2 2358.8h0M1228.2 2359.1h0" fill="none" stroke="#000" stroke-opacity="0.45" stroke-width="5.2" stroke-linecap="round"/>
<path d="M1228.2 2361.3h0M1228.2 2361.9h0M1228.2 2350.4h0" fill="none" stroke="#000" stroke-opacity="0.45" stroke-width="5.2" stroke-linecap="round"/>
<rect x="1225.6" y="2362.9" width="5.2" height="121.7" fill="#050505" />
<rect x="1207.0" y="2445.1" width="42.4" height="34.4" fill="#40F0F0" stroke="#232a2a" stroke-width="1.8"/>
<line x1="1207.9" y1="2461.5" x2="1248.5" y2="2461.5" stroke="#283033" stroke-width="7.5" />
<line x1="1228.2" y1="2445.1" x2="1228.2" y2="2479.5" stroke="#000" stroke-width="5" />
<line x1="1207.2" y1="2394.2" x2="1249.2" y2="2394.2" stroke="#000" stroke-width="2.2" />
<line x1="1207.2" y1="2484.6" x2="1249.2" y2="2484.6" stroke="#000" stroke-width="2.2" />
<path d="M1284.9 2290.5h0M1284.9 2313.6h0M1284.9 2312.7h0M1284.9 2313.0h0M1284.9 2312.5h0" fill="none" stroke="#000" stroke-opacity="0.45" stroke-width="5.2" stroke-linecap="round"/>
<path d="M1284.9 2304.9h0M1284.9 2314.5h0M1284.9 2305.0h0M1284.9 2296.6h0M1284.9 2313.6h0" fill="none" stroke="#000" stroke-opacity="0.45" stroke-width="5.2" stroke-linecap="round"/>
<path d="M1284.9 2303.9h0M1284.9 2305.2h0M1284.9 2309.6h0M1284.9 2290.7h0" fill="none" stroke="#000" stroke-opacity="0.45" stroke-width="5.2" stroke-linecap="round"/>
<path d="M1284.9 2307.6h0M1284.9 2310.3h0M1284.9 2311.8h0M1284.9 2303.9h0" fill="none" stroke="#000" stroke-opacity="0.45" stroke-width="5.2" stroke-linecap="round"/>
<path d="M1284.9 2294.8h0M1284.9 2295.9h0M1284.9 2300.6h0M1284.9 2312.5h0" fill="none" stroke="#000" stroke-opacity="0.45" stroke-width="5.2" stroke-linecap="round"/>
<rect x="1282.3" y="2314.5" width="5.2" height="170.1" fill="#050505" />
<rect x="1263.7" y="2434.3" width="42.4" height="38.0" fill="#48A8F0" stroke="#232a2a" stroke-width="1.8"/>
<line x1="1264.6" y1="2453.8" x2="1305.2" y2="2453.8" stroke="#283033" stroke-width="7.5" />
<line x1="1284.9" y1="2434.3" x2="1284.9" y2="2472.3" stroke="#000" stroke-width="5" />
<line x1="1263.9" y1="2378.3" x2="1305.9" y2="2378.3" stroke="#000" stroke-width="2.2" />
<line x1="1263.9" y1="2484.6" x2="1305.9" y2="2484.6" stroke="#000" stroke-width="2.2" />
<path d="M1341.5 2246.8h0M1341.5 2263.1h0M1341.5 2254.7h0M1341.5 2246.2h0M1341.5 2254.2h0" fill="none" stroke="#000" stroke-opacity="0.45" stroke-width="5.2" stroke-linecap="round"/>
<path d="M1341.5 2260.4h0M1341.5 2266.8h0M1341.5 2258.3h0M1341.5 2256.4h0M1341.5 2260.5h0" fill="none" stroke="#000" stroke-opacity="0.45" stroke-width="5.2" stroke-linecap="round"/>
<path d="M1341.5 2269.4h0M1341.5 2258.4h0M1341.5 2260.5h0M1341.5 2265.0h0" fill="none" stroke="#000" stroke-opacity="0.45" stroke-width="5.2" stroke-linecap="round"/>
<path d="M1341.5 2261.5h0M1341.5 2262.5h0M1341.5 2259.4h0M1341.5 2265.6h0" fill="none" stroke="#000" stroke-opacity="0.45" stroke-width="5.2" stroke-linecap="round"/>
<path d="M1341.5 2251.1h0M1341.5 2254.3h0M1341.5 2249.5h0M1341.5 2253.7h0" fill="none" stroke="#000" stroke-opacity="0.45" stroke-width="5.2" stroke-linecap="round"/>
<rect x="1338.9" y="2270.8" width="5.2" height="213.8" fill="#050505" />
<rect x="1320.3" y="2431.2" width="42.4" height="44.2" fill="#8080E8" stroke="#232a2a" stroke-width="1.8"/>
<line x1="1321.2" y1="2453.8" x2="1361.8" y2="2453.8" stroke="#283033" stroke-width="7.5" />
<line x1="1341.5" y1="2431.2" x2="1341.5" y2="2475.4" stroke="#000" stroke-width="5" />
<line x1="1320.5" y1="2365.5" x2="1362.5" y2="2365.5" stroke="#000" stroke-width="2.2" />
<line x1="1320.5" y1="2484.6" x2="1362.5" y2="2484.6" stroke="#000" stroke-width="2.2" />
<path d="M1398.2 2200.6h0M1398.2 2215.9h0M1398.2 2208.4h0M1398.2 2212.6h0M1398.2 2204.8h0" fill="none" stroke="#000" stroke-opacity="0.45" stroke-width="5.2" stroke-linecap="round"/>
<path d="M1398.2 2205.8h0M1398.2 2218.8h0M1398.2 2221.3h0M1398.2 2203.1h0M1398.2 2213.0h0" fill="none" stroke="#000" stroke-opacity="0.45" stroke-width="5.2" stroke-linecap="round"/>
<path d="M1398.2 2216.3h0M1398.2 2219.4h0M1398.2 2223.1h0M1398.2 2202.6h0" fill="none" stroke="#000" stroke-opacity="0.45" stroke-width="5.2" stroke-linecap="round"/>
<path d="M1398.2 2222.7h0M1398.2 2218.7h0M1398.2 2202.0h0M1398.2 2220.4h0" fill="none" stroke="#000" stroke-opacity="0.45" stroke-width="5.2" stroke-linecap="round"/>
<path d="M1398.2 2206.6h0M1398.2 2218.6h0M1398.2 2223.5h0M1398.2 2217.9h0" fill="none" stroke="#000" stroke-opacity="0.45" stroke-width="5.2" stroke-linecap="round"/>
<rect x="1395.6" y="2224.6" width="5.2" height="260.0" fill="#050505" />
<rect x="1377.0" y="2430.7" width="42.4" height="48.8" fill="#B060E0" stroke="#232a2a" stroke-width="1.8"/>
<line x1="1377.9" y1="2461.5" x2="1418.5" y2="2461.5" stroke="#283033" stroke-width="7.5" />
<line x1="1398.2" y1="2430.7" x2="1398.2" y2="2479.5" stroke="#000" stroke-width="5" />
<line x1="1377.2" y1="2357.8" x2="1419.2" y2="2357.8" stroke="#000" stroke-width="2.2" />
<line x1="1377.2" y1="2484.6" x2="1419.2" y2="2484.6" stroke="#000" stroke-width="2.2" />
<path d="M1454.8 2195.5h0M1454.8 2202.6h0M1454.8 2204.1h0M1454.8 2204.4h0M1454.8 2219.0h0" fill="none" stroke="#000" stroke-opacity="0.45" stroke-width="5.2" stroke-linecap="round"/>
<path d="M1454.8 2212.0h0M1454.8 2201.4h0M1454.8 2200.3h0M1454.8 2209.0h0M1454.8 2208.5h0" fill="none" stroke="#000" stroke-opacity="0.45" stroke-width="5.2" stroke-linecap="round"/>
<path d="M1454.8 2219.5h0M1454.8 2200.3h0M1454.8 2201.9h0M1454.8 2200.9h0" fill="none" stroke="#000" stroke-opacity="0.45" stroke-width="5.2" stroke-linecap="round"/>
<path d="M1454.8 2204.9h0M1454.8 2206.8h0M1454.8 2198.0h0M1454.8 2208.4h0" fill="none" stroke="#000" stroke-opacity="0.45" stroke-width="5.2" stroke-linecap="round"/>
<path d="M1454.8 2214.7h0M1454.8 2211.5h0M1454.8 2201.2h0M1454.8 2207.5h0" fill="none" stroke="#000" stroke-opacity="0.45" stroke-width="5.2" stroke-linecap="round"/>
<rect x="1452.2" y="2219.5" width="5.2" height="265.1" fill="#050505" />
<rect x="1433.6" y="2423.0" width="42.4" height="52.4" fill="#F040E0" stroke="#232a2a" stroke-width="1.8"/>
<line x1="1434.5" y1="2448.7" x2="1475.1" y2="2448.7" stroke="#283033" stroke-width="7.5" />
<line x1="1454.8" y1="2423.0" x2="1454.8" y2="2475.4" stroke="#000" stroke-width="5" />
<line x1="1433.8" y1="2343.9" x2="1475.8" y2="2343.9" stroke="#000" stroke-width="2.2" />
<line x1="1433.8" y1="2484.6" x2="1475.8" y2="2484.6" stroke="#000" stroke-width="2.2" />
<rect x="864.2" y="2181.6" width="615.8" height="317.4" fill="none" stroke="#000" stroke-width="3.4"/>
<line x1="857.2" y1="2202.2" x2="864.2" y2="2202.2" stroke="#333" stroke-width="2.2" />
<text x="856.0" y="2210.2" font-size="23" fill="#3E3E3E" text-anchor="end" textLength="59.5" lengthAdjust="spacingAndGlyphs" stroke="#3E3E3E" stroke-width="0.35">30000</text>
<line x1="857.2" y1="2297.7" x2="864.2" y2="2297.7" stroke="#333" stroke-width="2.2" />
<text x="856.0" y="2305.7" font-size="23" fill="#3E3E3E" text-anchor="end" textLength="59.5" lengthAdjust="spacingAndGlyphs" stroke="#3E3E3E" stroke-width="0.35">20000</text>
<line x1="857.2" y1="2393.2" x2="864.2" y2="2393.2" stroke="#333" stroke-width="2.2" />
<text x="856.0" y="2401.2" font-size="23" fill="#3E3E3E" text-anchor="end" textLength="59.5" lengthAdjust="spacingAndGlyphs" stroke="#3E3E3E" stroke-width="0.35">10000</text>
<line x1="857.2" y1="2488.2" x2="864.2" y2="2488.2" stroke="#333" stroke-width="2.2" />
<text x="856.0" y="2496.2" font-size="23" fill="#3E3E3E" text-anchor="end" textLength="11.9" lengthAdjust="spacingAndGlyphs" stroke="#3E3E3E" stroke-width="0.35">0</text>
<text x="889.6" y="2518.8" font-size="23.5" fill="#3E3E3E" text-anchor="middle" textLength="22.7" lengthAdjust="spacingAndGlyphs" >60</text>
<text transform="translate(899.4,2538.0) scale(1,1.08) rotate(-45)" font-size="20.5" fill="#262626" text-anchor="end" textLength="77.2" lengthAdjust="spacingAndGlyphs" >PS19-fE3</text>
<text x="946.2" y="2518.8" font-size="23.5" fill="#3E3E3E" text-anchor="middle" textLength="34.1" lengthAdjust="spacingAndGlyphs" >129</text>
<text transform="translate(956.0,2538.0) scale(1,1.08) rotate(-45)" font-size="20.5" fill="#262626" text-anchor="end" textLength="77.2" lengthAdjust="spacingAndGlyphs" >PS19-fE4</text>
<text x="1002.9" y="2518.8" font-size="23.5" fill="#3E3E3E" text-anchor="middle" textLength="34.1" lengthAdjust="spacingAndGlyphs" >154</text>
<text transform="translate(1012.7,2538.0) scale(1,1.08) rotate(-45)" font-size="20.5" fill="#262626" text-anchor="end" textLength="77.2" lengthAdjust="spacingAndGlyphs" >PS19-fE4</text>
<text x="1059.5" y="2518.8" font-size="23.5" fill="#3E3E3E" text-anchor="middle" textLength="34.1" lengthAdjust="spacingAndGlyphs" >156</text>
<text transform="translate(1069.3,2538.0) scale(1,1.08) rotate(-45)" font-size="20.5" fill="#262626" text-anchor="end" textLength="77.2" lengthAdjust="spacingAndGlyphs" >PS19-fE4</text>
<text x="1116.2" y="2518.8" font-size="23.5" fill="#3E3E3E" text-anchor="middle" textLength="34.1" lengthAdjust="spacingAndGlyphs" >267</text>
<text transform="translate(1109.0,2537.0) scale(1,1.08) rotate(-45)" font-size="20.5" fill="#262626" text-anchor="end" textLength="77.2" lengthAdjust="spacingAndGlyphs" >PS19-fE4</text>
<text transform="translate(1132.0,2539.0) scale(1,1.08) rotate(-45)" font-size="20.5" fill="#262626" text-anchor="end" textLength="76.2" lengthAdjust="spacingAndGlyphs" >Syn1-Cre</text>
<text x="1172.8" y="2518.8" font-size="23.5" fill="#3E3E3E" text-anchor="middle" textLength="34.1" lengthAdjust="spacingAndGlyphs" >287</text>
<text transform="translate(1165.6,2537.0) scale(1,1.08) rotate(-45)" font-size="20.5" fill="#262626" text-anchor="end" textLength="77.2" lengthAdjust="spacingAndGlyphs" >PS19-fE4</text>
<text transform="translate(1188.6,2539.0) scale(1,1.08) rotate(-45)" font-size="20.5" fill="#262626" text-anchor="end" textLength="76.2" lengthAdjust="spacingAndGlyphs" >Syn1-Cre</text>
<text x="1229.4" y="2518.8" font-size="23.5" fill="#3E3E3E" text-anchor="middle" textLength="34.1" lengthAdjust="spacingAndGlyphs" >305</text>
<text transform="translate(1222.2,2537.0) scale(1,1.08) rotate(-45)" font-size="20.5" fill="#262626" text-anchor="end" textLength="77.2" lengthAdjust="spacingAndGlyphs" >PS19-fE4</text>
<text transform="translate(1245.2,2539.0) scale(1,1.08) rotate(-45)" font-size="20.5" fill="#262626" text-anchor="end" textLength="76.2" lengthAdjust="spacingAndGlyphs" >Syn1-Cre</text>
<text x="1286.1" y="2518.8" font-size="23.5" fill="#3E3E3E" text-anchor="middle" textLength="34.1" lengthAdjust="spacingAndGlyphs" >413</text>
<text transform="translate(1295.9,2538.0) scale(1,1.08) rotate(-45)" font-size="20.5" fill="#262626" text-anchor="end" textLength="77.2" lengthAdjust="spacingAndGlyphs" >PS19-fE4</text>
<text x="1342.7" y="2518.8" font-size="23.5" fill="#3E3E3E" text-anchor="middle" textLength="34.1" lengthAdjust="spacingAndGlyphs" >464</text>
<text transform="translate(1352.5,2538.0) scale(1,1.08) rotate(-45)" font-size="20.5" fill="#262626" text-anchor="end" textLength="77.2" lengthAdjust="spacingAndGlyphs" >PS19-fE3</text>
<text x="1399.4" y="2518.8" font-size="23.5" fill="#3E3E3E" text-anchor="middle" textLength="34.1" lengthAdjust="spacingAndGlyphs" >478</text>
<text transform="translate(1409.2,2538.0) scale(1,1.08) rotate(-45)" font-size="20.5" fill="#262626" text-anchor="end" textLength="77.2" lengthAdjust="spacingAndGlyphs" >PS19-fE3</text>
<text x="1456.0" y="2518.8" font-size="23.5" fill="#3E3E3E" text-anchor="middle" textLength="34.1" lengthAdjust="spacingAndGlyphs" >504</text>
<text transform="translate(1448.8,2537.0) scale(1,1.08) rotate(-45)" font-size="20.5" fill="#262626" text-anchor="end" textLength="77.2" lengthAdjust="spacingAndGlyphs" >PS19-fE4</text>
<text transform="translate(1471.8,2539.0) scale(1,1.08) rotate(-45)" font-size="20.5" fill="#262626" text-anchor="end" textLength="76.2" lengthAdjust="spacingAndGlyphs" >Syn1-Cre</text>
<text x="999.8" y="2636.0" font-size="30" textLength="336.4" lengthAdjust="spacingAndGlyphs" >Mouse Number &amp; Genotype</text>
<text transform="translate(786.5,2340.7) rotate(-90)" font-size="30" text-anchor="middle" textLength="169.5" lengthAdjust="spacingAndGlyphs">Average nUMI</text>
</svg>
</body></html>
